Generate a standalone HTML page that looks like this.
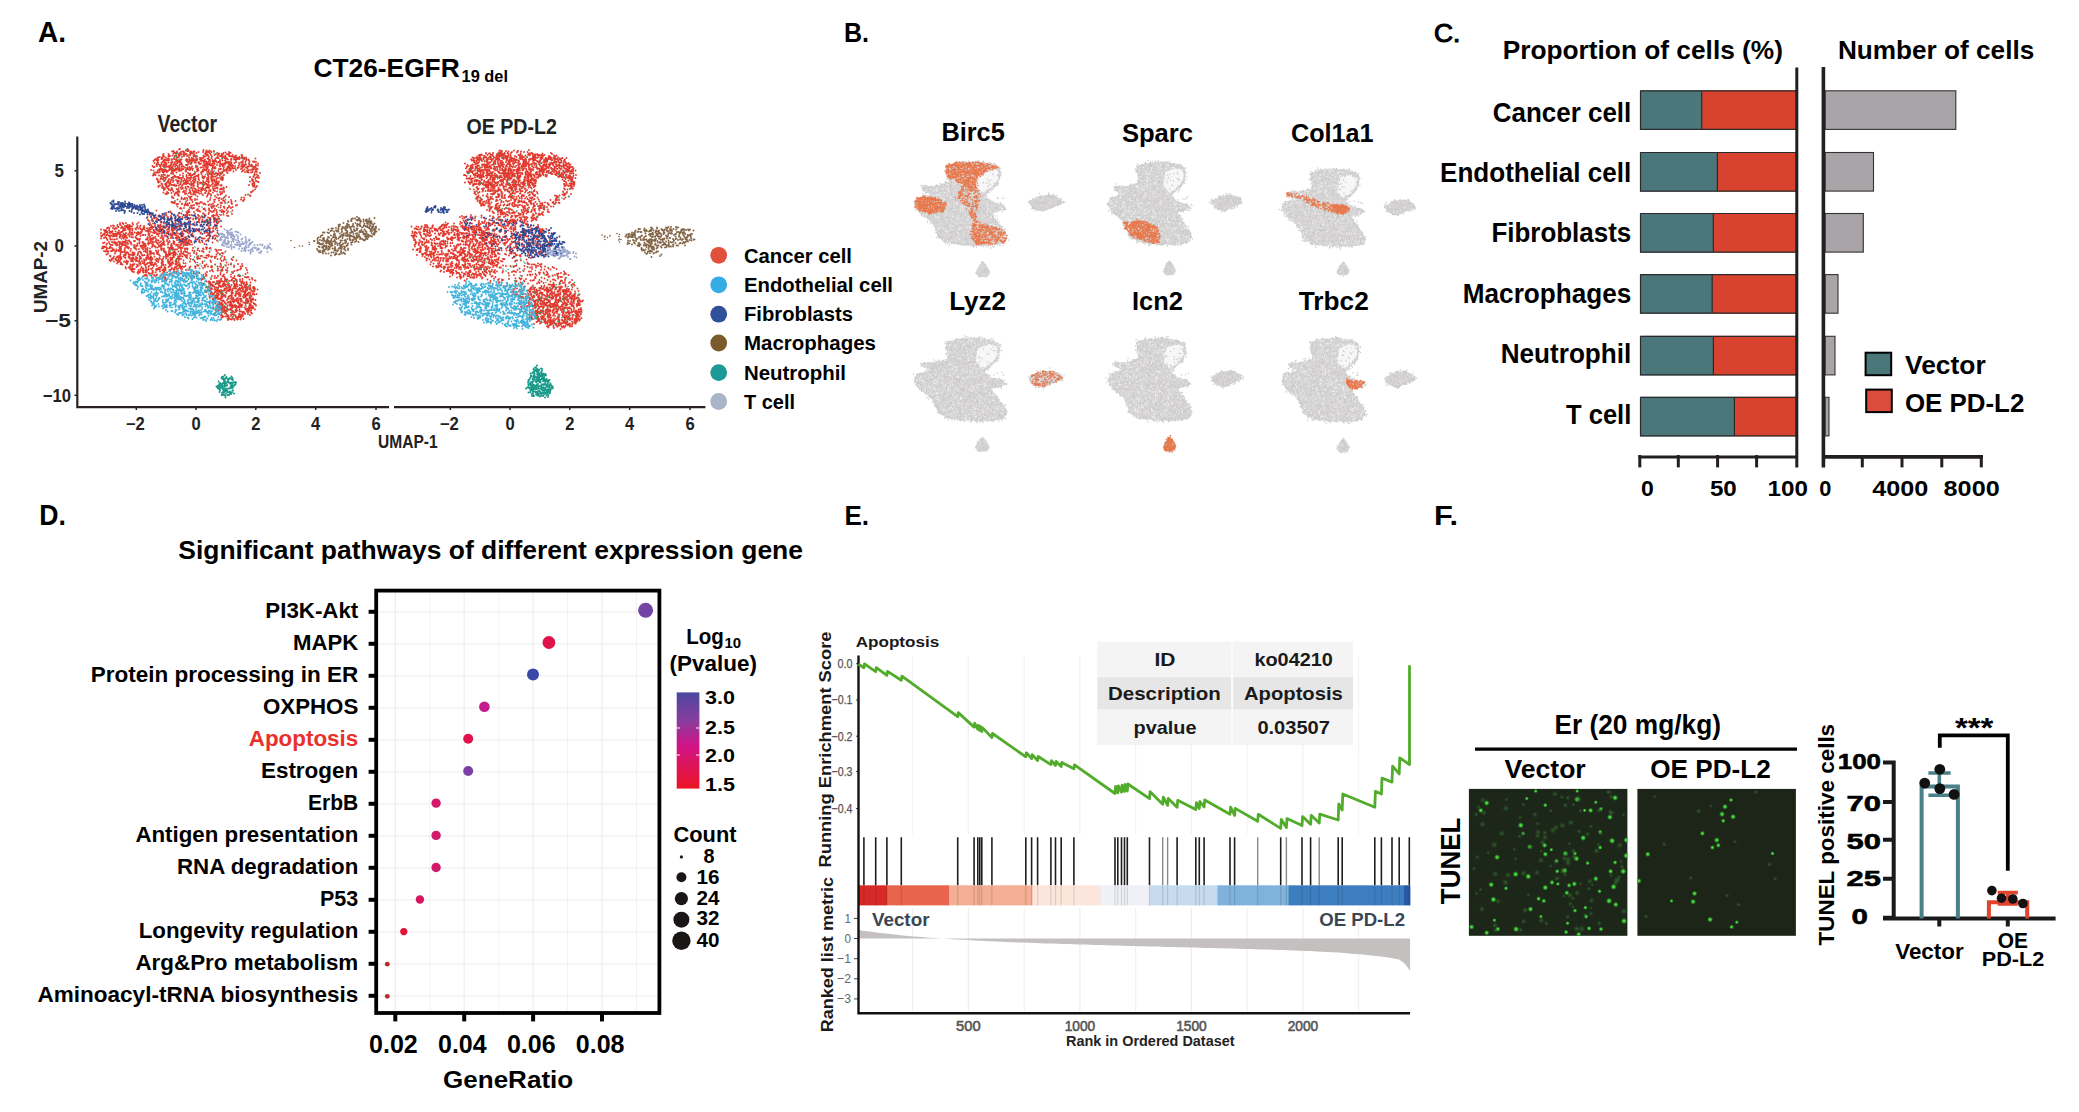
<!DOCTYPE html>
<html><head><meta charset="utf-8"><style>
html,body{margin:0;padding:0;background:#fff;}
svg{display:block;}
text{font-family:"Liberation Sans",sans-serif;}
</style></head><body>
<svg width="2079" height="1112" viewBox="0 0 2079 1112">
<rect width="2079" height="1112" fill="#fff"/>
<text x="38.0" y="42.2" font-size="30.23" font-weight="bold" fill="#000" textLength="28.0" lengthAdjust="spacingAndGlyphs">A.</text>
<text x="313.5" y="77.0" font-size="26.60" font-weight="bold" fill="#000" textLength="146.2" lengthAdjust="spacingAndGlyphs">CT26-EGFR</text>
<text x="461.6" y="81.7" font-size="16.72" font-weight="bold" fill="#000" textLength="46.4" lengthAdjust="spacingAndGlyphs">19 del</text>
<text x="157.5" y="132.3" font-size="23.26" font-weight="bold" fill="#222" textLength="59.5" lengthAdjust="spacingAndGlyphs">Vector</text>
<text x="466.4" y="133.7" font-size="21.80" font-weight="bold" fill="#222" textLength="90.4" lengthAdjust="spacingAndGlyphs">OE PD-L2</text>
<path d="M77.3 136.6V407.2H389M394 407.2H705.4" stroke="#2a2222" stroke-width="2.2" fill="none"/>
<line x1="74.5" y1="170.8" x2="77.3" y2="170.8" stroke="#2a2222" stroke-width="1.5"/>
<text x="54.6" y="177.0" font-size="18.02" font-weight="bold" fill="#222" textLength="9.4" lengthAdjust="spacingAndGlyphs">5</text>
<line x1="74.5" y1="246.0" x2="77.3" y2="246.0" stroke="#2a2222" stroke-width="1.5"/>
<text x="54.6" y="252.2" font-size="18.02" font-weight="bold" fill="#222" textLength="9.4" lengthAdjust="spacingAndGlyphs">0</text>
<line x1="74.5" y1="320.7" x2="77.3" y2="320.7" stroke="#2a2222" stroke-width="1.5"/>
<text x="45.0" y="326.9" font-size="18.02" font-weight="bold" fill="#222" textLength="26.0" lengthAdjust="spacingAndGlyphs">−5</text>
<line x1="74.5" y1="395.3" x2="77.3" y2="395.3" stroke="#2a2222" stroke-width="1.5"/>
<text x="42.7" y="401.5" font-size="18.02" font-weight="bold" fill="#222" textLength="28.3" lengthAdjust="spacingAndGlyphs">−10</text>
<line x1="136.3" y1="407.2" x2="136.3" y2="410.0" stroke="#2a2222" stroke-width="1.5"/>
<text x="125.8" y="430.0" font-size="17.44" font-weight="bold" fill="#222" textLength="19.0" lengthAdjust="spacingAndGlyphs">−2</text>
<line x1="196.0" y1="407.2" x2="196.0" y2="410.0" stroke="#2a2222" stroke-width="1.5"/>
<text x="191.4" y="430.0" font-size="17.44" font-weight="bold" fill="#222" textLength="9.2" lengthAdjust="spacingAndGlyphs">0</text>
<line x1="255.8" y1="407.2" x2="255.8" y2="410.0" stroke="#2a2222" stroke-width="1.5"/>
<text x="251.2" y="430.0" font-size="17.44" font-weight="bold" fill="#222" textLength="9.2" lengthAdjust="spacingAndGlyphs">2</text>
<line x1="315.7" y1="407.2" x2="315.7" y2="410.0" stroke="#2a2222" stroke-width="1.5"/>
<text x="311.1" y="430.0" font-size="17.44" font-weight="bold" fill="#222" textLength="9.2" lengthAdjust="spacingAndGlyphs">4</text>
<line x1="376.0" y1="407.2" x2="376.0" y2="410.0" stroke="#2a2222" stroke-width="1.5"/>
<text x="371.4" y="430.0" font-size="17.44" font-weight="bold" fill="#222" textLength="9.2" lengthAdjust="spacingAndGlyphs">6</text>
<line x1="450.3" y1="407.2" x2="450.3" y2="410.0" stroke="#2a2222" stroke-width="1.5"/>
<text x="439.8" y="430.0" font-size="17.44" font-weight="bold" fill="#222" textLength="19.0" lengthAdjust="spacingAndGlyphs">−2</text>
<line x1="510.0" y1="407.2" x2="510.0" y2="410.0" stroke="#2a2222" stroke-width="1.5"/>
<text x="505.4" y="430.0" font-size="17.44" font-weight="bold" fill="#222" textLength="9.2" lengthAdjust="spacingAndGlyphs">0</text>
<line x1="569.8" y1="407.2" x2="569.8" y2="410.0" stroke="#2a2222" stroke-width="1.5"/>
<text x="565.2" y="430.0" font-size="17.44" font-weight="bold" fill="#222" textLength="9.2" lengthAdjust="spacingAndGlyphs">2</text>
<line x1="629.7" y1="407.2" x2="629.7" y2="410.0" stroke="#2a2222" stroke-width="1.5"/>
<text x="625.1" y="430.0" font-size="17.44" font-weight="bold" fill="#222" textLength="9.2" lengthAdjust="spacingAndGlyphs">4</text>
<line x1="690.0" y1="407.2" x2="690.0" y2="410.0" stroke="#2a2222" stroke-width="1.5"/>
<text x="685.4" y="430.0" font-size="17.44" font-weight="bold" fill="#222" textLength="9.2" lengthAdjust="spacingAndGlyphs">6</text>
<text x="378.0" y="448.0" font-size="18.17" font-weight="bold" fill="#222" textLength="59.6" lengthAdjust="spacingAndGlyphs">UMAP-1</text>
<text transform="translate(46.5 313) rotate(-90)" font-size="17.5" font-weight="bold" fill="#222" textLength="72" lengthAdjust="spacingAndGlyphs">UMAP-2</text>
<path d="M172 151.5h0m1.5-0.5h0m0.5 1h0m1 1h0m1.5-0.5h0m0.5-1h0m2-2h0m1-0.5h0m0.5 3.5h0m0.5-0.5h0m1.5-0.5h0m1 0h0m0.5 0.5h0m0.5 0.5h0m0 0h0m1.5-2h0m1.5 0.5h0m0-2h0m1 1h0m0 1h0m2 0.5h0m1 0.5h0m2-0.5h0m0 1h0m1-1h0m4 0.5h0m4.5 0h0m0.5-2h0m0 0.5h0m2.5 1.5h0m0 0.5h0m0.5-2h0m0.5 2h0m1-1h0m1 1h0m0.5-2h0m1.5 1h0m0.5 0.5h0m2.5-0.5h0m0-0.5h0m11.5 1.5h0m3.5-0.5h0m0.5 1h0m0-0.5h0m-72 5h0m0 1h0m0.5 0h0m0-0.5h0m1.5-1h0m2 0.5h0m0 1.5h0m1-0.5h0m0.5-2h0m0-1.5h0m0.5-1h0m1 2.5h0m1.5 1.5h0m2 0.5h0m0.5-3h0m0-1.5h0m0 2.5h0m1-1h0m0.5 0.5h0m2.5-0.5h0m1-2h0m0.5 4.5h0m0.5-2h0m1.5-2.5h0m0 0.5h0m0 1.5h0m0.5 2.5h0m0 0h0m0 0h0m0-1.5h0m1-3.5h0m0.5 4.5h0m0.5-2.5h0m0 2h0m0.5-0.5h0m0.5-3h0m0.5 0h0m0 1.5h0m0.5-1h0m1 0.5h0m0.5 2.5h0m1.5-3.5h0m0 1.5h0m0.5 1h0m1-1.5h0m1-0.5h0m0.5 5h0m0-5h0m0.5 2h0m1-0.5h0m0 0h0m1 2h0m1-4.5h0m0 1.5h0m0 1h0m1-2h0m0.5 4.5h0m0.5-4.5h0m1 5h0m0-5h0m0.5 3h0m0-0.5h0m0.5 0.5h0m0.5-2h0m0.5 1h0m1 3.5h0m0-2h0m0.5-4h0m0.5 3.5h0m0.5 2.5h0m2.5-1h0m1 0.5h0m1-0.5h0m1 0h0m0.5-2.5h0m0 1.5h0m1.5-0.5h0m0-3h0m0.5 0.5h0m1 1.5h0m1-1h0m0 4h0m0.5-3h0m0.5 3.5h0m0.5-2h0m1-3.5h0m1 1.5h0m0.5 3h0m0.5-1.5h0m2.5-1.5h0m1 3.5h0m0.5-4.5h0m1 4h0m0 0h0m0.5-1.5h0m0.5-3h0m0 2h0m0-1h0m0 1h0m0.5 2.5h0m0.5-4.5h0m0 0.5h0m1 2h0m1 0h0m0.5-2h0m0.5 2.5h0m0 2h0m0-3.5h0m0.5 2.5h0m0.5-3.5h0m0.5 2.5h0m0-3.5h0m1 5h0m0.5-1.5h0m0.5-1h0m0 0.5h0m0 2h0m0 0.5h0m1-0.5h0m0.5-4h0m1 0.5h0m1 1.5h0m0-2h0m0 0.5h0m1 1.5h0m0.5-3h0m0.5 6h0m0.5-2.5h0m0 2.5h0m0.5-2.5h0m0.5-1.5h0m1 2h0m0.5 0.5h0m0.5-1h0m0 1.5h0m0 0.5h0m1-1h0m0.5 0.5h0m0-2.5h0m1 3h0m0 0.5h0m0-1.5h0m1 1.5h0m0.5-0.5h0m0-0.5h0m1 1h0m0-1.5h0m0-0.5h0m2 1h0m0-3h0m0.5 1.5h0m0 0h0m0-1.5h0m1 2.5h0m0 0.5h0m1 0h0m0.5 0h0m0 1h0m1.5-1.5h0m0 0h0m9.5 1h0m-102 2.5h0m1 2h0m0-3h0m1-1h0m1 1h0m0.5 3.5h0m0-3h0m0.5 1h0m0.5 2.5h0m0 0h0m0-1.5h0m0.5-2.5h0m0 0h0m1 5h0m2-2h0m0 1.5h0m1-2.5h0m1 2.5h0m0-4h0m0.5 0.5h0m0.5-1.5h0m0 2h0m0 0.5h0m0-2h0m0.5 3.5h0m1 1.5h0m0-2.5h0m0-2.5h0m0.5 4h0m0-4h0m1.5 0.5h0m0.5 2h0m0.5-2.5h0m1.5 5h0m0.5-2.5h0m0.5 2h0m0-1h0m0-4h0m0 0.5h0m0.5-0.5h0m0.5 0h0m0 2.5h0m1 2.5h0m1-2h0m0-3.5h0m0.5 5h0m1-4h0m0 1.5h0m0 3.5h0m1-4.5h0m0 3h0m0-3.5h0m0.5 1h0m0.5 1.5h0m0.5-0.5h0m0.5-1h0m0.5 0h0m0 4h0m0-3h0m0.5-1h0m0 3.5h0m0-2h0m0-3h0m0.5 1.5h0m0-0.5h0m1 3h0m0-0.5h0m0-3.5h0m0.5 5h0m4-4.5h0m0.5 1h0m0 0h0m0.5 4h0m0.5 0h0m0-5.5h0m0 1.5h0m0.5 1.5h0m0 2h0m0.5-2h0m1-1h0m0-0.5h0m0-1.5h0m0 1h0m1 3h0m0 0.5h0m0.5-4h0m0 4h0m0.5-1.5h0m0-1h0m0 2h0m0.5-2h0m0-1.5h0m1 0.5h0m1-1h0m0.5 1h0m0 2h0m1-2h0m0.5 2h0m1-2h0m0.5-1.5h0m1 4h0m0.5-1h0m0 0.5h0m0.5 1.5h0m0.5-4.5h0m0 4.5h0m0.5-4.5h0m0.5 1.5h0m0 2.5h0m0-3h0m0-1h0m1 1h0m0.5 0h0m0 0h0m1 1.5h0m0-0.5h0m0.5 1.5h0m0-2h0m0-0.5h0m0.5 4.5h0m0-0.5h0m0.5-5h0m0.5 2h0m0.5 2h0m0.5 0h0m0-2h0m1 2h0m0-0.5h0m0.5-0.5h0m1-1.5h0m0 3h0m0.5-4h0m0.5 3h0m0-3h0m0 1.5h0m2 2.5h0m0.5-3h0m0-1h0m0.5 3h0m0.5-0.5h0m0-1.5h0m1 1h0m0 2h0m0.5-4h0m1 1h0m1 4h0m0-2.5h0m1 0h0m0.5-0.5h0m1.5-1h0m0-1h0m0 3h0m0-1h0m1 2h0m1.5-3.5h0m0 4h0m0.5-1h0m0.5 0.5h0m1.5-3.5h0m0 4h0m0 0h0m0 0h0m0-1.5h0m1-1.5h0m0.5 1.5h0m0-1h0m0.5-3h0m1 3h0m0-2.5h0m0.5 4h0m0.5-1.5h0m0 2.5h0m0.5 0.5h0m0-2.5h0m0.5 2.5h0m0.5-2h0m0.5 2h0m0-5h0m0 2h0m0.5 1h0m2.5-3.5h0m0.5 3.5h0m1-3.5h0m0.5 2.5h0m0-1h0m3 2h0m0.5 1.5h0m1.5-2h0m0.5 0h0m0-0.5h0m0.5 2.5h0m1-2h0m0 2h0m0-4h0m2.5 1h0m0 0.5h0m0 2h0m0.5 0.5h0m0.5-4.5h0m0-1h0m2 0.5h0m0.5 3.5h0m0-2.5h0m0 3h0m0.5-2h0m2 3h0m1.5-3h0m1 0.5h0m0.5-0.5h0m1.5 0.5h0m0 2.5h0m0-2.5h0m2 1.5h0m-107 6.5h0m1.5-4h0m1 1h0m0 3.5h0m1-3.5h0m2-1.5h0m0-0.5h0m0.5 1h0m0.5 4.5h0m1.5-1h0m0.5 1h0m0.5-4.5h0m0 3h0m0.5-3.5h0m0 1.5h0m0.5 1.5h0m0 0.5h0m0.5 0.5h0m0.5 1h0m0-1.5h0m0.5 0.5h0m0.5 0h0m0-3.5h0m1-0.5h0m0 1.5h0m0-1h0m0 4h0m0-5h0m0.5 5h0m0 0.5h0m1-0.5h0m0-0.5h0m0 1h0m0-4.5h0m0.5 1h0m0 3.5h0m0.5 0h0m0 0h0m1-4h0m0.5 4.5h0m0 0h0m1-4h0m0 3h0m0-4h0m0.5 2h0m0 1.5h0m0.5-3h0m0.5 1.5h0m0 0.5h0m0.5 0.5h0m0.5 1.5h0m0-1.5h0m0.5 1h0m0-3h0m0.5 3.5h0m0.5-2h0m0 1.5h0m0-4h0m1.5 4h0m0.5-3.5h0m0.5 2h0m0.5 1.5h0m0 0h0m0.5-1h0m1-3h0m0 1h0m0 0.5h0m0.5 2h0m1-1.5h0m0 0h0m0.5-0.5h0m0-2h0m0 3.5h0m0.5 1.5h0m0-1.5h0m1.5 1.5h0m0-4h0m0.5 3h0m0-1h0m0 1h0m1-3h0m0.5 2.5h0m0-2.5h0m1.5 1h0m0.5 3.5h0m0.5-1.5h0m0-4.5h0m0.5 4.5h0m0.5-1.5h0m0.5-0.5h0m0.5 1.5h0m0.5 0.5h0m1-0.5h0m0-2h0m0.5 3h0m0.5-1h0m0.5-1h0m1-1.5h0m0.5 2.5h0m0 1h0m0.5-1.5h0m3-1.5h0m0 0.5h0m0-1h0m0-1h0m1 4h0m0.5-3h0m0.5 2h0m0 1.5h0m0.5 0.5h0m2-3h0m1.5 0h0m1-2h0m0 4.5h0m1-2h0m0-2h0m0.5 4h0m0.5-4.5h0m0 4.5h0m1-5h0m0 2h0m0 3h0m0.5-1h0m0 1h0m0-2h0m0 0.5h0m1-3h0m0 3h0m0-3.5h0m0.5 2h0m0.5 3.5h0m0.5-0.5h0m0.5-5h0m1 0h0m0 0.5h0m0.5-0.5h0m1 4h0m0.5 1.5h0m0-3.5h0m0-1h0m0.5 0h0m0.5-0.5h0m0 2.5h0m1.5 0.5h0m0-1.5h0m0.5 1h0m3.5 1h0m0.5-3.5h0m0.5-0.5h0m0 1.5h0m0.5 2.5h0m0.5 0h0m1-4h0m1 1.5h0m0-0.5h0m0.5 3h0m0-4h0m0.5 2h0m0 3h0m0.5 0.5h0m0.5 0h0m0.5-0.5h0m0.5 0.5h0m0.5-2h0m1-2h0m0 3h0m0 0h0m0.5-2h0m1-1.5h0m0 4.5h0m0.5-2h0m0-1.5h0m0.5 0.5h0m0 0h0m0.5 3h0m0.5-1.5h0m0.5-2.5h0m0.5-1.5h0m0.5 3h0m0.5 0.5h0m0-3h0m0 0.5h0m0.5 2.5h0m1.5-0.5h0m0-2h0m1 4h0m1.5-2h0m1-2h0m0 0h0m0 1.5h0m2.5 1.5h0m0-2.5h0m1 0.5h0m0 1.5h0m0.5-2.5h0m0.5-1h0m0 1.5h0m0 4h0m0.5-4h0m0 0.5h0m0.5-2h0m0.5 1h0m0 3.5h0m1.5-2h0m1 3h0m0.5-2h0m0-2h0m1.5 0h0m0 3.5h0m0-4h0m0.5-1h0m1.5 5h0m0-4h0m0.5 0.5h0m0 3h0m0.5-4h0m0.5 0.5h0m0.5 4h0m0-1h0m0-2.5h0m0.5 2.5h0m0-1h0m1-1h0m0.5 2h0m0.5-2.5h0m0 0.5h0m0.5 3.5h0m0-5h0m0.5 4h0m0.5-1h0m0.5 0.5h0m0.5-3.5h0m-105 10h0m0.5-1.5h0m0 1h0m0.5-1.5h0m1-1h0m0 2.5h0m0.5 0h0m0.5-2.5h0m1 0h0m1 0h0m0 0h0m1 3h0m0-3h0m1-1h0m1 5.5h0m0.5-1.5h0m0-0.5h0m1-3h0m0.5-1h0m0 5.5h0m0.5-4h0m0 2h0m0.5-2.5h0m1 3h0m1-3.5h0m1 0.5h0m0.5-0.5h0m0 4h0m0 1h0m1.5-1h0m2-2h0m1-1.5h0m0.5-0.5h0m0.5 2.5h0m0-1.5h0m0 4.5h0m0-3.5h0m1.5 3h0m0-1h0m0-4.5h0m0.5 5h0m0 0h0m1 1h0m0.5-4.5h0m2.5-1.5h0m1 4h0m3-1.5h0m0 2.5h0m3-4.5h0m0.5 3.5h0m0 1h0m0 0.5h0m1.5-3.5h0m1 2.5h0m0.5-1.5h0m1-0.5h0m0 1.5h0m0.5 1h0m1.5-1h0m0.5-0.5h0m1-0.5h0m0.5 3h0m0.5-4.5h0m0 4h0m0-2.5h0m1.5 2h0m0.5-4.5h0m0 4.5h0m1-0.5h0m0.5-1h0m0 1h0m2.5-3h0m0.5 0h0m0 1h0m0 0.5h0m0.5-2.5h0m0.5 4.5h0m1-4.5h0m0 5.5h0m1.5-0.5h0m2-4.5h0m0.5 2h0m0.5 1.5h0m0.5-4h0m0 5h0m0.5-2.5h0m0-1.5h0m1.5 1.5h0m0.5-2.5h0m0.5 4h0m0 1h0m0.5-1.5h0m0-1.5h0m0 1.5h0m1-1.5h0m0 3h0m0 0.5h0m0-5h0m1 4.5h0m0-3h0m0.5 0.5h0m1 2.5h0m0.5-3.5h0m1 0.5h0m0 2h0m1-1.5h0m0.5-0.5h0m0 0.5h0m0-3h0m1 4.5h0m0.5-2.5h0m1-0.5h0m0 2h0m1.5-1.5h0m0 0h0m0-1h0m1-1h0m0 4.5h0m0.5-0.5h0m3-3h0m0.5 1h0m6-1.5h0m8.5 0h0m3 0.5h0m2 0h0m0.5 0h0m0.5-0.5h0m0.5 1h0m0 0h0m1.5 4.5h0m1-4.5h0m1.5-0.5h0m1 4.5h0m1-2.5h0m0 1.5h0m0-1h0m0.5-2.5h0m1.5 2.5h0m0.5-2.5h0m1 3.5h0m2-2.5h0m0 0h0m-103 6.5h0m0-1h0m1 3.5h0m0-2h0m0.5 2.5h0m0-1h0m1.5 0h0m0.5-2.5h0m1-0.5h0m0 0h0m1.5 1h0m1-1.5h0m0 3h0m0.5 0h0m0.5-2.5h0m0.5-1h0m0 2h0m1-2h0m0.5 5h0m1-1.5h0m0.5 1h0m0 0.5h0m0-2.5h0m0.5-1h0m1.5 3h0m0-1h0m0.5-1h0m0.5-2h0m0.5 1.5h0m1 2.5h0m0.5-4h0m0 2.5h0m2.5-0.5h0m0 0h0m1 1h0m0.5-4h0m0.5 5h0m0-4h0m0 2.5h0m0.5-3.5h0m0.5 4h0m0-3h0m1 0h0m0 0.5h0m0.5 4.5h0m1-4h0m0 2.5h0m0-3.5h0m0 3.5h0m0-1h0m1.5-3h0m0.5 3.5h0m0.5 2h0m0.5-4h0m0 0h0m0 1h0m0.5 3h0m0.5-2h0m0.5 1h0m0.5-2h0m0.5-2h0m0.5 3.5h0m0-1h0m0.5 2.5h0m0-5h0m0.5 2.5h0m1-2.5h0m0 2.5h0m1-1h0m0-1h0m0.5 3.5h0m0.5-4.5h0m0 0h0m1.5 3h0m0 0.5h0m0.5-2h0m0-1.5h0m0 5.5h0m0 0h0m1-0.5h0m0-0.5h0m0.5-2h0m0.5-1.5h0m0 0.5h0m0 1.5h0m2 1.5h0m0.5 0h0m0.5-4.5h0m0 1.5h0m0.5 1h0m1 2.5h0m0.5 0h0m1.5 0.5h0m0.5-5.5h0m0.5 3.5h0m0.5 1.5h0m0-4h0m0.5-0.5h0m1 4.5h0m1.5-1.5h0m0.5-2h0m0-1h0m1 3.5h0m0.5-2.5h0m0 1h0m0-2h0m0 4.5h0m0.5-0.5h0m2-4h0m0-0.5h0m0.5 1h0m0 2h0m0-1h0m0.5 2h0m0-1h0m0.5 0.5h0m0-1h0m0.5 3h0m0.5-3h0m0-0.5h0m1 1.5h0m0-1.5h0m1 3h0m0.5-1h0m0.5-3h0m0 2h0m0.5 1.5h0m1-4h0m1 3.5h0m1.5-3h0m0-1h0m0.5 2h0m1-0.5h0m0-2h0m0.5 3h0m0.5-1h0m0-1h0m27 3.5h0m2-2.5h0m0 1.5h0m1-0.5h0m0 1h0m0.5 0.5h0m0-4.5h0m2 1h0m0 1h0m0.5 2h0m1-4h0m0.5 4.5h0m1 0.5h0m0-4h0m0.5-0.5h0m-100.5 8.5h0m0 1h0m1.5-1.5h0m1.5-2h0m0.5 1h0m0 3h0m0-3.5h0m0.5 2h0m0.5 0.5h0m0.5 2h0m0.5-0.5h0m1 1h0m0-5h0m0.5 1h0m0.5 2h0m0-3.5h0m0.5 0.5h0m0 1.5h0m1 2.5h0m0.5-1.5h0m1-0.5h0m0-0.5h0m0 3.5h0m0.5-4h0m0-1.5h0m1 0h0m1 1.5h0m0 3h0m0.5 0.5h0m1-3.5h0m1.5 0.5h0m0-1h0m1.5 1.5h0m0.5 3h0m0-3.5h0m1-2.5h0m0.5 0h0m0.5 6h0m0-3.5h0m1.5-1h0m0.5-0.5h0m0 3.5h0m1 1.5h0m0.5-3h0m0 2.5h0m0.5-3.5h0m0.5 3h0m0.5-4.5h0m1.5 0.5h0m0.5 4h0m0-1h0m0.5-3.5h0m0.5 0.5h0m0 5h0m1-2.5h0m0-3.5h0m1 4h0m1-3h0m1.5 1h0m0 2.5h0m0.5-4h0m0 4h0m0.5-2.5h0m0.5-0.5h0m0 4h0m1-5h0m0-0.5h0m0 3.5h0m0.5-1h0m0.5 3h0m1 0.5h0m2-5.5h0m0 2.5h0m0.5-1.5h0m0.5 3h0m0.5 0.5h0m1-4.5h0m1 4.5h0m1.5-4.5h0m0 0h0m0 4.5h0m0.5-1.5h0m0.5-1.5h0m0 4h0m1-4.5h0m1-1h0m0 5h0m0.5-1h0m0 0.5h0m0-0.5h0m0.5-3.5h0m0.5 1h0m0-0.5h0m0.5 1.5h0m0 1.5h0m0.5-1h0m0.5-2h0m0.5 4h0m0-1h0m1-2h0m0.5 0.5h0m1.5-1.5h0m1 2h0m0 2h0m1 0h0m0.5-4h0m0.5 1.5h0m0 2.5h0m1-3.5h0m0-2h0m0.5 4.5h0m0.5-2.5h0m0-1.5h0m0.5 4h0m0 1h0m1-4h0m0-1.5h0m2 2.5h0m0.5 3h0m0.5-3h0m0-0.5h0m1.5 4h0m0.5-1.5h0m0.5 1h0m2.5-1.5h0m22.5-2h0m3.5-1.5h0m0 1h0m0 1h0m1-2h0m0 3h0m1-1.5h0m0 1.5h0m0-3.5h0m0 3.5h0m1.5 1h0m1-1.5h0m-93.5 6.5h0m0.5-2.5h0m1.5 4h0m1 0h0m0.5-2h0m0 0.5h0m0.5 1h0m1-0.5h0m0-3h0m2 0.5h0m1-1h0m0 3.5h0m1-3h0m1 1.5h0m1 3.5h0m0.5-1.5h0m1-1h0m1 1h0m0.5-2h0m0 0.5h0m0.5-2.5h0m0 5.5h0m0-1.5h0m0 0.5h0m1-3h0m0.5 1h0m2-3h0m1.5 3h0m1-0.5h0m0-1h0m1 3.5h0m0-1h0m1-2h0m0.5 2.5h0m2.5-0.5h0m0.5-3.5h0m0.5 3h0m0-1.5h0m0.5 1.5h0m0.5 1.5h0m1.5-3.5h0m0.5 4h0m0.5-2.5h0m0 1.5h0m0-2h0m1 1h0m0 1h0m0-2h0m1-1h0m0.5-0.5h0m0 1.5h0m0.5 1h0m1.5 0h0m0-2.5h0m0 0.5h0m0.5 1h0m0.5-1h0m0.5 3h0m1.5-3.5h0m0 1.5h0m0.5-1.5h0m0-0.5h0m0 4h0m1-3.5h0m0 0h0m0.5 5h0m2-2h0m0-2.5h0m0.5 0h0m0 2.5h0m1-2h0m1.5 3h0m0.5-1h0m0.5-2h0m0.5 2.5h0m1-3.5h0m0 1h0m0.5 3.5h0m2-2h0m0.5-2.5h0m1.5 1h0m2 0.5h0m0.5 3h0m2.5-5h0m0 2.5h0m0.5 2.5h0m0-0.5h0m0.5 0h0m0-5h0m0.5 0h0m0.5 4.5h0m0-1.5h0m0.5-2.5h0m1.5 1.5h0m0 1h0m0-1h0m21.5 4h0m2.5-0.5h0m3-2.5h0m0 0.5h0m1.5-1h0m0.5-1h0m2-1h0m0 0h0m-83 8h0m0-1h0m1.5 1.5h0m4 1.5h0m1-4h0m0.5 0h0m2.5 3.5h0m0-1.5h0m2 1.5h0m1.5-1h0m0 1h0m2-1h0m0.5 2h0m1.5-3.5h0m1 1.5h0m0.5 0.5h0m0-1.5h0m0 2.5h0m1-3h0m0.5 3.5h0m3-1h0m0 1h0m0.5-5h0m1.5 4.5h0m0.5-3h0m9.5 0h0m0.5-1h0m2.5 4.5h0m0.5-2h0m0.5-2.5h0m3 4.5h0m1-4h0m0 3.5h0m1.5-2h0m1.5-2.5h0m0.5 3.5h0m0.5 2h0m0.5-2.5h0m2 1h0m1.5 1.5h0m0.5-2h0m1-1.5h0m1.5-1.5h0m3 1.5h0m2 3h0m4.5 1h0m5.5-1.5h0m0.5-2h0m1.5 3h0m0 0.5h0m0.5-0.5h0m0.5-3h0m0.5 2h0m5.5-4h0m0.5 0.5h0m-79 6h0m1 0.5h0m0.5-0.5h0m0 1h0m1.5 0h0m0.5-1h0m1.5 2h0m0 0.5h0m1 2h0m0.5-2.5h0m2-2.5h0m2 2.5h0m0-0.5h0m2.5 2h0m0.5-1h0m0.5-1h0m0.5-2h0m0.5 3.5h0m1-1.5h0m0 1h0m0.5 1h0m0-0.5h0m1.5-2h0m1.5 2.5h0m1.5 0h0m0-3.5h0m1.5 3h0m2-2h0m1 1.5h0m0-1.5h0m1 0.5h0m1 3h0m0.5-3h0m1-1.5h0m1.5 0.5h0m1.5 1.5h0m1-0.5h0m1 1h0m2.5-3h0m0.5 3.5h0m1-0.5h0m1.5 2h0m0.5-2h0m1.5 2.5h0m0-3.5h0m0 2.5h0m1 0h0m0-0.5h0m0 0.5h0m0.5-4h0m2 4h0m1.5-1.5h0m2.5-1.5h0m0.5 2.5h0m0-3h0m1 0.5h0m2 3.5h0m0.5-5.5h0m0.5 1h0m3.5 0h0m0.5 5h0m0-1h0m0.5 0.5h0m2-5h0m0 1.5h0m0-0.5h0m0.5 1.5h0m4 1.5h0m1-0.5h0m-80.5 5.5h0m9.5 2.5h0m4-1.5h0m1 1h0m0.5 0.5h0m8.5-4.5h0m0.5-0.5h0m1 0.5h0m2.5-0.5h0m2.5 4h0m1.5-1h0m0 1.5h0m0.5-2h0m0.5-1h0m0.5 2.5h0m0.5-4.5h0m1.5 0h0m1 1h0m1.5-0.5h0m0 4h0m2.5-2h0m1.5 1h0m0-2h0m1.5 2h0m0.5 0.5h0m3.5-2.5h0m1-0.5h0m0 0.5h0m1 1.5h0m3.5-0.5h0m0-1.5h0m0 0.5h0m0 3.5h0m1.5-1.5h0m1.5-3h0m0 4h0m0.5-0.5h0m1 0h0m0.5-1h0m0.5 0h0m0.5-2h0m1.5 1.5h0m0.5 2h0m3-1.5h0m0.5-3h0m1 4.5h0m0.5-2h0m0.5 1h0m0.5 0h0m0.5 0.5h0m0 1h0m0.5-5h0m0.5 0.5h0m0 3.5h0m2-1.5h0m1-2h0m0.5 3.5h0m3-3.5h0m1.5 2.5h0m0-3.5h0m-85 10h0m2-2.5h0m1.5 1.5h0m0.5-1.5h0m0.5 4h0m1-5h0m1 4.5h0m0.5-2h0m0.5 2h0m1-0.5h0m1.5 1h0m1-3h0m0 0.5h0m3 2h0m0 1h0m0.5-3h0m1 2h0m0.5-3.5h0m0.5 4.5h0m2-4.5h0m0.5 1h0m1 2h0m0.5-0.5h0m3 1h0m0-2h0m0.5 1h0m0 2h0m2.5-4.5h0m0 0.5h0m0 0.5h0m1.5 2h0m2-2h0m0.5-0.5h0m1 2h0m0.5-4h0m0.5 4h0m1.5-3.5h0m0 5.5h0m1-0.5h0m0-1.5h0m2.5-1.5h0m0.5-0.5h0m1 1.5h0m0.5 0.5h0m0-2h0m0-1.5h0m0.5 0.5h0m0 1h0m2 0h0m0.5 3.5h0m0.5-0.5h0m1-3h0m2 3.5h0m1.5-4.5h0m1 4.5h0m1-1h0m1-2.5h0m0.5 0.5h0m0 3h0m0.5-2.5h0m1.5 1.5h0m2-0.5h0m0.5-3.5h0m0.5 0h0m1 2.5h0m0-1.5h0m0.5 2h0m3 1h0m0.5-3.5h0m1 4h0m1 0h0m1.5-2h0m1-0.5h0m0.5-0.5h0m0 2h0m1 2h0m0.5-3.5h0m0 2.5h0m1.5-4.5h0m0 5.5h0m0.5-3.5h0m0-1h0m1.5 2h0m0 1.5h0m1 1h0m1.5-4h0m2.5-0.5h0m3.5 1h0m0-2.5h0m1.5 3h0m3.5-2h0m-112 9h0m0 1.5h0m2.5-1.5h0m1 1h0m2.5-1h0m1.5 2h0m2 0h0m3-2h0m0.5 1.5h0m4-0.5h0m1.5-1.5h0m9.5-2.5h0m1 1h0m1 2h0m1 2h0m0.5-4.5h0m1-0.5h0m0.5 3.5h0m2 0.5h0m1.5-4h0m4 4.5h0m0 0.5h0m0-3.5h0m1 1h0m2.5 1h0m0.5-4h0m1.5 5.5h0m0.5-0.5h0m1.5-4.5h0m0.5-0.5h0m0 4h0m3-2.5h0m0 4h0m1-2h0m1.5 1.5h0m0-0.5h0m1-3.5h0m0.5 0h0m0 2h0m3-3.5h0m0.5 3.5h0m1-2.5h0m0.5 3.5h0m1-4h0m1.5 4.5h0m2-0.5h0m0.5-0.5h0m0.5-3.5h0m1 4.5h0m2-3h0m0.5 3h0m1.5 0.5h0m2-5h0m1.5 3h0m3.5-0.5h0m1-1.5h0m0-0.5h0m0.5-0.5h0m0 3h0m1 2.5h0m1.5-4h0m0.5-1.5h0m0 2h0m1 0.5h0m1-1h0m1.5 0h0m0.5-1.5h0m0 5.5h0m1-2h0m0 1h0m0-0.5h0m0-3.5h0m0.5 1.5h0m1 2h0m0.5 0h0m0.5-2h0m0 1.5h0m0.5-3.5h0m0 0.5h0m0-0.5h0m0 3h0m3.5-1h0m0 0.5h0m0.5-2h0m0.5 4.5h0m0-3.5h0m0-0.5h0m1-0.5h0m1 3h0m0-3h0m0 5h0m0.5-5.5h0m0 1h0m0.5 2.5h0m1-1.5h0m-118 8h0m3 0.5h0m0.5 0.5h0m0.5 0.5h0m1-1h0m1-2h0m0.5 0h0m0.5-0.5h0m1 2.5h0m0.5-2h0m0 0h0m1.5-2h0m2 2h0m0-2.5h0m1 0.5h0m0.5 3h0m1-1h0m1 0.5h0m1-3.5h0m0 1.5h0m1 0.5h0m0.5 3.5h0m1.5-5.5h0m0.5 3h0m1-1.5h0m1 2h0m0 2h0m0-3h0m1 3h0m0.5-2h0m0 0.5h0m0 0.5h0m0.5-3.5h0m0.5 4h0m0-2.5h0m0.5-0.5h0m0.5-1h0m0.5 1.5h0m0.5 0h0m0.5-2h0m0 3.5h0m0.5-2.5h0m0.5 1.5h0m0 1.5h0m0.5-2h0m0.5 3h0m0-2.5h0m0 1.5h0m0.5-3h0m0-0.5h0m1.5 3h0m0-2.5h0m0 0h0m0.5 4h0m0-1.5h0m3-0.5h0m0.5 1h0m1-2h0m0.5-1.5h0m1 2.5h0m1.5-1.5h0m0.5-1.5h0m0 3.5h0m1.5 2h0m0-0.5h0m0-1h0m0.5 0h0m0.5-0.5h0m0.5-1.5h0m0.5-1.5h0m0 1.5h0m0.5 0h0m0 2h0m2.5-1h0m0.5 0h0m1 1.5h0m1-2h0m0-3h0m0 5.5h0m1-1h0m0.5-2.5h0m0.5 0h0m0-0.5h0m0 0.5h0m0.5 1.5h0m0.5-1h0m0-1h0m1 0.5h0m0 0h0m0 3h0m0.5 0.5h0m0.5 0h0m0.5-5h0m1 2h0m0 1.5h0m0.5-0.5h0m0 1h0m0-1.5h0m0.5 2.5h0m0.5 0h0m0.5-5.5h0m0.5 0.5h0m0.5 1.5h0m0 2.5h0m0.5 0.5h0m0-3.5h0m0.5-0.5h0m0 1.5h0m0 1h0m1 2.5h0m0-4.5h0m0 3h0m1-3h0m0.5 3h0m0-0.5h0m0-2.5h0m0.5 3h0m0 0.5h0m0.5 1h0m0-4.5h0m0 3.5h0m1.5-2.5h0m0.5 0.5h0m0.5-1h0m0.5-1.5h0m0.5 4.5h0m0-3.5h0m1 2.5h0m1-2.5h0m0 2h0m0 1h0m2.5-2h0m0 2.5h0m0-3h0m0.5 2h0m0 0h0m0 1h0m0-1.5h0m0.5-0.5h0m0-1h0m1 1h0m0 2h0m1.5-0.5h0m0-1.5h0m1-0.5h0m1 1h0m0.5-2h0m1 0h0m1 3h0m0.5 0h0m0-4h0m1 0.5h0m2.5 3.5h0m0 0.5h0m0.5 0.5h0m1.5-4h0m0.5 1h0m0 0h0m0.5 2.5h0m1.5 0h0m0 0.5h0m1-1.5h0m1-2h0m4.5 3h0m0.5-4.5h0m0.5 4h0m1-0.5h0m1.5 1h0m0.5-0.5h0m4-3h0m0.5-0.5h0m3 4.5h0m0.5 0h0m0.5-5h0m0.5 4h0m1-1h0m0.5-1h0m0-1.5h0m0.5 2.5h0m1 0h0m2.5 0h0m0 2.5h0m0.5 0h0m0 0h0m0-4h0m2-0.5h0m0 2.5h0m0.5-3h0m1 2h0m4-1.5h0m-120 9h0m0-2.5h0m0.5 3.5h0m0.5-0.5h0m1-1.5h0m0.5 0h0m1-1h0m0 1.5h0m0-1.5h0m0.5-2h0m0.5 0h0m0.5 1h0m0.5 2.5h0m0.5-3.5h0m0.5 3h0m0-2h0m1 3h0m0 0h0m1-3.5h0m0 0h0m0 4h0m0.5-4h0m0 1.5h0m0-2h0m0.5 4.5h0m1-0.5h0m0-3.5h0m1-1h0m0 2.5h0m0.5 0h0m0 3h0m0.5-1.5h0m0.5-1h0m0 0.5h0m0-0.5h0m0.5 2h0m0.5-0.5h0m0-1.5h0m0.5 0h0m0-2.5h0m0.5 4h0m0.5-1.5h0m0 2.5h0m0.5-2h0m0 1h0m0.5-3h0m0.5 0.5h0m0.5-0.5h0m0 0.5h0m0.5 1h0m0.5-1.5h0m0.5 2.5h0m0.5 1.5h0m0-4h0m0 3h0m0.5-1h0m0.5-2.5h0m1-0.5h0m0 5h0m0.5-1h0m0.5-1.5h0m0-0.5h0m1 2h0m0.5-1h0m0 2.5h0m0-2.5h0m1 1h0m0-2.5h0m0.5 4h0m0 0h0m1.5-2.5h0m1-0.5h0m0.5 2h0m0 0.5h0m0-4.5h0m1 0.5h0m0.5 2h0m1-1.5h0m0-0.5h0m0 2h0m0.5-0.5h0m0.5 0.5h0m1.5-2h0m1 4.5h0m1-4h0m0 2.5h0m0-2.5h0m1 1.5h0m0.5-2.5h0m0 1h0m1 1h0m0-1h0m1 0.5h0m0.5-1.5h0m0 4h0m0-2.5h0m1-1h0m1 2.5h0m1 0h0m2 0h0m0.5-4h0m1.5 0h0m1 2.5h0m0-1h0m0 2.5h0m0.5 0h0m0-3.5h0m0 2.5h0m0.5 0h0m0.5 2.5h0m0 0h0m1-4.5h0m1 3.5h0m1-3h0m1-0.5h0m0.5 1h0m0-0.5h0m0.5 0h0m0-1h0m0.5 5.5h0m1-4h0m0.5 1.5h0m1-0.5h0m0.5 2h0m0-4.5h0m1 2h0m2-2.5h0m0 5h0m0-3h0m0.5 2.5h0m0-2h0m1-1h0m0.5 0h0m0.5 0h0m0.5 3h0m0-3.5h0m1.5 3.5h0m0 0.5h0m0.5-2.5h0m0.5-1h0m0 0h0m0.5-0.5h0m0 1h0m1-1h0m0 1.5h0m0.5-2h0m1.5 4h0m0.5-2h0m0 1h0m0.5 0.5h0m0.5 1.5h0m0.5-5h0m0 4.5h0m0-1h0m0.5-1.5h0m0-0.5h0m0.5-0.5h0m0 1h0m0.5 0h0m0.5-0.5h0m0 1.5h0m0.5 0h0m0.5-0.5h0m0.5 0.5h0m0-0.5h0m0 1.5h0m0.5-3.5h0m0.5 5h0m1-3.5h0m0 2.5h0m0 0.5h0m2.5-2h0m1 2h0m0.5-5h0m0 2h0m0 1.5h0m0.5 1h0m0-4h0m0 0h0m0.5 4h0m0.5-2h0m2.5 3h0m0-5.5h0m1.5 0.5h0m1 4h0m0-2.5h0m1 3.5h0m0.5-4.5h0m2 3.5h0m0-1h0m0 1h0m0.5-2.5h0m1 2.5h0m2.5-5h0m3 0.5h0m1.5 2h0m0.5-1h0m3.5-1h0m0 1.5h0m2 3h0m0-3.5h0m0.5 0h0m1 2.5h0m0-2h0m1.5 3h0m0-1.5h0m0.5-3h0m1.5 1h0m1-1h0m0.5 5h0m1.5-1h0m1.5 0h0m1.5-3h0m0 4h0m0-3.5h0m0.5 3h0m-117 2.5h0m3-0.5h0m0.5 4.5h0m1-5.5h0m0.5 0.5h0m0.5 1h0m1 1.5h0m0-0.5h0m1.5 2.5h0m1-4h0m0.5 1.5h0m1.5 2.5h0m0-2.5h0m1.5 3h0m0.5-3h0m1 2.5h0m0-2.5h0m1.5 3.5h0m0.5-4h0m0 4h0m1.5-1.5h0m0.5 0.5h0m0.5-5h0m0 0.5h0m0.5 4.5h0m0.5 0.5h0m1-4h0m0 0h0m1 3h0m1-3h0m0 3.5h0m0-4.5h0m1 4.5h0m0.5-4.5h0m0.5 3.5h0m0-1h0m0.5 0.5h0m0 2.5h0m1-0.5h0m0-4.5h0m1 2.5h0m1 0h0m0.5 1h0m1 1h0m0.5 0h0m0.5-5.5h0m1.5 0.5h0m1 3.5h0m1 0h0m1-3h0m1 1h0m0-0.5h0m0.5 1h0m0.5 0h0m1-0.5h0m0.5 2h0m0 1.5h0m0.5-3.5h0m2.5 3.5h0m0-0.5h0m1 0.5h0m2.5-3h0m1-0.5h0m0.5-1.5h0m0 1.5h0m0.5 1h0m0-2.5h0m0.5 4.5h0m1.5-4h0m0 2h0m1 0h0m0-1.5h0m0 3h0m1-2h0m0.5 2.5h0m0.5-2.5h0m0-1.5h0m1-0.5h0m0 4.5h0m1-4h0m1 2h0m0 1.5h0m0-1h0m0.5-1h0m0 3h0m0.5 0.5h0m0.5 0h0m0.5-2.5h0m0.5 0h0m1 2h0m1-4.5h0m0 0h0m0.5 3.5h0m1.5-2h0m0-2h0m0.5 1h0m0 4h0m0.5-2.5h0m0-2.5h0m0.5 4h0m3-1.5h0m0 1h0m0.5-3.5h0m0.5 5.5h0m0.5-0.5h0m0-4h0m1 2.5h0m0 1h0m1.5-4h0m2.5 3h0m0.5 2h0m0.5-1h0m1-4h0m1.5 0.5h0m0 1.5h0m0-2h0m0.5-0.5h0m1.5 0.5h0m0 4.5h0m0.5-5h0m0.5 2h0m0 1.5h0m0.5 1.5h0m0.5-3h0m0.5 0h0m0.5 0h0m0.5 3.5h0m0-2.5h0m0.5 1.5h0m0-1h0m0-2.5h0m0.5 4h0m0-3.5h0m0.5 2h0m1 1h0m0-4.5h0m0 2.5h0m0.5 1h0m0-1h0m0 0.5h0m0-0.5h0m1 0h0m0.5 2h0m0.5-3.5h0m0.5 4h0m0.5-1.5h0m0.5-1h0m0 3h0m1-2.5h0m1 0.5h0m0 1h0m0.5 0h0m4-4.5h0m0 1.5h0m0.5 0.5h0m3 2h0m0.5-1.5h0m0.5 2.5h0m1.5-4.5h0m1 4h0m0.5-3.5h0m1.5 0h0m1.5 2.5h0m1.5-1h0m0.5-0.5h0m1-1h0m0.5-0.5h0m3 0.5h0m0 4h0m2.5-3.5h0m0.5-1h0m1.5 2.5h0m-115 8h0m0.5-1.5h0m0.5-4h0m0.5 5h0m0-1.5h0m0 0.5h0m1 0h0m0.5-0.5h0m1 0.5h0m0.5-2.5h0m0.5 4h0m0-5h0m0 4.5h0m0 0h0m2 0.5h0m0.5-5h0m0.5 3.5h0m0 0.5h0m0 0.5h0m0.5-1h0m0-2h0m1.5 3h0m0-3h0m0.5 4h0m0-4h0m2.5-1.5h0m1 1h0m0.5 1h0m1-0.5h0m2 2h0m0-2h0m0 4h0m0 0h0m0-1.5h0m0-3.5h0m0.5-0.5h0m0.5 4h0m0.5 1h0m0.5-4.5h0m0 2.5h0m0 0h0m0.5-2h0m0-1h0m0.5 1.5h0m0.5-0.5h0m0.5-0.5h0m1 1h0m0-0.5h0m0.5 3.5h0m0-2.5h0m1-0.5h0m0.5 1.5h0m0.5 1h0m0.5-1h0m0.5-3h0m0 0.5h0m0.5 4.5h0m0.5-1h0m2 1.5h0m0-5.5h0m0.5 1h0m2.5 3h0m0-1.5h0m0.5-1h0m0.5 3.5h0m0.5 0h0m0.5-2h0m0.5-1h0m1 0h0m0-2h0m1.5 5.5h0m0.5-5.5h0m1 2.5h0m0 0.5h0m1-1h0m0.5 2.5h0m0-1.5h0m1 1.5h0m0-2.5h0m0 2h0m0.5-4h0m0 1h0m0.5-1h0m0 1.5h0m0.5 1h0m0.5 2h0m0-2.5h0m0 1.5h0m0.5-3h0m0.5 2h0m1 2.5h0m0.5-0.5h0m0.5-4.5h0m0.5 1h0m0-1h0m1-0.5h0m0.5 0h0m0 5.5h0m2-5h0m0 3.5h0m0.5-1.5h0m0-1h0m1 0h0m0.5 1.5h0m1.5 0.5h0m0 1h0m2 0h0m0.5-3.5h0m1 1.5h0m0 1h0m0.5-0.5h0m0.5-0.5h0m0.5-0.5h0m0 1h0m0.5 2h0m0-2h0m0.5-2h0m0 2h0m0.5 2.5h0m0 0h0m0 0h0m0.5-5h0m0.5 1h0m1-1h0m0 5h0m0-5h0m0.5 1.5h0m3.5-0.5h0m0 3h0m1.5 0.5h0m1.5 1h0m0-2.5h0m0 1h0m0-2.5h0m0 4h0m0-0.5h0m0.5-4.5h0m0.5 2h0m0 1.5h0m1 0.5h0m0.5-5h0m0 0.5h0m1 0.5h0m1.5 1.5h0m1-1h0m1 2h0m0-1.5h0m0.5 3h0m1.5-3h0m0 2h0m0.5 1h0m0 0.5h0m0.5-3.5h0m0 2.5h0m1-4h0m0.5 4.5h0m0.5-4.5h0m0.5 2.5h0m1-1.5h0m0.5 4h0m0-4.5h0m0.5-0.5h0m0.5 1.5h0m0.5 3.5h0m0.5-3.5h0m0.5 3.5h0m0 0h0m1-4h0m0-0.5h0m1.5 0.5h0m2 0h0m1 3.5h0m5 0.5h0m5 0h0m1.5-4.5h0m1.5 3.5h0m1 0h0m2.5 1h0m1-0.5h0m-106.5 3h0m1.5 0.5h0m0.5 0h0m0.5 3h0m0-5h0m0.5 1.5h0m1 2.5h0m0-2h0m0.5 0h0m2.5-0.5h0m1 0h0m0.5-0.5h0m1.5-1h0m0 1h0m1 3h0m0.5-2h0m0.5 0h0m0.5-1h0m0-1h0m2 1.5h0m0-0.5h0m0 0.5h0m1.5 0h0m0.5 2h0m0 1.5h0m0.5-2.5h0m0-2.5h0m0 0.5h0m0 0.5h0m1.5 1.5h0m0 0h0m1.5 3h0m0-3h0m0.5-2.5h0m0 2.5h0m0.5-1.5h0m0.5 3.5h0m0.5-1h0m0 1h0m0 0h0m1-2h0m0 0.5h0m1.5 0.5h0m0 1h0m2-3h0m0.5 3.5h0m1.5-2h0m0.5 1h0m0-1h0m0 0.5h0m1.5 1.5h0m0-1.5h0m2-3.5h0m1 5.5h0m0.5-1h0m0-0.5h0m0.5-1.5h0m1.5-0.5h0m1 2h0m0-1h0m1 2.5h0m1-5.5h0m1 2h0m0.5 3.5h0m1-4.5h0m0-1h0m0.5 2.5h0m1 0h0m0.5 1.5h0m0-3.5h0m0 0.5h0m2 1.5h0m0.5-1h0m0 2h0m0 1.5h0m0-3.5h0m1 0.5h0m0 2h0m0.5-0.5h0m0.5 0.5h0m1.5-0.5h0m0.5 1h0m2-3.5h0m0.5 1.5h0m0.5 1.5h0m0.5 0.5h0m0.5-2h0m0.5-1.5h0m0 4h0m0.5 0h0m2-5.5h0m0.5 1h0m2 0h0m0.5 1.5h0m0-1.5h0m0-0.5h0m1 3h0m0.5-1h0m0.5 2.5h0m0-1.5h0m2.5 1.5h0m0 0.5h0m0.5-2h0m0-1h0m0-1h0m0.5 2.5h0m0 2h0m0-6h0m0.5 4h0m0.5 1.5h0m0.5-1h0m1.5-4h0m0 3.5h0m0 0h0m1-1h0m0.5 2.5h0m0-5h0m0 4.5h0m0.5-2.5h0m0 2h0m0.5-1.5h0m0.5 2h0m0-4.5h0m0.5 4h0m1-4h0m1.5 2h0m1.5 2.5h0m1-4h0m0 1.5h0m0 2h0m1 0h0m1.5 0.5h0m0-2h0m1.5-1h0m0-1.5h0m0-0.5h0m1 3h0m1-3h0m0 3h0m0 3h0m0.5-2.5h0m0-3h0m1.5 4h0m1 0h0m2.5-3h0m1.5 2.5h0m0.5-2h0m2 3.5h0m0-1.5h0m1-3h0m2 1h0m2.5 0h0m1.5 1h0m0-2.5h0m3-0.5h0m2.5 6h0m0.5-3h0m6-2.5h0m1 2h0m0-1.5h0m0 4.5h0m0.5-3.5h0m1 2h0m1-3h0m1 4h0m1-4h0m1 3h0m1 0.5h0m2.5-2h0m-116 8.5h0m0.5-4h0m0.5 0h0m0 0.5h0m0 4.5h0m1-2h0m0.5 1h0m1-2h0m0.5 0.5h0m0.5-2h0m1.5 2.5h0m0.5 1h0m0.5-2.5h0m0 2.5h0m1-3.5h0m0.5 0.5h0m0.5 1.5h0m0 1.5h0m0.5-4h0m1 4.5h0m0-2.5h0m0-2h0m1 1h0m0 2h0m0 0h0m0.5-0.5h0m2-2h0m1.5 1h0m0.5-2h0m0 2.5h0m1 2.5h0m0 0h0m2-3.5h0m0.5-1h0m0.5 1h0m0 1.5h0m0-3.5h0m1.5 5.5h0m0-2h0m0 2.5h0m0.5 0h0m0.5 0h0m0-6h0m0.5 4.5h0m0-2h0m0.5 1h0m0.5-3h0m0 2.5h0m1 1.5h0m1.5 0.5h0m0-2.5h0m0-0.5h0m0 1h0m1 0.5h0m0.5-0.5h0m0 3h0m2-1h0m0-4h0m0 3.5h0m0 1h0m0.5-2.5h0m0.5-1h0m0 0h0m1 1.5h0m0.5 2.5h0m1-5.5h0m1 4h0m0.5 1h0m0-5.5h0m1.5 5h0m0-2h0m1 0.5h0m0-2.5h0m0 1.5h0m0.5-2.5h0m0.5 1.5h0m0 0h0m0-1.5h0m0 3.5h0m0-3.5h0m0 3h0m1 0h0m0.5 1.5h0m0.5-2h0m0 2h0m0.5-1h0m0.5-2h0m0.5 3.5h0m0.5-2h0m0.5 1h0m2-2.5h0m1 3h0m1.5-1h0m1 1h0m0.5 1h0m1-2.5h0m0.5-2h0m0 3h0m2 0.5h0m0 1h0m1-1.5h0m0.5-2h0m2-0.5h0m0.5-1h0m0 1.5h0m0-2h0m0 3.5h0m0.5-1.5h0m0.5-2h0m1 1.5h0m0 3h0m0 1h0m0 0h0m2.5-2h0m0 2h0m0-3h0m1 2h0m0.5-1h0m0-0.5h0m0.5 1h0m0.5-3.5h0m0 0h0m0.5 1.5h0m0.5-2h0m0 2h0m1.5-2h0m1 4h0m0 0.5h0m0 0.5h0m0.5-1h0m1-1.5h0m0-1h0m0.5 2.5h0m0.5 1h0m0-2h0m0 1h0m0.5-3h0m0.5 2.5h0m1-2.5h0m0 3h0m1.5-2.5h0m1 4h0m1-5.5h0m0.5 0.5h0m1 1.5h0m0 0h0m0.5 0h0m0-1.5h0m0.5 0.5h0m0 2h0m3.5 1h0m0-3h0m3 3.5h0m3.5-2h0m0.5 1.5h0m0-2.5h0m0.5 1h0m0.5 1h0m1.5 0h0m0.5-2.5h0m1.5 0h0m3 1.5h0m1.5-2h0m0 2.5h0m1.5-3h0m0.5 1.5h0m2 4h0m0.5-4h0m0.5 0.5h0m0 0h0m0.5-0.5h0m2.5 0.5h0m0.5 1h0m1-1.5h0m1.5 2.5h0m3 0h0m1.5-3h0m1.5 4.5h0m1-1.5h0m0-2h0m7 2h0m1 1h0m1-3h0m3 3.5h0m-122.5 1h0m3 2h0m0.5-2h0m0.5 0.5h0m0.5 0h0m1-0.5h0m1 2.5h0m0.5-1.5h0m0 0.5h0m1 1.5h0m0.5 0h0m1.5-3h0m0.5 0h0m1.5 1h0m0.5-0.5h0m0.5 2h0m0.5-1h0m0.5-1.5h0m2 5h0m0.5-2h0m0 0.5h0m1.5 1.5h0m0.5-2h0m0.5-3h0m0 4h0m0.5-1h0m1-0.5h0m1.5-3h0m1 3.5h0m0.5 1.5h0m1-0.5h0m0.5-3.5h0m0.5 1.5h0m0.5-1h0m0 0.5h0m0.5 1.5h0m0-0.5h0m1 3h0m1-4h0m1.5 0.5h0m0-2h0m0.5 3h0m0-2h0m1 3.5h0m0-1.5h0m1.5-0.5h0m0.5-1h0m1 3.5h0m0.5-0.5h0m0-3h0m0.5-0.5h0m1 2h0m0.5-1h0m0-2h0m0.5 3.5h0m1-0.5h0m0-2h0m0 2h0m1 1h0m0 0.5h0m1-1.5h0m0.5-1.5h0m1 1h0m0.5-3h0m0.5 5h0m1-4h0m3.5 4h0m0-3h0m0.5 1.5h0m0-2.5h0m0.5 0.5h0m0.5-1h0m0 2.5h0m0.5 1h0m2 0h0m2.5-3h0m0.5 1.5h0m0 3.5h0m0.5-0.5h0m0.5-4.5h0m0.5 4h0m0-3h0m0 1.5h0m1 1h0m0.5-0.5h0m0-1.5h0m1-1h0m0-1h0m0.5 1.5h0m0 0.5h0m2 3.5h0m0.5-2.5h0m0-1h0m0-2.5h0m0.5 3h0m0.5-1h0m0-1.5h0m0 1h0m0 1.5h0m0.5-0.5h0m0 2.5h0m1.5-4h0m0 3h0m0.5 0.5h0m0.5-2h0m0.5 1.5h0m0.5 1.5h0m1 0.5h0m1-0.5h0m1-3.5h0m0.5 4h0m1.5-3.5h0m0 2.5h0m4.5-4.5h0m0.5 5h0m4-5.5h0m0.5 5.5h0m0.5-4h0m0 4h0m2-1h0m1 0h0m4-4h0m0 1.5h0m2 2.5h0m0.5 0h0m1.5-1h0m1.5 2h0m3 0.5h0m0-5h0m0.5 4h0m0.5 0.5h0m0 0.5h0m3-2.5h0m2.5 2h0m2.5 0h0m0.5-3h0m0.5 3.5h0m0-2.5h0m0.5-3.5h0m2 6h0m2.5-1.5h0m0.5-3h0m2 2h0m2.5 0h0m0-1h0m3 2h0m4-1.5h0m2.5 2.5h0m0.5 0.5h0m1-3h0m0.5 2h0m-117 1h0m0.5 1.5h0m2.5-1h0m1.5 1h0m0-0.5h0m0.5 1.5h0m1 0h0m0.5-1.5h0m0 3h0m0-2.5h0m0.5 3h0m0-1.5h0m1-1h0m0.5 3h0m0.5-3h0m2-2h0m1 5.5h0m1-2.5h0m0 2.5h0m0-2.5h0m0 1.5h0m1.5 0.5h0m0.5-3h0m0 1.5h0m2 0h0m0-2h0m0.5 3.5h0m0.5-3.5h0m0 4h0m0-2h0m2-0.5h0m0 2h0m0-1.5h0m0.5-3h0m0 1.5h0m0.5 3h0m0.5-1h0m0.5-0.5h0m1-2h0m0 1h0m2.5-0.5h0m1.5 3h0m0 0.5h0m0-2h0m0-2.5h0m0.5 4h0m0-0.5h0m2.5 1h0m0.5-3h0m0.5-0.5h0m0 1.5h0m1-1.5h0m0.5 0h0m0.5-1h0m0.5 1.5h0m1 0h0m0 2h0m0-4h0m1.5 0h0m1 2.5h0m1 1.5h0m0.5 0.5h0m0-3h0m0.5 3h0m0-1.5h0m0-3.5h0m0 5h0m0 0h0m0.5-4.5h0m0.5 1.5h0m0-1h0m0 2h0m1.5 2.5h0m2.5-2.5h0m1 0h0m1-1.5h0m0 0.5h0m0.5-1h0m1.5 1.5h0m0 3h0m0-0.5h0m1-2.5h0m0 2h0m0-3h0m0.5 4h0m0-5h0m1 0h0m0.5 4.5h0m0.5-0.5h0m0-2.5h0m0 0h0m1-0.5h0m1.5-1.5h0m1 1.5h0m1 2.5h0m0-3.5h0m0.5 1.5h0m4 1h0m3 0h0m0.5-2.5h0m0 0.5h0m4 3.5h0m2-3.5h0m1 4.5h0m3 0.5h0m3.5-5h0m2-1h0m2 5h0m3-1h0m2-1h0m0-0.5h0m1 2h0m4.5-1h0m0.5-2h0m0 2h0m2.5 2.5h0m0.5-2h0m0.5-1h0m0.5 0.5h0m0 0h0m0.5 0h0m0-2h0m3.5 1.5h0m1 2.5h0m0.5-2h0m0-2.5h0m4.5 4h0m2-5h0m0.5 4h0m2.5-0.5h0m1-0.5h0m2-0.5h0m1-1h0m5-0.5h0m1 2h0m0.5 2.5h0m-109 1h0m5 2.5h0m1.5-0.5h0m0-0.5h0m0.5-0.5h0m0.5 0h0m1 1.5h0m1.5-3h0m0 0.5h0m1.5 0h0m1.5 2h0m0.5-2h0m0 4h0m0.5-4h0m0.5 4h0m1-2.5h0m1 1h0m1.5-1h0m0 0h0m0.5 2.5h0m0-3h0m2.5 3h0m0 0h0m1-1.5h0m1-1.5h0m0.5 4h0m1-5.5h0m0.5 1.5h0m0 2h0m0.5 1h0m1-2.5h0m0.5 2.5h0m0 1h0m1.5-3.5h0m0 0h0m2.5-1h0m1-0.5h0m2 1.5h0m7-1.5h0m1.5 0h0m2.5 2.5h0m4-2h0m3.5 3.5h0m1 1h0m1.5-1.5h0m0-3.5h0m0.5 4h0m2-3h0m1 1.5h0m0.5-3h0m2 6h0m2-0.5h0m1.5 0.5h0m0.5-1h0m0-3h0m0.5 2h0m1.5-3.5h0m0.5 2.5h0m0.5-1h0m0 0.5h0m4.5 3.5h0m1-3h0m2.5 2h0m0 0h0m0.5-2h0m1.5 2h0m1.5-1.5h0m0-0.5h0m2.5-1.5h0m1 4h0m1-2.5h0m0.5 0h0m1-1.5h0m0.5 2.5h0m0.5 1h0m0 0h0m0 1h0m6-4.5h0m0 2.5h0m2-4h0m0 5h0m1 0h0m0.5-2h0m1 3h0m2.5-3.5h0m1 0h0m0 0.5h0m1 0.5h0m0 0h0m5 0.5h0m0.5-3h0m1 3.5h0m1-0.5h0m1 0h0m3.5 1h0m-87.5 2h0m2 0h0m18-0.5h0m17 0.5h0m0.5 3.5h0m0 0.5h0m0.5 0.5h0m4-3h0m2 0h0m0.5 1.5h0m0.5 0.5h0m0-2h0m1 1h0m0 1h0m0.5 1.5h0m0-1h0m1.5 0.5h0m0.5-2.5h0m0.5 0h0m0.5 0h0m1.5 2h0m1-1h0m0.5 0.5h0m0-2.5h0m0 0.5h0m1.5 0h0m0 3h0m0-1.5h0m0.5 0.5h0m0-2.5h0m0-0.5h0m0.5 1h0m0.5 1.5h0m0-1h0m1-1h0m0-2h0m0 0.5h0m0 1h0m1.5 1h0m0.5 2.5h0m1-2.5h0m0 1.5h0m0.5 0.5h0m0 1h0m0.5-3.5h0m0-1.5h0m0.5 5.5h0m0-4h0m0.5 3.5h0m0-3.5h0m0.5-1h0m0-0.5h0m0.5 2.5h0m0.5-2.5h0m0.5 4.5h0m1 0h0m0-3h0m2-0.5h0m1 0h0m0-1h0m1.5 2.5h0m0.5 1.5h0m0-2.5h0m0.5 3.5h0m0-3.5h0m0.5 3.5h0m1 0h0m0.5-1.5h0m0 2h0m0-5h0m0 0.5h0m0.5 4h0m0-3h0m0 3h0m2.5 0.5h0m0.5-4h0m0-1.5h0m1 2.5h0m0.5 1.5h0m1-2.5h0m0-2h0m0.5 3.5h0m0 0.5h0m1 1h0m0-1.5h0m2 2h0m0.5-2h0m0-0.5h0m0.5 2h0m0 0.5h0m2.5-5h0m0.5 5.5h0m0.5-2.5h0m2-3h0m2.5 1h0m0.5 0h0m-53 5h0m0-0.5h0m2 0h0m1.5 2.5h0m2 1.5h0m0.5-2h0m1-1.5h0m1 2h0m0 0.5h0m0-2.5h0m0 5.5h0m0-1.5h0m0.5-1.5h0m1 1h0m0.5-3h0m0.5-1h0m0 1.5h0m0-0.5h0m1.5 0.5h0m0 3h0m0.5-1.5h0m1 3h0m0-1h0m0.5-2.5h0m0.5 3h0m0.5-2h0m0.5-1h0m0 0.5h0m0 2.5h0m0.5-0.5h0m0.5-3.5h0m0.5-1h0m1 0.5h0m0.5 4h0m0-3.5h0m0 0.5h0m1.5-1.5h0m0 0.5h0m0.5 0.5h0m0.5-1h0m0 5h0m0.5 0h0m0.5-2h0m0 2h0m0.5-5h0m0.5 4h0m0-3.5h0m0 2.5h0m0.5 0h0m0.5 0h0m0.5-0.5h0m0-0.5h0m1-2h0m0 4.5h0m1-1h0m0-1.5h0m0.5-1.5h0m0.5 4.5h0m0-1h0m0.5-2.5h0m0 2h0m1-4h0m0.5 5h0m0.5 0.5h0m0-0.5h0m0.5-1.5h0m1-2h0m0.5 1.5h0m0-2.5h0m0.5 3h0m0.5-1h0m0.5 1h0m0-2.5h0m1.5 5h0m0-4.5h0m0 0h0m0.5 3h0m0 1h0m1-0.5h0m0-0.5h0m0-0.5h0m0.5-4h0m0 3h0m1 1h0m0.5 2h0m0-5.5h0m0.5 2.5h0m0-2h0m0-0.5h0m0 0.5h0m0.5 0.5h0m0 1.5h0m1 1.5h0m0-1.5h0m0 1.5h0m1.5-4h0m0 1.5h0m0.5 0.5h0m0 3.5h0m0.5-3.5h0m0 2h0m0.5-3.5h0m0-0.5h0m0 2h0m1 2h0m0 0.5h0m0 0.5h0m0-2.5h0m0.5 1h0m0.5-2h0m1.5 2h0m0-0.5h0m0.5 1h0m0-3h0m0-1h0m0 4h0m0-1.5h0m0-1h0m0.5 2h0m1 1.5h0m1.5-2.5h0m0-0.5h0m0.5-0.5h0m0.5 0h0m0 2h0m0.5 2h0m0.5-2h0m0-0.5h0m2.5 1h0m-52 2.5h0m1 0h0m3 4h0m0 0.5h0m1-4.5h0m0 2h0m1-2h0m0.5 4.5h0m0-2.5h0m0.5-0.5h0m1 1.5h0m0.5-1.5h0m1 2h0m0-3.5h0m0.5 4h0m0-4h0m0.5-0.5h0m0.5 3.5h0m0.5-1.5h0m0 0.5h0m0.5 2.5h0m0-5h0m0.5 4.5h0m0-2.5h0m1-2h0m0 3h0m0-3.5h0m0.5 0h0m0 0.5h0m0 0.5h0m1 0h0m0.5 1.5h0m0-0.5h0m0 4h0m0.5-2h0m0-3h0m0.5 2.5h0m0 1h0m0-4.5h0m0.5 2h0m0 2h0m0 2h0m0.5-3h0m0 2h0m0.5-0.5h0m1.5 0.5h0m0-1h0m0.5 2h0m0-1.5h0m0.5-3h0m0.5 0.5h0m0.5-2h0m2 0h0m0.5 5h0m1.5-0.5h0m0.5-1.5h0m0 2.5h0m0-4h0m0.5-1h0m0 4.5h0m0.5-2.5h0m0.5-0.5h0m2 2.5h0m0.5 0.5h0m0.5-2.5h0m0 1h0m0-3h0m0 1.5h0m0 0.5h0m1.5 0h0m1-0.5h0m0.5 3h0m0-1.5h0m0.5 1h0m0-3h0m1 1.5h0m0 2h0m1-5h0m0 0.5h0m1.5 0h0m0 5h0m0.5-5h0m0.5 3.5h0m0.5-1.5h0m0-2h0m0.5 3.5h0m0-1.5h0m0 3h0m0.5-4h0m0 4h0m0.5-5.5h0m0.5 4h0m0-0.5h0m0.5 0h0m0 0.5h0m0 0.5h0m0.5-0.5h0m0.5 0h0m0-1.5h0m1-0.5h0m0-0.5h0m0.5 4.5h0m0.5-1.5h0m0.5-3h0m0 2h0m0.5 1h0m0.5 1h0m1-5h0m0.5 2h0m0 1h0m0.5-0.5h0m0.5 0h0m0-2.5h0m0-0.5h0m0.5 3.5h0m2-0.5h0m-46.5 3.5h0m2.5 1.5h0m0 0.5h0m1.5-0.5h0m0-1h0m0 4.5h0m1-5h0m0 0h0m0 2h0m0 1.5h0m1 0.5h0m0-3h0m0 0h0m0-1h0m0.5 0h0m1.5 0.5h0m0 1h0m0.5 3h0m0.5-3.5h0m0 3.5h0m0 0.5h0m0.5-3.5h0m1 4h0m0-4h0m0.5 1h0m0 2.5h0m0-2.5h0m0.5-2h0m0.5 0h0m0.5 3h0m0.5-0.5h0m0.5 0.5h0m0-0.5h0m1 1.5h0m0.5 1h0m2-3h0m0.5 2.5h0m0.5-4h0m0.5 3.5h0m0-5h0m0.5 1.5h0m0 4h0m0-4h0m0.5 4h0m0 0h0m1-1.5h0m0 1h0m0.5-3.5h0m0 4h0m0-0.5h0m0 0h0m0.5-3h0m0.5-1h0m0.5 3h0m0.5-1.5h0m0.5 3h0m0-2.5h0m0-2h0m0.5 3h0m0-0.5h0m0.5 1h0m0-0.5h0m0.5-0.5h0m0.5-1h0m1 1h0m0 0h0m0.5 0.5h0m0-2.5h0m0.5 3.5h0m0 0.5h0m0-4.5h0m0.5 0.5h0m0.5 4h0m0-2.5h0m0 2h0m0-2h0m1.5-1.5h0m0.5 1.5h0m0.5 1.5h0m0-2.5h0m0.5 0h0m0.5 2h0m1.5-3.5h0m0 5h0m0.5 0h0m1-5h0m0 5.5h0m1 0h0m0-2.5h0m0 1.5h0m0-0.5h0m0-1.5h0m0.5-1.5h0m0.5 3h0m0-2.5h0m0.5 2.5h0m0-2.5h0m0 4h0m0.5-2.5h0m0.5 0h0m0 1.5h0m1-4h0m0.5-0.5h0m0.5 4h0m0-2h0m0.5-0.5h0m0.5 3h0m0-1h0m0.5-1h0m1-1.5h0m0.5 1h0m2 0.5h0m-46 3h0m3.5 5h0m0.5-0.5h0m2-4h0m0.5 5h0m1-3.5h0m0.5-0.5h0m0 3h0m0-1.5h0m0.5 2.5h0m0-2h0m0.5-2h0m0.5 0h0m0.5 3.5h0m0-3.5h0m0.5 2h0m0.5-3h0m0 5.5h0m0.5-1.5h0m0-3.5h0m0.5 2h0m0 2h0m0.5-4h0m0 0.5h0m0 1h0m0 1h0m0-1h0m0.5 3h0m0-5h0m0 4.5h0m0-4h0m0.5 1h0m0.5 2h0m1 0h0m0 1.5h0m0.5-1h0m0.5-0.5h0m0.5-3h0m1 3.5h0m0.5-2h0m0 3.5h0m2-4h0m1-1h0m0-0.5h0m0 2.5h0m0 0.5h0m1 2h0m0-2.5h0m0-2h0m0 4.5h0m0.5-4h0m0 0h0m0 2h0m0 2h0m0.5-1.5h0m0.5 0h0m0-1h0m1-0.5h0m0.5 1h0m0.5-1.5h0m0 1h0m0.5 1h0m1 1.5h0m0-2.5h0m1 1h0m0.5 0h0m0 0h0m0-0.5h0m0.5-3h0m1 2h0m0 2h0m0-3h0m0 0.5h0m0.5 1h0m0-2.5h0m0.5 1h0m0.5 1.5h0m0.5 1h0m0.5-2.5h0m0 1.5h0m2.5 1.5h0m1-2.5h0m0.5 3.5h0m1.5 0.5h0m0.5-0.5h0m1-1.5h0m0 0.5h0m0 0.5h0m0 0h0m0-1h0m0.5 1.5h0m0-4.5h0m0 1.5h0m0.5 2h0m0.5-2.5h0m0 3h0m0-4h0m0.5 2.5h0m0-1.5h0m0 3h0m0.5 0.5h0m1-1h0m0.5 1h0m0-2.5h0m0.5-3h0m0 5h0m1-4h0m0.5 0h0m0.5 0.5h0m0.5 1h0m-40.5 5h0m0.5-0.5h0m2 1h0m0.5-1.5h0m0 4.5h0m0.5-3.5h0m1-1h0m1.5 2.5h0m0 2h0m0.5-4.5h0m0 0.5h0m0 0.5h0m0.5 1.5h0m0.5-2.5h0m0 2.5h0m1-0.5h0m0.5-1h0m0 1h0m0-1.5h0m0.5 3.5h0m0 0h0m0.5-1h0m0-0.5h0m0-1.5h0m0.5 2.5h0m0.5-2.5h0m0 0.5h0m0.5 0h0m0-1.5h0m0 5h0m1-5h0m1 0h0m1 0h0m0.5-0.5h0m0.5 1h0m0 4.5h0m0.5-4h0m0.5 2h0m0 1.5h0m1-3h0m0.5 3.5h0m0.5-2h0m1.5-0.5h0m0-2h0m1-0.5h0m0 2h0m0.5-1h0m2 3.5h0m0.5-2.5h0m0-2h0m0 1h0m0.5 4h0m0-3h0m1 3.5h0m0.5-3.5h0m1 2h0m0-0.5h0m0.5-1h0m0 0h0m0.5 0.5h0m0.5-0.5h0m1 2h0m0-0.5h0m0.5-4h0m1.5 2h0m0-1.5h0m0.5 0h0m0-0.5h0m0 2.5h0m0.5 2h0m0-3.5h0m0 0h0m0.5 1.5h0m0-0.5h0m1-1h0m0-1h0m0.5 5.5h0m1-4.5h0m0 2h0m1 1h0m3-4h0m-34 6h0m0.5 2.5h0m0-2.5h0m1 1.5h0m0-1h0m1 0.5h0m2 0h0m1.5-0.5h0m0.5 2.5h0m0.5 1.5h0m0.5-4.5h0m0 1h0m0 0.5h0m0.5 1.5h0m0.5 0h0m0.5 0.5h0m1-3h0m0.5 3.5h0m0.5-0.5h0m1-0.5h0m0-2h0m1.5 2.5h0m0 1h0m0.5-5h0m0.5 1h0m0.5 1.5h0m0-1h0m1 2.5h0m0-1h0m0.5 1.5h0m0-2h0m0.5 1.5h0m0-2h0m0.5 0.5h0m0.5-2h0m0.5 1.5h0m1-0.5h0m0 3h0m0.5-2h0m0 0.5h0m0.5-2.5h0m1 1h0m0.5-1.5h0m0.5 4h0" stroke="#e23a2e" stroke-width="1.9" stroke-linecap="round" fill="none"/>
<path d="M166 273h0m3-2h0m1 0.5h0m4.5 0.5h0m3.5 0h0m0 0.5h0m0 0h0m0-2h0m4 2h0m1-0.5h0m1.5 1h0m2.5-0.5h0m0.5-3h0m1 3.5h0m2-3.5h0m0 3.5h0m0.5-2h0m0 1h0m0.5 0h0m0.5-2h0m0 0.5h0m2.5 2.5h0m1.5-2h0m1 1.5h0m0.5 0h0m0.5 0.5h0m0.5-1.5h0m1-3h0m-61 9.5h0m1 0h0m2.5 0h0m0.5-1h0m2.5 1.5h0m1 0h0m1.5-0.5h0m0 0h0m2-3h0m1 0.5h0m1.5 2.5h0m1 0h0m2.5-1.5h0m1 1.5h0m0.5 0h0m1.5 0h0m1 0h0m0.5 1h0m0.5-3.5h0m1-1h0m0 1h0m0-0.5h0m0 3.5h0m1-1.5h0m0 1.5h0m0-1h0m0.5-0.5h0m0.5-2h0m0.5 0.5h0m0 0.5h0m0-3h0m0.5 2h0m2.5 4h0m0-4h0m1 3.5h0m0.5-2h0m0 0h0m0.5-2h0m1 1h0m0.5-1h0m0.5-0.5h0m1 4.5h0m0 0h0m0-5.5h0m0 3h0m0.5 1.5h0m0.5-1h0m1-1h0m0.5 1h0m0.5-3h0m0 3.5h0m0.5 0h0m0.5-4h0m0 5h0m1-4h0m0 2.5h0m1-1h0m0 2h0m1 1h0m0-3.5h0m0 4h0m0-5h0m0 0h0m0.5-0.5h0m1 5.5h0m0-1.5h0m1.5 0.5h0m0.5 0.5h0m0-3h0m0-1.5h0m1.5-0.5h0m1 1h0m0 1h0m0.5 0.5h0m0 1h0m0-3.5h0m0.5 2.5h0m0.5-2.5h0m0 4.5h0m0.5-1.5h0m0-1h0m0.5-1.5h0m1 4.5h0m0.5-3h0m0-0.5h0m0.5 1.5h0m0-0.5h0m0.5-2.5h0m0 3h0m1 2h0m0-2.5h0m0.5-2h0m0 0.5h0m0.5 2.5h0m0-1h0m0-0.5h0m0.5 3h0m0.5-2h0m0-1h0m1 2h0m0-1h0m0.5 0h0m0.5-2.5h0m1.5 4h0m0.5-3h0m0 1.5h0m1-1h0m0.5 2.5h0m0 0.5h0m1.5 0.5h0m1.5-1h0m0-3h0m0.5 0.5h0m0.5 1h0m0 0h0m1 0h0m-73 4h0m3 3h0m0-1h0m0.5-0.5h0m1 2.5h0m0.5-0.5h0m0-1h0m0.5 1.5h0m0-3h0m0.5 0.5h0m1 0h0m0-2.5h0m0 3h0m1-1.5h0m0-0.5h0m0.5-0.5h0m0.5 0h0m1 4h0m0-4.5h0m0.5 4h0m2-3.5h0m2 2.5h0m0-1h0m1 2.5h0m0.5 0h0m0.5 0.5h0m0-5.5h0m0 5.5h0m0-2h0m0.5 1h0m0.5 1.5h0m0.5-4h0m0.5-1h0m1.5 4.5h0m1-2.5h0m0-1.5h0m0 0h0m0.5 1.5h0m0-1.5h0m1 0h0m0-0.5h0m1.5 2h0m0.5-0.5h0m0-1.5h0m0 2.5h0m1-1h0m0.5-2.5h0m0 1.5h0m2-0.5h0m0 2.5h0m3.5-1h0m0-2h0m0.5 1h0m0.5 0.5h0m1 0.5h0m1-1h0m0 3h0m0.5 0h0m0.5-2h0m0 0.5h0m1 2h0m0-4.5h0m0.5 5h0m1.5 0h0m0.5-2.5h0m0.5-2.5h0m1 2h0m0.5-1h0m0-0.5h0m0 2h0m0.5-1.5h0m0 4h0m2.5-1.5h0m0.5-1h0m0.5 3h0m0.5-4.5h0m0 3.5h0m0.5-3h0m1 1h0m0.5 2h0m0.5-3.5h0m0.5 1.5h0m0 0h0m0.5 0h0m0.5 3h0m0.5-1.5h0m0.5-3.5h0m0 0.5h0m1.5 0h0m0.5 0h0m1 1.5h0m0-2h0m0 4.5h0m1-4h0m1 1h0m0 0.5h0m1.5-1h0m0.5 3h0m1 0h0m0 1h0m0-0.5h0m1-2h0m1 0h0m0.5-2.5h0m0.5 0h0m0 2h0m0.5 0.5h0m0 1.5h0m1.5-2h0m0 0h0m1 1.5h0m1 1h0m0.5-3h0m1 3.5h0m0-6h0m1 0.5h0m0 0.5h0m0 2.5h0m1 1h0m0.5 1.5h0m0-6h0m0.5 3.5h0m0.5 0h0m0.5 1h0m1.5 1.5h0m0.5-1.5h0m0 1.5h0m0.5-6h0m0.5 5h0m0.5-2.5h0m0 3h0m1-4h0m-70 5h0m1 0h0m0.5 3.5h0m0.5-2h0m2.5-1.5h0m1 0.5h0m0.5 3.5h0m0 1.5h0m0.5-5h0m0.5 2.5h0m0.5 1h0m1.5 1h0m0.5-4.5h0m0.5 1.5h0m0-2h0m0.5 5h0m0-2h0m1.5-2.5h0m0.5 3.5h0m1.5-0.5h0m0-3h0m0.5 1h0m0.5 2h0m0.5-1.5h0m0.5-2h0m0 1h0m0.5 2.5h0m0 0h0m0.5-0.5h0m0.5 0.5h0m0 1h0m0-0.5h0m1 0h0m1-2h0m0 0h0m0 1.5h0m1 2h0m0.5-2h0m0-1h0m0.5 0.5h0m0.5 0.5h0m0.5-1.5h0m1 2.5h0m0.5-2h0m1 1h0m0.5-2.5h0m1-1.5h0m0.5 1.5h0m0.5 1.5h0m0-2h0m0.5 1h0m0-1.5h0m0 0.5h0m0.5 3.5h0m1 1.5h0m0-1.5h0m2 0h0m1-1h0m0-3h0m0 3.5h0m1.5 1.5h0m0.5-2h0m1.5 0.5h0m0.5-2h0m0.5-1h0m0 4h0m0.5 0h0m1-3.5h0m0-1h0m1 1.5h0m0.5 3.5h0m0.5-3.5h0m0 3.5h0m0-4.5h0m0.5 2.5h0m0 1.5h0m0-4.5h0m0 5.5h0m0.5-6h0m0 4.5h0m1 0.5h0m0.5-4.5h0m0 4.5h0m0.5-2h0m0-2h0m0.5-0.5h0m0 3.5h0m0 2h0m1-1h0m0.5-4h0m0.5 1.5h0m0-1.5h0m0-1h0m0.5 5.5h0m0-1.5h0m0 1.5h0m0-2h0m0-0.5h0m0 2.5h0m0.5-2.5h0m0.5 1.5h0m0 0.5h0m0.5-1h0m0.5-4h0m1.5 1h0m0-0.5h0m1 0.5h0m1 2.5h0m1.5-1.5h0m3-1h0m0 0h0m0.5 1h0m0.5 1h0m0.5 1h0m0 0.5h0m1 1h0m0-3h0m0 1h0m0 0h0m0.5-2h0m0 4h0m0.5 0h0m0.5-2.5h0m0.5 3h0m0-4h0m0.5 0.5h0m0 3.5h0m0.5-5.5h0m0 4.5h0m2.5-0.5h0m0-2h0m0.5 0.5h0m0 1h0m0.5-2.5h0m0 4h0m0-2.5h0m0 2.5h0m0.5-5h0m0.5 2.5h0m0 0.5h0m2 2.5h0m0-6h0m0.5 5h0m1.5-3.5h0m0 0h0m0.5 4h0m1.5 0.5h0m0.5-1h0m0-1.5h0m0 1.5h0m0.5-4h0m0.5 1.5h0m0 0h0m-68.5 4.5h0m0.5 1h0m0-1h0m0.5 1h0m0.5-0.5h0m1.5-0.5h0m2 4h0m1.5-4.5h0m0 4h0m0.5-1h0m0 2.5h0m1.5-2h0m0.5-1h0m0 1h0m0.5 1h0m0.5-4h0m1 5h0m1-1h0m0-2h0m0 1.5h0m1.5-2.5h0m0.5 2h0m0.5-2h0m0.5 3.5h0m0.5-1.5h0m0.5-2h0m0.5 0.5h0m2.5-1.5h0m0.5-0.5h0m0.5 0h0m0.5 5h0m0.5-4h0m1 4h0m1-4h0m0 4h0m0-1.5h0m0.5 0.5h0m0-1h0m0.5 1h0m0.5-2h0m0.5 3h0m0.5-1.5h0m0 1.5h0m0.5-0.5h0m0.5-4.5h0m0.5 3h0m0 0.5h0m0.5 0.5h0m0-1.5h0m1 2.5h0m1-4h0m1 0h0m0 4h0m0.5-1.5h0m1-4h0m0.5 1.5h0m0.5 2h0m0.5 1.5h0m0-2.5h0m1 1.5h0m0-0.5h0m0 0h0m0 0.5h0m0-2.5h0m0.5 1.5h0m0 2h0m0.5-2.5h0m0.5 2h0m0.5 0h0m0 0.5h0m0 0h0m0-2.5h0m0.5-1h0m0 1h0m0 1.5h0m0-0.5h0m0 0.5h0m0.5 0.5h0m1.5 1.5h0m0.5-3.5h0m0 0h0m0.5-1.5h0m0 2h0m0.5-0.5h0m1.5-0.5h0m0.5 2.5h0m0-2.5h0m0.5 1h0m0-2.5h0m0.5 2h0m0 0h0m0.5 2.5h0m0.5 0h0m0.5 0h0m1.5-0.5h0m1-0.5h0m0 1h0m0-3.5h0m0.5 1h0m1-1h0m0 0.5h0m0 2.5h0m0.5-0.5h0m0 2h0m2-4h0m1-1h0m1-1h0m0.5 1.5h0m0.5 3h0m0.5 1.5h0m0-3.5h0m0.5 2.5h0m0-4h0m0.5 1h0m0-2h0m0.5 1h0m0 4h0m0-2.5h0m0.5-2h0m0 3h0m0.5-1h0m0.5 1.5h0m0.5-3.5h0m0 3h0m0.5-2h0m0.5 3h0m1.5-1.5h0m0-1h0m0-0.5h0m0.5 1.5h0m1 1.5h0m0.5 1.5h0m0.5-4.5h0m0-1.5h0m0.5 6h0m0.5-1h0m0-5h0m2.5 3h0m0-2.5h0m2 4.5h0m0-4.5h0m0.5 5h0m1 0h0m1-0.5h0m1-0.5h0m0 0h0m-65 4h0m1-2h0m0.5 0.5h0m0 2.5h0m0.5 1h0m0.5 1h0m0-4.5h0m0.5 4.5h0m1 0.5h0m0.5-5h0m0.5 2h0m0 1.5h0m1-1h0m0.5-1.5h0m0 0h0m0.5-0.5h0m0.5 3h0m1-0.5h0m1-1.5h0m0-1h0m1 0h0m0-0.5h0m3 3.5h0m0.5-1.5h0m0 2.5h0m2.5 0h0m0 0h0m0.5-3h0m0 1.5h0m0.5-1h0m0 1.5h0m1 0h0m0-1.5h0m1 0h0m0-1.5h0m1 4h0m1-4.5h0m0.5 4.5h0m0.5-4h0m0.5 0h0m2-1h0m0.5 3.5h0m0 1.5h0m0.5-4h0m0.5 1.5h0m0.5-1h0m0.5-2h0m0 4.5h0m0.5-3.5h0m0-1h0m0.5 1.5h0m0.5 0.5h0m1-1.5h0m0.5 2h0m0.5 0h0m0.5-1h0m0 1h0m0.5-2.5h0m0 2.5h0m1 1.5h0m0 0h0m0 0h0m0.5-3h0m1 1h0m0 3.5h0m0-5h0m1 2.5h0m0 1.5h0m3-1h0m0.5 1h0m0 1.5h0m1-3.5h0m0-2h0m0 5.5h0m1.5-3.5h0m0-2h0m0 5h0m0.5-3.5h0m0.5 3h0m0.5 1h0m0-2h0m0.5-0.5h0m0.5 1.5h0m0-3.5h0m0.5 2h0m0.5-0.5h0m0-1.5h0m1 3.5h0m0.5-4h0m1-0.5h0m0.5 4.5h0m0.5-3.5h0m0 2.5h0m0 0h0m0.5-1.5h0m0.5 3h0m0-4h0m0.5 2.5h0m0-0.5h0m0.5-2.5h0m2.5 2.5h0m0.5-1h0m0-1.5h0m1 0h0m0.5 2.5h0m0.5 0h0m0.5 0.5h0m0.5 0h0m1.5 1h0m0-3h0m1.5 3h0m1.5 0h0m0-1.5h0m1 2h0m1.5-0.5h0m0 0.5h0m0.5-2h0m0 2h0m1-1.5h0m0 0h0m0.5-2.5h0m0 4h0m0.5-2.5h0m0.5 1h0m1.5 0.5h0m1.5 1h0m-66.5 3h0m1-1.5h0m1 4.5h0m0-5h0m0 1h0m0.5 1.5h0m0 1.5h0m1-0.5h0m0.5-1h0m0.5-0.5h0m2-1.5h0m0.5 2.5h0m3-0.5h0m0.5 0h0m0 0h0m0.5 2.5h0m0.5-4h0m0.5-1.5h0m0 4.5h0m0.5-2.5h0m0.5 1h0m0.5 1h0m0.5 0.5h0m0.5-1.5h0m0 1h0m0-2.5h0m0 2h0m0.5-0.5h0m0 1h0m2.5-1.5h0m0.5 1.5h0m0-3.5h0m0 2.5h0m1-1h0m1 2.5h0m1-3h0m0.5 0h0m1-1h0m0 0h0m1 0h0m0 1.5h0m0 2h0m0-3h0m0.5 1.5h0m2 1h0m1-0.5h0m0 1.5h0m1-0.5h0m0.5-2h0m1.5 2h0m0-1h0m0.5 2h0m0-4h0m0.5 1.5h0m1 2h0m0.5-4h0m0-0.5h0m0.5 0.5h0m0-0.5h0m0 3.5h0m1-2h0m0.5 2h0m1-3h0m1.5 0.5h0m0 4.5h0m0.5-3h0m0-2h0m0.5 2.5h0m0 0h0m0.5 2.5h0m0.5-2.5h0m0.5-2h0m0.5-0.5h0m0 5h0m0.5 0.5h0m1-2.5h0m0.5 0h0m0.5-2.5h0m0 0.5h0m0 0.5h0m0.5-0.5h0m0 0h0m0 1.5h0m0.5 0.5h0m0-0.5h0m0.5 0h0m0 3h0m1-2h0m0-2.5h0m1.5 1h0m0.5 1h0m1-1h0m0-1.5h0m0 2.5h0m1.5-2h0m0.5 4.5h0m0-2h0m0-4h0m0.5 1.5h0m2-0.5h0m1 2.5h0m0.5-2h0m0.5 0.5h0m0-2h0m1 3h0m0-1h0m0 1h0m0.5 2h0m0-1h0m0.5-0.5h0m0 0.5h0m1.5-2h0m0 1.5h0m0.5 1.5h0m0.5 0.5h0m0.5-0.5h0m1-4.5h0m0.5 3h0m0-2h0m0 2h0m0 2.5h0m0.5-4.5h0m2 4h0m0.5-1.5h0m0.5-1.5h0m0 0.5h0m0 2h0m0-2.5h0m1 2.5h0m0.5-4h0m0.5-1h0m0.5 3h0m1.5 0.5h0m0 1h0m-54.5 2.5h0m1.5 1.5h0m4-0.5h0m1 0h0m2.5 1.5h0m0.5-1h0m0-1.5h0m1 0h0m0.5 4h0m1 1h0m1-1.5h0m0-4h0m0 3.5h0m0.5-4h0m0.5 4h0m0.5 0h0m1.5 0h0m0.5 2h0m0.5-5.5h0m0 2.5h0m0.5-3h0m0.5 5h0m0 0.5h0m0-4h0m0 0.5h0m1-1.5h0m0.5 2h0m0 1h0m0.5-2.5h0m0.5 5h0m0 0h0m0-1h0m0.5-3.5h0m0.5 0.5h0m1 0.5h0m0 3.5h0m2-3h0m0 1.5h0m0.5-4h0m0 2h0m1.5 0h0m0 1.5h0m0.5 1.5h0m0.5-0.5h0m0-4h0m0.5 2.5h0m0.5-1h0m0.5 2h0m0 1h0m0.5-3h0m1 1.5h0m0.5-2h0m0.5 2h0m1-2.5h0m0.5 1.5h0m0.5 2h0m0.5-3.5h0m0.5 2.5h0m0-2.5h0m1 4h0m0.5-2.5h0m2-0.5h0m1-1.5h0m0 1h0m1-1h0m0.5 1.5h0m0.5 1h0m0.5 0h0m0.5 1h0m0 0h0m0.5 0h0m0-2h0m0.5-1h0m1 1h0m0.5 1.5h0m0 1.5h0m0.5-3h0m0.5 2h0m0.5-2.5h0m1 3.5h0m1-5.5h0m0 4.5h0m0.5 0h0m0.5 0.5h0m1-1.5h0m0.5-1.5h0m0 4h0m1-6h0m0.5 3h0m0 2h0m0.5-5h0m0 4.5h0m1 1h0m0.5-1.5h0m0-3.5h0m1 3h0m0.5-1h0m-39 4h0m2.5 1.5h0m2.5 0.5h0m0.5 0h0m0.5 1h0m1-3.5h0m2 0.5h0m1 3.5h0m1.5-4h0m0 2.5h0m1-0.5h0m0.5-2h0m1 2.5h0m2.5-2h0m0.5-0.5h0m1 3h0m1 0h0m1.5 2h0m0-2.5h0m0.5 2h0m0-1h0m0.5-1.5h0m0.5-0.5h0m0.5 0.5h0m0.5-0.5h0m0 3.5h0m0-3.5h0m1.5 2h0m0.5 0h0m1-2.5h0m2 4h0m1-1.5h0m0-0.5h0m1 2h0m1-2h0m0.5-3h0m0.5 5.5h0m0-0.5h0m0.5-4.5h0m0 5h0m2.5-1h0m1-2.5h0m1 2.5h0m0.5 0.5h0m1-0.5h0m-15 1.5h0m11 0h0" stroke="#44b4dc" stroke-width="1.9" stroke-linecap="round" fill="none"/>
<path d="M113.5 200.5h0m-3 3h0m0-0.5h0m0.5 0.5h0m0.5 0.5h0m0.5-2.5h0m0 5h0m0-2h0m0.5 0h0m0.5 2.5h0m0-0.5h0m0.5-0.5h0m0-4h0m1 2.5h0m0-0.5h0m1 0.5h0m0.5-0.5h0m1.5 0h0m0.5-2h0m0 2.5h0m0.5-1h0m0.5-1.5h0m0.5 4.5h0m0-1h0m0 0.5h0m1 0h0m0-2.5h0m0 0.5h0m0 2h0m0.5-3h0m0 3h0m0 0h0m0-2h0m0.5 2.5h0m0-2.5h0m0.5 2h0m0 0.5h0m0 0h0m0 0h0m0.5-3.5h0m0 1.5h0m0.5 2.5h0m0-0.5h0m0.5-3h0m0.5 2h0m0.5-0.5h0m0 1.5h0m0.5-2.5h0m0-2.5h0m0.5 2h0m0 2.5h0m0-2.5h0m2 0.5h0m0.5 1h0m0-1h0m0 1.5h0m0-0.5h0m1-0.5h0m0-2h0m0.5 3.5h0m0-1h0m0 0h0m0 2h0m0.5-2.5h0m0-1h0m0.5 3h0m0-1.5h0m0.5-1h0m0 2h0m0 0h0m0-1h0m1.5 1h0m0-2h0m0 1.5h0m1 1.5h0m1-2h0m0.5 1h0m0 0h0m1.5 0.5h0m0.5-1h0m2 1h0m0.5 0h0m0.5-1.5h0m0 1.5h0m0-1.5h0m2 0h0m1 2h0m1-2.5h0m0.5 1h0m-33.5 3h0m1-1.5h0m0.5 2h0m0-1.5h0m0 0h0m0.5-0.5h0m0 0.5h0m0 0h0m1-0.5h0m0.5 1.5h0m1.5 2.5h0m0-2.5h0m0.5 0h0m0.5 0h0m0.5 1h0m0-2h0m0.5 0.5h0m0.5 0.5h0m0 0h0m0.5 2.5h0m0.5-2.5h0m1.5 2h0m0 0h0m0-3.5h0m0.5 1.5h0m1 1.5h0m1-2.5h0m0.5 3h0m0.5 2h0m0.5-1.5h0m2-4h0m0 1h0m1-0.5h0m1 0.5h0m0.5 3h0m2 0h0m0 1h0m0.5-4h0m0 1.5h0m1-1h0m2-0.5h0m0.5-1h0m0.5 0h0m0 2h0m0-1h0m0-0.5h0m1 1h0m0-1h0m0.5-0.5h0m0 6h0m0.5-4h0m0.5 1.5h0m0.5-3.5h0m0.5 2.5h0m1 0h0m0-1.5h0m0 0.5h0m0.5 1h0m0-2h0m0 1h0m0.5 0.5h0m0 2h0m0 1.5h0m0 0h0m0-3h0m0.5 1h0m0-3h0m0 4h0m0.5-2.5h0m0-0.5h0m0 2.5h0m0-1.5h0m0-2h0m1.5 3.5h0m0-0.5h0m0.5 2h0m0.5-5.5h0m0 1h0m0.5 4h0m0-2.5h0m0 2.5h0m0.5-1.5h0m0.5 0h0m0.5 0.5h0m0 1.5h0m0.5 0h0m0.5-3h0m0 2h0m0.5 0.5h0m0-0.5h0m0.5 0.5h0m1 1h0m18.5-1h0m-44 1h0m9.5 0h0m6 1.5h0m2.5-0.5h0m1.5 0h0m3 4h0m0.5-3.5h0m2-0.5h0m1.5-1h0m0 4h0m1.5-3.5h0m0.5 1.5h0m1 1h0m0.5 1h0m1-2h0m3.5 1.5h0m0.5-1h0m0 1h0m1.5 0h0m0 2h0m1.5-4.5h0m0.5 4h0m1-1h0m0.5 1h0m0-2h0m0-2.5h0m3 5.5h0m1.5 0h0m2-1h0m1-4h0m0 4.5h0m2.5-3.5h0m0.5 3h0m0.5-1.5h0m0 1.5h0m0 0h0m3.5-0.5h0m0-4.5h0m1.5 6h0m3-4h0m1.5 2.5h0m2-0.5h0m0.5 2h0m1-1h0m0.5 0.5h0m4-3h0m1.5 0h0m1 1h0m0.5 2h0m6-2h0m2 1h0m1.5-2h0m-57 8.5h0m4.5-3h0m1.5 2h0m1.5-1.5h0m1 0.5h0m1-2h0m0.5 0h0m1.5 0h0m0.5-0.5h0m1 2.5h0m2.5 0h0m0.5-2.5h0m1.5 3h0m0 0.5h0m1-1.5h0m0 3.5h0m0-3.5h0m0.5-1h0m0.5-1.5h0m0 4h0m0.5 1h0m0.5 0h0m0-1.5h0m0.5-2.5h0m0.5 5h0m0.5-5.5h0m1.5 5.5h0m0-3.5h0m0.5 1.5h0m0 2h0m0-2.5h0m3-2.5h0m0 0.5h0m0.5 3.5h0m1-4h0m0.5-0.5h0m0 0.5h0m0 1h0m0.5-2h0m0 5h0m0.5-3.5h0m0-1h0m0 1.5h0m1.5-0.5h0m0.5 1.5h0m0.5 0.5h0m0 1h0m0-1.5h0m0.5 3h0m0.5-6h0m2 5h0m0.5 0.5h0m0-2h0m1.5 1h0m1.5 0h0m0.5 0.5h0m0.5-2h0m1.5 1h0m0.5-1.5h0m2.5 2.5h0m0 0.5h0m0.5 0h0m0.5 0h0m2.5-0.5h0m0.5 0.5h0m0-2.5h0m4.5 2.5h0m0.5-2.5h0m2 2.5h0m1-2h0m1.5-2h0m0 0.5h0m0.5 4h0m0.5-3h0m0.5 1h0m2-3.5h0m0.5 3h0m3.5-3.5h0m2.5 3h0m4.5-1h0m-65.5 6.5h0m1.5 1.5h0m0 0h0m1-2.5h0m3.5 3h0m2-2.5h0m0.5-0.5h0m0 1h0m5 0h0m3-1.5h0m0.5 0h0m1-0.5h0m0-0.5h0m0.5 1h0m0.5 2h0m1-2h0m1 0.5h0m0.5 4h0m1.5-1h0m0 0h0m1-4h0m0.5 2.5h0m1 1h0m0.5-4h0m0 0.5h0m0.5 0.5h0m2 2.5h0m1-2.5h0m1-0.5h0m0 2h0m2.5 2h0m0.5 0h0m0-3h0m0 0h0m0.5-1h0m0 2h0m0.5 1h0m1 2h0m1.5-2h0m1 1.5h0m0.5-1h0m1 2h0m2-6h0m0.5 5h0m1.5-1h0m0.5 1.5h0m1-4.5h0m1 3.5h0m1-3h0m0.5 3h0m1.5-1.5h0m1.5 2.5h0m1 0.5h0m2-0.5h0m0.5-0.5h0m1-5h0m4.5 0.5h0m1.5 0.5h0m1 4.5h0m-57.5 1h0m4 0.5h0m0 0h0m0.5 0h0m0-1h0m0 2h0m3 3.5h0m1-2.5h0m0.5 0.5h0m5.5-1.5h0m5.5 1h0m1-1h0m0.5 3h0m0-2.5h0m3.5-2.5h0m3.5 5.5h0m1-5h0m1-0.5h0m0.5 3.5h0m0.5 1h0m1.5-4h0m0 5h0m1.5-5h0m8 2.5h0m2-2.5h0m2.5-0.5h0m2.5 2.5h0m0.5-1.5h0m0.5 4h0m8.5-1.5h0m-46 3.5h0m6 2h0m2 1h0m1 0.5h0m1.5-2.5h0m2.5 0h0m8.5 3.5h0m0.5-1.5h0m1 0.5h0m1.5-2h0m1-1.5h0m1.5-1h0m2 3.5h0m6.5 0.5h0m4.5-3h0m-26 5h0m19.5 1.5h0" stroke="#2d4a96" stroke-width="1.9" stroke-linecap="round" fill="none"/>
<path d="M224.5 229.5h0m2.5 1h0m3-0.5h0m1.5-1h0m-13 7h0m1.5-2h0m1.5 0h0m0 2.5h0m1 0.5h0m0-3.5h0m1 2h0m0-0.5h0m0.5 0.5h0m0.5 1.5h0m0-2h0m2.5-2.5h0m0.5 3.5h0m0.5-4.5h0m0 0.5h0m0 2h0m0.5-1h0m0.5-0.5h0m0 2h0m0-0.5h0m1.5 0.5h0m0.5 1.5h0m0-3.5h0m0.5 2.5h0m0-1h0m0.5-1.5h0m0.5 3h0m0.5 0.5h0m0-1.5h0m1.5 2h0m1-5h0m1 3.5h0m0.5-3h0m1 4.5h0m0.5-4h0m2 2h0m-22.5 7h0m1.5-1.5h0m1-1h0m0-0.5h0m0-0.5h0m0.5 2h0m0.5-0.5h0m2 2h0m0.5 1h0m0.5-2.5h0m0.5 0h0m0 3h0m0-2h0m0.5-3h0m1-0.5h0m1.5 0.5h0m0 0.5h0m0 2.5h0m0.5 1.5h0m0 0h0m0.5-1h0m0 0.5h0m2-4.5h0m0.5 4.5h0m0-4.5h0m1 2.5h0m0-1h0m0.5 1h0m0.5 1.5h0m0.5-3.5h0m0 1.5h0m2 0.5h0m1 2.5h0m1-2h0m0-2h0m1 3h0m0.5 1h0m2-3h0m1 2.5h0m0-3.5h0m3 3h0m0-4.5h0m0.5 4h0m0-2h0m0 3.5h0m0-0.5h0m1 0.5h0m0 0h0m1.5-2h0m1 0h0m0-1h0m0.5 3.5h0m1 0h0m1.5-1h0m-30.5 3h0m0.5-1.5h0m0 0.5h0m0 1h0m1.5 1h0m0-0.5h0m2-1h0m1-1h0m0 3.5h0m0.5-2.5h0m0.5-1.5h0m0.5 0.5h0m0.5 3.5h0m1.5-1.5h0m1 3.5h0m0-2h0m0-2.5h0m2 2.5h0m1 0.5h0m0.5-3h0m1.5 0.5h0m0.5 0h0m0.5-1.5h0m1.5 1.5h0m0.5 1.5h0m0 0h0m0.5-2h0m0.5 1.5h0m0 0h0m1-2h0m0.5 4.5h0m0.5 0h0m0.5-4.5h0m0.5 0h0m1-0.5h0m0 4.5h0m1 0h0m0-1h0m0.5-0.5h0m0.5-1.5h0m0 2.5h0m2-0.5h0m0.5-2h0m0.5 0h0m0-1h0m0.5-1h0m0.5 1h0m1.5 5h0m1-1.5h0m1.5-2.5h0m0.5 3h0m0-0.5h0m1 0.5h0m1.5-3h0m0.5 3.5h0m1 0.5h0m1-4.5h0m2 1h0m0.5-0.5h0m0-0.5h0m1.5 3.5h0m1-1.5h0m1.5 2h0m1 0h0m0-1h0m0 1h0m0.5-3h0m1 1.5h0m1 1h0m0-4h0m-31 5h0m2.5 2h0m2.5-0.5h0m0.5-0.5h0m1-0.5h0m0 1.5h0m3-0.5h0m2 0.5h0m0 2.5h0m0-3.5h0m0.5 2h0m1.5-2.5h0m0.5 1.5h0m4-1h0m1.5-0.5h0m0.5 3h0m1.5 0.5h0m0.5-2h0m0.5 0.5h0m6 0.5h0m4-2.5h0" stroke="#9aa6cc" stroke-width="1.9" stroke-linecap="round" fill="none"/>
<path d="M353 218.5h0m2 0h0m2-1.5h0m2 1h0m0 1h0m10.5-0.5h0m5-0.5h0m-34.5 6.5h0m3.5-1.5h0m3.5 1h0m0.5 0h0m0.5-2.5h0m0-0.5h0m0.5 0.5h0m2.5-1h0m0.5 0.5h0m0-2h0m1.5 5h0m2.5-1h0m1-3h0m1 4h0m0-3.5h0m0.5-1h0m1 5h0m0.5-4h0m0.5 3.5h0m0-4.5h0m0.5 2.5h0m0.5-1h0m2.5-1.5h0m0 2h0m0.5 3.5h0m0.5-1.5h0m1-3h0m0.5 0.5h0m0.5-1.5h0m0.5 4h0m0-0.5h0m0-3h0m0 1.5h0m0.5 0h0m0.5 2.5h0m0.5-2h0m0.5-0.5h0m0-1.5h0m0 1.5h0m0.5 0.5h0m0.5 1h0m1-2h0m0.5 1h0m0 1.5h0m1.5 1h0m1.5-1h0m-46 6h0m2 1.5h0m1-2.5h0m0.5 2h0m1-2h0m3-0.5h0m0 2.5h0m2-1h0m0 0h0m0.5-0.5h0m0-2h0m0-2h0m1 1h0m2 3h0m1-2h0m0 1.5h0m1-1h0m0 0h0m1.5 1h0m0.5 1h0m0 0.5h0m0-3.5h0m0.5 3.5h0m0.5-2.5h0m0.5 0.5h0m0 3h0m0-6h0m0 2.5h0m0.5-1h0m0 1h0m0.5-2.5h0m1 0h0m0.5 2h0m1 1.5h0m0-1.5h0m0.5 2.5h0m0.5 1h0m0.5-4h0m1-1h0m1 1.5h0m0 2.5h0m0.5 1h0m0.5 0.5h0m0-0.5h0m1.5-2h0m0.5 1.5h0m0-5h0m0.5 3.5h0m0-2.5h0m2.5 5h0m0-5h0m0.5 0h0m1 4h0m0.5-2.5h0m1.5-1h0m1 3h0m1-3.5h0m0.5 0.5h0m1 0.5h0m0.5 0h0m0-1h0m1.5 1.5h0m0 0.5h0m1-3h0m0 1h0m0 2.5h0m0.5 2.5h0m0-1.5h0m0.5 0h0m0.5-0.5h0m0.5-1h0m0-1.5h0m0.5 1.5h0m0.5-2h0m0.5 0.5h0m0 3h0m1 1h0m0.5-2h0m0 2h0m0-1.5h0m0.5-1.5h0m0.5 0h0m0 1h0m0-2h0m3 3h0m-58 6.5h0m1.5-1h0m0.5-2.5h0m1.5 0h0m3 0h0m0.5 4.5h0m1-4h0m2 2.5h0m2.5 0.5h0m0 0.5h0m0.5-2h0m0-3h0m0.5 2h0m0.5 1h0m0.5 2h0m1.5-5h0m1-0.5h0m0.5 0.5h0m1.5 2h0m0.5 2.5h0m1.5-4h0m0-1h0m0 4h0m0-0.5h0m0.5 2h0m1-1h0m0-1h0m0.5-1h0m1.5 2h0m0.5-2.5h0m0 2.5h0m1 0.5h0m0-4.5h0m0 1h0m0.5-0.5h0m0 2h0m0.5 1.5h0m1.5-0.5h0m0 1h0m0.5-1h0m0-2h0m0.5 3.5h0m0.5-4h0m0.5 3.5h0m0-4.5h0m0-0.5h0m0 1.5h0m1.5 4h0m0-4.5h0m0.5 2h0m0.5 2.5h0m2-3h0m0.5 2.5h0m0 0.5h0m0.5-3h0m0 2h0m0.5 1h0m0-3h0m1.5 1.5h0m0 1h0m0-1h0m0.5-2.5h0m0-1h0m1 0.5h0m1.5 0h0m1-0.5h0m0 1h0m0.5 2h0m0.5-0.5h0m0.5-0.5h0m0.5 3h0m0.5-1.5h0m0-4h0m0 4.5h0m0-1h0m1-2.5h0m0 1.5h0m0.5 2.5h0m1-1.5h0m1 1h0m0.5 0h0m1.5 0.5h0m0.5-3h0m0.5 3.5h0m0-5.5h0m1 3.5h0m1-0.5h0m0-1h0m0 0.5h0m0.5 1h0m0-2.5h0m0.5 0.5h0m0.5-1h0m1 0h0m-62.5 9.5h0m0.5 0h0m3-2.5h0m0 1.5h0m0 3h0m0.5-1.5h0m0.5 1.5h0m0-5.5h0m1.5 2.5h0m0.5-3h0m1.5 3.5h0m1-2h0m0.5 1h0m0.5 2h0m0-3h0m0-0.5h0m0.5 2.5h0m1.5 2.5h0m0-1h0m0.5-1.5h0m1 1.5h0m0-2h0m0-1h0m1 2h0m0.5-3.5h0m0.5 5h0m0-1h0m1.5-1h0m0 1.5h0m0.5-3h0m1.5-1.5h0m0 4h0m1.5 0h0m0-0.5h0m0-1h0m0.5-2.5h0m0 3.5h0m0.5-3h0m0.5 4.5h0m0-5h0m0.5 1.5h0m2-0.5h0m1-1.5h0m0.5 0h0m0.5 3.5h0m0 2h0m1.5-2h0m0.5-2.5h0m2 2.5h0m0.5 2.5h0m0.5-2.5h0m0-0.5h0m0.5 1h0m0 1h0m0 0.5h0m1.5-3.5h0m2-1.5h0m0.5 1.5h0m0 1h0m0.5 0h0m0.5 2.5h0m0 0h0m1.5-2.5h0m0 2h0m1-2h0m0-2.5h0m1 1h0m0.5-0.5h0m0 4h0m1-2.5h0m0.5 1.5h0m0-3h0m1.5-0.5h0m0.5 4.5h0m1.5-3h0m0-2h0m1 1.5h0m1.5 0.5h0m1 1h0m1 0.5h0m1-1h0m0.5-1.5h0m0.5-0.5h0m1 1.5h0m1-2h0m-51.5 12h0m1.5-2.5h0m1-3.5h0m0 4h0m0-3h0m1.5 0.5h0m0.5-0.5h0m0.5 3.5h0m0 0h0m0.5-3.5h0m0.5-0.5h0m0 3h0m0.5-0.5h0m0 1h0m0-0.5h0m0 0h0m1-1h0m0.5 0.5h0m1-3h0m0 6h0m0-1.5h0m0 0.5h0m0.5-2h0m0-2.5h0m0.5 4.5h0m1.5-1.5h0m0-3.5h0m0.5 5.5h0m0.5-4h0m0 3h0m1-1h0m0.5-2.5h0m0.5 1h0m0.5 0.5h0m0-2h0m0 2h0m0.5 0h0m0 3h0m2 0h0m0.5-4.5h0m0 4.5h0m0-1.5h0m2.5-2.5h0m0 0.5h0m0-1.5h0m1 5h0m1-5h0m0.5 1.5h0m0 0.5h0m0 3h0m0-1h0m1-2h0m0 1h0m0.5-1.5h0m0.5 1.5h0m0 1h0m1-4h0m0 0.5h0m1 2.5h0m0.5 2.5h0m0.5-1.5h0m1.5-1.5h0m0-0.5h0m1-0.5h0m0.5 3.5h0m0-5h0m3.5 1h0m-33.5 6h0m1 1.5h0m1-1.5h0m0.5 1.5h0m2 0.5h0m0-1.5h0m0.5 2.5h0m0-2.5h0m0.5-2h0m1 1h0m0 0.5h0m0 1h0m1.5 2h0m2-3.5h0m0.5 3.5h0m1-4.5h0m2 3.5h0m2 0h0m1-2h0m0.5 4h0m0 0.5h0m0.5-5.5h0m0.5 1h0m0 2.5h0m0.5 0.5h0m0 0.5h0m1-3h0m0.5-0.5h0m1 4h0m1-0.5h0m1-3h0m0 1h0m0.5-3h0m0.5 4.5h0m1.5-1h0m0.5-3.5h0m0.5 4.5h0m0.5 0.5h0m0.5-3.5h0m2.5-0.5h0m-17 5.5h0" stroke="#846446" stroke-width="1.9" stroke-linecap="round" fill="none"/>
<path d="M225 375h0m-3.5 3h0m0 0h0m0.5-0.5h0m0-0.5h0m0.5 0.5h0m0 1.5h0m0.5-0.5h0m0.5-2h0m0 2.5h0m0.5 2h0m0-0.5h0m0.5-1h0m0 1h0m0-0.5h0m0-0.5h0m1-1.5h0m0.5 0h0m0.5 0.5h0m0-1.5h0m1.5 3.5h0m0-1.5h0m1 0h0m1-0.5h0m0-0.5h0m0.5 0.5h0m1-2h0m0.5 3h0m0.5-1.5h0m0.5 2h0m-16.5 6.5h0m1 0h0m0.5-1h0m0 0.5h0m0.5-4.5h0m0 5h0m1-1.5h0m0 1.5h0m0-2.5h0m0.5 1.5h0m0-2.5h0m0 0.5h0m1 0.5h0m0.5 1.5h0m0.5 1h0m0.5-3h0m0 2h0m0.5-2.5h0m1-0.5h0m0 3.5h0m0-3h0m0-0.5h0m0.5 2.5h0m0 1h0m0.5-2h0m0-1h0m0 2.5h0m0-3.5h0m0-1h0m0.5 2.5h0m0-0.5h0m0 0h0m0 3h0m1-3h0m0.5 2.5h0m0-0.5h0m0-2.5h0m0.5-1h0m0 0h0m0 0.5h0m0.5 0h0m0.5-0.5h0m1 2h0m0-0.5h0m0 0h0m1 0h0m0.5 2.5h0m0 0h0m0.5-3h0m0 1.5h0m0.5 2.5h0m0-1.5h0m0.5-1.5h0m0-1h0m0 3.5h0m1 0.5h0m0-4h0m0.5 3h0m0 0h0m0.5-0.5h0m0.5-3h0m0 2.5h0m0.5-1.5h0m0 1.5h0m0.5-2h0m-19 4.5h0m1 1.5h0m1 0.5h0m0 0h0m0.5-2h0m0 1h0m0 4h0m0-3.5h0m0.5 0h0m0 2h0m0-3h0m1 0h0m1 5.5h0m0-5.5h0m0.5 1.5h0m0 0h0m0.5 3h0m0.5-1h0m0 2h0m0.5-3.5h0m0 0.5h0m0-2.5h0m0.5 4.5h0m0.5-2.5h0m0.5 1h0m0 0h0m0 0h0m0-1.5h0m0.5 1.5h0m0 0.5h0m0-2.5h0m0.5 1h0m0 0h0m1 2.5h0m0-1h0m0.5-2.5h0m0 4h0m1.5-4h0m0 3.5h0m0.5-0.5h0m0.5-4.5h0m0.5 1h0m0.5 4.5h0m0.5 0h0m0.5-4.5h0m0 2.5h0m0.5 0h0m-11.5 4.5h0m1.5 0h0m1-0.5h0m0.5 0.5h0m1 2.5h0m0-1.5h0m0.5-2.5h0m1.5 1.5h0m1.5 0h0m1-1.5h0m0.5-0.5h0m0.5 1h0m3-0.5h0" stroke="#1a9a8a" stroke-width="2.0" stroke-linecap="round" fill="none"/>
<path d="M186.5 149.5h0m30.5 3h0m-47.5 6h0m5-1h0m2-1h0m0-3h0m20 2h0m17.5-2.5h0m8.5 5.5h0m-43.5 1h0m11 3.5h0m53-4h0m6.5 5.5h0m-85 3.5h0m7.5 1h0m25-2.5h0m38.5 2h0m-42 5.5h0m1-2.5h0m11 3h0m5.5-2h0m3.5-1.5h0m1 3h0m5.5-1h0m-58 5.5h0m1.5 3h0m16.5 0h0m39-3.5h0m-41 9.5h0m12 1h0m11-5h0m0.5 1h0m11 2h0m-45.5 6.5h0m19.5 2h0m61.5-0.5h0m-74 6h0m8.5-1h0m6-2.5h0m21.5-1.5h0m12.5 2.5h0m1.5-1.5h0m0.5 3h0m-38 5.5h0m26 1h0m11.5-2.5h0m2-0.5h0m-44.5 8h0m8.5-2.5h0m11-1.5h0m16.5 0.5h0m12.5 4.5h0m-29 4h0m16.5 2h0m1-3.5h0m-24 5h0m10.5 1.5h0m3-0.5h0m-14 26.5h0m-24.5 4h0m2-1h0m5 4.5h0m16.5-2.5h0m17-2h0m9 4.5h0m4-1.5h0m-47.5 6.5h0m13-1.5h0m3 1.5h0m2-2.5h0m4-1h0m5 1.5h0m1 3.5h0m15.5-6h0m1 2.5h0m4.5 2h0m0.5 0.5h0m7-2.5h0m-53.5 6h0m17.5 1h0m0.5-2h0m2.5 1.5h0m1.5 2h0m13.5-1.5h0m6 0.5h0m4 0h0m6-0.5h0m-37 7.5h0m26-2h0m7.5-2h0m0 3h0m6 0.5h0m-39 5h0m10 1.5h0m0.5 0.5h0m6-1h0m22-4.5h0m6 1.5h0m1.5 1h0m2.5 0h0m-54.5 4h0m15 4h0m5.5 0.5h0m7.5-1.5h0m10-2h0m2 2.5h0m6.5-2.5h0m2 0.5h0m-30.5 5.5h0m0.5 1h0m0 3.5h0m1-4h0m1.5 3.5h0m8.5-2h0m8-2h0m22.5-0.5h0m5 4h0m-32.5 2.5h0m1 2.5h0m0.5-3h0m3 0.5h0m24.5 3.5h0m-40.5 2h0m22 1h0m10 1.5h0m4.5 2h0m-27 4h0m5.5-1h0m21.5 1h0m-31 6.5h0m8-1h0m2.5 1h0m1-4h0m3 0.5h0m1 3h0m1.5 5.5h0m1-1.5h0" stroke="#3aa070" stroke-width="1.6" stroke-linecap="round" fill="none"/>
<path d="M493 153h0m5.5-0.5h0m1-2h0m1 2h0m0.5-1.5h0m0.5 1.5h0m0.5-1.5h0m4 0h0m2.5 0.5h0m2.5 1.5h0m1-1h0m2-1.5h0m3 2h0m0.5-0.5h0m0-1h0m0.5 0h0m3 0.5h0m3 0.5h0m3.5 0h0m1.5-2h0m2.5 3h0m19.5 0h0m-78.5 4.5h0m1.5 0.5h0m2 0h0m1-1h0m0.5 1h0m0.5 1h0m0.5-3.5h0m0 2.5h0m1-3h0m0 4h0m0-0.5h0m0.5-2.5h0m0 1h0m0 0h0m1-2.5h0m0 4h0m1-3.5h0m1.5 3h0m0.5-2h0m0.5 0h0m0 1.5h0m0.5-1h0m0.5 0.5h0m0.5-3.5h0m0-0.5h0m0 4h0m1.5-2h0m0.5 3h0m1-4.5h0m0.5 3.5h0m0.5-3.5h0m0.5 3h0m0-0.5h0m0 1.5h0m0.5-2.5h0m0 2.5h0m0 1.5h0m1.5-4.5h0m0.5 4.5h0m0-3h0m1 1.5h0m0.5 0h0m1.5 1.5h0m0-1.5h0m0.5-2h0m0 2.5h0m0.5-4h0m0.5 2.5h0m0.5 2h0m0-3.5h0m0 3.5h0m0.5-4h0m0.5 2h0m0 2h0m0.5-3.5h0m0-1.5h0m0 0h0m0.5 3h0m0-3h0m0.5 0.5h0m0.5 1.5h0m0.5-0.5h0m0.5 0h0m0 3h0m0-2h0m0.5 1h0m0-3h0m0.5 2h0m0 1h0m0.5 2h0m0-4.5h0m0.5 4h0m0-3.5h0m0-0.5h0m0.5-1.5h0m0.5 4h0m0-3.5h0m0.5 2.5h0m0 0h0m0.5 2.5h0m0-2h0m0 0.5h0m0.5 1.5h0m0.5-2.5h0m0 0.5h0m0.5-3.5h0m0 5h0m0.5-1h0m0.5-3h0m0 2h0m1.5 2h0m0.5-2.5h0m0 1.5h0m0 2h0m0-4h0m0.5 2h0m1 1h0m0.5 0.5h0m1 0h0m1 0h0m0.5-2.5h0m1.5 1h0m2-2h0m1 3.5h0m0-3h0m0.5 2h0m0-2h0m0.5-0.5h0m0-1.5h0m0 5.5h0m0.5-1h0m0 0h0m0.5-2h0m0.5-0.5h0m0 1.5h0m0 1.5h0m0-1.5h0m0.5 0h0m1.5 0h0m1.5 1.5h0m0-3h0m1.5 1.5h0m1-2.5h0m1-1h0m0.5 2h0m0.5-2h0m0 1.5h0m2 3.5h0m0.5-5h0m0 1h0m0.5 2.5h0m0-3h0m0 2.5h0m0.5-1h0m0 2h0m0 0h0m0 1h0m1-3h0m0 1.5h0m0.5 0h0m0 2h0m0-0.5h0m0-4h0m0 1.5h0m0-0.5h0m0 0h0m0.5 1.5h0m0-2.5h0m1 0h0m0.5 3.5h0m0-3.5h0m0.5 0h0m0.5 0.5h0m0 0.5h0m0.5 1.5h0m0-2h0m0.5 0h0m1 0.5h0m0.5 3h0m0-0.5h0m0.5-0.5h0m0.5-2.5h0m0 0h0m0.5 1h0m0 2.5h0m0-1h0m0.5 0.5h0m0-0.5h0m0-1h0m0-0.5h0m0-2.5h0m0.5 2.5h0m0-0.5h0m1.5-0.5h0m1 3h0m0.5 0h0m2.5 1h0m0-2h0m0.5-1h0m0.5 2h0m0.5-1.5h0m0.5 1h0m0.5 0.5h0m0.5 0h0m0.5-4h0m1.5 4h0m0.5-0.5h0m0-2h0m0.5 2.5h0m0.5 0.5h0m0.5-2h0m1-1h0m0.5 3.5h0m1-1.5h0m1.5 1h0m2 0h0m1-0.5h0m4 0h0m-101.5 5.5h0m6-4h0m1 1h0m0.5 4h0m0.5 0.5h0m0.5-5h0m0-0.5h0m0.5 2.5h0m0-0.5h0m0.5-1h0m0.5 3.5h0m0-1.5h0m0.5 1.5h0m1-3h0m0.5 2.5h0m0-1h0m0-2.5h0m0 3.5h0m1-4h0m0 3.5h0m1-1h0m0-1.5h0m0-0.5h0m0 0h0m0 2h0m2-2h0m0.5-1h0m0.5 2h0m0 3.5h0m1.5-5h0m0 5h0m0.5 0h0m0.5-3h0m0.5 3h0m1.5-5.5h0m0 6h0m0-4h0m0.5 1.5h0m0 2h0m0-2h0m0.5-2.5h0m0 3.5h0m0-2.5h0m0 4h0m0.5-5.5h0m0.5 4.5h0m0.5-1.5h0m0.5 0h0m0.5-3.5h0m0.5 3.5h0m1-1.5h0m0.5-1h0m0 5h0m1.5-2h0m0 1h0m0.5-2.5h0m1-1h0m0 1h0m0 2h0m0.5-1.5h0m0 2h0m1-4.5h0m1.5 0.5h0m0 3h0m0-3h0m0 3.5h0m0-2h0m0.5 3h0m1-5h0m0.5 3.5h0m0.5-2h0m0.5 2h0m0.5 1h0m0-1h0m0 1.5h0m0.5-3.5h0m0 3h0m0 0.5h0m0-0.5h0m1 0.5h0m0-2h0m1 2h0m2-2.5h0m0.5-2h0m0 1.5h0m0.5-2h0m0 5h0m1-1h0m0.5-3h0m0 0h0m0 3h0m0.5 0.5h0m0-2.5h0m0 3h0m0-2.5h0m0.5 0.5h0m0.5-3h0m0 3h0m0-2h0m0 4.5h0m0.5-0.5h0m1-5h0m0 1.5h0m0.5 0h0m0 0h0m0.5 0.5h0m0.5-0.5h0m0 2.5h0m0.5 1h0m0.5-1h0m0-3.5h0m0 3h0m1-1h0m0-2h0m0.5 1h0m0.5-1.5h0m0 3h0m1.5-2.5h0m0.5 2.5h0m0 2.5h0m0.5-1h0m0.5-2.5h0m0-0.5h0m1 2.5h0m0 1h0m0.5-5.5h0m2 0.5h0m0.5 4h0m0.5-4h0m0 2h0m0 1h0m0.5 1.5h0m0 0h0m0-0.5h0m0.5-3.5h0m0.5 1.5h0m0 1.5h0m0.5 1.5h0m0-1h0m0-1h0m0 2h0m0.5-1h0m0-4h0m0 1h0m0.5 4h0m0-2.5h0m0.5 1.5h0m1.5 1h0m0-2h0m0.5-3h0m0 1.5h0m1-2h0m0 5.5h0m0.5-5h0m0.5-0.5h0m0 0h0m0.5 5h0m1.5-0.5h0m0-2.5h0m0-1.5h0m0 2h0m0.5-1h0m0-1.5h0m0.5 1.5h0m0.5 2.5h0m1-3h0m0.5 3.5h0m0.5 1.5h0m0.5-4h0m1 1h0m1 0h0m0 2h0m0.5-0.5h0m0-3h0m0 0.5h0m0.5 0h0m0 0.5h0m1-2h0m0.5 3.5h0m2 1.5h0m0-2.5h0m0.5-2h0m0.5 4.5h0m0-2h0m0.5-1.5h0m0-1h0m0.5 0.5h0m0-1.5h0m0.5 0.5h0m0 5h0m0-3h0m0.5 2.5h0m0-3.5h0m0.5 1.5h0m0.5-3h0m0 2h0m1 3.5h0m0 0h0m1 0h0m0.5 0h0m0-1.5h0m0-4h0m0.5 5h0m1-4h0m0 3h0m0-2.5h0m0.5 2.5h0m0 0.5h0m0.5-3.5h0m0.5 3.5h0m0-0.5h0m0.5 0.5h0m0.5-1h0m0.5-2.5h0m0 1.5h0m1 0.5h0m0.5 2h0m0-4.5h0m0.5 5h0m0-2.5h0m1.5-1.5h0m0.5 1.5h0m0 3h0m0.5-2.5h0m0.5 2h0m0-5h0m0.5 3h0m0.5-3h0m0.5 3h0m0.5 0h0m0-1.5h0m0 0h0m2 2.5h0m0.5-3h0m0 1.5h0m1-2.5h0m0 2h0m1 1.5h0m0.5 2h0m0.5-1h0m1.5-0.5h0m0-0.5h0m1 1.5h0m0 0h0m1 0h0m-104.5 4h0m0.5-1.5h0m1-0.5h0m0-1.5h0m0 0h0m0.5 1h0m1 3.5h0m0 0h0m0.5 1.5h0m0.5 0h0m0-2.5h0m0.5-1.5h0m0-1h0m0 2h0m0.5 2.5h0m0-1h0m0 1h0m0.5-5h0m0 3.5h0m0.5-1.5h0m0.5-1.5h0m0.5 2h0m0 3h0m2-0.5h0m0-0.5h0m0.5-2h0m0-1.5h0m0 2h0m0.5-1h0m1-1.5h0m0 1.5h0m0.5 3h0m0-1.5h0m0-3.5h0m0 2.5h0m1-2.5h0m0.5 0.5h0m0 3h0m1 1.5h0m0-2.5h0m1 2h0m1 0.5h0m0-3h0m0.5-2h0m0 5h0m0.5-0.5h0m1.5-3.5h0m0 3.5h0m0.5-2.5h0m0 0.5h0m0 1.5h0m0-2h0m0.5-2h0m0 4h0m0.5 0.5h0m0-4h0m0.5 5h0m0-3.5h0m0-1h0m0.5 3.5h0m0-4h0m0.5 4.5h0m0 0h0m0.5-4h0m0 1h0m0 2h0m0-3h0m0 1h0m0.5 3h0m0.5-0.5h0m0.5-3.5h0m0.5-1h0m0 2.5h0m0-1.5h0m0-1h0m0.5 3h0m0.5-1h0m0.5 0.5h0m2 1h0m0.5-2.5h0m0.5 1.5h0m0 0h0m0.5-1h0m0 3.5h0m0-1.5h0m0.5 0h0m0 0h0m1-2h0m0.5 0h0m0 3.5h0m0.5-1.5h0m1-2.5h0m0.5-1h0m0.5 0h0m0.5 4.5h0m0-2h0m0-1h0m0.5-1h0m0-0.5h0m0 1h0m0 0h0m0.5-1.5h0m1 3.5h0m0 1.5h0m0.5-4h0m0.5 4h0m0.5-3h0m0.5 3h0m0.5-0.5h0m1-1.5h0m0.5 2.5h0m0-4.5h0m0 4.5h0m0-0.5h0m0-1.5h0m1-2h0m1 4h0m0.5-2h0m0.5 1.5h0m0.5-3h0m0 0.5h0m0.5 1h0m0 2h0m0-0.5h0m1-0.5h0m0-3.5h0m0.5 4h0m0 0.5h0m1-3h0m0-0.5h0m0.5-0.5h0m0.5 3.5h0m1 0h0m0 0.5h0m0.5-3.5h0m1-1h0m0.5 3.5h0m1 0h0m0 0h0m0 1h0m0.5-2.5h0m0 0h0m0.5 1h0m0-0.5h0m0 2h0m0.5-4h0m0.5 2.5h0m0.5 1.5h0m0-2.5h0m1.5-1.5h0m0.5-1h0m0 3.5h0m0-2.5h0m0 1h0m0.5 3h0m0-4h0m0-1.5h0m0.5 1.5h0m0 3.5h0m0.5-4h0m0 3.5h0m0.5-1h0m0 0h0m0.5-2h0m0-1h0m0.5 1h0m0.5-0.5h0m0 0h0m0.5 2.5h0m0-2.5h0m0.5 4h0m2-3.5h0m0.5 1.5h0m0-2h0m0 3.5h0m0.5-1h0m0.5 0.5h0m0-1h0m0.5 2h0m0.5 0h0m1-4h0m0 3h0m0.5-2.5h0m0.5 4h0m0-1h0m1-2h0m0.5-2.5h0m1.5 2h0m0.5 0h0m0.5 1h0m0 0.5h0m0-0.5h0m0.5 1h0m0.5-0.5h0m1 0h0m0.5 2h0m0 0h0m0-1.5h0m0.5-3.5h0m0.5 4h0m0.5 0h0m0-3h0m0.5 1.5h0m0.5 2h0m0.5-3h0m0 2h0m0-1.5h0m0 2h0m0.5-1h0m0-3h0m0 0.5h0m0 1.5h0m0-1h0m0.5 4.5h0m0-5.5h0m0.5 4.5h0m0-4.5h0m0.5-0.5h0m0 5h0m0 0h0m0.5-1.5h0m0.5-2h0m0 2.5h0m0-2.5h0m0-1.5h0m0 4h0m0.5-4h0m0 4h0m1-2.5h0m0 1h0m0.5 0h0m1 0.5h0m0.5-1.5h0m0 4h0m0.5-4h0m0.5-1.5h0m1 3h0m0.5 0h0m0 1h0m1.5 0h0m0 2h0m0-6h0m0.5 0.5h0m0.5 5h0m0 0h0m0.5-3.5h0m0 0.5h0m0 1.5h0m0.5 1.5h0m0.5-3.5h0m0-0.5h0m0.5 4.5h0m0.5-2.5h0m0.5-2.5h0m0.5 3h0m0-3h0m1.5 1.5h0m0 3.5h0m0.5-3h0m0.5-2h0m0.5 3.5h0m0.5-0.5h0m0.5-0.5h0m0-2.5h0m1.5 0.5h0m0 4h0m0.5-5h0m0-0.5h0m0.5 0.5h0m0 2h0m0.5 1h0m0-3h0m0.5-0.5h0m0.5 0.5h0m0.5 4.5h0m0-1.5h0m0.5 1h0m0.5 1h0m0-4h0m0 4h0m0.5-0.5h0m0.5-2h0m0.5 3h0m0-4.5h0m0.5 2h0m0 2h0m0-1h0m0.5-3h0m1 1h0m0-0.5h0m0.5 0h0m0 4h0m0-4h0m0.5 3.5h0m0.5 0h0m0.5-3.5h0m0 2.5h0m0.5 0h0m0 0.5h0m0.5-1.5h0m2 2h0m-111.5 4.5h0m1 0h0m1.5 1h0m0.5-4.5h0m0 0.5h0m0 0h0m0.5 0h0m0 0.5h0m0.5 1h0m0-0.5h0m1-1.5h0m0 1.5h0m1.5 3h0m0.5-4h0m0.5-0.5h0m1 0.5h0m0.5 1.5h0m1 1.5h0m0.5 0.5h0m0.5-1h0m0-0.5h0m0.5-0.5h0m0.5 2h0m1 0.5h0m0-3h0m0.5-1h0m0 1.5h0m0.5 2h0m0.5-4.5h0m0 4h0m0 1h0m1-1h0m0.5-3.5h0m0 3.5h0m0 2h0m0.5-3h0m0 2h0m0-1.5h0m0-1.5h0m0.5-1.5h0m1 3.5h0m0 1.5h0m0.5-1h0m0 1h0m0.5-4h0m0 2.5h0m0-1.5h0m0 3.5h0m0-3h0m0.5-2h0m0.5 1h0m0 0h0m0 3.5h0m2-1h0m0.5-3h0m0.5 2h0m0 0h0m0-3h0m0 4h0m0.5-3.5h0m0.5 2.5h0m0 1h0m0-2h0m0 1.5h0m1-1.5h0m0 1h0m0.5 0.5h0m0.5-3.5h0m0 4h0m0.5-2.5h0m0.5 3.5h0m0-0.5h0m0.5-2.5h0m0 0.5h0m0 3h0m0.5-1.5h0m0-1.5h0m0-0.5h0m0-1h0m1-0.5h0m1 3.5h0m0.5-1.5h0m0.5-0.5h0m0.5 2.5h0m0 1h0m0.5-0.5h0m0.5-1.5h0m0 1h0m0.5 1h0m0-1.5h0m0.5 0.5h0m0 0h0m1-3.5h0m0-1h0m1 1.5h0m0 3.5h0m0-4h0m0.5 3.5h0m1 0h0m0 1h0m0-3.5h0m1 0h0m0.5-0.5h0m0.5-1h0m0.5 0h0m0 3.5h0m0-2h0m0.5 0.5h0m0 0h0m0 0h0m0-2h0m0.5 4.5h0m0-0.5h0m0 1h0m0.5-6h0m0 1h0m0 4.5h0m0.5-2h0m0-1.5h0m0.5 1.5h0m0.5 2h0m0.5-3.5h0m0.5 1.5h0m0 1h0m0.5-2.5h0m0 2.5h0m0.5 1h0m0-0.5h0m0-1h0m0-1.5h0m0-2h0m0.5 5h0m0-3h0m0.5 0h0m0 1.5h0m1-2h0m0 0.5h0m0.5-2h0m0.5 4h0m0-2.5h0m0.5 3h0m0.5-2h0m0.5 0h0m0 2h0m0-0.5h0m0-3.5h0m0 2h0m0 1.5h0m0 1h0m0 0h0m1-2h0m0 0.5h0m1-1.5h0m0 3h0m0-0.5h0m0 0h0m1.5-4.5h0m0.5 1h0m0 4.5h0m0-3.5h0m0.5 1.5h0m0 0h0m0-2h0m0.5 0.5h0m0-2h0m0 0.5h0m0.5 4h0m1 0h0m0-3h0m1 2h0m0 1.5h0m0.5-3.5h0m1 0h0m0 0.5h0m0.5 0.5h0m3 2.5h0m0-4h0m0 2h0m0-2.5h0m0.5 1h0m0 1.5h0m0 0h0m1-2.5h0m0 2.5h0m0.5-3h0m0 5h0m0.5-4h0m0-0.5h0m0.5 1.5h0m0 2h0m0-0.5h0m0-0.5h0m0 0.5h0m0.5-1h0m0.5 1.5h0m0-1.5h0m0.5-1h0m0 0h0m0 1.5h0m0.5 2h0m0-4.5h0m0 1h0m0-1h0m0.5-0.5h0m0 2.5h0m0 1h0m0.5 2h0m0-1h0m1.5-1.5h0m1 1h0m0.5 1.5h0m0-1h0m0-0.5h0m0 1h0m0 0h0m1-3h0m0.5-1h0m0.5 2h0m0.5-1.5h0m0 1h0m0-2h0m1.5 3h0m0 0.5h0m0.5-3.5h0m0.5 4h0m0-0.5h0m0-2h0m0.5 0.5h0m0.5 2h0m0-5h0m0.5 0.5h0m0 4h0m1-4h0m0.5 2h0m0 0.5h0m0-1.5h0m0.5 1h0m0-1h0m0.5 2.5h0m0.5-3h0m1.5 4h0m1-3.5h0m0-1h0m0 5h0m0.5-5.5h0m0 4h0m1-3.5h0m0.5 0.5h0m0 1h0m0-2h0m1.5 2h0m0.5-0.5h0m0.5 0.5h0m0.5 1h0m0.5-2.5h0m0.5 2.5h0m1-2.5h0m0.5 0.5h0m1 2h0m0.5 0.5h0m0.5-0.5h0m0 1h0m0.5-2h0m0 2h0m0.5-3h0m0 0h0m1 4.5h0m0-3h0m1-1.5h0m0 1.5h0m0-1h0m0.5 1.5h0m0 1.5h0m0-3.5h0m0 0.5h0m1 3.5h0m0.5-1.5h0m0 1.5h0m1-2h0m0 0.5h0m0-1.5h0m1 2.5h0m0-0.5h0m0.5-3.5h0m0 0h0m0.5 0h0m0 2h0m0-0.5h0m1-0.5h0m1 3h0m0-0.5h0m0.5 1.5h0m0-5h0m0 5h0m0-2h0m1-2.5h0m1 4h0m0-4.5h0m0.5 4h0m0-4.5h0m0.5 0h0m0 6h0m0.5-3.5h0m0 3.5h0m0-5.5h0m0 4h0m0.5 1h0m1-5h0m0 1.5h0m0 0.5h0m1.5-2h0m0 5.5h0m0.5-3.5h0m0 2h0m2.5-0.5h0m-111 7.5h0m1.5-4h0m1 0h0m1 3h0m0.5 1h0m0-4h0m1 0h0m0-0.5h0m0.5 1h0m0.5 3.5h0m0-3h0m0 2.5h0m1 0.5h0m0-4h0m0 2.5h0m1-2.5h0m1.5 2h0m0 1h0m0.5-4h0m0.5 2.5h0m0 0h0m1 1.5h0m0.5-0.5h0m0-1h0m0.5-3h0m0.5 3.5h0m1.5 2h0m0-0.5h0m0-0.5h0m0-0.5h0m0-3h0m0 0h0m0 3h0m0.5 0.5h0m1-3.5h0m0.5 2h0m0-0.5h0m0.5 0h0m2 2.5h0m0-0.5h0m0.5-1h0m1.5 2h0m0-0.5h0m0.5-4h0m0.5-0.5h0m0.5 4.5h0m0.5-1h0m0.5-1h0m0 3h0m0 0h0m0-2h0m1 1.5h0m0.5-4h0m0.5 1h0m0 3h0m0-5h0m2 4h0m0-4h0m0 4.5h0m0-2.5h0m0.5-0.5h0m0-0.5h0m0.5 2h0m0.5-3h0m0 2.5h0m0.5-0.5h0m0 2.5h0m0.5-3h0m0.5 3.5h0m0.5 0.5h0m1-0.5h0m0.5 0h0m0.5-5h0m0.5 4.5h0m1-4h0m0.5 2.5h0m1-0.5h0m0 1.5h0m0-1.5h0m0.5 1h0m0.5-3.5h0m0 2.5h0m0.5 0h0m0 0.5h0m0.5 1h0m0-1h0m0.5-1h0m0.5-1h0m0.5-0.5h0m0.5 1h0m1-2h0m0.5 4h0m0.5-1h0m0 0.5h0m0 0h0m0.5 2h0m0 0h0m0-2h0m0-1.5h0m0 3.5h0m0.5-5h0m0 0.5h0m0.5 0h0m1 1.5h0m0.5-2h0m0 2h0m1-2h0m0.5 1h0m0-0.5h0m0.5 4.5h0m0.5-1h0m0.5 0.5h0m0.5 0.5h0m0-2h0m0 2.5h0m0-3h0m0.5-0.5h0m0.5 0.5h0m0 2.5h0m0.5-0.5h0m0 0h0m0 0.5h0m0.5 0.5h0m0-2h0m1 1h0m0-0.5h0m1-2.5h0m0-1.5h0m1 2h0m0-1.5h0m0 2h0m0 2.5h0m0-2h0m1 0.5h0m0-3h0m0.5 2.5h0m2 2h0m1 0h0m0.5 0h0m0.5-2.5h0m0 2.5h0m0-1h0m0.5 0.5h0m0 0h0m0-4.5h0m0 2.5h0m0.5-1h0m0 1.5h0m0.5-3.5h0m1.5 4h0m0-2.5h0m0 2h0m0.5 0.5h0m0.5 1.5h0m0.5-5h0m0 1.5h0m0.5 1.5h0m0 1h0m0 0.5h0m0.5 1h0m0.5-1h0m0.5-2h0m0.5 2.5h0m0-1.5h0m0.5-2h0m0 3.5h0m0-4h0m0.5 1h0m0-0.5h0m0 4h0m0-5h0m1 2h0m0.5-1h0m0 1.5h0m1 1h0m0-1h0m1-1h0m0 3h0m0-3h0m0.5 2h0m0-1h0m0.5-3h0m1 0h0m0.5 0h0m0.5 0h0m20.5-0.5h0m2.5 0h0m0.5 0h0m0.5 2.5h0m0 0h0m0.5-2.5h0m1 4h0m0-3.5h0m0.5 3.5h0m0.5-3h0m0.5 1h0m0.5 3h0m1-4.5h0m1 0.5h0m0.5-0.5h0m0 3h0m1-2.5h0m0.5 1h0m0-1.5h0m0 1h0m0 0h0m0.5 1h0m0.5-2.5h0m0.5 3.5h0m0 1.5h0m0-4.5h0m0.5 0.5h0m0.5 3h0m0 0h0m0-3.5h0m0 1.5h0m1 3h0m1 0h0m1-4h0m-105.5 11h0m0-5.5h0m0 0.5h0m3 1.5h0m0-0.5h0m0.5 0.5h0m0-1.5h0m0.5 0.5h0m0.5-0.5h0m1 0h0m1 3.5h0m0-3.5h0m0.5 3h0m1.5-2.5h0m0 4.5h0m0-0.5h0m0-5h0m0 5h0m1-4h0m0.5 0h0m0 0h0m0.5-1.5h0m1 0h0m0.5 6h0m0.5-5h0m1 4.5h0m0 0h0m0-5h0m0.5 1.5h0m0 3.5h0m1.5-4h0m0 2h0m0.5-2.5h0m0.5 3.5h0m0-2h0m0.5 2h0m0-0.5h0m0-2h0m0.5 1.5h0m0.5-1.5h0m0-0.5h0m0-1.5h0m0.5 2.5h0m0 2h0m0 1.5h0m0-5h0m1 0.5h0m1-1h0m0 1h0m0 0.5h0m0.5 3h0m0.5-1.5h0m0-3.5h0m0 0.5h0m0.5 0.5h0m0.5 3h0m0-2h0m0.5 1.5h0m0-1.5h0m0.5 1h0m0.5-1.5h0m0 2.5h0m0.5-1h0m0 0h0m0 2.5h0m0.5-2h0m0.5-3h0m1 2h0m1-0.5h0m0-2h0m0.5 0h0m0.5 5.5h0m0-1h0m1.5-2.5h0m0 0.5h0m1-0.5h0m0.5-1.5h0m0.5 1h0m1 1h0m0.5 2h0m0-4.5h0m0.5 6h0m0.5-2.5h0m1.5 0h0m0-2h0m0.5-1h0m1 1h0m0.5-0.5h0m1 4h0m0-3h0m0-1.5h0m0.5 0h0m0 4.5h0m0.5-2.5h0m0.5 1h0m0-1.5h0m0 3.5h0m0.5-1h0m0.5 1.5h0m0-2h0m1 1h0m0 1h0m0-4h0m1-0.5h0m0 2h0m0.5-1h0m0.5 0.5h0m0 0.5h0m0-1.5h0m0.5 1.5h0m0.5 1.5h0m0.5-3.5h0m0.5 2h0m0 2.5h0m0-4.5h0m0.5 0.5h0m1.5-0.5h0m0-0.5h0m1 2h0m0 3h0m0.5-4h0m0 1.5h0m1-3.5h0m0.5 4h0m0.5 1h0m0.5-4h0m0 3.5h0m0.5-3h0m0.5-1h0m0 3h0m0.5-3.5h0m0.5 1.5h0m0 4h0m0-3.5h0m0.5-1.5h0m0.5 5h0m2-5h0m0.5 1.5h0m0.5 2.5h0m0.5-3h0m0.5 1.5h0m0 0.5h0m0.5-1h0m1 2h0m0.5 1h0m0.5-4.5h0m0 0h0m0.5-1h0m0.5 2.5h0m0.5 0h0m0.5-1.5h0m0 3h0m1-1h0m0.5 0h0m0-2.5h0m28.5 5h0m0-4.5h0m0.5 0h0m0 1h0m0 1h0m1.5-0.5h0m0.5-2h0m0 0.5h0m1.5 1.5h0m1 0.5h0m0.5-2.5h0m1 0.5h0m0 1.5h0m0.5-2h0m0 4h0m0-3.5h0m0.5 1.5h0m0-2h0m0 0.5h0m0.5 4.5h0m0-2h0m0.5-2.5h0m0.5 4.5h0m0.5-4.5h0m0.5 0h0m0 2h0m0.5-2h0m-100.5 5.5h0m0.5 2.5h0m0 1.5h0m0.5-1h0m1 2h0m1-3.5h0m0.5-2h0m0.5 4h0m1.5-1h0m3-0.5h0m0.5-1h0m0 0h0m2.5 0.5h0m2 3h0m0.5-3h0m0-1h0m1.5 0.5h0m0.5 0.5h0m1 0h0m0 3h0m0-4h0m1.5 0.5h0m0 3.5h0m0.5 0.5h0m0-5.5h0m0.5 4h0m0.5-2h0m0 3h0m1-1h0m0.5-2.5h0m0.5 1h0m1.5-1h0m0 1h0m0.5-1.5h0m0 1h0m0 3h0m0 0.5h0m1.5 0h0m0-4.5h0m1-0.5h0m0.5 2h0m0.5 1.5h0m0-1.5h0m1 2h0m2.5-3h0m1-1h0m1.5 0h0m0 1.5h0m1 0.5h0m1 0h0m0 1h0m1 1.5h0m0.5 0h0m0.5-3.5h0m0-0.5h0m0 0h0m1 3.5h0m0-1h0m0.5 0h0m0.5-1.5h0m1 2.5h0m0.5 0h0m0-4.5h0m0.5 1.5h0m1 1.5h0m1.5-0.5h0m2 2h0m0-3h0m0.5 3h0m0-4h0m0.5 2h0m1.5 3.5h0m0-4h0m2.5 1.5h0m0-3.5h0m1 2h0m1-1h0m1 3h0m1.5-1h0m0.5 2.5h0m1.5-2h0m0.5 0.5h0m1 1h0m0 0.5h0m0.5-3h0m0.5-0.5h0m0.5 0h0m0-1h0m2.5 2h0m0.5 1.5h0m25 1h0m0.5-3h0m0.5 3h0m1-0.5h0m0.5-4.5h0m0.5 4h0m0 1h0m1.5-2.5h0m0 0.5h0m0.5-3h0m2.5-0.5h0m1 5h0m-95 4.5h0m1-1.5h0m0.5 4h0m0-2h0m0.5-1.5h0m0-1h0m0 1h0m0.5-2h0m1 5h0m0.5-3h0m0 0h0m1 1.5h0m0 1.5h0m1-1h0m1-4h0m0 0h0m3.5 0.5h0m1 0.5h0m0 0.5h0m0.5 2.5h0m0-2h0m1 2h0m1 0h0m0.5-2.5h0m0 0.5h0m1 1h0m0-0.5h0m1.5 1h0m3-2h0m0.5 2.5h0m0.5-2.5h0m0.5 3.5h0m1-4.5h0m0 1h0m0.5-1h0m0 0.5h0m1 3h0m1.5 1.5h0m0-5h0m0.5-1h0m0 1h0m0 2h0m0-1h0m2 1h0m0.5-2h0m0.5-1h0m0 3h0m1 2.5h0m2.5-3.5h0m0.5 4h0m0.5-5h0m1 0h0m0 1.5h0m0.5 2.5h0m1-4h0m0 0.5h0m0 1.5h0m1.5 0.5h0m0.5-2h0m0.5 4h0m0.5-1h0m0.5 1.5h0m1-2h0m0-2h0m2-1h0m0 4.5h0m0.5 0h0m0.5-2.5h0m2 0.5h0m0-2h0m0.5-1h0m0 3h0m1.5-2.5h0m0.5-0.5h0m1 3h0m1.5-1.5h0m1 2h0m1.5-3.5h0m0 4.5h0m1-2h0m0.5 3h0m1-3.5h0m0 1h0m0 2h0m1-3h0m1 2h0m0.5-4h0m0 0h0m0.5 3.5h0m0.5-4h0m0 1h0m2.5 1.5h0m1 2h0m12 0.5h0m4.5-4.5h0m0.5 4.5h0m0 0.5h0m0.5-2h0m0.5-2.5h0m0.5 3.5h0m0 0.5h0m0-2.5h0m0.5-1h0m0.5 0.5h0m1 3h0m0.5-4.5h0m4.5 0h0m0 3.5h0m1.5-1.5h0m3.5-1h0m-89.5 6h0m0.5 0.5h0m0.5-1h0m0.5 3h0m0 0.5h0m0.5-1.5h0m0.5 1.5h0m1-3.5h0m0 2h0m1 1.5h0m0.5-4h0m0 3h0m0 0.5h0m1.5-2h0m0.5-2h0m1.5 2h0m0.5 3.5h0m0-5h0m0 4h0m0.5-4h0m0.5 2h0m0.5 1h0m0 2.5h0m1.5-4.5h0m0.5 4.5h0m3.5-1.5h0m0.5-4.5h0m0.5 4.5h0m0-1.5h0m1.5-0.5h0m1 2.5h0m1.5-1h0m0.5-2.5h0m2.5 3h0m0-3.5h0m1 2.5h0m2.5 1h0m0.5-4h0m0.5 3h0m1 0.5h0m1-1.5h0m2 1h0m0.5 1h0m0-2.5h0m1 3.5h0m0.5-3.5h0m0.5 1h0m0-2.5h0m0.5 4h0m0 0.5h0m1.5-1h0m0.5 0.5h0m0.5 1h0m0.5-4h0m1 2.5h0m0-3h0m1-0.5h0m0 3.5h0m0-3.5h0m1.5-0.5h0m0 0.5h0m0.5 4h0m1 1.5h0m0-4.5h0m0.5-1h0m1 0h0m0 4.5h0m0-4.5h0m0.5 4.5h0m0-3.5h0m1.5 0.5h0m0.5 1.5h0m0.5 0.5h0m0 0h0m0.5 0h0m1-3.5h0m1.5 1h0m0.5 0h0m0 0h0m0 1.5h0m0-1.5h0m0.5 1h0m2 0h0m0 1.5h0m0.5-1h0m1 2h0m0.5-4h0m1.5 2h0m1 2h0m1.5-4.5h0m0.5 4h0m0.5-2h0m0 3h0m1-1h0m0.5-2h0m0.5 1.5h0m0 0.5h0m0-0.5h0m0-2h0m1.5 3.5h0m0.5-0.5h0m0.5-3.5h0m2 4.5h0m0.5-4h0m0.5 1h0m1 1h0m2 1.5h0m1.5-4h0m1-0.5h0m0 1.5h0m0 3h0m1.5-2.5h0m1-1.5h0m2.5 0h0m1 0.5h0m-72.5 7h0m2.5-1h0m0 0h0m0 2h0m0.5-1.5h0m1-2h0m0 1h0m1.5 3h0m0.5 1h0m2-4h0m0.5-1h0m0.5 1.5h0m0-2h0m0.5 0h0m0 0h0m0.5 2.5h0m0.5-1.5h0m0.5 3h0m0 1h0m0.5-1h0m0-2h0m0-0.5h0m1-1h0m0 3h0m1-0.5h0m0 1.5h0m0 1.5h0m0.5-3h0m0-0.5h0m1 2.5h0m0-1.5h0m0 2h0m1 0.5h0m1-0.5h0m0.5-3.5h0m0 0h0m1.5-1h0m1 4h0m1-3.5h0m1 1h0m0 0h0m0 3h0m0-1h0m0.5-3h0m1.5 1h0m1 3.5h0m0-3h0m1.5 1.5h0m1.5 1h0m3-5.5h0m3.5 3h0m0.5 2h0m1.5-4h0m0 2h0m0 2.5h0m1-4.5h0m0 3.5h0m0.5-3.5h0m0.5 1.5h0m0.5 1h0m1 0.5h0m0.5-0.5h0m0-2h0m0 3.5h0m0 0h0m1 0h0m0.5-4.5h0m2 4.5h0m0.5-0.5h0m0.5-1.5h0m1-2h0m0.5-1h0m0.5 3h0m1-1h0m0 2h0m4-2.5h0m0 0.5h0m0.5 1.5h0m0-3.5h0m0.5 1h0m1 0h0m0.5 0h0m0.5 5h0m1-1h0m0.5-4h0m0 1h0m0.5-1h0m0-0.5h0m0.5 2h0m3 2h0m0.5-2h0m1 2.5h0m-89 5h0m2-1h0m0.5 2.5h0m1.5-1.5h0m0.5 1h0m2-1.5h0m4 0.5h0m0.5-2h0m0.5 2.5h0m3.5 0.5h0m0.5-1.5h0m6 1h0m0-2h0m3 3h0m5.5-2.5h0m3 0.5h0m1 1.5h0m0-5h0m4 5h0m0-3.5h0m0.5 2.5h0m1.5-0.5h0m1-2h0m1.5-0.5h0m0.5-0.5h0m0 1h0m1 2.5h0m1-3h0m0.5 2h0m0-2.5h0m1.5 1h0m1 1h0m2-2h0m1 4h0m0.5-1.5h0m0 1h0m1-1h0m0.5-3h0m1.5 0h0m0.5 2.5h0m0.5 2h0m1-1.5h0m0.5 0h0m1-0.5h0m0.5-2.5h0m1 4.5h0m0-3.5h0m0.5 1h0m1 4h0m0-1.5h0m0-3.5h0m2 2.5h0m0-2h0m0.5 2h0m0-3h0m0.5 3h0m0.5 1h0m1.5-0.5h0m0.5-3.5h0m0 0h0m0.5 4.5h0m0.5-0.5h0m4 0h0m0 1h0m0 0h0m0.5-0.5h0m0.5-2h0m0.5-2h0m0.5 4.5h0m0.5 0h0m0-3.5h0m0 2.5h0m1.5 1h0m0.5-5h0m1 4h0m0.5-1h0m1-2h0m0.5 0h0m0 0.5h0m0-1.5h0m0.5 1h0m0.5 0h0m0.5 0h0m1.5-0.5h0m1 1h0m-116 10h0m16.5-0.5h0m1.5 0.5h0m0.5-2.5h0m1.5 2h0m1-1h0m6 0h0m6 0.5h0m0.5-2h0m1.5 1h0m1.5-2.5h0m1 1.5h0m1.5 2.5h0m0 0h0m0.5-3h0m0 2.5h0m1-4h0m0.5-0.5h0m2 3.5h0m0.5 0h0m1.5 0.5h0m1-4.5h0m2 1.5h0m0 0h0m3.5 2.5h0m0 0h0m0 1.5h0m0.5-3.5h0m0 1h0m0.5 2.5h0m1-0.5h0m1.5-2h0m0.5 1h0m1.5 0h0m0-0.5h0m1-1.5h0m1 3.5h0m0 0h0m0.5-1.5h0m2-0.5h0m0 2.5h0m1-5.5h0m0 0.5h0m0.5 3.5h0m0-3.5h0m1.5 4.5h0m0.5 0h0m0.5-0.5h0m0.5-1.5h0m0 0h0m0.5 0h0m1 0h0m1.5 0.5h0m0.5-3.5h0m2 3.5h0m0 2h0m0-5h0m2-0.5h0m0.5 3.5h0m0.5-1h0m0.5-2h0m2.5 1.5h0m1.5-0.5h0m0.5 0h0m0 0.5h0m0.5 1h0m0.5-0.5h0m0.5 1h0m0 1h0m0-0.5h0m0.5-1.5h0m0 3h0m1-4h0m0.5 1h0m0-1.5h0m0.5 0.5h0m0 0.5h0m0.5-1.5h0m0.5 3.5h0m0.5-3.5h0m0.5 1.5h0m0.5-2h0m0 1.5h0m0-1h0m0.5 2.5h0m0-1.5h0m1-0.5h0m0 2h0m0-2.5h0m0 2h0m0.5 2h0m0.5-3h0m0.5 1.5h0m0.5-0.5h0m1-2.5h0m0 0.5h0m2.5 1h0m0.5-1h0m1-1h0m0 5.5h0m0.5-2.5h0m0.5-1h0m1 2h0m0.5 0h0m0.5-1.5h0m0-2h0m0.5 1h0m1-1h0m0 5h0m0-1h0m0.5 0h0m0.5 1h0m0.5-3h0m4-0.5h0m1.5-1h0m2.5-0.5h0m1 0.5h0m1.5 5h0m-126.5 1.5h0m3 2h0m1 0h0m1-2h0m0 2.5h0m0.5 0h0m1 0.5h0m0.5-2.5h0m1.5 2.5h0m1-1h0m0.5-2h0m0.5 0h0m2 2h0m0 1h0m0.5-2h0m0.5 3h0m0-0.5h0m0-5h0m0 2.5h0m0.5 2.5h0m0-4h0m0 0h0m1 5h0m0.5-3.5h0m0 3.5h0m0.5-1h0m0-3.5h0m0.5 1h0m1.5 3h0m0.5-2h0m1 0h0m1-0.5h0m0.5-1h0m0-1.5h0m0.5 0h0m1.5 3h0m0 1.5h0m1.5-1h0m0 1.5h0m0-1.5h0m1 1.5h0m0.5-1h0m1.5-1h0m0.5-1h0m0.5 0.5h0m0.5 2h0m0-3h0m0.5 3h0m0.5-4h0m0.5-1h0m0.5 3.5h0m0-3h0m0 5.5h0m0.5-2h0m1-1h0m0.5-0.5h0m0-1h0m1.5-1h0m0.5 0h0m0 2h0m1.5 3.5h0m0.5-1h0m0.5-3h0m2.5 3h0m0-3.5h0m0 2h0m1.5 2.5h0m0.5-5h0m0 3h0m0 1h0m0.5-3h0m1 2.5h0m0.5-3h0m0.5 4h0m0-1h0m1-2.5h0m0.5 0.5h0m0.5 2h0m0.5 1.5h0m2.5-4.5h0m0.5 0h0m1-1h0m0 1.5h0m0.5-0.5h0m0 2h0m1-0.5h0m0 0h0m0.5-0.5h0m0 0h0m0-0.5h0m0 0.5h0m0 2.5h0m0.5-1.5h0m0 1.5h0m0.5-3.5h0m0-1.5h0m0.5 4.5h0m0-1.5h0m0 1.5h0m1-2h0m0.5 2.5h0m0.5-2.5h0m0.5 3.5h0m0-2h0m0.5-0.5h0m0-1h0m2-1h0m0 2h0m0 0h0m0.5 1h0m0.5-2h0m0 2h0m0.5 0h0m0.5-3.5h0m0.5 4h0m0-2.5h0m0.5 3h0m0.5-4h0m0 2.5h0m1 2h0m0.5-4h0m0.5 2h0m0 0h0m0-2.5h0m1 3h0m0-3h0m1 0.5h0m0.5 2h0m0-3.5h0m0 5h0m0.5-0.5h0m0-2.5h0m0.5 2h0m0.5-1.5h0m0 2h0m0-2.5h0m1 3h0m0-1h0m0 1h0m2.5 0.5h0m1-3h0m1 2h0m1-2.5h0m0 2h0m0-1.5h0m1.5 0.5h0m0-2h0m0.5 3h0m4.5 0h0m1 0.5h0m0.5-4.5h0m0 0h0m0 4h0m0 0.5h0m4.5-5h0m1 0.5h0m0.5 4h0m0.5 0h0m0.5-3h0m1.5 0.5h0m1 1.5h0m1-2h0m0.5-1h0m0 3h0m0-3h0m2 0.5h0m0-1h0m0 5.5h0m2-2h0m1-1h0m0.5 1.5h0m0-2.5h0m2 1.5h0m0 1.5h0m0 1.5h0m0.5-1h0m1-4h0m0 2.5h0m0.5 1h0m0-2h0m5-1.5h0m2 4h0m0.5 0h0m1-0.5h0m0 1h0m2 0h0m1.5-3.5h0m0 0h0m0.5-1.5h0m0.5 4.5h0m1 0.5h0m1-4h0m0 3h0m1.5 0h0m0 1h0m2.5-1.5h0m1-1h0m0 3h0m0.5-2h0m0.5-2h0m0.5 3h0m0.5-2h0m0.5-1.5h0m0 0h0m0.5 1h0m1 2.5h0m0.5-1h0m0.5 1.5h0m1 0.5h0m0.5-1.5h0m0.5-0.5h0m0 0h0m0 1h0m4-1h0m-135 6.5h0m1-2.5h0m0-1.5h0m0 4.5h0m0.5 1h0m0.5-0.5h0m0.5-1.5h0m0.5-2h0m0.5 2.5h0m0-0.5h0m0-3h0m1 0.5h0m0.5 4h0m0.5-3h0m2-1.5h0m1 2h0m0.5-1.5h0m0.5 3h0m2.5-4.5h0m0.5 2.5h0m0 0.5h0m0.5-3h0m0.5 3.5h0m1 2h0m0-0.5h0m1-2h0m0 0h0m0.5-2h0m0.5 3.5h0m0.5 0h0m0.5 0h0m0-2.5h0m0.5 3h0m0.5-3h0m0-1h0m0 4h0m1-1h0m1-4h0m0.5 0.5h0m2.5 2h0m1 3h0m1.5-5.5h0m1 2.5h0m0.5 1.5h0m0.5 0h0m1-1.5h0m0.5-0.5h0m1.5 3h0m0-5h0m0 0.5h0m0.5 2.5h0m0-2.5h0m0.5 4.5h0m0.5-4.5h0m0 2h0m0-1h0m0.5 1h0m0 1.5h0m1.5-1h0m0.5-2.5h0m0.5 0.5h0m1 1h0m1 1.5h0m0.5-1.5h0m2-0.5h0m2.5 2.5h0m0.5-2h0m0.5 2h0m2-0.5h0m0-0.5h0m0.5-0.5h0m0 2.5h0m0-4.5h0m0-0.5h0m0.5 2.5h0m0.5 2h0m1-1h0m0.5-2h0m1.5 0.5h0m0.5 1h0m1-1h0m0.5 2.5h0m0.5 0.5h0m0.5-2.5h0m0.5 3.5h0m1-3.5h0m0.5 3h0m0.5-3.5h0m0 3.5h0m1-0.5h0m0.5-0.5h0m0 1h0m0-2h0m0.5-3h0m0 3.5h0m0.5-1.5h0m0 0h0m0.5 1.5h0m2-0.5h0m0.5 1.5h0m0-0.5h0m0 0.5h0m0-4h0m1 5h0m0.5-2.5h0m0-2h0m0.5-1h0m0.5 1.5h0m1-2h0m0.5 1.5h0m1 2h0m1 0.5h0m1-2.5h0m0.5 2.5h0m0.5 0h0m1 1.5h0m0-3.5h0m0-2h0m0.5 4h0m0.5-3.5h0m0.5 3.5h0m0-1.5h0m0 0h0m0-1h0m1 0h0m0 2h0m0.5-1.5h0m0 3h0m0.5-1h0m0-2h0m0.5-0.5h0m1 0.5h0m0.5 3h0m0.5 1h0m0-2h0m0.5-0.5h0m0 0h0m0-0.5h0m0-1.5h0m0.5 4h0m0-3h0m0.5-1h0m0 1.5h0m0.5-0.5h0m1 1.5h0m1 0h0m0.5-1.5h0m1.5 3h0m0.5 0h0m0-5.5h0m0.5 2.5h0m0.5 2h0m1 1.5h0m0.5 0h0m0-2.5h0m1.5 1.5h0m1.5-4.5h0m0.5 0.5h0m4.5 4.5h0m0.5-3h0m0.5-1h0m0.5-0.5h0m0.5 4.5h0m4.5-5h0m1 2h0m0 2h0m0.5-0.5h0m3.5-3h0m1 2.5h0m1-1.5h0m1.5 2.5h0m0.5-1h0m0.5 1h0m4-4h0m0 1h0m0 3.5h0m1-4.5h0m0.5 3.5h0m0 1h0m1.5 0.5h0m4.5-2h0m0.5-0.5h0m0.5 0.5h0m4 1h0m0.5 0h0m1 0.5h0m0.5-5h0m1 5h0m0-3h0m0.5-1.5h0m0.5 1.5h0m1 2.5h0m0-3.5h0m1 3.5h0m0-1.5h0m6-1h0m3 0.5h0m-138.5 4.5h0m0.5-1h0m0 3h0m0.5 0h0m0.5 0h0m0-0.5h0m0.5 3h0m0-1h0m1 1h0m2.5 0h0m0.5-2.5h0m0 2.5h0m1.5-1h0m0.5-4h0m0.5 4.5h0m0.5 0h0m0.5-3.5h0m1 1h0m0.5-1h0m0.5 4h0m1.5-1h0m0-1.5h0m0.5 2.5h0m1.5-1.5h0m0 0h0m0.5 1.5h0m1.5-3.5h0m1 3.5h0m0.5-2.5h0m2-1.5h0m0.5 2h0m1.5-3h0m0.5 1.5h0m0.5-0.5h0m0 0.5h0m0.5 0h0m1.5 0.5h0m0-1h0m1 4h0m0.5 0h0m1-1.5h0m1.5 0.5h0m0.5-1h0m0.5 2h0m0.5 0h0m1-1.5h0m1.5-3.5h0m0.5 4h0m0-2.5h0m1-0.5h0m0 0.5h0m2-0.5h0m0 1h0m0 3.5h0m1-5.5h0m0.5 3h0m0-3.5h0m0 2h0m0.5 4h0m0.5-4.5h0m1-0.5h0m1.5-0.5h0m2 2h0m0.5-2h0m1 3h0m0-1.5h0m0.5-1.5h0m0.5 0.5h0m1.5 3h0m0.5 0h0m0-0.5h0m0.5-3h0m0 4h0m1-4.5h0m0 4.5h0m0.5-3h0m2 3h0m0.5-3.5h0m0 1.5h0m0 1h0m1 1h0m1-4h0m0.5 3h0m1 2.5h0m0.5-0.5h0m0-1h0m0-2.5h0m1.5 1h0m0.5-1h0m0 2.5h0m0.5-2.5h0m0.5-1.5h0m1 0h0m0 0h0m0.5 2h0m0-2.5h0m0.5 3.5h0m0.5 0.5h0m0.5-1.5h0m1 2.5h0m0-1h0m2-3h0m0.5-0.5h0m0 4.5h0m0.5 0.5h0m0.5-4h0m0.5-1h0m0.5 2h0m0.5 2h0m0-1.5h0m0-2.5h0m0 0h0m1.5 3.5h0m0-2.5h0m0 1h0m0.5 0.5h0m0.5 0h0m0-1.5h0m0 4.5h0m0-0.5h0m1-5.5h0m0 3h0m0.5-0.5h0m0.5 0.5h0m0-1h0m0-1.5h0m2 4.5h0m1 0h0m0.5 0h0m0-0.5h0m0 1h0m0.5-1.5h0m0-3.5h0m0 1h0m0-1h0m0.5 2h0m1 1.5h0m0.5-3.5h0m0.5 3.5h0m0 0.5h0m0.5 0.5h0m0-2h0m0-1h0m1 2.5h0m0-2h0m0.5 2.5h0m0.5 0h0m1.5-2.5h0m0.5 0h0m0.5 1.5h0m1.5 1.5h0m0-4.5h0m1.5 2.5h0m1.5-3.5h0m1 3h0m1 2.5h0m0.5-2.5h0m0-3h0m1.5 5h0m0-3.5h0m1 2h0m0-0.5h0m1.5-1h0m0.5 0h0m1.5 2.5h0m0.5 0.5h0m0-4.5h0m0.5 5h0m0-4h0m0 0h0m2-0.5h0m0.5 3.5h0m0-4h0m2.5 4.5h0m1.5-2.5h0m0 2.5h0m0-3h0m0.5-1h0m0 1h0m1-2h0m1.5 3h0m0 0h0m0.5-1.5h0m0.5-0.5h0m1-0.5h0m4.5 1h0m0 1.5h0m0.5 0.5h0m1 2h0m2.5-4h0m0 3.5h0m2-3.5h0m0 0h0m0-0.5h0m1 3h0m1-2h0m1 0h0m0-1h0m0 1.5h0m1.5 0.5h0m4-2h0m1-1h0m0.5 3h0m0-2.5h0m1 2h0m0-0.5h0m0.5 1h0m0 0h0m1.5 2h0m1.5 1h0m1-1h0m0-3h0m0.5-1h0m1 3h0m4.5-2.5h0m-141.5 6.5h0m0.5 1.5h0m0.5-2.5h0m3 0h0m0.5 1h0m1 3.5h0m0.5-2h0m0 0.5h0m0.5 1.5h0m0-0.5h0m1-4h0m0.5 1h0m1.5-0.5h0m1 2h0m0-3.5h0m1 5h0m0.5-1.5h0m0-0.5h0m1.5 2h0m0.5-0.5h0m3-2.5h0m0.5-1.5h0m0.5 2.5h0m0 2h0m0.5-0.5h0m0.5 1h0m1-5.5h0m0 4.5h0m0.5-4h0m0 3h0m0-0.5h0m0 1h0m1 1.5h0m0-4.5h0m1.5-0.5h0m0.5 2.5h0m1.5-2h0m0.5 2h0m0.5 2h0m0-3h0m0.5 2h0m0 1h0m0.5-4h0m0 0h0m0 4.5h0m0.5 0h0m0.5-0.5h0m0-3.5h0m1 0h0m1.5-1.5h0m0 0.5h0m0.5 4h0m0-2.5h0m0.5 1h0m1 0h0m0.5-2.5h0m3 2.5h0m0-2.5h0m3.5 2.5h0m0.5 2.5h0m0.5-0.5h0m0 0.5h0m0.5-1h0m0.5 0.5h0m0.5-0.5h0m0-1.5h0m1-1.5h0m0.5 0h0m0.5 1h0m0.5-1h0m1.5-0.5h0m0 0.5h0m0.5 3h0m0.5 1h0m2-4h0m0.5 3.5h0m1.5-3h0m0-2h0m0 2h0m0 3h0m0.5-4.5h0m1 1h0m1.5 1h0m0.5 0h0m0 1.5h0m0.5-2.5h0m0 1.5h0m1-2.5h0m1 5h0m0 0h0m0.5-1h0m0-0.5h0m1-1.5h0m0.5-2h0m0 1.5h0m1 1.5h0m1 2.5h0m0-4h0m1-1.5h0m1 4h0m0.5 0h0m0.5-2h0m0.5 0h0m0-2h0m1-0.5h0m0 4.5h0m0-2.5h0m2 2h0m0-3h0m0 0.5h0m0.5 2.5h0m0-2h0m0.5 0h0m1.5-1h0m0.5 4h0m0.5-3.5h0m1-1.5h0m0.5 3.5h0m0-1h0m0.5 3.5h0m0.5-2.5h0m0.5 1.5h0m1-4.5h0m0.5 4.5h0m0-5h0m1.5 0.5h0m0 3h0m0.5-0.5h0m0 3h0m0.5-4.5h0m0-1h0m0 2.5h0m0.5-2.5h0m0.5 5h0m0.5-4h0m1.5-1.5h0m1 1h0m1 2h0m0-0.5h0m1-1.5h0m0.5 4h0m2.5 0.5h0m2-5h0m1 0h0m0.5 1.5h0m1 3.5h0m0-5.5h0m2 3.5h0m1.5-1h0m0.5 3.5h0m0-1h0m0-2.5h0m0.5-1.5h0m0.5 0h0m0.5 5h0m0.5-0.5h0m2-1h0m1 0h0m1-2.5h0m0 1h0m1-2h0m0 3.5h0m1.5 1h0m3.5-2.5h0m0 0h0m0-2.5h0m0.5 0h0m2 3.5h0m0.5 0.5h0m2-1.5h0m0 1.5h0m0.5-3.5h0m0.5-0.5h0m0.5 1.5h0m0-0.5h0m0.5-1h0m0-0.5h0m1 1.5h0m3.5 0.5h0m0 0h0m2 0.5h0m0 0h0m0.5-2.5h0m2 0h0m0 3h0m0-0.5h0m2.5-0.5h0m2 1h0m2 2.5h0m0.5-5h0m1.5 1.5h0m2 0.5h0m1 0.5h0m2-0.5h0m-138.5 4h0m3.5 0.5h0m0.5 5h0m0-5.5h0m0.5 0.5h0m0.5-1h0m1.5 3h0m0.5-2h0m0.5 0.5h0m0 1.5h0m1.5 2h0m1 0.5h0m0-0.5h0m0.5 0h0m1.5-1h0m0.5-3h0m0.5 4h0m0 0.5h0m0.5-2.5h0m0-0.5h0m0.5-0.5h0m0-1.5h0m0.5 0h0m0 5h0m2-3h0m0 3h0m1-1.5h0m0 2h0m0.5-2h0m0.5-1.5h0m0 3h0m1-5.5h0m0 0h0m0.5 0.5h0m0 3.5h0m0 1h0m0.5 0h0m0.5-1h0m0.5-0.5h0m0-3h0m0.5 3h0m0-2h0m0 2h0m0.5-1.5h0m1-2h0m0.5 5.5h0m1-2.5h0m1 2.5h0m0.5 0h0m1.5-0.5h0m0.5-3h0m0.5 1h0m0 2.5h0m1.5-1h0m1.5 1.5h0m1-1h0m1 0h0m1 0h0m0.5-3h0m0 0.5h0m0-1.5h0m1 1h0m1 2h0m1.5-3.5h0m0 3.5h0m1 1h0m0.5-3h0m0 2.5h0m0.5 1h0m1 0.5h0m0-5h0m1 0.5h0m1.5 1.5h0m0 0.5h0m1-0.5h0m0 0h0m0.5-0.5h0m0.5 2.5h0m0.5-2.5h0m0.5 2.5h0m0-4.5h0m0 2.5h0m0.5 2.5h0m0.5 0.5h0m0.5-2h0m0.5-0.5h0m0-1.5h0m0-1h0m1 3h0m0-0.5h0m0-3.5h0m0.5 4h0m0-2h0m0.5 3h0m0.5-3h0m0.5 3.5h0m2 0.5h0m0.5-1h0m0-2h0m1-3h0m0 3.5h0m0.5-2h0m0.5 3h0m0 1h0m1.5 0h0m0.5 0h0m1-5h0m0.5 2h0m1-2.5h0m0.5 1.5h0m0 1.5h0m0-1.5h0m0.5 4h0m0-3.5h0m0.5-1h0m0.5 3h0m0-1.5h0m1-0.5h0m0 1.5h0m0-1.5h0m0.5 2h0m0-4h0m0.5 3h0m1.5 3h0m0-0.5h0m0-2h0m0.5-2.5h0m0 3.5h0m0.5 1.5h0m0-4.5h0m0.5 2h0m0 0.5h0m1-3h0m0-1h0m0 4.5h0m0.5-3.5h0m0-0.5h0m1 4h0m1 0.5h0m0-5h0m0 4h0m0-0.5h0m1 0.5h0m2 1.5h0m0.5-2h0m0.5 0h0m0-1h0m0-1.5h0m0 1h0m2.5-0.5h0m0 2.5h0m0-4h0m0.5 4h0m0-1.5h0m0.5 3h0m0.5-3.5h0m0 0h0m0.5 1h0m1 1.5h0m0-2h0m0.5-0.5h0m0 3.5h0m0.5-4h0m0-1.5h0m1.5 1.5h0m1 3h0m0-3.5h0m0 3h0m1-3h0m0-0.5h0m0.5 4.5h0m0 0h0m2-3.5h0m3.5 3.5h0m1 0.5h0m0.5-4h0m3 0h0m0.5 3h0m0-2.5h0m1 1h0m0.5 1.5h0m1-3h0m0 0.5h0m1 2h0m1.5 0h0m0.5 1h0m4-4.5h0m0.5 0h0m0.5 5.5h0m3.5-3.5h0m4.5 1h0m0 0.5h0m0.5-2.5h0m1 0h0m2 0.5h0m0 1.5h0m0-0.5h0m1 1h0m1-2.5h0m2 1h0m1 2.5h0m1.5-1h0m1 1.5h0m0.5-2.5h0m1-1h0m0.5 0.5h0m1.5 1h0m2 2h0m3.5-5h0m1.5 0h0m-127.5 6.5h0m2.5 1h0m1.5-2h0m0 5.5h0m0-2h0m1 0h0m1-3h0m0 0.5h0m1 3.5h0m0 0h0m1.5-2.5h0m0-0.5h0m0.5 1h0m1 3h0m0.5-0.5h0m0.5-4h0m0.5 2h0m0.5-2.5h0m0 4h0m0.5 0h0m0 1h0m1-2.5h0m1 2.5h0m0 0h0m0.5-3.5h0m0.5 3.5h0m0 0h0m0.5-3h0m0 1h0m2 0.5h0m0 1.5h0m0.5-2.5h0m2 3h0m0-3h0m0.5 1.5h0m1.5-1.5h0m1-2h0m0 5h0m0.5-1.5h0m0-3h0m1-1.5h0m0 3.5h0m1 1h0m0-0.5h0m1-2.5h0m0 1.5h0m1 0.5h0m1-1.5h0m1.5 1.5h0m0.5-1.5h0m0.5 0.5h0m0.5-1h0m0 1.5h0m1.5 1h0m0-1h0m0-2.5h0m0.5 3h0m0.5 0.5h0m0-1.5h0m0 3h0m0-3h0m1-1h0m0 0h0m0 3.5h0m0-3.5h0m1.5-1h0m0.5 0h0m1.5 4h0m1-1h0m0-1h0m0.5 2.5h0m0.5-2h0m0.5 2h0m0-2h0m0.5-1h0m0.5-1h0m0 3h0m0.5 0.5h0m0-3h0m1.5 4h0m0-4.5h0m0.5 3h0m0 1h0m2-2.5h0m0.5-1.5h0m0 1h0m0 0.5h0m0.5 0h0m1 3.5h0m0-1h0m0.5 1h0m0-5h0m1 2h0m0.5 2.5h0m0.5-4h0m0 3h0m1 0.5h0m0-4h0m0 3.5h0m0-3.5h0m1 1h0m0 2.5h0m0.5 0.5h0m0.5-1.5h0m0.5-2h0m1.5-0.5h0m0 3h0m0.5-2h0m0 0h0m0.5 3h0m0.5-3.5h0m1 3h0m0-1h0m0.5 0.5h0m0.5-1.5h0m1-2h0m0.5 5h0m0.5 0h0m0-1.5h0m0.5 0h0m1-3.5h0m1 3h0m1-1.5h0m0 0h0m0 2.5h0m0-2h0m0 1h0m1 0.5h0m0.5 1.5h0m1-3.5h0m0-1.5h0m1 4h0m0.5 1h0m0-3.5h0m2.5 3h0m0-3.5h0m0.5 4h0m1-5h0m0 1h0m0.5 3h0m1.5 0h0m0-0.5h0m0.5 1h0m0.5-2.5h0m2 3.5h0m2-2h0m0.5 0h0m1 0h0m4.5-3.5h0m3.5 2.5h0m1.5-1.5h0m1.5-0.5h0m0.5 4.5h0m1 0h0m0-5.5h0m2.5 0.5h0m1 1h0m0.5 4h0m5.5-1h0m1-3.5h0m0.5-1h0m3 3h0m1-1h0m0.5-0.5h0m-102 8h0m0.5-2.5h0m2 4.5h0m0.5-3h0m2.5 2.5h0m1 0.5h0m1-3h0m0 3h0m0.5-1.5h0m0.5-1.5h0m0.5-1.5h0m0.5 4h0m0.5-0.5h0m1-1h0m2.5 2h0m1 0.5h0m1-2.5h0m0.5-3h0m0 3h0m1-3.5h0m0.5 3.5h0m0-3h0m2.5 3h0m0-0.5h0m0-0.5h0m0 1.5h0m0.5 0h0m1-2.5h0m0-0.5h0m0.5 1.5h0m0 2.5h0m3-1h0m0.5 1h0m0.5-2.5h0m0 1h0m0.5 2.5h0m0.5-1h0m0-0.5h0m0.5 0h0m0.5 0.5h0m0.5-5h0m0 1.5h0m0 1.5h0m3.5 1h0m1-4h0m0 5h0m1-1.5h0m0.5 1h0m0-3.5h0m0 3.5h0m0.5-4h0m0 2.5h0m2 2.5h0m0.5-3h0m0.5-2.5h0m1 4.5h0m0-1.5h0m0.5 1.5h0m0-1.5h0m2.5 1.5h0m1-4h0m0 0h0m1 3.5h0m0 1.5h0m2-2h0m0-1h0m1.5-1.5h0m0-1h0m0 1h0m0.5 2.5h0m1.5-3.5h0m0 4.5h0m0.5 0.5h0m1 1h0m0-1.5h0m0.5-4h0m0 3h0m0.5-2.5h0m0 3.5h0m0-0.5h0m0.5-2.5h0m0.5 2.5h0m1-2.5h0m0 1h0m0-1h0m3.5 4h0m0.5-3.5h0m0.5 0h0m0-0.5h0m0-0.5h0m0.5 1h0m1 1h0m0.5-1h0m0.5-1h0m0 2h0m0.5 0.5h0m0-2h0m1-1h0m0 1.5h0m0.5 0h0m0 2.5h0m0-3h0m0 0.5h0m1 0.5h0m0.5 2h0m1-4h0m0.5 3.5h0m0.5 1.5h0m0.5-4.5h0m0 2.5h0m1-1.5h0m4-1.5h0m0.5 4h0m3 0.5h0m4.5 0h0m3 1h0m1.5-1h0m0-4.5h0m1.5 4h0m8 0.5h0m3-3h0m0 4h0m0-4.5h0m0.5 1.5h0m1 0h0m2.5 0.5h0m2 0h0m1 0h0m1.5 1h0m2 0.5h0m0-2.5h0m2 1h0m0.5 1.5h0m1-2h0m3.5 2.5h0m7.5 0.5h0m-116 0.5h0m1-0.5h0m1 0h0m2 4.5h0m0.5-1h0m0.5-3.5h0m2 1h0m0.5 1h0m0 3h0m0.5-5h0m0.5 0.5h0m1.5 3.5h0m1-1h0m0-2.5h0m0.5 3.5h0m0-1h0m0-1h0m0.5 0.5h0m0.5 1h0m0-3.5h0m1 5h0m0.5 0.5h0m0 0.5h0m0-3h0m0.5-3h0m0 5h0m1-2.5h0m0.5 1.5h0m0 1.5h0m1-2.5h0m0 3h0m1-5h0m1.5 3h0m0.5-3h0m0.5 5h0m0-0.5h0m2-3.5h0m0 4h0m0-5.5h0m1.5-0.5h0m0 0.5h0m0.5 0h0m0 2h0m1 3h0m2-5.5h0m1 2h0m0.5-2h0m0.5 5h0m1-4h0m0.5-1h0m1 5.5h0m0-4.5h0m1 3h0m0 1.5h0m1-0.5h0m0-1.5h0m0.5-3.5h0m0 0h0m2.5 0.5h0m0.5 0h0m0.5 2.5h0m0.5-1h0m1 3h0m0-3h0m0.5-1h0m0.5-1h0m1 2h0m0.5 2.5h0m0-0.5h0m0.5-3.5h0m0.5 1.5h0m1-1.5h0m0.5 0.5h0m0 1.5h0m1.5 2.5h0m0.5-5h0m1 2h0m0.5 1h0m0 1.5h0m0.5-4.5h0m0 0h0m0.5 4h0m0.5 1h0m0-0.5h0m0-4h0m0.5 2h0m0-2h0m1 1.5h0m1.5 2h0m0.5-3h0m0.5 4.5h0m0-5h0m1 4h0m1-1.5h0m1-3h0m0.5 5h0m1-1h0m0.5 2h0m0-3h0m2 1.5h0m2.5-4h0m1 0h0m0.5 0h0m1.5 5h0m0.5-1.5h0m9 1h0m1.5-1h0m1.5 0.5h0m1 0.5h0m1.5-2h0m2-1.5h0m0.5 3.5h0m3.5-1h0m1-2h0m4.5 2.5h0m1-4h0m1 4h0m1-2.5h0m0-2h0m4 0h0m0 0.5h0m3 5h0m1 0h0m1-2.5h0m0.5-2.5h0m2 5h0m1-3h0m2 2h0m2-3h0m2 1h0m3.5-1.5h0m2.5 1h0m7.5 2.5h0m1 1.5h0m-115 3.5h0m2.5-3h0m0 1.5h0m4-1.5h0m0.5 4h0m1.5-4.5h0m1 3.5h0m0.5-2h0m0.5 2h0m0-1.5h0m0 1h0m0 2.5h0m1-1h0m2-1h0m0-0.5h0m0 0.5h0m0.5-3h0m0 1h0m1-0.5h0m0.5 0.5h0m2-1h0m0 2.5h0m0.5-0.5h0m0.5 0.5h0m0.5-2h0m0 1h0m0.5 1.5h0m1 1h0m1-2.5h0m0.5 2.5h0m0.5 0h0m0-4h0m1 0.5h0m0.5 0.5h0m0 3.5h0m0-1.5h0m0.5-2.5h0m0.5 0.5h0m1-0.5h0m0.5 0.5h0m0 3h0m0-0.5h0m0.5-1.5h0m1 0h0m0-0.5h0m1.5-1.5h0m0 1.5h0m0.5-0.5h0m1 2h0m0-2h0m0-0.5h0m1 4.5h0m0.5-1h0m1-4h0m0 0h0m0.5 0.5h0m0.5 1h0m1 1h0m0-1h0m1.5-2h0m3 1.5h0m1.5 2h0m1-0.5h0m1.5 2.5h0m1.5-1.5h0m13-4h0m0.5 2.5h0m0 3.5h0m5-4h0m1.5 3.5h0m4-0.5h0m2 0.5h0m0.5-2.5h0m4 3h0m1.5-4h0m2.5-0.5h0m0.5 1h0m2-1h0m2.5 2.5h0m0 1h0m0.5-4h0m0 4h0m1-2.5h0m3-1.5h0m2 3.5h0m2.5-4h0m0.5 5h0m2-3.5h0m0.5 0h0m0.5-2h0m0.5 1.5h0m0.5 2.5h0m1-0.5h0m3-1h0m2.5-0.5h0m2-1h0m0.5 2h0m0.5 2.5h0m0-4.5h0m0.5 3h0m0-3.5h0m2 3.5h0m0.5-4h0m1 4h0m2-2.5h0m1.5 3.5h0m0.5-4h0m2.5 1h0m-104 5.5h0m2.5-1.5h0m20.5 0.5h0m2.5 3.5h0m0.5-2h0m6 1h0m1.5-2h0m1 3h0m0-1h0m0-3h0m2.5 3.5h0m0.5-3h0m0 0.5h0m1 0h0m4 3h0m8.5-2h0m0.5 0.5h0m0 3.5h0m0.5-4h0m4 1.5h0m0-3h0m1.5 4h0m0 1h0m2-4h0m0.5 1h0m3.5 2h0m2.5-3h0m2 0h0m1.5-0.5h0m3 3.5h0m1.5-1.5h0m1-2h0m0 3h0m2-1.5h0m2 1.5h0m4-3h0m1 4.5h0m1.5 0h0m0.5-3h0m1 3.5h0m1.5-5.5h0m0 5h0m0.5-1.5h0m0.5-3.5h0m0 5.5h0m1.5-4.5h0m4 2.5h0m0 1.5h0m1-3h0m0.5-1h0m1 0.5h0m1 2h0m1.5-0.5h0m0.5-2h0m0-1h0m0.5 5h0m3.5-1.5h0m1-1h0m2-2h0m1 4h0m1 0.5h0m-70 1.5h0m1.5 0.5h0m1.5-0.5h0m2 3.5h0m1-3h0m3.5 3.5h0m0.5-1h0m2.5-3.5h0m0.5 3h0m2.5 2h0m3.5 0h0m1-2.5h0m1-1.5h0m3 4h0m0.5 0h0m1 0.5h0m0.5-2.5h0m0 0.5h0m0.5 0h0m0.5-1.5h0m0.5 2h0m0.5 0h0m1-4h0m0 2h0m1 1.5h0m0.5 1h0m0.5-2.5h0m1.5 2h0m1 1h0m0.5 0h0m1.5-2.5h0m0 0.5h0m0.5-0.5h0m0 2.5h0m1-3h0m0.5 1h0m0-2.5h0m1 3h0m1-0.5h0m0.5-1.5h0m0.5 3h0m0-4.5h0m0 5h0m0-0.5h0m1-0.5h0m0.5-0.5h0m0.5 1.5h0m0-3h0m1 2h0m0-2h0m0 0.5h0m1 2.5h0m0.5-0.5h0m0-0.5h0m1-2h0m1 2h0m0 1h0m0.5-0.5h0m0 0.5h0m0.5-4.5h0m0.5 2.5h0m0-2h0m0 0.5h0m0-1h0m1 1h0m1-2h0m0 1.5h0m0.5 3h0m1-2h0m0 1.5h0m1-1.5h0m1.5 3h0m0 0h0m0.5-3.5h0m0 3.5h0m0.5-1.5h0m0.5 1h0m0.5-2h0m0 1.5h0m0.5-3h0m0 1h0m0.5 0h0m0.5-0.5h0m0.5 4h0m0.5-1h0m1 0.5h0m1-0.5h0m0.5-4h0m0 0.5h0m1 3h0m0 0h0m0.5-1h0m0 2.5h0m1-0.5h0m0.5 0.5h0m0.5-2h0m0 1h0m2.5-5h0m0.5 4.5h0m0.5-2.5h0m2-1.5h0m3 3h0m-71 5.5h0m6 0.5h0m0-3h0m1 1h0m1 2h0m1.5 0.5h0m0.5-3h0m0 1h0m1 1.5h0m1.5-3h0m1 4.5h0m1-2.5h0m4 0.5h0m1 2.5h0m2-3h0m0 2h0m0.5-0.5h0m1.5-2.5h0m0.5 2h0m0-2.5h0m0-0.5h0m1 4.5h0m0-2h0m1.5-2h0m0 0h0m0 4.5h0m0.5 0h0m0.5-1h0m0.5-4h0m0 1h0m0.5-1h0m0.5 1.5h0m1-1.5h0m0 3.5h0m0.5-2.5h0m0.5 1.5h0m0-3h0m0.5 5.5h0m1 0h0m0-1h0m0 1.5h0m0.5-3.5h0m0 0h0m0.5-1h0m1 1h0m0-0.5h0m0.5-0.5h0m0.5 3.5h0m0-2h0m0 0h0m0.5-1h0m0 1h0m1.5 1h0m0.5 0.5h0m1.5 0.5h0m1-2h0m0-2h0m0.5 4h0m0-5h0m0 1.5h0m0.5 3h0m0-4h0m0.5 0.5h0m1-1h0m0 5h0m0.5-1.5h0m0-0.5h0m1-1h0m0 1h0m0-1h0m0.5 1.5h0m0.5 0.5h0m0-3h0m0 0h0m0.5 4.5h0m0 0h0m0.5-3h0m0.5 0h0m0 3h0m0-3h0m0.5 0h0m0.5-1.5h0m0.5 3.5h0m0.5-1h0m0.5 2h0m0-2h0m0.5 2.5h0m0 0h0m0.5-1h0m0 0h0m0.5-1.5h0m0-3h0m0.5 0.5h0m0.5 2h0m0-2.5h0m0 3h0m0-3.5h0m0 4.5h0m0.5-0.5h0m0-4h0m1 3h0m0.5-1.5h0m0 2h0m0-2h0m2.5 4h0m0.5-4h0m0.5 1.5h0m0 1h0m0-3.5h0m0 3.5h0m0.5-3.5h0m0 0h0m0.5 5.5h0m0-3h0m0.5 0.5h0m0-1.5h0m0.5-1.5h0m0.5 2h0m0.5-1.5h0m0 4.5h0m0-5h0m0.5 5h0m0 0h0m0-1.5h0m0 0h0m0.5 0.5h0m0 0.5h0m0.5-4.5h0m0.5 4.5h0m0.5-1.5h0m0 2h0m1-2h0m0-2.5h0m0 1.5h0m0.5-0.5h0m0 0h0m0.5 3.5h0m0.5-0.5h0m0.5-0.5h0m0.5 1h0m0.5-0.5h0m0.5-1.5h0m0 1.5h0m0.5 1h0m0.5-5.5h0m0 4.5h0m0-2h0m3 1.5h0m0.5-4.5h0m1 3.5h0m-60.5 3h0m2 0h0m0 3.5h0m0.5-2.5h0m0-1.5h0m1.5 0h0m2.5 0.5h0m0.5 5h0m2.5-0.5h0m0 1h0m0 0h0m0-1h0m0.5-0.5h0m0-4h0m0.5 1.5h0m0 3.5h0m1-3h0m0 0h0m0-1.5h0m0.5 5h0m1-3h0m0.5-1.5h0m0 0h0m0.5 1h0m0-2h0m0 2h0m0.5 2h0m0-1h0m0.5-3.5h0m0.5 0h0m0.5 4h0m0-0.5h0m0 1.5h0m0.5 0h0m0-1.5h0m0 1.5h0m1.5-2h0m0.5 1h0m0.5 1.5h0m0-5.5h0m0.5 1h0m0 2.5h0m0-1h0m0.5 0.5h0m0.5-2h0m0 2h0m0.5-0.5h0m0-0.5h0m0 0.5h0m0.5-1h0m0 2.5h0m0-3.5h0m0.5 2h0m0.5-1h0m0.5 2.5h0m0-3h0m0.5 3.5h0m0.5 0.5h0m0.5-0.5h0m0.5-0.5h0m0-2.5h0m0.5 1.5h0m1-1h0m1.5 1h0m0-3h0m0 2h0m0.5 3.5h0m1-1h0m0-1.5h0m0.5 1.5h0m0.5 1h0m0-5h0m0.5 5h0m0-2h0m1-3h0m0.5 1h0m0.5 0.5h0m0.5-0.5h0m1-0.5h0m1 5h0m1-1.5h0m0-2h0m0 1h0m0.5-1.5h0m0-1.5h0m0 3.5h0m0-4h0m0.5 5.5h0m0-3h0m0.5 1h0m0.5 2.5h0m1-3h0m0 2h0m0.5-1h0m0.5-2h0m0 0.5h0m0.5-2h0m0-0.5h0m0.5 4h0m0-3h0m0 1h0m0 0h0m1 2.5h0m1.5-2h0m0.5-1.5h0m0.5 0.5h0m0 2h0m0.5 1h0m0-3.5h0m0.5 4.5h0m0.5-4.5h0m0 5h0m0-4h0m0-1.5h0m1 1h0m0-1h0m0.5 3h0m1-1h0m0 1.5h0m0 1h0m0.5 0h0m1.5-3.5h0m0.5-0.5h0m0.5 4h0m0.5-3h0m0 2h0m0.5-3h0m1 4.5h0m0-3.5h0m0.5 2h0m0.5-1h0m0 3h0m0-2h0m0.5-1h0m0-1.5h0m1 0h0m1.5 0h0m0-1h0m0.5 3.5h0m0.5 2h0m0-1.5h0m0.5-3.5h0m0 2.5h0m1 0h0m0-1h0m0 1h0m0.5 0.5h0m1 0.5h0m1 0h0m1-1h0m-64.5 2.5h0m1 1h0m0 0h0m1.5 2.5h0m0.5 1h0m3-1.5h0m0 2h0m2-1.5h0m1-0.5h0m1.5-1.5h0m0-1.5h0m0.5 2.5h0m0.5 0h0m2 0.5h0m0.5-0.5h0m0.5 3.5h0m0.5-2.5h0m0 0h0m0.5-1h0m0 1h0m1-3h0m0 0.5h0m0 4h0m0.5-3h0m0-1.5h0m0.5 3.5h0m0-1h0m1-2h0m1 2h0m0-1h0m0 4h0m0.5-3h0m0 0.5h0m0.5 2h0m0 0h0m0.5-1h0m0.5-4h0m0 3.5h0m0.5-3h0m0 2.5h0m0.5-3h0m0-0.5h0m0.5 1.5h0m0 2h0m1.5 0.5h0m0-0.5h0m0 2h0m0-5h0m0.5 1h0m0.5 2.5h0m0-2.5h0m0.5-1.5h0m0 0h0m0.5 2h0m0-1h0m0.5-0.5h0m0.5 2h0m0.5-2.5h0m0 1h0m0.5 2h0m0-3h0m0.5 5.5h0m0-2h0m1-1h0m1 0.5h0m0-1h0m0.5 0h0m0.5 2.5h0m0-2h0m0 0.5h0m0-2.5h0m0.5 3h0m1-2.5h0m0 3h0m0.5-0.5h0m0-1.5h0m0.5 1h0m0.5-0.5h0m0-1.5h0m0.5 4.5h0m0-1.5h0m0.5-3.5h0m0 2h0m1.5 2.5h0m0-2h0m0-1.5h0m0 2h0m1-0.5h0m0.5-1h0m0 0h0m0.5 3.5h0m0 0.5h0m0-3.5h0m1 1.5h0m1 1.5h0m0.5 0h0m0-1.5h0m0.5-0.5h0m1-1.5h0m0.5 1h0m0.5 1.5h0m0-3.5h0m0-1h0m0 5.5h0m0.5-0.5h0m0-3.5h0m0.5 4h0m0.5-5.5h0m0 4.5h0m1 0.5h0m0 0h0m0-2.5h0m0-0.5h0m0.5 0h0m0 0.5h0m0.5-1.5h0m0-0.5h0m0.5 4h0m0-2.5h0m0.5-0.5h0m1.5 3h0m0 0.5h0m0.5-0.5h0m0.5-3.5h0m0.5 4.5h0m0-4.5h0m1 2h0m0.5-2h0m0 1h0m1 1h0m0-0.5h0m0 0.5h0m0.5-0.5h0m0.5 2h0m0 1.5h0m2.5-4.5h0m0.5-0.5h0m0 1.5h0m0-1h0m0 2h0m0-2.5h0m0 0.5h0m1-0.5h0m0 1h0m0.5-0.5h0m0.5 0.5h0m0.5 0h0m0-2h0m0 1h0m0.5 1h0m0.5 4h0m0.5-1h0m-56 3.5h0m4.5 3h0m0.5-2h0m3 0.5h0m0-1h0m2 1.5h0m0.5-0.5h0m0-2.5h0m0 1h0m1-0.5h0m0 3h0m0.5-1.5h0m0 2.5h0m0-4.5h0m0.5 3h0m0-1.5h0m0.5-0.5h0m1 1.5h0m0.5 0.5h0m0-1.5h0m0.5 0.5h0m0.5-2h0m0 3h0m0 0.5h0m0.5-3.5h0m0.5 1.5h0m0.5-0.5h0m0.5-1h0m0.5 2.5h0m0.5-2h0m0.5 3.5h0m0 0h0m0.5 0h0m1-2h0m0 2h0m0-1.5h0m0-1h0m0-1h0m0.5-1.5h0m1 0h0m0 0.5h0m0 2.5h0m0.5-1h0m0 1.5h0m0-1.5h0m0 2.5h0m0-2.5h0m1-2h0m0 2h0m0.5-1.5h0m0.5 0h0m0 3.5h0m0.5-3.5h0m0 1.5h0m0-1.5h0m0.5 5h0m0-4.5h0m2 2h0m0-1h0m0.5-1.5h0m0.5 0.5h0m0.5-1h0m0 4.5h0m0.5-1.5h0m0 1h0m1.5-4.5h0m0 2.5h0m1 1.5h0m0-2h0m0-0.5h0m0.5 0.5h0m0.5-1h0m0.5 4.5h0m1 0h0m1-5.5h0m0.5 1h0m0.5 0.5h0m0.5 1.5h0m0.5-3h0m0 6h0m0 0h0m0-2.5h0m1-1.5h0m0 2.5h0m0-0.5h0m0 0.5h0m0.5-4h0m0-0.5h0m0 0h0m0 0h0m1 6h0m0.5-2.5h0m1 0.5h0m1-1h0m0-3h0m0.5 2.5h0m0-0.5h0m0 0.5h0m0.5 0.5h0m0 0h0m0 2h0m0.5-3h0m0 3h0m0.5-1h0m1.5-0.5h0m0.5-3h0m0 1.5h0m0.5 1.5h0m0.5-0.5h0m0.5 3h0m0.5 0h0m0.5-4h0m1 1h0m0.5 1h0m0 0h0m0.5-2.5h0m0.5 1.5h0m0 2h0m0 0h0m0.5 0h0m0-2.5h0m0.5 3h0m0.5-1.5h0m0.5-1.5h0m0 0h0m0-2h0m0.5 0h0m0.5 2h0m0 1h0m1-1h0m0 3h0m0.5-0.5h0m0.5-4h0m0 2h0m-52 4h0m1 1.5h0m0.5-0.5h0m0.5-1h0m0.5 2.5h0m0 1h0m0-2h0m2.5-2h0m0.5 0.5h0m0 1h0m0 1h0m0.5-0.5h0m0-1.5h0m0.5 2.5h0m1.5-3h0m0 2h0m0-1h0m0 2h0m0.5 1.5h0m0.5 0.5h0m0-2.5h0m0.5 1h0m0.5 1.5h0m0 0h0m0-1h0m1.5-2.5h0m0.5 2h0m0.5-3h0m0.5 1.5h0m0.5 0.5h0m0 1h0m0.5-2.5h0m0.5 0h0m0 3.5h0m1 1h0m0-2.5h0m0 2h0m0-1.5h0m0.5 0h0m0 1h0m2-3.5h0m0.5-1.5h0m0 2.5h0m0 3h0m0.5-3.5h0m0 3.5h0m0-3.5h0m0.5-2h0m0 2h0m0 2.5h0m0.5 1h0m0-4.5h0m1 1.5h0m0 1.5h0m0.5-1.5h0m1 3h0m0.5-0.5h0m0.5-4.5h0m0 0h0m0 5h0m1-2h0m0.5 2.5h0m0.5-5h0m0.5 3.5h0m1.5-1h0m1-1h0m0-0.5h0m0.5 1.5h0m0 1.5h0m0.5-3h0m0-0.5h0m0.5 3.5h0m0 1h0m0-0.5h0m2.5-0.5h0m0-0.5h0m1 1.5h0m0-4.5h0m0.5 0.5h0m0-0.5h0m0.5 4.5h0m0.5-3.5h0m0 2.5h0m0.5-3h0m0 0h0m0 2h0m0 0h0m0.5 0.5h0m0-3h0m0.5 1h0m0 0h0m0.5 0h0m0.5-2h0m0 2h0m0.5 1.5h0m1-2h0m0 0.5h0m0.5-0.5h0m0 2.5h0m0.5-1h0m0-2.5h0m0-0.5h0m0.5 4.5h0m0.5-1.5h0m0.5 0h0m1.5-1.5h0m0 2h0m2 0h0m0 1.5h0m0.5-0.5h0m0 0h0m0.5-0.5h0m0.5 1.5h0m0-3h0m0-2.5h0m0 1.5h0m0.5 0.5h0m0.5 0h0m0 2h0m0-4h0m0.5 2h0m1-2.5h0m0 1h0m0 3h0m0.5-2.5h0m0.5 0h0m0 3h0m0 1h0m0.5-1h0m1.5-1.5h0m-47.5 6h0m2.5-2h0m1-0.5h0m1-0.5h0m1.5 2.5h0m1-1.5h0m0.5 0.5h0m3-0.5h0m1-0.5h0m0 0.5h0m0 1.5h0m1-1h0m0.5 4h0m0 0h0m0.5-3h0m0 0.5h0m0 2.5h0m0-4.5h0m0.5 4h0m0.5 0h0m1-4.5h0m0 0h0m0 1h0m0.5 2h0m0 0.5h0m0.5-3.5h0m0 2.5h0m0.5-3h0m0 1h0m0.5-0.5h0m0 3h0m0-1.5h0m0.5-1h0m0 0.5h0m0-1h0m0.5 2h0m0.5-2h0m0.5 0h0m0 5h0m0-4h0m0 4.5h0m1-4h0m1 1.5h0m1-1h0m0.5 2h0m0 1h0m0.5 0h0m0.5-5h0m0.5 2.5h0m0.5 1.5h0m0-3.5h0m0.5 0.5h0m0 0.5h0m1 1.5h0m0-1h0m0.5 1h0m0.5-1h0m0 3h0m0.5-3.5h0m1.5 0h0m0 3h0m1.5-3.5h0m0.5 1h0m0 2.5h0m0-2.5h0m0-1.5h0m1 1.5h0m0 0.5h0m0.5 0.5h0m0-3.5h0m0.5 4h0m0 0h0m0-3h0m1 2.5h0m0-0.5h0m0.5 1h0m1 1.5h0m0-3h0m0 1.5h0m2-3.5h0m0 5h0m0-2h0m0 0.5h0m0.5-1.5h0m2-2h0m0.5-0.5h0m0 1h0m0 1.5h0m0.5 0h0m0.5-0.5h0m0.5-1.5h0m1-0.5h0m-29 6.5h0m5.5 0.5h0m6.5 1h0m2-1.5h0m2 0h0" stroke="#e23a2e" stroke-width="1.9" stroke-linecap="round" fill="none"/>
<path d="M455 285h0m4-2h0m7-2h0m0 2h0m2.5 1.5h0m0.5-3h0m1 2.5h0m0.5-1h0m1 2h0m0-1h0m4.5 0h0m4.5 1h0m1-1.5h0m2 0.5h0m0.5 0.5h0m2-0.5h0m2-1h0m0.5 2h0m0.5-2.5h0m3.5 1h0m0.5 1h0m1-4h0m2 4.5h0m0.5-3h0m0.5 2h0m2 1h0m2-0.5h0m0.5-2h0m0.5 0h0m4.5 1h0m0.5 0h0m2.5 1.5h0m3-0.5h0m2.5-1h0m3.5 0h0m4-1h0m0.5 1.5h0m-74 3h0m3-0.5h0m2 0.5h0m1 0.5h0m0 3.5h0m0.5-3.5h0m0 1h0m1.5-1.5h0m0 4h0m0.5-3h0m0.5-3h0m1 3.5h0m0.5-2h0m2 1.5h0m0-0.5h0m1.5 1h0m0.5-2.5h0m0.5 0.5h0m0 2h0m0-3h0m1 1.5h0m0 0h0m0.5 0.5h0m0.5-1.5h0m0-1h0m0.5 2h0m0.5 0h0m1-1h0m0.5 3.5h0m0-4h0m0.5 5h0m0-0.5h0m2-0.5h0m0-3h0m1 1.5h0m1-2h0m0 2.5h0m1-2.5h0m0 3.5h0m0-1.5h0m1-2.5h0m1 2.5h0m0 1.5h0m0.5 1h0m0-5.5h0m1 3.5h0m0 1h0m1 0h0m0.5 1.5h0m0-3h0m0.5 1.5h0m1-0.5h0m1-0.5h0m0-3.5h0m0.5 1.5h0m0.5 0.5h0m0.5 1h0m0 0h0m1.5-1h0m0 0h0m0.5 3.5h0m0.5-4h0m0.5 4h0m1.5-2.5h0m1 1h0m0.5-3h0m0 3h0m0-0.5h0m0.5 0h0m0.5-2.5h0m0.5 0.5h0m0 0h0m0-1h0m0.5 2h0m0.5 0.5h0m0 1.5h0m0.5-3.5h0m1 1.5h0m0 0h0m0 0h0m1 2.5h0m0-1.5h0m1-0.5h0m1 0.5h0m1-3h0m0.5 3.5h0m0-2h0m0.5 3.5h0m0-0.5h0m0.5-4.5h0m1 2h0m0.5 2h0m0.5-0.5h0m0-3.5h0m1 0h0m0 4.5h0m1.5-2.5h0m1 0h0m0.5-1h0m0.5 4.5h0m0-2h0m0.5-0.5h0m0 0h0m0-1.5h0m0.5 3h0m1-4h0m0.5-1h0m0.5 5h0m0.5-1.5h0m0 0.5h0m1-2h0m1 0.5h0m0.5 2h0m0-4h0m1 0.5h0m1 2.5h0m1-2.5h0m1 1h0m0.5 0h0m0 1.5h0m1-2.5h0m3 3.5h0m0.5-4.5h0m0 1.5h0m0 3.5h0m1-4h0m0 3.5h0m0.5 0.5h0m0-3.5h0m0 1h0m0.5 1h0m2-1.5h0m0 3.5h0m0-2.5h0m0 2h0m0.5-0.5h0m2 1.5h0m0.5-0.5h0m-79.5 1.5h0m3 0h0m1 0.5h0m0.5 2.5h0m0.5 0.5h0m0-3.5h0m0 3h0m0.5 0.5h0m0.5 0.5h0m1-4h0m0.5 3.5h0m0.5 0.5h0m0-0.5h0m0-3.5h0m0.5 1h0m0-0.5h0m1.5 2.5h0m0 1.5h0m0.5-1h0m1-2.5h0m0.5 2h0m0.5-1h0m0.5-0.5h0m1-2h0m0-0.5h0m0 4.5h0m0.5-3h0m1 2h0m0-2.5h0m0.5 2.5h0m0.5-3h0m0.5 3.5h0m0.5-2h0m0 3.5h0m0.5-4.5h0m0 1.5h0m0.5 0.5h0m0-1h0m1.5 3.5h0m0.5-1h0m2-4.5h0m0.5 3h0m1-3h0m0.5 1.5h0m0.5 2.5h0m0.5-0.5h0m0.5-0.5h0m0 1h0m1 1.5h0m0.5-1h0m0-2.5h0m0.5 3h0m0-1h0m1.5-3.5h0m0-0.5h0m0 2h0m1 0h0m0-1.5h0m0.5 5h0m0 0.5h0m1.5-5.5h0m1 5h0m0.5-2h0m0.5 1h0m1-3h0m0-0.5h0m1.5 0h0m1.5 2h0m0-2h0m0 2h0m1-2.5h0m0.5 0.5h0m0.5-1h0m0.5 1.5h0m0.5 2h0m0 1h0m1-3.5h0m0 4.5h0m1-1.5h0m0-3.5h0m0 3h0m0.5 2h0m0.5 0h0m0-0.5h0m0.5-2.5h0m0.5 1.5h0m0.5 0.5h0m0-3.5h0m0.5-0.5h0m1 2h0m0 1.5h0m0.5 1.5h0m1-2.5h0m1-0.5h0m1.5-0.5h0m1 3.5h0m0.5-2h0m0.5 2h0m0-2.5h0m0-0.5h0m0.5 1.5h0m0.5 0h0m0-4h0m0 5h0m0.5-3h0m1 1.5h0m1-0.5h0m1 0h0m0.5 0.5h0m0 0h0m0 0h0m0.5-1h0m0 0h0m0.5 3h0m0-5.5h0m0.5 1h0m0 1.5h0m0-1.5h0m0 4.5h0m0-4.5h0m0.5 1.5h0m0 0h0m0.5 3h0m0 0h0m0.5-1.5h0m1 1.5h0m0.5-4.5h0m0 4h0m0.5-3.5h0m0.5 3.5h0m0.5 0.5h0m0-5h0m0 3.5h0m1-0.5h0m0.5 0h0m0.5-3h0m0.5 4h0m0.5-3h0m0 4h0m0 0h0m0.5-1h0m0.5-2.5h0m0-1.5h0m1 0.5h0m0 4.5h0m1-1.5h0m0.5 0.5h0m1-4h0m0.5 3.5h0m0.5-3h0m0 1.5h0m0.5 0h0m1-2h0m0 0h0m0 3h0m0.5-2h0m1 1.5h0m0-0.5h0m2.5 1h0m1.5 1.5h0m0-3h0m1 4h0m1-2.5h0m-76 3.5h0m0-0.5h0m0.5 4.5h0m0.5-4.5h0m0.5 0h0m0 4.5h0m0.5-0.5h0m0.5-1h0m1-3h0m0.5 3.5h0m0.5-3.5h0m0.5 0h0m0 2.5h0m1-2.5h0m0.5 2.5h0m1.5-1.5h0m0 3h0m0-2.5h0m0 0.5h0m2 0h0m0 2h0m0-3h0m0.5 1h0m0 1h0m0.5 1.5h0m0.5-2h0m1-1.5h0m0 2.5h0m0 1.5h0m0.5-4h0m0.5 2h0m0.5 1.5h0m0.5-3.5h0m0.5 4.5h0m0.5-1.5h0m0-4h0m0.5 2h0m2-0.5h0m0.5 0h0m0 1h0m1 0.5h0m0.5-2.5h0m0-1h0m0.5 2.5h0m0-2h0m0-0.5h0m0.5 6h0m0-3.5h0m0.5-0.5h0m0 3.5h0m0.5 0.5h0m0 0h0m0.5-1h0m2-4.5h0m0.5 1h0m0.5 1h0m1 0.5h0m0 2.5h0m3.5-2.5h0m0 1.5h0m1 0h0m0 0h0m0.5 0.5h0m0-2.5h0m1.5-1h0m0.5 1.5h0m0 0h0m0.5 3h0m0-2.5h0m2-0.5h0m0.5-0.5h0m0.5 1.5h0m0-3.5h0m0 2.5h0m0.5 1h0m0.5-4h0m1.5 5h0m0-5h0m0 2.5h0m0.5 0h0m0-0.5h0m0-1h0m0.5 1.5h0m0.5-2h0m0.5 1h0m0.5-1h0m0.5 3h0m0-1h0m0 0h0m0.5 0h0m0 0h0m0-1.5h0m0 3.5h0m0 1h0m0.5-5h0m0 3h0m0 1.5h0m0 0.5h0m0.5-2h0m0-2.5h0m0 3.5h0m1.5-0.5h0m1.5-0.5h0m1 2h0m1-2h0m0.5 0h0m0.5-3.5h0m0.5 1h0m1 0h0m0 1.5h0m1 2.5h0m0.5 0h0m0.5-1h0m0.5-3.5h0m0.5 1h0m0 1h0m0 1h0m0-2.5h0m3 3h0m0-2h0m1 2.5h0m0.5-1h0m0-3.5h0m0 2h0m0 2.5h0m1-2.5h0m0.5-0.5h0m0.5 1h0m0 3.5h0m0.5-5.5h0m3 2.5h0m0.5-2.5h0m0 1h0m1 2h0m0 1h0m0.5-3.5h0m0-0.5h0m0.5 5h0m0.5-1h0m0 0h0m0.5 0h0m0.5-3h0m0 4h0m1 0h0m0.5-1.5h0m0.5 0.5h0m0 1h0m1-4h0m0 0.5h0m0.5-0.5h0m0 4.5h0m0-4h0m0 1h0m0.5-1h0m0-1.5h0m0.5 3.5h0m0-3.5h0m0 3h0m0-0.5h0m0 0h0m0.5 2h0m0 1h0m0.5-4.5h0m0.5-1h0m0.5-0.5h0m0.5 3.5h0m0.5 2h0m1.5 0h0m0 0h0m0.5-3.5h0m1.5 1h0m-80 4.5h0m2.5-1.5h0m1.5 1h0m2.5 4h0m0.5-3.5h0m0.5 0.5h0m0 3.5h0m1-0.5h0m0.5-1.5h0m1-2.5h0m1.5 0h0m0 4.5h0m0.5-3.5h0m0 2.5h0m1-0.5h0m0-4h0m0 2.5h0m0-2h0m0 4h0m0.5-4h0m0 2.5h0m0.5 1.5h0m1.5-1h0m0 0.5h0m3 1h0m0.5 1h0m0-0.5h0m0-5h0m0.5 2.5h0m3.5 2.5h0m0.5 0h0m0.5-2h0m0-2.5h0m0-1h0m0 2h0m0.5-1.5h0m0.5 0h0m0 3.5h0m0.5-3.5h0m0.5 1.5h0m0-1.5h0m0.5 1.5h0m0 2h0m1 2h0m0.5-1.5h0m0.5-4h0m1 0.5h0m1 0.5h0m0.5 0h0m1 3.5h0m0.5-4.5h0m0 2.5h0m0.5-1h0m0 1.5h0m0.5-3.5h0m0 5h0m0.5-4h0m0-0.5h0m0.5 2.5h0m0.5-0.5h0m0.5-0.5h0m0-1h0m0 2.5h0m0.5-3.5h0m0.5 0.5h0m2 4.5h0m0-1h0m1-3h0m0 2h0m0 1h0m2 1.5h0m0.5-3h0m1 1h0m0.5-1.5h0m0 3h0m0-2.5h0m0.5 1h0m0 1.5h0m0-1.5h0m0.5-1.5h0m3-1h0m1 4h0m0-3h0m0-1h0m0.5 0h0m0.5 2.5h0m0.5-2h0m0.5-1h0m0.5-0.5h0m0.5 2h0m1 1.5h0m0-0.5h0m0.5-2.5h0m0 0.5h0m0.5-0.5h0m0 4h0m0 1h0m0.5-5.5h0m0.5 5h0m0-3h0m0.5 4h0m1.5-5h0m0-0.5h0m1-0.5h0m0 2.5h0m0.5 1.5h0m0.5-3h0m0.5 4h0m0-4h0m0.5 4h0m1.5-1.5h0m0 2h0m1-2.5h0m0.5 2h0m1-4.5h0m0 3.5h0m0 1.5h0m1.5-3h0m0 1h0m0.5-3.5h0m1 0.5h0m0 5.5h0m1.5-4.5h0m0.5-0.5h0m0 4.5h0m1-2.5h0m0.5 2h0m0.5 0.5h0m0-4.5h0m0.5 3.5h0m0-3.5h0m0.5 4.5h0m0-3.5h0m0.5 0h0m0.5-1h0m1.5 3.5h0m1-0.5h0m1.5 0.5h0m0-0.5h0m0.5-2h0m0.5 1h0m1.5-1.5h0m0-0.5h0m0.5 2.5h0m-72.5 2.5h0m1 1.5h0m0.5 2h0m0 0h0m0.5-1.5h0m0 1h0m0-0.5h0m2.5 3h0m0.5-2.5h0m0.5 1h0m1.5-0.5h0m0-1h0m0.5 1.5h0m0 0.5h0m0.5-0.5h0m0 0.5h0m0.5-3.5h0m0.5 3.5h0m0.5-2.5h0m0 2h0m0.5-1h0m0.5 2h0m0-2h0m2-1.5h0m0 4h0m0.5-4.5h0m0 0.5h0m0.5 0.5h0m0.5 3.5h0m0-5h0m1.5 2.5h0m0 0h0m0.5 2.5h0m0-1h0m0 1.5h0m0-1h0m0.5-2.5h0m0.5 0h0m1.5 1h0m1.5-1.5h0m0 0.5h0m0.5-0.5h0m0.5 2.5h0m0.5-1.5h0m0.5-2h0m1 4.5h0m0-0.5h0m1 0h0m0-3.5h0m1 3h0m1-3.5h0m0 3.5h0m1 0h0m0.5-0.5h0m0-2.5h0m0.5 2h0m0.5 1.5h0m0-0.5h0m0-2.5h0m0 1h0m1-2h0m0 3.5h0m1-3.5h0m1 3.5h0m0.5-3.5h0m0 4.5h0m0.5-1.5h0m0.5-3h0m1-0.5h0m0 5.5h0m1-4.5h0m0.5 2.5h0m1-1h0m0-2h0m0.5 0h0m1-0.5h0m0.5 1.5h0m1-0.5h0m0-1.5h0m1 3.5h0m2.5-1h0m0 0h0m0.5 0.5h0m0 2h0m1-0.5h0m0.5 0.5h0m1-3.5h0m1.5 2.5h0m1-0.5h0m0-3.5h0m1 4h0m0-2h0m1.5 2h0m0.5-2.5h0m0 3h0m0.5-1h0m0.5 0.5h0m0.5 0.5h0m1-4h0m0 5.5h0m0.5-2h0m0.5 0h0m0.5-3h0m0.5 4h0m0 0h0m1.5 0h0m0 0.5h0m0.5-5.5h0m0.5 5h0m1-1h0m0.5-3h0m0 3h0m0 0h0m0-2h0m0.5 0.5h0m0 0.5h0m1-2h0m0 1.5h0m0-2h0m0.5 1.5h0m1.5 2h0m0-1h0m0.5 2h0m0.5-5h0m1 3h0m0-1.5h0m0-1h0m0 1h0m0.5-1h0m0 2h0m0 0h0m1 1.5h0m0-4h0m0.5 5.5h0m0-4h0m0 0h0m1 4h0m0.5 0.5h0m0.5-5.5h0m0 2h0m0.5-1.5h0m1 4.5h0m0.5-2h0m0-2h0m0.5-0.5h0m0 1.5h0m0.5 3h0m0.5 0h0m0-3.5h0m1 1.5h0m0.5 1.5h0m-69 1h0m6 2h0m2-1.5h0m0.5 2.5h0m3.5 0h0m0-0.5h0m0.5 1.5h0m0-0.5h0m0-3h0m1 2.5h0m0.5-2.5h0m0 1.5h0m0.5 0.5h0m0.5-1h0m2-1h0m0.5 4.5h0m0.5-4.5h0m0-0.5h0m2 4h0m0.5 1.5h0m0-2.5h0m0.5-3h0m0.5 3.5h0m0.5-2.5h0m0.5-0.5h0m0 0h0m0 5h0m0.5-1.5h0m0 0.5h0m1.5-3.5h0m0.5 2h0m0.5 1.5h0m0.5-3h0m1.5 4h0m0.5-5.5h0m0 2h0m2-1h0m0.5 2h0m1 2.5h0m0-0.5h0m0-4.5h0m0.5 0h0m0.5 3h0m0 1h0m0.5-3.5h0m0 4.5h0m1-3.5h0m0.5-0.5h0m0.5 1.5h0m0.5 0.5h0m0.5 2h0m0-1h0m0.5 0h0m0-1.5h0m0.5 2h0m0-2.5h0m1 0h0m0 2.5h0m2.5-2.5h0m0 1h0m1-2h0m0 1.5h0m0.5-2h0m0 0.5h0m1 1h0m0.5 1.5h0m0.5-1.5h0m1 1h0m0-1h0m2-0.5h0m0.5 1.5h0m1.5 2h0m1 0.5h0m0.5-3.5h0m0.5 3h0m0-5.5h0m1 5h0m0-0.5h0m0.5-2.5h0m1-1h0m1 0h0m1 0.5h0m0.5 4h0m0.5-4h0m0 4h0m0.5-2.5h0m0 0h0m0.5-1.5h0m0-1h0m0.5 4h0m0-4h0m2.5 3.5h0m0.5-2.5h0m0-1h0m0.5 5.5h0m0.5-3.5h0m0 2.5h0m0.5-1h0m0.5 0h0m0.5-1h0m0.5 1.5h0m0.5 1.5h0m0-1.5h0m0-1.5h0m0-1h0m0 0h0m0 0h0m3-2h0m0.5 4h0m0.5-4h0m0.5 0.5h0m0 1h0m0 2h0m0.5-0.5h0m0.5-1.5h0m1 1h0m-52.5 5h0m3 0h0m0-1h0m1.5 0.5h0m2 0h0m0.5 1.5h0m1-2h0m3.5 0.5h0m1 2h0m0.5-0.5h0m1.5-1.5h0m0.5 0.5h0m1.5-1h0m2 2h0m2 1.5h0m1-1h0m0 1h0m0.5 1h0m1 0.5h0m0.5-4h0m0 0.5h0m0 0.5h0m0.5-0.5h0m0 1h0m0-2h0m0.5-1h0m0.5 4.5h0m1.5 0.5h0m0-0.5h0m1-4h0m1 3h0m0.5-0.5h0m0.5 1.5h0m0.5 0.5h0m0.5-2h0m0 0.5h0m1 1h0m0.5-1.5h0m0 0h0m0 3h0m0.5-1.5h0m0-0.5h0m0-1.5h0m0-1.5h0m0-0.5h0m1 4.5h0m0.5-5h0m1 2h0m0 3h0m1.5-4h0m0-0.5h0m0.5 0.5h0m0.5 1h0m0-0.5h0m0.5 4h0m0.5-5h0m0 0.5h0m0.5-0.5h0m0 3.5h0m0-2h0m1 0.5h0m0.5 2h0m0-4h0m0.5 3.5h0m0-2.5h0m0 0.5h0m0.5 3.5h0m0.5-1h0m0.5-3h0m0.5 1.5h0m0.5-2.5h0m0.5 2h0m0 2h0m0.5 1h0m0.5-1h0m1 0.5h0m2-1.5h0m-18 3.5h0m3 0.5h0m5.5 0.5h0m4.5-1.5h0m1.5 0.5h0m5-0.5h0" stroke="#44b4dc" stroke-width="1.9" stroke-linecap="round" fill="none"/>
<path d="M434.5 206.5h0m1-0.5h0m8.5 1h0m-18.5 4.5h0m0.5 0h0m0-1h0m0.5-1h0m0-1h0m0 3.5h0m0-0.5h0m0.5-3h0m0 0.5h0m0 0.5h0m0.5-2.5h0m0.5 4h0m0-1.5h0m0 1.5h0m1-1.5h0m0 0.5h0m1-1h0m1.5 3.5h0m0-4.5h0m0 2.5h0m1-1h0m0.5 0h0m0 0.5h0m1-2.5h0m1-0.5h0m0.5 0.5h0m2 2.5h0m0.5-0.5h0m0 1h0m0.5 1.5h0m0.5 0h0m1.5-2h0m0.5 2.5h0m0-4.5h0m1 1h0m0.5 2h0m0.5-0.5h0m0 1.5h0m0.5-0.5h0m0-3.5h0m0 0.5h0m0 3.5h0m0.5-3h0m0-1h0m0 5h0m0.5-3.5h0m0.5-2h0m0.5 2h0m1 0.5h0m0 2h0m1 0h0m0.5-2h0m1-0.5h0m17 7.5h0m6.5 0.5h0m11.5 0h0m2 1h0m6.5 0h0m-27.5 4.5h0m0.5-2.5h0m1 4h0m1-1.5h0m0-3.5h0m1.5 0h0m1 4h0m1-4.5h0m0.5 1h0m17.5 3.5h0m3-3h0m2 0.5h0m3 2h0m1 0h0m2-2.5h0m2.5 4h0m0-4h0m1.5 4h0m0.5-0.5h0m1.5-3h0m1.5-1.5h0m2 4h0m3.5 1h0m0.5-2h0m3 1h0m4-2h0m2 1h0m5.5 2h0m3 0.5h0m-66.5 4h0m1.5-3.5h0m3 0h0m2 1.5h0m5.5-2h0m7.5 1.5h0m2-0.5h0m4-0.5h0m2.5 5h0m4-1.5h0m0.5-1h0m0 0.5h0m2.5 2h0m1.5-0.5h0m0 1h0m3-6h0m2 6h0m7-5.5h0m7.5 1h0m2 2h0m0-3h0m0.5 4h0m0 0.5h0m0.5-4.5h0m0.5 3.5h0m1 1h0m2 0.5h0m1.5-0.5h0m0.5-2.5h0m2-2h0m1 3h0m0.5 2h0m0.5-1.5h0m0.5-3.5h0m1 3.5h0m1.5-1h0m0.5 1.5h0m0 1h0m0.5-1.5h0m1-1.5h0m1 3h0m4.5 0h0m5 0h0m1-0.5h0m1.5-2h0m-84 7.5h0m8.5-0.5h0m0.5-2.5h0m10 4.5h0m1-4h0m2 2h0m1-1.5h0m3.5 1.5h0m0 1.5h0m6 0h0m5.5-5.5h0m0 6h0m0.5-5h0m0.5 4h0m5 0.5h0m0.5-3h0m2.5 1.5h0m0-1.5h0m1 1.5h0m1 0h0m0.5-1h0m0.5 1h0m1-2.5h0m1 4h0m1 0.5h0m1-5h0m0.5 0h0m0.5 3h0m0.5 0.5h0m0-3.5h0m0 0h0m0.5 2h0m0.5-2h0m0 2h0m0-2.5h0m0.5 3.5h0m0 0h0m0-1h0m1-0.5h0m0 1.5h0m1-2h0m0.5-2h0m1 0.5h0m1 4.5h0m0-4h0m0.5 1.5h0m0-2h0m0.5 1.5h0m1.5 0h0m0 3.5h0m0-5.5h0m0.5 1.5h0m1 0.5h0m1 3h0m1-1h0m1-2h0m0.5 3h0m0.5-4.5h0m0.5 5.5h0m1.5-5.5h0m0.5 5.5h0m0-4.5h0m0 1h0m0.5 1.5h0m0.5-1h0m1.5 1.5h0m0-2h0m0.5 0h0m0 1h0m0 2h0m1-1h0m0.5 1.5h0m0.5-4h0m0 3h0m0-4.5h0m0.5 4.5h0m1-4.5h0m0.5 0.5h0m0 0h0m2 4h0m2.5 0h0m1-2.5h0m0.5 2.5h0m0-0.5h0m1-1.5h0m0 1h0m1-2h0m0 1h0m1-1h0m4.5 3.5h0m-76.5 1.5h0m14-1h0m5 3h0m0-1h0m0.5 1.5h0m11 1.5h0m2-5h0m0 3.5h0m0.5-2h0m0.5 0.5h0m0.5-1.5h0m1.5 0h0m0.5 2.5h0m1-0.5h0m2.5-2h0m0.5 0h0m0 1.5h0m0.5-1.5h0m0.5 2.5h0m0.5 1.5h0m1.5 0.5h0m0.5-1.5h0m1.5 2h0m1-3h0m1.5 0h0m0.5 0.5h0m1 2.5h0m0-3h0m0.5-1h0m0.5 2h0m0.5-0.5h0m0 2h0m0-4h0m1.5-1h0m2.5 5h0m0.5-4.5h0m0.5 3.5h0m1 0.5h0m0.5 0h0m1-3h0m0 3h0m1-3h0m1.5 2.5h0m1 0.5h0m0-3h0m0 1h0m0.5-1.5h0m1 1.5h0m0 2.5h0m1-1h0m2-3.5h0m1 3.5h0m0.5-2.5h0m1.5 3.5h0m0 0h0m0-3.5h0m0 2.5h0m0.5-4h0m0 0.5h0m1 3.5h0m0-0.5h0m1-2h0m0.5 2.5h0m0-0.5h0m1-0.5h0m0.5 1h0m0.5-3.5h0m2.5 4h0m3 0.5h0m1 0h0m1 0.5h0m-78 1h0m5 1.5h0m0 0h0m2.5-1h0m1.5 2.5h0m5.5 1.5h0m6.5-0.5h0m3-0.5h0m5-4h0m1 0.5h0m0.5 5h0m0.5-2h0m1-2.5h0m0 4h0m1-3h0m0-1.5h0m0 0.5h0m0 1.5h0m2.5-1h0m0.5 4.5h0m0.5-1h0m1-3h0m0 2h0m2.5-3.5h0m0.5 3.5h0m0-3h0m1.5 1h0m0 0.5h0m0 0.5h0m0.5 2.5h0m0.5-2h0m0-3.5h0m0.5 2.5h0m0.5-1h0m0.5 1h0m0.5 1.5h0m0.5 1h0m0.5-4.5h0m0.5 4h0m1-4h0m0.5 4.5h0m2-3h0m0 2h0m0.5-1.5h0m0.5-1.5h0m0.5 4.5h0m0-1h0m0.5 1h0m1 0h0m0-4h0m0.5-0.5h0m0.5 3.5h0m0-0.5h0m0.5-0.5h0m1.5-1.5h0m0 2.5h0m0.5 1h0m0-4h0m0.5 0h0m0.5-0.5h0m0 2.5h0m0.5 2h0m0-1.5h0m0.5-1.5h0m0.5 3.5h0m0.5-3h0m0.5 0h0m0 0h0m0.5-0.5h0m0-0.5h0m0 1.5h0m0.5-2h0m1-0.5h0m0 4h0m1-1h0m0-3h0m0.5 1h0m0-1h0m1-0.5h0m0 2h0m0.5-2h0m0.5 1.5h0m0.5-1h0m0 0.5h0m1.5 4h0m0.5-4.5h0m1 4h0m0-1.5h0m0.5 0h0m0.5 0.5h0m0.5-3h0m0.5 1h0m0.5 2h0m0-2h0m0.5 0.5h0m0 0h0m0.5-2h0m1 0h0m1 0.5h0m1 3h0m0-3h0m1 4h0m0.5 0h0m-64.5 2h0m11 0h0m1.5 2h0m1.5-1.5h0m4.5 0h0m3-1h0m1 1.5h0m0-0.5h0m0.5 3h0m1.5-2h0m0-0.5h0m0.5 1.5h0m1-2.5h0m0.5 3.5h0m0.5-4.5h0m1 1h0m0.5-0.5h0m0 1.5h0m0.5 1h0m1-2.5h0m0.5 0h0m1 4.5h0m0-1.5h0m0.5-2h0m0 4h0m0.5-5h0m0.5 2h0m0-1h0m0.5 0h0m0.5 2h0m1-2.5h0m0 0.5h0m1 4h0m0.5-3h0m0 0h0m0.5-1.5h0m0 4.5h0m0.5-1.5h0m2.5-1.5h0m0.5 0.5h0m1 2h0m0-5h0m1.5 4h0m0.5-3h0m0.5 5h0m0-4h0m0.5 0.5h0m0.5-2h0m0 1h0m1.5 0.5h0m0 1h0m0.5 2.5h0m1.5 0h0m0-3h0m0.5 2h0m0-3h0m0.5-1.5h0m0 4h0m1.5-3.5h0m0 3.5h0m4-1.5h0m0 2.5h0m1-4.5h0m0 4h0m0.5-4h0m0 1h0m0.5 3.5h0m0-2.5h0m1 1h0m0.5 0.5h0m0 2h0m1-1.5h0m0.5-3.5h0m1.5 1h0m0.5 2.5h0m0.5 0h0m-47.5 3.5h0m11.5-1.5h0m3.5 2h0m0.5-2h0m1.5-0.5h0m2 2.5h0m1.5-0.5h0m0.5-2h0m2.5 1h0m0-0.5h0m1 1h0m3-1h0m2 0h0m0.5 1.5h0m1.5-1h0m3 0.5h0m5-1h0m2 0h0m6.5 0.5h0" stroke="#2d4a96" stroke-width="1.9" stroke-linecap="round" fill="none"/>
<path d="M548.5 248.5h0m1-0.5h0m3.5-2.5h0m6.5 2.5h0m2.5 1h0m1-0.5h0m1-1.5h0m-17.5 5h0m1 0h0m0.5 2.5h0m0.5-5h0m0 3h0m1 1.5h0m0.5-3.5h0m0 0h0m0-0.5h0m0.5 3h0m1 2h0m0-4h0m1 3.5h0m0-2h0m0.5-2h0m0.5-1.5h0m1 5h0m0.5-3.5h0m0.5 4.5h0m0 0h0m2.5-5.5h0m0 5.5h0m0.5-1.5h0m1-3.5h0m0.5 2h0m1.5 2.5h0m1-4h0m0.5 1h0m0 1h0m1-0.5h0m0-1.5h0m0.5 1.5h0m0.5-2.5h0m0 2h0m0-0.5h0m0.5 1h0m1.5-1.5h0m0 3.5h0m0.5 0.5h0m0-2.5h0m0-1h0m1 2h0m0 0.5h0m0.5-0.5h0m0-1h0m1 1h0m3.5 0h0m0-1h0m2.5 1.5h0m0 0h0m-21.5 3h0m1-1h0m3 3h0m1 0h0m0.5-1h0m0.5-2h0m0.5 1h0m0.5-1.5h0m0.5 0h0m0.5 1h0m1-0.5h0m0.5 0.5h0m1-0.5h0m1.5 0h0m1.5 1.5h0m2 2h0m0.5 0h0m4-2.5h0m2 1h0" stroke="#9aa6cc" stroke-width="1.9" stroke-linecap="round" fill="none"/>
<path d="M635.5 230.5h0m3-1.5h0m1.5 0h0m4 1h0m0.5-1.5h0m1.5 2h0m0-0.5h0m0 0.5h0m1 0.5h0m3-0.5h0m1-3h0m0 3.5h0m0-1h0m0.5-2h0m0 2h0m1-1.5h0m1 2h0m2.5 0h0m0.5 0.5h0m0.5-2.5h0m0-1h0m2 3h0m2.5-1.5h0m0.5 1h0m0.5 0h0m2-0.5h0m0 0.5h0m1.5-2.5h0m0.5 2h0m0.5 1h0m0.5-2.5h0m1-1h0m1.5 4h0m0-2h0m0.5 1h0m0.5-3h0m0.5 2.5h0m0 0.5h0m2-1h0m2.5-2h0m0 2.5h0m1-2h0m1 0h0m3.5 3.5h0m0-1.5h0m1.5 0.5h0m0-1h0m1.5 0.5h0m0 0h0m1.5 0.5h0m2-0.5h0m1 1h0m1-1h0m3.5 1h0m-68 6h0m0.5-0.5h0m0 0h0m0.5-1.5h0m2 1h0m0 0.5h0m0-2h0m1 0h0m0.5 2.5h0m0.5 0h0m0.5 0h0m0.5-2h0m0 2.5h0m0.5-0.5h0m0-2.5h0m0-1.5h0m1 2.5h0m1 0h0m0-2h0m0 1h0m1 0h0m0 1.5h0m0-3.5h0m0 0h0m2.5 0h0m1-0.5h0m1.5 5.5h0m0.5-5h0m0.5 4.5h0m0.5-4.5h0m0.5 3.5h0m3-4h0m0.5 2h0m0.5 2.5h0m3-1.5h0m0-3h0m1 2.5h0m0-3h0m0 4h0m0.5 1h0m0.5-1.5h0m0.5-0.5h0m0.5 3h0m0.5-3h0m0-1h0m0 4h0m0.5-4h0m0 1.5h0m0 2h0m2.5-0.5h0m0-4h0m0 0.5h0m0.5-0.5h0m0.5 2h0m0.5 1h0m0.5 0.5h0m0.5-1.5h0m0-2.5h0m0 5h0m0.5-3.5h0m0.5-0.5h0m0 0h0m0.5 4h0m0.5-3h0m0.5 0h0m0.5 0.5h0m0.5 1.5h0m2-3.5h0m0 2h0m0.5-3h0m0 2h0m0.5 0h0m1.5 2.5h0m0.5 1h0m1-5h0m0.5 4.5h0m0-1.5h0m0-3.5h0m1 2h0m1.5 0.5h0m1-0.5h0m0.5-2h0m0 2.5h0m2 1.5h0m1.5-1h0m0 2.5h0m0.5-2.5h0m1-2h0m1.5 0h0m0.5 4.5h0m0-0.5h0m0-3.5h0m0.5 0.5h0m0-0.5h0m0 2h0m0.5-1.5h0m1-1h0m0-1h0m1.5 2h0m0.5 1.5h0m0.5-2h0m0.5-0.5h0m0 4h0m1-2h0m0-0.5h0m2.5 1.5h0m1 0.5h0m0.5-0.5h0m1 0.5h0m0.5 0h0m0.5-1.5h0m1 0h0m-64.5 3.5h0m0.5 5h0m0-2h0m0.5-3h0m1.5 3.5h0m2.5-4h0m0.5 0h0m0 3h0m1 2.5h0m0-2h0m1-3.5h0m1 4h0m0-2.5h0m0.5 1h0m0.5-0.5h0m1.5-1.5h0m2 1.5h0m0.5 1h0m2 0h0m0.5 0h0m0-1.5h0m0.5 1h0m0.5 3h0m0-5.5h0m0.5 2.5h0m1.5 0h0m0.5 1.5h0m0.5 0.5h0m1 0.5h0m0-1.5h0m0 2h0m0.5-0.5h0m0.5-2h0m0 1.5h0m0-1h0m0-1h0m0.5 0.5h0m0 0h0m0 2.5h0m0.5-3h0m0.5 0h0m0-0.5h0m0.5 2.5h0m0.5 1.5h0m0.5-3h0m0.5 0.5h0m1.5-1h0m0 1h0m0.5-3.5h0m0 4h0m0.5-1.5h0m0 1h0m0.5-1.5h0m1.5 2h0m0.5 1.5h0m1-4h0m1 3.5h0m0 1h0m0.5-3.5h0m0-2.5h0m0.5 5.5h0m1-3h0m0.5 1.5h0m0.5-2h0m0.5 3.5h0m0.5-3h0m0 3.5h0m0.5-4.5h0m1.5 3h0m1-3h0m0-0.5h0m1.5 2.5h0m0 2h0m1-4.5h0m0.5 0h0m0.5 4h0m1.5 0.5h0m1-3.5h0m0.5 2.5h0m0.5-1h0m1.5-1.5h0m1-0.5h0m1.5 1.5h0m2-0.5h0m0.5-2h0m0 1.5h0m1.5 1h0m1-1h0m0.5 3h0m1.5-4.5h0m0.5 1.5h0m0 3h0m0-3h0m0.5 2.5h0m0-2.5h0m0.5-1.5h0m0 1.5h0m0.5 2h0m0-1.5h0m0.5-2.5h0m0.5 4.5h0m1.5-1.5h0m1.5-1.5h0m0-1.5h0m0.5 3.5h0m2-1h0m1 0h0m-67 4.5h0m2-0.5h0m2.5 1h0m3-1h0m2.5 2h0m0.5 0h0m0.5-2.5h0m0 3h0m0.5-3h0m0 1h0m0.5 2h0m1-1.5h0m1 4.5h0m0-1h0m2.5-3h0m0 0.5h0m0-1h0m0.5 1h0m1.5 0h0m0-1.5h0m0.5 0.5h0m0 2.5h0m1.5-2h0m0.5 3h0m0 1h0m0.5-2.5h0m0.5 0h0m0 0h0m0.5-1h0m0-2h0m1 3h0m0.5-2h0m0 3.5h0m1-1h0m0.5 2h0m0.5-2.5h0m0.5 1.5h0m1-3.5h0m0.5-1h0m1 5h0m0-3h0m1 0h0m0 2h0m1-2h0m2.5 1h0m0.5 1h0m1-2.5h0m1-0.5h0m0.5-0.5h0m1 0.5h0m0 3h0m0-4h0m1.5 1.5h0m0 2h0m1.5-1.5h0m0 0h0m0.5 0h0m0.5-1.5h0m0 2.5h0m0.5 0h0m1.5 0h0m2 0h0m0-1.5h0m0.5-0.5h0m2-1.5h0m1 2.5h0m1.5 0h0m1.5-2h0m1-0.5h0m2 0.5h0m2-0.5h0m0.5 2.5h0m-43 5h0m1-1h0m1 1h0m1 2h0m0.5-3h0m1 4.5h0m1-1h0m0.5-1.5h0m1.5-0.5h0m0.5 2h0m0 0h0m0.5-2h0m0-0.5h0m1.5 1h0m0.5-2h0m1 4h0m0.5-4h0m0 3.5h0m2-0.5h0m0.5-1h0m1.5 0h0m3.5 3h0m-10 2.5h0m8.5-1h0" stroke="#846446" stroke-width="1.9" stroke-linecap="round" fill="none"/>
<path d="M533.5 369h0m1.5-1.5h0m1 0h0m0.5 1h0m0.5-3h0m4 3h0m-10.5 5h0m2-0.5h0m1-1.5h0m0.5 1h0m0-1h0m0.5-1.5h0m0 3.5h0m0 1.5h0m1-4.5h0m0.5-0.5h0m0.5 1.5h0m0.5 0h0m0 0.5h0m0 2.5h0m0-5.5h0m0.5 1.5h0m0 0h0m0-0.5h0m0 4h0m0-4h0m0.5 1h0m0 1h0m0 2h0m0.5 0.5h0m0.5-4h0m0-1h0m0 3.5h0m1 2h0m0-0.5h0m0 0.5h0m0.5-0.5h0m0.5-2.5h0m0.5 3h0m0-2h0m0 0.5h0m0.5-4.5h0m0 1.5h0m0 3.5h0m1-0.5h0m0.5 0.5h0m0 1h0m0.5-1h0m1.5 0h0m-17 6h0m0 0.5h0m1-1h0m0.5-1.5h0m1-1.5h0m0-1h0m0.5 1h0m1 2.5h0m0 0h0m0.5-0.5h0m0 1.5h0m0.5-3.5h0m0-1h0m0 3h0m1-3.5h0m0 3h0m0-0.5h0m0.5 2.5h0m0-3.5h0m0.5 0.5h0m0 4h0m0-0.5h0m0 0h0m0.5-3h0m0 3.5h0m1-4h0m0 2h0m0 1h0m0.5-0.5h0m0.5-1h0m0-2.5h0m0.5 2h0m0 1h0m0-1h0m0 2.5h0m0.5-5h0m0 2.5h0m0.5 0h0m0-1.5h0m0 1.5h0m0 2h0m0.5 0.5h0m0-0.5h0m0.5-4h0m0 4h0m1-1h0m0.5-2h0m0-1.5h0m0 3h0m0 0h0m0.5 0h0m0 0.5h0m0.5-1.5h0m0.5 0.5h0m0 1h0m0 1h0m0-1h0m0.5 2h0m0-2h0m0 1.5h0m0-3.5h0m0 1h0m0.5 1.5h0m0-4h0m0.5 4.5h0m0 0h0m0.5-0.5h0m0.5 1h0m0-5h0m0.5 3.5h0m0.5 2h0m0.5-0.5h0m0 0h0m1 0h0m1-0.5h0m-21.5 2.5h0m0.5 2h0m0 1h0m0-4h0m1 2.5h0m1-1.5h0m0 2h0m0.5 0h0m0 1.5h0m0 0h0m0.5-1.5h0m0-2.5h0m0 4h0m1-2h0m0-1.5h0m0 3h0m0-1.5h0m0.5-2.5h0m0.5 4h0m0.5-0.5h0m0.5 0.5h0m0.5 0.5h0m0.5-4.5h0m0 4.5h0m1-3.5h0m0 4h0m0-1.5h0m0.5 0.5h0m0-4.5h0m0.5 5.5h0m0.5-5.5h0m0 3h0m0.5 2.5h0m1-0.5h0m0-4h0m0 0h0m0.5 0h0m0.5 0h0m0 0.5h0m0-1h0m0 0h0m0.5 4.5h0m0.5-1.5h0m0 1h0m0.5-0.5h0m0.5-0.5h0m0.5-3.5h0m1 3h0m0 1h0m0.5-4h0m0.5 2.5h0m0.5-1.5h0m0.5 3h0m0.5 1.5h0m0.5 0h0m0-1.5h0m0-0.5h0m0-3.5h0m0.5 6h0m0-3.5h0m0.5-1.5h0m0.5 0.5h0m0 3h0m0-3.5h0m1 4.5h0m0-1.5h0m1-0.5h0m0-1h0m1 3.5h0m0-1.5h0m1 1h0m-26.5 2h0m1.5-1h0m0.5-0.5h0m0.5 5.5h0m0.5-5h0m0.5 1h0m1 3h0m0-3.5h0m0 3h0m0 1.5h0m0-4.5h0m0 2.5h0m0.5-1.5h0m0.5-2h0m0 2h0m0.5 1h0m0.5 0.5h0m0.5-1h0m0-2h0m0 0.5h0m0 2.5h0m0 1.5h0m0-3.5h0m1 0.5h0m0 2.5h0m0.5-4h0m1 2h0m0 2.5h0m0.5-4h0m0.5 4h0m0-3h0m1 4h0m0-0.5h0m0-1h0m0.5-2.5h0m0 4h0m0.5-5h0m0.5 0.5h0m0 2.5h0m0.5 0h0m0.5 2h0m0-1.5h0m0.5-3h0m0.5 4.5h0m0-4h0m0.5-2h0m0.5 5.5h0m0-2.5h0m0-1h0m0.5-1.5h0m0.5 1h0m0 2h0m0.5-3h0m0 5h0m0 0h0m0.5-5h0m0.5 4.5h0m0-4h0m0 2h0m1 0h0m0-1h0m0-1h0m0.5 2h0m0.5 0h0m0 2h0m0.5-1h0m0.5 1h0m0-0.5h0m0.5-2h0m0.5 2h0m0-2.5h0m0 3h0m0.5-1h0m0-1h0m0 2.5h0m0-2h0m0 0h0m0 0.5h0m0-0.5h0m0.5-3h0m0 2.5h0m0.5 2h0m0-3h0m0 4h0m0-2h0m0.5-1h0m0-0.5h0m1.5-1h0m1-0.5h0m-21 8h0m0 0h0m0-2h0m0.5 0h0m0.5 0.5h0m0-1h0m0 1.5h0m0.5 1h0m0.5 0h0m2-1.5h0m0.5-1h0m0.5 1.5h0m0-0.5h0m0.5 1h0m0-1.5h0m0 1.5h0m0-1h0m1 0.5h0m0.5-1h0m0.5 2.5h0m1.5-0.5h0m0-2h0m0.5 0h0m0 1h0m0-2h0m1.5 3h0m0.5-2.5h0m0.5 1h0m0 0h0m1 3h0m0.5-4h0m1-0.5h0m0 2.5h0m1-1.5h0m0.5 3h0m0.5-2h0" stroke="#1a9a8a" stroke-width="2.0" stroke-linecap="round" fill="none"/>
<path d="M489.5 157h0m9-3.5h0m3.5 4h0m25-0.5h0m-42 4h0m2.5-1.5h0m49 5.5h0m3.5-2h0m1.5 0h0m-70.5 6h0m10-2h0m13-2h0m1.5 3h0m14 2.5h0m6-3.5h0m46 1h0m-93 5h0m23.5 0.5h0m53.5 1h0m3.5-2h0m9.5 1.5h0m6.5-2.5h0m-69 5.5h0m1.5 2h0m11.5 1h0m6 3h0m2-5h0m48-1h0m6 4.5h0m-90.5 2h0m13 1h0m4-0.5h0m11-0.5h0m13 0h0m4.5 2.5h0m-50.5 5.5h0m37.5-1h0m18 1h0m32.5 1h0m6.5-3.5h0m-89.5 9h0m11.5-1.5h0m20.5-1h0m46.5 2.5h0m3 0h0m6.5-1.5h0m-29 9.5h0m-42.5 4h0m5.5-1.5h0m4-0.5h0m10 3.5h0m0.5-1h0m11.5-0.5h0m7 2.5h0m9.5-5h0m-46 10.5h0m6.5 1h0m20-1h0m11-1.5h0m-37.5 3h0m-26 38h0m5 3h0m7 0h0m35.5-1.5h0m-46 8h0m12-5h0m26.5 4h0m3.5-2h0m7.5-2h0m1 1.5h0m-45.5 5h0m1 0h0m3.5 1.5h0m2 0h0m17-1h0m3 2h0m2-1.5h0m3-2.5h0m12 3.5h0m12.5 0h0m12.5-3h0m-27.5 8h0m24.5-0.5h0m8 1h0m13.5 2h0m-52 3h0m1 2h0m3 1.5h0m27.5-2h0m10.5 2h0m4-1h0m1.5-3h0m12.5 2h0m-63.5 4.5h0m7-1h0m2 3.5h0m4-3h0m3.5 4h0m4.5-4h0m11 1.5h0m8 0.5h0m4-1.5h0m1 1h0m11.5 0.5h0m0.5-2h0m4-0.5h0m-49.5 8.5h0m11.5-3h0m0.5 2h0m14 3.5h0m15 0h0m6-4h0m6 0h0m3 1h0m-55 4.5h0m15 2h0m2-2.5h0m5 0h0m1.5 1h0m13.5 2h0m2-2h0m4.5-1h0m4.5 4h0m6.5-4h0m-46 7.5h0m4.5 1.5h0m12.5 0h0m7.5 1h0m7.5 0h0m-38 5.5h0m9-1.5h0m3.5 1.5h0m2-1h0m2-2.5h0m7 4h0m15-3h0m-35 6.5h0m6.5 0h0m1 1.5h0m0-1h0m1.5-1.5h0m3 3.5h0m16.5-4h0m4 1.5h0m4 3.5h0m2-2.5h0m3-3.5h0m4 0.5h0m-35 6h0m3 0.5h0m10.5-1h0m0 4.5h0m0.5-1.5h0m4.5-2.5h0m15 1h0" stroke="#3aa070" stroke-width="1.6" stroke-linecap="round" fill="none"/>
<path d="M602 235h0m3 1h0m5 0h0m0-0.5h0m7-2h0m2 3h0m0.5-2h0m-328.5 6h0m18 2h0m295.5-5.5h0m0.5 2.5h0m2.5-2h0m11 2.5h0m1 2h0m0-3h0m1.5 0.5h0m-326.5 8h0m5-1.5h0m3 0h0m7-1.5h0" stroke="#846446" stroke-width="1.6" stroke-linecap="round" fill="none"/>
<circle cx="718.7" cy="255.3" r="8.4" fill="#e0503c"/>
<text x="744.0" y="262.5" font-size="19.33" font-weight="bold" fill="#000" textLength="108.0" lengthAdjust="spacingAndGlyphs">Cancer cell</text>
<circle cx="718.7" cy="284.8" r="8.4" fill="#33ade4"/>
<text x="744.0" y="292.0" font-size="19.33" font-weight="bold" fill="#000" textLength="149.0" lengthAdjust="spacingAndGlyphs">Endothelial cell</text>
<circle cx="718.7" cy="314.2" r="8.4" fill="#30509a"/>
<text x="744.0" y="321.4" font-size="19.33" font-weight="bold" fill="#000" textLength="109.0" lengthAdjust="spacingAndGlyphs">Fibroblasts</text>
<circle cx="718.7" cy="343.0" r="8.4" fill="#7a5c2c"/>
<text x="744.0" y="350.2" font-size="19.33" font-weight="bold" fill="#000" textLength="132.0" lengthAdjust="spacingAndGlyphs">Macrophages</text>
<circle cx="718.7" cy="372.6" r="8.4" fill="#1e9a94"/>
<text x="744.0" y="379.8" font-size="19.33" font-weight="bold" fill="#000" textLength="102.0" lengthAdjust="spacingAndGlyphs">Neutrophil</text>
<circle cx="718.7" cy="401.5" r="8.4" fill="#a8b4c8"/>
<text x="744.0" y="408.7" font-size="19.33" font-weight="bold" fill="#000" textLength="51.0" lengthAdjust="spacingAndGlyphs">T cell</text>
<text x="844.0" y="41.5" font-size="26.89" font-weight="bold" fill="#000" textLength="25.0" lengthAdjust="spacingAndGlyphs">B.</text>
<text x="941.4" y="140.8" font-size="26.16" font-weight="bold" fill="#000" textLength="63.4" lengthAdjust="spacingAndGlyphs">Birc5</text>
<text x="1121.9" y="141.9" font-size="26.16" font-weight="bold" fill="#000" textLength="71.2" lengthAdjust="spacingAndGlyphs">Sparc</text>
<text x="1291.0" y="141.9" font-size="26.16" font-weight="bold" fill="#000" textLength="82.6" lengthAdjust="spacingAndGlyphs">Col1a1</text>
<text x="949.2" y="309.9" font-size="26.16" font-weight="bold" fill="#000" textLength="56.9" lengthAdjust="spacingAndGlyphs">Lyz2</text>
<text x="1132.0" y="309.9" font-size="26.16" font-weight="bold" fill="#000" textLength="50.9" lengthAdjust="spacingAndGlyphs">Icn2</text>
<text x="1298.8" y="310.0" font-size="26.16" font-weight="bold" fill="#000" textLength="70.0" lengthAdjust="spacingAndGlyphs">Trbc2</text>
<path d="M946.0 165.8L957.1 162.4L975.9 161.5L991.3 163.2L999.8 167.6L1000.7 175.4L998.1 184.1L989.6 191.0L984.4 196.2L991.3 201.4L1003.2 204.9L1006.7 208.4L999.8 211.0L991.3 212.7L996.4 220.5L1004.9 230.9L1007.5 237.9L1003.2 244.0L989.6 245.7L969.1 245.7L948.6 243.1L938.3 237.9L934.9 227.5L929.8 220.5L919.5 213.6L914.4 204.9L916.9 198.0L931.5 194.5L922.9 191.0L921.2 186.7L936.6 185.8L948.6 182.3L946.8 173.7Z" fill="#d9d7d7"/>
<path d="M1028.9 201.4L1039.1 196.2L1051.1 194.5L1061.3 198.8L1063.0 203.2L1052.8 207.5L1042.5 211.8L1032.3 208.4Z" fill="#d9d7d7"/>
<path d="M982.7 261.3L986.5 265.7L989.9 271.7L987.5 276.6L978.5 277.0L975.0 273.0L978.5 266.5Z" fill="#d9d7d7"/>
<path d="M977.6 171.9L989.6 167.6L998.1 170.2L998.1 178.9L991.3 187.5L982.7 192.8L975.9 185.8Z" fill="#f7f7f7"/>
<path d="M949.5 164.5h0m4-0.5h0m2 1h0m1-3h0m0 0.5h0m0.5 0.5h0m0-1h0m0.5 2.5h0m2-1h0m0.5-1h0m0 1h0m1-1.5h0m0.5 1.5h0m0-0.5h0m0-0.5h0m0.5-1h0m1 1h0m0.5-0.5h0m0 0h0m1 0h0m0.5 0h0m0.5 0h0m1.5 1h0m1.5-2h0m3.5 2.5h0m0.5-1.5h0m0 0h0m0 2h0m1.5-1h0m0 1h0m1.5 0.5h0m0.5 0.5h0m1.5-2.5h0m0 2h0m0.5-4h0m1.5 1h0m0.5 0.5h0m1.5 3h0m1-3h0m0.5 1.5h0m0.5-2h0m0-0.5h0m0.5 1.5h0m2 2h0m1-0.5h0m2.5 0h0m0.5-1.5h0m1.5 1h0m2.5 0h0m0.5 1h0m0.5-0.5h0m-49.5 3h0m0.5 2.5h0m0.5-3.5h0m0 0h0m0-1h0m0 3.5h0m0.5 0.5h0m2.5 1h0m0-3h0m1 1h0m0 0.5h0m1-1h0m0 1.5h0m0-3.5h0m1 5.5h0m0.5-4h0m0 0h0m0.5-1h0m1 1h0m0.5-0.5h0m1 1.5h0m0 3h0m0.5-3.5h0m1-1.5h0m1 2h0m0.5 0h0m0.5 2h0m3-3h0m1.5 0h0m2 1h0m0 1.5h0m0-1h0m1 0.5h0m2-1h0m0 2h0m0.5-5h0m0.5 5.5h0m0.5-2.5h0m0.5-2.5h0m1 4.5h0m0-3h0m0-1h0m0.5 3.5h0m0.5-2h0m0.5 1.5h0m0-2.5h0m0-0.5h0m0.5 1.5h0m1-1h0m1 1h0m0-0.5h0m0.5 4h0m1-1h0m0 1h0m0-1.5h0m0.5-2.5h0m0.5-2h0m1.5 5h0m1-1.5h0m0 0.5h0m1 0.5h0m0.5 0h0m1-3.5h0m0.5 2.5h0m0 1h0m3-0.5h0m1-2.5h0m1.5-1.5h0m0.5 4h0m0.5 0h0m2.5 1.5h0m1.5-2.5h0m1-1h0m0-0.5h0m0-1.5h0m0 1h0m0.5 1h0m1-0.5h0m0 1h0m0.5 2.5h0m0.5-3.5h0m1.5 4h0m0.5-2h0m0 0h0m-54 5h0m0.5-1h0m0.5 2.5h0m1.5-0.5h0m0-1h0m0.5 0.5h0m0-2.5h0m0.5 0h0m0 5h0m0.5-0.5h0m0.5-3.5h0m0.5-1h0m1 2.5h0m1 2h0m0-3.5h0m0-0.5h0m0.5-1h0m0.5 3.5h0m0.5-2.5h0m2-0.5h0m3 5h0m0-0.5h0m0.5-4h0m0.5 2h0m0.5-1.5h0m1 0.5h0m0.5-0.5h0m0 2.5h0m0-3h0m0-0.5h0m0 5.5h0m1.5-1h0m0-2.5h0m0.5 3h0m0 0h0m0.5-4h0m1 2h0m0.5-0.5h0m0 1.5h0m0-2.5h0m0 3h0m0.5-3.5h0m0.5 3.5h0m0.5-4.5h0m0 2.5h0m1.5 0.5h0m2.5-2h0m0-1.5h0m0.5 0.5h0m0.5 0.5h0m1-1h0m1 0.5h0m0 5.5h0m3-3.5h0m6.5-0.5h0m6-2h0m2.5 3.5h0m0-0.5h0m4.5 1h0m0.5 0.5h0m1.5 1h0m0.5-1h0m0-4h0m1 1h0m0 2h0m-56 7.5h0m1 0.5h0m0.5-0.5h0m0-3h0m1-1h0m1 1.5h0m1 0.5h0m0.5 1.5h0m0 1.5h0m0-0.5h0m0.5-4.5h0m0.5 4h0m0.5 0.5h0m0-1h0m1.5-1h0m1 2h0m4-1.5h0m1-1h0m0.5 0.5h0m1-3.5h0m0.5 3h0m0 0h0m1-1h0m1-2h0m0 5.5h0m0.5-5.5h0m0 5.5h0m2.5-1h0m0.5-0.5h0m0 1h0m0-4h0m1 3h0m1.5 1h0m0.5 0h0m2-4h0m0.5 4h0m0.5 1h0m1-4.5h0m0 2.5h0m1 0h0m0-4h0m0.5 4.5h0m1.5 0h0m0.5-1.5h0m1 0h0m5.5 2.5h0m3 0.5h0m1-4h0m1.5 2h0m1.5-1h0m9-2h0m-78.5 7.5h0m1 0h0m0.5 2h0m1.5-1.5h0m0-0.5h0m0.5 2h0m1-1.5h0m0 1h0m0.5 2h0m0-3.5h0m1.5 1h0m0.5 1.5h0m0-1h0m0.5 1h0m1.5 0h0m0.5-2h0m0 2.5h0m1.5-2h0m2 2h0m1-1.5h0m1-1.5h0m1 1.5h0m0-2h0m0.5 1.5h0m2.5 1h0m0.5-4h0m0.5 1h0m1 2h0m0.5 1.5h0m0.5-4h0m1 4h0m0.5-2.5h0m0-0.5h0m0 3.5h0m0.5 0.5h0m0.5-1.5h0m0-4.5h0m0.5 1.5h0m1.5-1h0m0 0.5h0m0.5 2h0m0-1.5h0m0.5-1h0m0 4.5h0m0 0h0m0.5-3.5h0m0.5 4h0m0.5-0.5h0m0.5-3h0m0 2h0m0.5-2.5h0m0 1.5h0m0.5 0h0m1.5 2.5h0m1-4h0m0.5 4h0m0-1h0m0.5-1.5h0m1-3h0m0.5 1.5h0m0 3.5h0m0-2.5h0m0-1.5h0m0.5 4.5h0m2-4h0m1 0.5h0m0 1.5h0m0.5-1h0m0-1.5h0m0 2h0m1-1.5h0m0.5 1h0m1-1.5h0m0 0h0m0 2.5h0m0 1h0m0-0.5h0m1-3.5h0m1 2.5h0m2.5 3h0m1-5h0m0 3.5h0m1 1.5h0m0.5-2h0m0.5 0.5h0m0.5-1h0m0-1.5h0m0 3.5h0m1.5-2.5h0m2.5 2h0m0-2h0m0-2.5h0m0.5 0h0m0.5 5.5h0m0-4.5h0m7-1.5h0m5 4h0m0.5-1.5h0m0.5-2.5h0m1.5 1.5h0m1.5 4h0m2-0.5h0m0-4.5h0m0.5 2.5h0m1-0.5h0m0 0.5h0m2-0.5h0m0.5-1.5h0m0.5-1h0m-75.5 11h0m0-5h0m0.5 1.5h0m0.5-1.5h0m1.5 4h0m1-0.5h0m0.5-0.5h0m1.5-3h0m0 1.5h0m1.5 3.5h0m0 0h0m0-3h0m0.5 0h0m1-0.5h0m0.5 1h0m0 1.5h0m2 0.5h0m0.5 0h0m0.5-3.5h0m0 2h0m0.5-2.5h0m1 3.5h0m0.5-0.5h0m1.5-1h0m0.5-2.5h0m0.5 0.5h0m0 2h0m1.5-1h0m0.5 1h0m0 2.5h0m0-3h0m0 3.5h0m0.5-3.5h0m2.5 1h0m0.5-1.5h0m0.5 4h0m0.5 0.5h0m0.5-4h0m0 0h0m0.5 0h0m1-1h0m1.5-0.5h0m0.5 4.5h0m0-4.5h0m0.5 5h0m0-3h0m0.5-1.5h0m0.5 2.5h0m0.5 2h0m1-4.5h0m3.5 3h0m1-1h0m0.5-0.5h0m1-2h0m0.5 2h0m1 2h0m0.5-4h0m0.5 4.5h0m0-3h0m0.5 1.5h0m1.5 1h0m0.5-3h0m1 3h0m0 0.5h0m0-3h0m0.5 3.5h0m1-4.5h0m0.5-0.5h0m0 3.5h0m0.5 0h0m3.5 0h0m0.5 0h0m0-1.5h0m1 1h0m0.5 0.5h0m0.5-1h0m0-1h0m1.5-1h0m0.5 3.5h0m1-3.5h0m0 3.5h0m1-2.5h0m0 1.5h0m0-3h0m2.5 2h0m2 1.5h0m4 1h0m1-3.5h0m1 2h0m1-0.5h0m0-2.5h0m2 1h0m1.5-1h0m47 4h0m9 1h0m0-1.5h0m5 1.5h0m-137.5 6h0m2.5-1.5h0m0 0h0m0 0h0m2-2h0m0 0h0m0 1h0m0.5 0h0m1.5-1.5h0m1 0h0m0-1h0m1 1h0m0.5 2.5h0m0-0.5h0m0 0h0m0-3h0m2 0.5h0m0 0h0m1 3h0m2 0.5h0m0.5-3.5h0m1 1.5h0m0 2.5h0m0.5-1h0m1.5-3h0m0.5 3h0m0-2h0m0 2h0m4.5-2.5h0m1 0.5h0m0 2h0m0.5 1h0m1.5 0.5h0m0.5 0h0m0.5-4h0m1 1h0m0-2h0m0.5 1.5h0m0.5 2.5h0m0.5 0h0m1.5-2h0m0.5 0.5h0m0.5 0.5h0m0.5-0.5h0m0 0h0m0.5-1h0m0.5-0.5h0m0 0h0m0 3.5h0m1-0.5h0m1.5-4.5h0m1 4.5h0m0.5-2.5h0m1.5-0.5h0m0 4h0m0.5-1h0m0-3h0m0.5 2h0m0.5 1.5h0m0.5-1h0m0.5-4h0m0.5 5.5h0m1.5-2h0m0.5-2h0m0.5-1h0m0.5 1.5h0m0 4h0m1-5h0m0.5 0.5h0m0 1h0m0.5-1.5h0m0-0.5h0m0.5 3.5h0m1 1.5h0m1-3.5h0m0.5 3.5h0m1-0.5h0m0.5-4.5h0m0 0h0m0 5h0m1-1h0m1.5 1h0m1.5-2h0m1-1h0m0 0.5h0m0.5 3h0m0-1h0m1.5 1h0m2.5-1h0m0-1h0m1.5-3h0m0 3h0m0.5-3h0m1 3h0m1.5-1.5h0m0 2.5h0m2 0.5h0m0-0.5h0m0.5-4h0m1.5 3.5h0m0-3.5h0m1-0.5h0m0 0.5h0m0.5 4h0m0.5-0.5h0m0-2h0m2 2h0m0-0.5h0m1 2h0m2 0h0m38-0.5h0m2 0h0m0.5-1.5h0m1.5 0h0m0.5 0h0m1.5 1.5h0m0-3.5h0m0.5 4h0m0.5-0.5h0m0.5-3h0m1.5 3h0m0.5-4h0m0.5 0h0m0 0h0m0 2.5h0m0.5-2h0m0.5-0.5h0m0 0.5h0m0.5-1.5h0m3 1h0m1 2.5h0m0.5-2.5h0m0.5 4h0m0-5h0m1.5 1h0m0 4h0m0-5h0m0.5 1.5h0m0.5-1.5h0m0.5 0.5h0m0 1.5h0m1 0h0m1-1.5h0m0 1.5h0m0.5 1.5h0m0.5-2.5h0m0.5 2.5h0m0-3h0m0.5-0.5h0m0.5 2.5h0m0.5-1h0m0.5-1h0m1 1.5h0m0.5-2h0m1 3h0m2 2h0m2-1.5h0m-147.5 2.5h0m0.5 5h0m0-5.5h0m0.5 1h0m0 1.5h0m0.5 0h0m0-2.5h0m0 4h0m0 1h0m1.5-3h0m0 2h0m0.5-3h0m1 0.5h0m0.5 2.5h0m0-1.5h0m0 3.5h0m0.5-1.5h0m0-4.5h0m1.5 4.5h0m0.5-2h0m2.5 0h0m0.5 2h0m1.5-0.5h0m0 2h0m0.5-4h0m0 1h0m0 1h0m0.5 0.5h0m2.5-0.5h0m0.5-3h0m1 2.5h0m0 0.5h0m0.5 0h0m1 1.5h0m0 0h0m0-3.5h0m0.5 0h0m0.5-1h0m0-0.5h0m0.5 0.5h0m1 0.5h0m3-1.5h0m0.5 1.5h0m1.5 4h0m0-4.5h0m0.5 2h0m0.5-2.5h0m0 4.5h0m1-3h0m1 1.5h0m0.5 0.5h0m0.5 1.5h0m0-5.5h0m1 3h0m0-1.5h0m0.5 0h0m1-0.5h0m1 0h0m0 4.5h0m1-1h0m1-3.5h0m2 0h0m1 2h0m0-1.5h0m2-1h0m0.5 0h0m0 4.5h0m0.5-1h0m0.5 1h0m1 0h0m0.5-4.5h0m1 5.5h0m0.5-5h0m0.5 2h0m0.5 1.5h0m3.5-4.5h0m0.5 3.5h0m0 0h0m0.5-2h0m1 2h0m0 0h0m0.5 1h0m0.5-4h0m0 2.5h0m0.5 1h0m0.5 1.5h0m0.5-1h0m1.5-3.5h0m0.5 1h0m0 3.5h0m1-1.5h0m1-2.5h0m0 1.5h0m0 0.5h0m0-3h0m0 5.5h0m1-2h0m1.5-0.5h0m0 0.5h0m1-4h0m2 0.5h0m0 1h0m1-1h0m0.5 5.5h0m0.5-6h0m2 4h0m1.5 1h0m0.5 1h0m1.5-5h0m0 0.5h0m0.5 0.5h0m0 2.5h0m1.5-2.5h0m0 0h0m1 1.5h0m0 2.5h0m1-1h0m0 0h0m0.5-4.5h0m0 3.5h0m1-1.5h0m0-2.5h0m0.5 1.5h0m0 0h0m2.5-0.5h0m0 1h0m1 1h0m0 0.5h0m0.5 0.5h0m0.5-0.5h0m1.5-1.5h0m0 4h0m3-4h0m0.5 1.5h0m0.5 0h0m0-1.5h0m2.5 2h0m25-2.5h0m0.5-1h0m0.5 0h0m0.5 2.5h0m1 0h0m0.5-1.5h0m0.5 1h0m0-2.5h0m0.5 5h0m1.5 0.5h0m0-4h0m0-1h0m0 0h0m0.5 1h0m0-1h0m0.5 3.5h0m0-2.5h0m1.5 1h0m0.5-0.5h0m0 1h0m0.5-1.5h0m0.5 1.5h0m0 1.5h0m1.5-3.5h0m0 2h0m0.5-1.5h0m1.5 1h0m0-0.5h0m0.5 1h0m0-2h0m0.5 1h0m0.5-1h0m0.5 0.5h0m1 0.5h0m0 3h0m0.5-3h0m0-1.5h0m0.5 1h0m0 1.5h0m0-2h0m0.5 1h0m1-0.5h0m1 3.5h0m0-4h0m0.5 4h0m2-1h0m1 2h0m0 0h0m1-0.5h0m0 0h0m0-1h0m0.5 1h0m0-5h0m0.5 2.5h0m0.5 2.5h0m0 0h0m1.5-1h0m1.5-3.5h0m0.5-1h0m0 4h0m0.5-1.5h0m0.5 1.5h0m0-4h0m0 0.5h0m0.5 2.5h0m0-2h0m0.5 1h0m0.5 0.5h0m0.5-1.5h0m0 2h0m2.5-1.5h0m0.5-1h0m0 1h0m1.5-0.5h0m-149.5 7h0m0.5 1h0m1-1.5h0m1.5 1h0m0 0h0m0.5 1.5h0m0.5-3h0m0 1h0m1 0h0m0 0h0m1 2.5h0m1-3.5h0m0.5 4h0m0-3.5h0m0 2h0m0-3h0m5 2h0m0-1h0m1 1.5h0m0.5 0h0m0.5 1.5h0m3-0.5h0m0-1h0m1 1h0m0.5-3.5h0m0 3h0m1.5 1.5h0m0-1h0m2 1h0m0-1.5h0m0.5 2h0m0.5-3.5h0m1-1h0m1 1.5h0m0 0h0m0.5-1.5h0m0.5-0.5h0m0.5 3.5h0m0.5 1h0m1.5-3.5h0m5 1h0m0.5 1.5h0m0.5-1.5h0m0-1h0m0.5 0.5h0m1-1h0m0.5-1h0m1 1.5h0m0 3h0m1.5-0.5h0m0.5 1.5h0m2-4.5h0m1 3.5h0m3.5 0.5h0m0.5-2h0m0 0.5h0m0.5 2h0m0-5h0m1.5 1h0m0.5 2.5h0m0.5-3.5h0m0.5-0.5h0m0.5 2h0m0 1.5h0m0.5-2h0m0-1h0m1 1.5h0m0 4h0m0-4.5h0m2 3h0m0 0.5h0m0.5-5h0m0.5 1.5h0m0.5-1h0m0.5 5.5h0m0-1.5h0m0 0.5h0m1-3.5h0m2 1.5h0m1.5 3h0m0.5-5h0m0 0.5h0m0.5 2h0m0-1h0m0.5-2h0m0.5 4h0m0.5-0.5h0m0 0h0m0-3h0m0.5 4h0m0-4h0m0.5 3h0m0.5-3.5h0m0 3h0m1 2h0m1-0.5h0m0-3.5h0m0 3h0m1 0.5h0m0.5-0.5h0m0-1.5h0m1-3h0m0.5 3.5h0m1-2h0m1 1h0m1.5 3h0m0-5h0m0.5 0h0m2.5 2h0m0.5 2.5h0m0.5 0h0m0-0.5h0m0.5 0.5h0m1.5-4.5h0m0 3h0m0.5 1.5h0m0-3.5h0m0 2h0m0.5-3.5h0m0 4.5h0m1 0.5h0m0-1h0m0.5-0.5h0m0.5-2h0m2 1h0m0.5 0h0m1-1h0m1-0.5h0m0 3.5h0m0.5-2.5h0m0.5 0.5h0m0.5 0h0m0-2.5h0m1 2.5h0m0-0.5h0m0.5 0.5h0m26.5-1h0m1-1h0m0 0.5h0m0 0.5h0m1-1h0m0.5 0h0m0 0.5h0m0 1h0m0.5 1.5h0m0-2.5h0m0 0h0m1 0.5h0m0.5 0h0m1-1.5h0m0 3.5h0m1-1.5h0m1-2h0m0.5 2.5h0m1.5-2.5h0m0 1.5h0m0.5-1h0m0 1.5h0m2 1.5h0m1-2.5h0m0.5 1h0m1.5 0.5h0m3-1.5h0m0.5 0h0m0 0.5h0m1.5-1h0m-130.5 6.5h0m0 1h0m1-2h0m0 3h0m2 1h0m0-2h0m0.5-0.5h0m0 1h0m1-1.5h0m1.5 2.5h0m0.5-2.5h0m0 3.5h0m0 1.5h0m1-3h0m1 2.5h0m0-3h0m2 2h0m0-4h0m0.5 4.5h0m1-2h0m0.5 0.5h0m0.5-3h0m0.5 0h0m0.5 3h0m1-1h0m0 2h0m1-2h0m1.5-0.5h0m1-1h0m0 0h0m0.5 4.5h0m0 0h0m1-2.5h0m0.5-2h0m0.5 3h0m3.5 0h0m0 2h0m1-2h0m1-1h0m0.5 2h0m1-0.5h0m1.5 1.5h0m0.5-1.5h0m0 0h0m3-4.5h0m0.5 5h0m0 0h0m1.5-3h0m2-1.5h0m2 3h0m0 0h0m0-2.5h0m1 1.5h0m0.5-1h0m2-1h0m0.5 4.5h0m0.5-2.5h0m0 0h0m0.5 0.5h0m3 1h0m0.5-2h0m1-1h0m0.5-1h0m0 6h0m1.5-3h0m0-1.5h0m0-1h0m0.5 1h0m0 4.5h0m0.5-3.5h0m1-2.5h0m0 3h0m1.5-2.5h0m1 2h0m0.5 1h0m0.5-3.5h0m1.5 0.5h0m2 5.5h0m1.5-1h0m1 1h0m0.5-4h0m1 2.5h0m0-4.5h0m0.5 2h0m1 2.5h0m0.5-3h0m0 2.5h0m1.5-2.5h0m0.5 1.5h0m0 0h0m1-2.5h0m0.5-0.5h0m1 0.5h0m1 3h0m0 2.5h0m0-0.5h0m0.5-4.5h0m0.5 3h0m0.5-2h0m3 1h0m-69.5 6h0m0-2.5h0m0.5 0h0m2 0.5h0m0.5 3h0m1-1h0m2 1.5h0m0 0h0m0.5-0.5h0m0-3h0m0 3h0m1-2.5h0m0.5 0h0m0.5 1h0m0 0.5h0m0.5 0.5h0m0 0.5h0m0.5-0.5h0m1 0h0m1.5-0.5h0m2-2.5h0m0 3.5h0m1-4h0m0.5 1h0m0.5 2.5h0m1.5 0h0m0.5-1h0m1 2.5h0m0 0h0m1-1h0m0 0h0m0.5-3.5h0m0.5 3h0m0.5-1h0m0 0.5h0m1 0.5h0m0-1h0m2 1.5h0m0.5-2h0m0-1.5h0m1 1h0m0.5-1h0m1 1.5h0m2 2h0m0.5 1.5h0m0-1h0m0.5-2.5h0m2.5 3.5h0m0-4h0m1 0.5h0m0 3.5h0m1.5-3h0m0.5-1h0m0.5 2.5h0m0.5-0.5h0m2 2.5h0m0.5-3h0m1 2h0m0.5-3h0m1.5 3.5h0m0.5-2h0m0 1h0m0-3h0m1 0.5h0m0 3.5h0m2.5-1h0m0.5-3.5h0m0 4h0m1.5-3h0m1.5 1h0m0.5 0h0m0 0h0m0.5 0h0m0.5 1h0m0.5-1.5h0m0-2.5h0m4 3.5h0m2 1.5h0m0.5-1.5h0m0 2h0m0.5-2h0m0.5 0.5h0m0-1h0m1 3h0m0.5-1.5h0m1.5-1.5h0m0.5-2.5h0m0.5 3.5h0m1.5-1.5h0m1-0.5h0m2 2h0m0 1.5h0m0-3h0m0-2h0m0 1h0m1.5 1h0m0.5-2.5h0m1.5 3h0m-64 5h0m0.5 3h0m0.5-3.5h0m2 0.5h0m2-1.5h0m0.5 0.5h0m0 3.5h0m0 1.5h0m0.5-1.5h0m3-1.5h0m0-3h0m0 1h0m0.5 0.5h0m1 2h0m0.5-0.5h0m0.5-1.5h0m0 0.5h0m1-1h0m1 3h0m0-1.5h0m2 1h0m1-0.5h0m1 0h0m0.5 3h0m1 0h0m0-6h0m0 2h0m0 1.5h0m1.5 1.5h0m0.5-4h0m1 1h0m1-1h0m0 0.5h0m1.5-1.5h0m0.5 5h0m0-4.5h0m0.5 0h0m0 0h0m0.5 2.5h0m1.5-1.5h0m0 0.5h0m0.5-0.5h0m0.5 3.5h0m0.5-1.5h0m0-3h0m2 4.5h0m2-0.5h0m2.5-3.5h0m0.5 5h0m0.5-5.5h0m0 0h0m0.5 1.5h0m0-1h0m0.5-0.5h0m0.5 0.5h0m0.5 3.5h0m0-1h0m0.5-2.5h0m0.5 4.5h0m0.5-4.5h0m0.5 3h0m0.5 0.5h0m2-2.5h0m0.5 4h0m0.5 0h0m1-5.5h0m0.5 1.5h0m1 1.5h0m0 0h0m0.5-3.5h0m0 0h0m1 1h0m0 1.5h0m1 2h0m0-3.5h0m1 1h0m0 2.5h0m0.5 0.5h0m0-2.5h0m1.5-1.5h0m0.5 3h0m3.5-3.5h0m0.5 5h0m0.5 0.5h0m0-5h0m0.5 4.5h0m0-1h0m0.5 1h0m0.5-3h0m0.5-2h0m0 3.5h0m0.5 0h0m0 1.5h0m0.5-4h0m0.5 2.5h0m0-1.5h0m1.5 3h0m1.5-5.5h0m0.5 2.5h0m0 3.5h0m0-3h0m1-2.5h0m0.5 0.5h0m1 1.5h0m0.5 3h0m0.5-4h0m0.5 3h0m1.5 0.5h0m0.5-1h0m-69 3.5h0m1 0.5h0m0.5 1.5h0m0-1.5h0m0.5 2h0m0.5 1h0m0.5-4.5h0m0.5 4.5h0m1 0.5h0m0-4h0m1 0.5h0m1.5 4h0m0-6h0m1.5 2h0m2.5 2h0m0.5-3h0m1.5-0.5h0m1 2h0m0.5 3.5h0m0.5-4.5h0m0 4.5h0m0.5-5.5h0m0.5 3.5h0m0-2.5h0m0 4h0m0.5-5.5h0m0.5 0h0m1 1.5h0m1 4h0m0.5-5.5h0m0 1h0m0.5 2h0m0-1.5h0m0 1.5h0m0.5 1.5h0m0-2.5h0m0.5-1.5h0m2 0.5h0m1-0.5h0m1 5h0m0-5h0m0 1h0m0.5 1.5h0m3.5 0h0m0.5 3h0m0-3.5h0m0.5-0.5h0m1.5-1h0m0.5 3h0m1.5 0.5h0m0-1h0m1 0h0m1.5-1.5h0m0.5 2h0m1 2h0m1.5-4h0m1.5 0.5h0m1.5-0.5h0m1 4h0m0.5-3.5h0m0.5 0h0m1.5 0.5h0m0.5 2h0m0.5-0.5h0m0-4h0m0.5 3.5h0m1.5-3.5h0m1 0.5h0m3 1h0m3-0.5h0m0 1.5h0m0.5-2h0m0 0h0m0.5 2h0m1 2h0m0-2h0m0-1h0m0.5-2h0m1.5 1h0m1 4h0m1-2h0m0.5 0.5h0m0.5-1.5h0m0-1h0m1 1.5h0m0.5 2h0m0.5-3.5h0m0 1h0m1.5 0h0m0 3h0m1-0.5h0m0-2.5h0m1 0h0m1 0h0m0-0.5h0m0.5-0.5h0m2 3.5h0m-71 2h0m2 0h0m0.5-0.5h0m2.5 1h0m0.5 0h0m0.5 2h0m0.5 0.5h0m1 1h0m0.5 1h0m0.5-2.5h0m0 0.5h0m0.5 0h0m0.5 2.5h0m0-2h0m0 0.5h0m0-4h0m1 2h0m0-0.5h0m1.5 3.5h0m0-4h0m0.5 2h0m0.5-2h0m0.5 4h0m0-3.5h0m1-0.5h0m1 3.5h0m1-4h0m0.5 1h0m1-1h0m0.5 0h0m1 4.5h0m0.5-1.5h0m1-1.5h0m0.5 2.5h0m0 1h0m1-0.5h0m1.5-0.5h0m2.5-2.5h0m0 3h0m1.5-0.5h0m1-4h0m0 1.5h0m0.5-2h0m0.5 5.5h0m0-3h0m0.5 0h0m0.5-0.5h0m0.5 3.5h0m0.5-4.5h0m0 2.5h0m1-0.5h0m0.5-1h0m0.5 2.5h0m0.5-3.5h0m0.5 0.5h0m1-1.5h0m0.5 3h0m1.5-0.5h0m0.5-1h0m0.5-0.5h0m0.5 1h0m1 2h0m0-1.5h0m0.5 2.5h0m1-4.5h0m0.5 2.5h0m1-0.5h0m1 2.5h0m0-2h0m0 2h0m1 0h0m1-3h0m1 3.5h0m0-5h0m0.5 1h0m3-1.5h0m0.5 0h0m1 5.5h0m0.5-1.5h0m1 1.5h0m0.5-2.5h0m0.5-3h0m2.5 2.5h0m0.5 1.5h0m1 0.5h0m0-1.5h0m1 0h0m0 2h0m0.5-1.5h0m0.5 0h0m0.5-0.5h0m0.5 1h0m0 1h0m1-1h0m0-2.5h0m2-0.5h0m1 3h0m0.5-4.5h0m0.5 2h0m0 1.5h0m0.5 1h0m0-3.5h0m0.5 0h0m1 2.5h0m1-1.5h0m2 1h0m-61 4h0m2 1h0m2-1.5h0m1.5-0.5h0m1.5 0.5h0m3.5 1h0m2-0.5h0m0.5 0h0m1 1h0m1-0.5h0m0.5 0h0m1 0.5h0m0.5-1h0m1 1h0m1 0h0m1-2h0m1.5 0.5h0m2.5 2.5h0m1.5-0.5h0m0.5 1.5h0m0-2h0m0.5-1h0m0.5 2h0m1.5-3h0m0.5 4h0m1-2h0m0-2h0m0.5 1h0m1.5 0h0m0 1.5h0m2 0.5h0m0 0h0m2 0.5h0m0.5-2.5h0m1.5 1h0m1.5 2h0m0-3.5h0m0.5 0.5h0m1 2h0m1.5-1h0m1 3h0m1.5-1.5h0m0.5-2h0m1 2.5h0m0.5-2.5h0m0 0h0m0.5-0.5h0m2.5 1h0m2.5 0.5h0m3 0h0m0.5-2h0m0 0h0m-23 21.5h0m0 1h0m1-3.5h0m1.5-0.5h0m1 1.5h0m0 1.5h0m0 1h0m2-1h0m-9.5 8h0m1.5-3h0m3-1.5h0m1 3.5h0m0-2.5h0m0.5 2h0m0.5 0.5h0m1-3h0m0 2h0m0.5 1.5h0m0.5-2.5h0m0-0.5h0m0.5 1h0m0-2h0m0.5 1h0m1 3.5h0m0-1h0m0-0.5h0m0 1h0m0.5-4.5h0m0.5 3.5h0m0.5-1.5h0m0.5 0.5h0m-10.5 3h0m1 3.5h0m0-2.5h0m1 1.5h0m0-3h0m0.5 2.5h0m1 1h0m2.5 0h0m1.5 0.5h0m1-1.5h0m1 0h0m1.5-2h0" stroke="#cbc9c9" stroke-width="1.4" stroke-linecap="round" fill="none"/>
<path d="M958 162.5h0m14.5-1h0m2 2.5h0m0.5-1.5h0m9 1.5h0m-37.5 1.5h0m1 3.5h0m0-0.5h0m0 1h0m6.5-1h0m1-1h0m0.5-1.5h0m1 3.5h0m2.5 0.5h0m2.5-2h0m1 1h0m0 0.5h0m1-2h0m4.5 3.5h0m11.5-5.5h0m0 2h0m2-1h0m0 0h0m11.5 0h0m5 2h0m-48.5 2.5h0m0 3h0m3 0h0m3.5-3h0m2.5 5h0m0.5-2h0m3-0.5h0m2.5 0h0m2-2h0m3.5 4h0m5 1h0m-26.5 1h0m0 2h0m1 2.5h0m2.5-2h0m1 1.5h0m1-3h0m0.5 0.5h0m2.5 3.5h0m3 0h0m1-0.5h0m3-1.5h0m0.5 0h0m0-0.5h0m0.5-0.5h0m2.5 2h0m3.5-0.5h0m1.5 0.5h0m1 0h0m2-1h0m23 1h0m-68.5 7.5h0m3.5-3h0m3.5 2.5h0m6 0.5h0m2.5-0.5h0m1.5-4h0m1 0h0m0.5 3.5h0m6-3h0m0.5 3h0m0.5-4.5h0m6 1.5h0m0.5-0.5h0m0.5-1h0m5.5 1.5h0m3.5-0.5h0m21.5 3.5h0m-66.5 3h0m6.5 0h0m0.5 4h0m1.5-5h0m1.5 0.5h0m0 4h0m1-3.5h0m1.5 4h0m1.5-2h0m4-0.5h0m3.5-1.5h0m0.5-1h0m0.5 0.5h0m8.5 2.5h0m4 1h0m1.5-2h0m4 0h0m1 3h0m1-4h0m1 1.5h0m2-1.5h0m0.5 1h0m1-0.5h0m5.5 1.5h0m0-3.5h0m1.5 2.5h0m3.5 0h0m-58.5 8h0m1-3.5h0m1.5 2h0m3-1.5h0m5-1.5h0m0.5 3.5h0m2.5 2h0m0.5-5.5h0m2 1.5h0m1.5-1.5h0m0.5 3h0m1 0.5h0m3-3h0m3 0.5h0m0 1h0m6 0h0m2.5 0.5h0m1-2h0m1 1h0m2.5-0.5h0m1 4h0m2-3h0m4 0h0m1 2h0m13.5-2h0m-69 7.5h0m0.5 1h0m1 0h0m1.5-3h0m2 3.5h0m4 0h0m0.5-3.5h0m8 2.5h0m2 0h0m5-4h0m3 0h0m0.5 3.5h0m2.5-2h0m1.5 1h0m0 1.5h0m5.5 1.5h0m1-5h0m1.5 3h0m1-1.5h0m0.5-1h0m3.5 4h0m0.5-5h0m0 2.5h0m1.5 2h0m0 1h0m0.5-5.5h0m2.5 4.5h0m0.5 0h0m2.5-2.5h0m3.5 0.5h0m6 1h0m7.5-2h0m1.5 1.5h0m1.5 1.5h0m6-1h0m-79 4h0m0.5-1.5h0m9.5 5.5h0m1-2h0m1-2h0m0.5 2h0m4-3h0m3.5 0.5h0m2.5 3h0m1-1h0m6.5 2h0m0-0.5h0m8-2h0m6.5-0.5h0m2-1h0m0 3h0m1.5-1.5h0m2.5-3h0m1.5 2h0m3.5 1.5h0m5-3.5h0m5 5h0m5.5 0h0m0.5-4.5h0m0.5 1h0m0 1h0m3 2.5h0m4-1h0m2 0.5h0m3-3.5h0m1.5 1h0m1-0.5h0m-79.5 7h0m2-1.5h0m1 0.5h0m9.5 1.5h0m0.5 1h0m1.5 0h0m1 0.5h0m7.5-2h0m6.5 1h0m5.5-1h0m0.5 2h0m6.5-2.5h0m3.5 2h0m6.5-1.5h0m8 2.5h0m1-2.5h0m0.5 0.5h0m3-1h0m3.5 2.5h0m0-1h0m4 0.5h0m-67.5 2h0m13.5 4h0m5-3.5h0m1.5 3h0m3.5-3h0m2.5 1.5h0m3.5 2.5h0m1-4.5h0m3 3h0m2.5 1h0m4.5-3h0m2 3h0m0-0.5h0m1.5-1.5h0m2 0h0m1.5 3.5h0m3.5 0h0m2-2.5h0m9.5 2.5h0m1.5 0h0m2 0.5h0m-55 4h0m0.5-1h0m1-2h0m3 2.5h0m2.5 0.5h0m5-2.5h0m0.5 2.5h0m2-2.5h0m0 3h0m5-4h0m0 0h0m1.5 4h0m0.5-1.5h0m1 0h0m6.5-1h0m2.5-0.5h0m0.5 1.5h0m3.5-1.5h0m1 4h0m0.5 0h0m0.5 0h0m2-1.5h0m0.5-3.5h0m5 4h0m0-0.5h0m4-2h0m6.5-1.5h0m4.5 1h0m-52.5 5h0m2 0h0m8 0.5h0m2 0.5h0m0 0.5h0m5.5 0.5h0m8-0.5h0m3.5-0.5h0m1 4.5h0m2-2.5h0m1 1h0m0-3.5h0m1 1.5h0m1-0.5h0m0 2h0m0.5 0.5h0m1-3.5h0m4 4.5h0m0.5-3h0m1.5 2h0m5-4h0m4 0h0m0.5 0h0m1.5 0.5h0m0.5 0h0m2 3.5h0m4 0.5h0m-62.5 4h0m4 0.5h0m2.5 1h0m4.5-3h0m2 3h0m1-3h0m2 1h0m2.5 3h0m2.5-0.5h0m5 0h0m0-2h0m6-0.5h0m2 0h0m9.5 1h0m0.5-2.5h0m0.5 0.5h0m0.5 1h0m0.5 1h0m2-2h0m0.5 1.5h0m7.5 1.5h0m2.5-3h0m0 1.5h0m1 0.5h0m1.5-2h0m0 0.5h0m-53.5 4h0m24 1h0m9-0.5h0m5 0.5h0m6.5-0.5h0m5.5-0.5h0" stroke="#f2f2f2" stroke-width="1.3" stroke-linecap="round" fill="none"/>
<path d="M997 198h0m1 0.5h0m5-0.5h0m0 0.5h0" stroke="#c8c6c6" stroke-width="1.4" stroke-linecap="round" fill="none"/>
<path d="M949 165h0m0-1.5h0m2 1.5h0m0 0h0m0.5 0h0m0.5-0.5h0m0.5 0.5h0m0.5-0.5h0m0.5-0.5h0m0.5 0.5h0m0.5-1.5h0m0 2h0m0.5-0.5h0m0.5 0h0m0-1h0m0.5 1h0m0-2h0m0 1.5h0m0.5 0.5h0m0-1.5h0m0.5-0.5h0m0-0.5h0m0.5 3h0m1-2h0m0 2h0m0-1h0m1-2h0m0.5 0.5h0m1 1h0m1 1.5h0m0.5-1.5h0m0.5 1h0m0-1h0m0-1.5h0m1.5 2.5h0m0 0h0m0.5 0h0m0.5-1h0m0.5 0.5h0m0-0.5h0m0.5-0.5h0m0 0.5h0m0.5 1.5h0m0 0h0m0.5-1.5h0m0 1.5h0m0.5-1h0m0.5 1h0m0.5-2h0m0-0.5h0m0.5 2h0m0-0.5h0m0-0.5h0m0.5 1h0m0-2h0m0.5 2h0m0.5-1h0m0 1h0m1.5-2h0m0.5 0.5h0m0 0h0m0-1h0m1 1.5h0m0 1.5h0m0.5-1h0m1-2h0m0 2.5h0m0-2h0m0.5-0.5h0m1 0.5h0m0.5 0h0m0.5 0.5h0m0-1h0m0.5 0.5h0m0.5 2.5h0m0.5-2h0m0.5 1.5h0m0-0.5h0m0.5-0.5h0m0.5 0.5h0m0 0.5h0m0.5-0.5h0m0-0.5h0m0 0.5h0m1 0.5h0m0-1h0m0 1.5h0m1.5-0.5h0m0-0.5h0m3 1h0m0-1.5h0m1.5 1h0m0.5 0h0m1 0h0m-45 6.5h0m1-4h0m0.5 3h0m0-4.5h0m0.5 1h0m0-1h0m0 2.5h0m0.5-1.5h0m0 3h0m0.5 1.5h0m0-4.5h0m0-0.5h0m0-0.5h0m0.5 1h0m0 3h0m0-1.5h0m0-0.5h0m0.5-2.5h0m0.5 6h0m0-0.5h0m0.5-4.5h0m0-0.5h0m0 1.5h0m0.5-2h0m0 1.5h0m0.5 0h0m0.5 2h0m0 2h0m0-3h0m0 3h0m0.5-1.5h0m0-1.5h0m0 2h0m0.5 0.5h0m0-0.5h0m0-4.5h0m0 1h0m0.5 5h0m0.5-3h0m0 1.5h0m0-1.5h0m0-2.5h0m0 5h0m0.5 0.5h0m0-2.5h0m0-0.5h0m0.5 2.5h0m0 0h0m0.5-2h0m0-3h0m0 4h0m0-4h0m0.5 4h0m0-4h0m0 1.5h0m0 3.5h0m0.5-4h0m0.5 3h0m0.5-3.5h0m0 0.5h0m0.5 4h0m0-5h0m0 2h0m0.5 1h0m0-3h0m0 5.5h0m0-2.5h0m0-2h0m0 1.5h0m0 1h0m0.5-0.5h0m0-1.5h0m0.5 2.5h0m0-2h0m0-1h0m0.5 2.5h0m0-4h0m0 5h0m0-1h0m0 0h0m0.5 0.5h0m0-1.5h0m0-3h0m0 3h0m0 2h0m0.5-3h0m0.5-1.5h0m0 4h0m0-4h0m0 4h0m0.5-3.5h0m0 1.5h0m0 2h0m0.5-2h0m0-1h0m0-1h0m0.5 4.5h0m0-3.5h0m0 3h0m0.5-0.5h0m0 0h0m0 2h0m0.5-5.5h0m0 5.5h0m0-1.5h0m0-0.5h0m0-2.5h0m0.5 0.5h0m0 1.5h0m0-1.5h0m0-0.5h0m0.5-0.5h0m0 2.5h0m0-2.5h0m0 4.5h0m1-2.5h0m0 1h0m0.5-4h0m0 2h0m0.5 4h0m0.5-2.5h0m0.5-2h0m0 1h0m0 2h0m0-1.5h0m0 0h0m0.5 2.5h0m0 0h0m0 0h0m0.5-5h0m0-0.5h0m0 0.5h0m0 2h0m0.5-1.5h0m0.5 4.5h0m0 0h0m0.5-4.5h0m0-0.5h0m0 1.5h0m0.5 2.5h0m0-1.5h0m0 1.5h0m0-3h0m1-1h0m0 4.5h0m0.5-4h0m0-0.5h0m0 4h0m0-2h0m0 1.5h0m1 0.5h0m0 1h0m0-3h0m0.5-1.5h0m0 3.5h0m0-0.5h0m0 0.5h0m0.5-1h0m0 2.5h0m0-3h0m0.5 1.5h0m0-4h0m0 0.5h0m0.5 1.5h0m0-1.5h0m0 0h0m0.5 1h0m0 3.5h0m0 0h0m0.5-0.5h0m0-2.5h0m0 2h0m0-4h0m0.5 3.5h0m0-1h0m0 2h0m0-4h0m0-0.5h0m1 0h0m0 5h0m0.5-5h0m0 0h0m0.5 3.5h0m0-0.5h0m0 0.5h0m0-0.5h0m0 1.5h0m0.5 0.5h0m0-4h0m0.5-1h0m0 3.5h0m0 1.5h0m0-2h0m0.5 0.5h0m0-2h0m0.5 2h0m0 2h0m0.5-3h0m0-2h0m0 0h0m0 3.5h0m0-3.5h0m0.5-0.5h0m0 3h0m0-2.5h0m0 3h0m0 1.5h0m0.5-2.5h0m0-3h0m0.5 2.5h0m0 1h0m0.5-0.5h0m0-3h0m0 4h0m0.5 1.5h0m0-4.5h0m0 1h0m0.5 0h0m0 2.5h0m0-4h0m0.5 5h0m0 0h0m0.5-3h0m0-0.5h0m0 3h0m0-1h0m0 1.5h0m0.5-4h0m0.5 2h0m0-3h0m0 3.5h0m0 1.5h0m0 0.5h0m0-2h0m0.5 0.5h0m0-4.5h0m0 5.5h0m0.5-2.5h0m0-1h0m0.5 1.5h0m0-3h0m1 1h0m0 2h0m0.5-1h0m0 2.5h0m0-2.5h0m0 1.5h0m0.5-0.5h0m0 0h0m0.5-0.5h0m1-1h0m0 2.5h0m1-1.5h0m0-2.5h0m0 1.5h0m0-0.5h0m0.5 0.5h0m0.5 1h0m0 1.5h0m0.5-2h0m0-1.5h0m0 2h0m0.5-1.5h0m1 2h0m0-2h0m0 1.5h0m1.5-0.5h0m0-1.5h0m0.5 2h0m1.5-0.5h0m-52.5 5.5h0m0.5-1.5h0m0 1.5h0m0.5 3h0m0-2.5h0m0.5-1.5h0m0 0.5h0m0 0h0m0 0.5h0m0.5 4h0m0-4h0m0 3h0m0 0h0m0-4h0m0-1h0m0.5 3.5h0m0 1h0m0-1h0m0 0.5h0m0.5-3.5h0m0 5.5h0m0-5.5h0m0 0.5h0m0.5 0.5h0m0 3.5h0m0 0.5h0m0-1.5h0m0.5 2h0m0-4.5h0m0.5 2.5h0m0 2h0m0.5-3.5h0m0-1h0m0 4h0m0-5h0m0.5 2.5h0m0 0h0m0 0.5h0m0-2.5h0m0.5 3h0m0 0h0m0-0.5h0m0-0.5h0m0 1h0m0.5-1.5h0m0 1.5h0m0 1.5h0m0-0.5h0m0.5-3.5h0m0 2h0m0.5-3.5h0m0 5.5h0m0.5-2h0m0-1h0m0 3.5h0m0-2.5h0m0-1h0m0.5-0.5h0m0 1h0m0 0h0m0.5-2h0m0 4.5h0m0-4h0m0 1.5h0m0.5-1h0m0 0.5h0m0 1.5h0m0.5 1h0m0 0h0m0-0.5h0m0-3.5h0m0 3.5h0m0.5-1h0m0 2h0m0-0.5h0m0-1h0m0.5 1.5h0m0-0.5h0m0-3h0m0 0.5h0m0.5-0.5h0m0 1h0m0.5-0.5h0m0-0.5h0m0 1.5h0m0 0h0m0 0.5h0m0-2h0m0.5-1.5h0m0 0.5h0m0 1.5h0m0 1h0m0 0.5h0m0 1h0m0.5-3h0m0 3.5h0m0 0h0m0.5-4.5h0m0.5 2.5h0m0-2.5h0m0 0.5h0m0.5 3h0m0-0.5h0m0-2h0m0 1.5h0m0-2.5h0m0-0.5h0m0 2.5h0m0.5 2h0m0-4.5h0m0.5 3.5h0m0-2.5h0m1 2h0m0-3h0m0 0.5h0m0 0.5h0m0-1h0m1 0.5h0m0 2.5h0m0.5-3h0m0 0h0m0.5 3.5h0m0-1h0m0.5-2h0m0 1.5h0m0-1h0m0 4h0m0-4.5h0m0.5 5h0m0-3.5h0m0 1h0m0.5-2.5h0m0 3.5h0m0-1.5h0m0 2h0m0-5h0m0.5 2h0m0.5 0.5h0m0-2h0m0 0.5h0m0 0h0m1 0.5h0m0 3h0m0-2.5h0m0 1h0m1-2.5h0m0 0h0m0 2h0m0.5-0.5h0m0 2h0m0-2.5h0m0.5-1h0m0 5h0m0.5-4.5h0m0 2.5h0m0 1h0m0-3.5h0m0.5-0.5h0m0 4.5h0m0.5-2.5h0m0-1h0m0.5 1h0m0-1h0m0.5 4.5h0m0-5h0m0 0.5h0m0.5 1.5h0m0-0.5h0m0.5-2h0m0 2.5h0m0 0.5h0m0-2.5h0m0.5-0.5h0m0.5 1h0m0 0.5h0m0 1.5h0m0.5 0h0m0-1h0m0 1.5h0m0-3h0m0.5 4h0m0-2h0m0-3h0m0 1.5h0m0.5 3.5h0m0-2.5h0m0.5-2h0m0 1.5h0m0 0h0m0 2h0m0 1.5h0m0.5 0h0m0-3.5h0m0 2h0m0-3h0m0.5 2h0m0.5-1h0m0-1.5h0m0.5 2h0m0 1.5h0m0 0.5h0m0-2.5h0m0.5 2.5h0m0-2.5h0m0 1.5h0m0.5-0.5h0m0-3h0m0.5 2h0m0 3h0m0.5-5h0m0 5.5h0m0.5-4h0m0-1h0m0 3h0m0.5-3h0m0 3h0m0-2.5h0m0 1.5h0m0-2h0m1 3h0m0-1h0m0.5-1h0m0 2.5h0m0-3.5h0m0 2h0m0.5-1h0m0.5-1h0m0.5-0.5h0m0.5 1h0m2.5-0.5h0m-38 6.5h0m0.5 1h0m0.5-1.5h0m0.5 0h0m0.5 1.5h0m1-1h0m1 0h0m0.5 0h0m1-0.5h0m0.5 0.5h0m0.5 2.5h0m0-1.5h0m0.5 1.5h0m0-3h0m0.5 2h0m0 2.5h0m0.5-2.5h0m0 2.5h0m0-0.5h0m0.5-0.5h0m0.5-1.5h0m0-2h0m0 5h0m0-2.5h0m1 2h0m0 0h0m0.5-3.5h0m0 4h0m0-1h0m0 0.5h0m0-2.5h0m0-0.5h0m0.5 3.5h0m0-1.5h0m0-1.5h0m0.5 0h0m0 3.5h0m0-6h0m0 1h0m0.5 0.5h0m0.5 3.5h0m0.5-1.5h0m0-3h0m0 4h0m0 1.5h0m0.5-5h0m0 2.5h0m0 0h0m0.5-1.5h0m0 2h0m0 2h0m0.5-2h0m0 2h0m0-2h0m0-1h0m0.5-2.5h0m0 0h0m0 5h0m0 0h0m0.5-5h0m0 5h0m0-2h0m0.5 1.5h0m0-2.5h0m0 2.5h0m0 0.5h0m0.5-0.5h0m0-2h0m0 0h0m0 1.5h0m1-3.5h0m0 3.5h0m0-0.5h0m0-2h0m0-0.5h0m0 0h0m0.5 0h0m0 4.5h0m0-2.5h0m0-2.5h0m0.5 3h0m0-3h0m0 5h0m0.5-0.5h0m0-3.5h0m0 1h0m0-1.5h0m0 3h0m0-2h0m0.5-2h0m0 0h0m0 5.5h0m0-2h0m0-2h0m0.5 2.5h0m0-4h0m0 2h0m0.5-2h0m0 4h0m0-2.5h0m0-0.5h0m0-1.5h0m0 3.5h0m0.5 1.5h0m0-5h0m0 4.5h0m0.5-3.5h0m0 0h0m0 4h0m0-3.5h0m0.5-0.5h0m0.5 4h0m0 0h0m0-4.5h0m0 4h0m0-3h0m0.5 4.5h0m0-1h0m0 0.5h0m0-3h0m0.5 0h0m0-1h0m0 2.5h0m0-2h0m0 0.5h0m0.5 3h0m0.5-3.5h0m0-2h0m0 2h0m0.5 1h0m0-2.5h0m0 5h0m0-1.5h0m0.5 1h0m0.5-3h0m0.5-1h0m0 0h0m0 4h0m0-1.5h0m0-1.5h0m1-1.5h0m0.5 0.5h0m0-0.5h0m-16 9.5h0m0.5-0.5h0m0 2h0m0.5-2.5h0m0.5 0.5h0m0.5-2.5h0m0 4h0m0.5-3.5h0m0 1.5h0m0-1.5h0m0.5 1h0m0.5 0h0m0.5 0.5h0m0-2.5h0m0 0.5h0m0.5 0.5h0m0 0.5h0m0 1h0m0-2.5h0m0 4.5h0m0-2.5h0m0.5-1.5h0m0 0h0m1 2h0m0 0h0m0.5 1h0m0-0.5h0m0-2.5h0m0 0.5h0m0-0.5h0m0 1.5h0m0 2h0m0-4.5h0m0 1.5h0m0.5 1h0m0 1.5h0m0-2.5h0m0 3.5h0m0-2h0m0.5-3h0m0 2h0m0.5 1.5h0m0.5 1.5h0m0-0.5h0m0-2.5h0m0 3h0m0.5-4h0m0 4.5h0m0 0h0m0-1.5h0m0.5 1.5h0m0 0.5h0m0-2.5h0m0.5-2.5h0m0 2h0m0 2h0m0 0.5h0m0-1h0m0.5 1.5h0m0-2.5h0m0 2.5h0m0.5-5.5h0m0 0.5h0m0 0.5h0m0.5 2.5h0m0-2.5h0m0 0h0m0-0.5h0m0.5 4h0m0.5-3h0m0.5 3h0m0-4.5h0m0 2.5h0m0.5 1.5h0m0-3.5h0m0.5 4h0m0-1.5h0m0-1.5h0m0.5 2.5h0m0-0.5h0m0 1h0m0.5 0h0m1-5h0m0.5 2.5h0m-19.5 8h0m0-0.5h0m0.5-1h0m0.5 0h0m0.5 2h0m0 0h0m0-1h0m0.5-0.5h0m0 1h0m0-1.5h0m0.5-0.5h0m0-0.5h0m0 4h0m0.5-1.5h0m0-4h0m1 0h0m0 2.5h0m0-2h0m0.5 4h0m0-4h0m0.5-0.5h0m0.5 1.5h0m2 1h0m0 0h0m0-2.5h0m1.5 1.5h0m0.5-1h0m0 3h0m1-3h0m0 4h0m0.5 0.5h0m0-1h0m0.5 0h0m0-2.5h0m0.5-0.5h0m0-0.5h0m1 1h0m0.5-2h0m0.5 2h0m0.5-1h0m0-0.5h0m1 0.5h0m0 3.5h0m0-3h0m1 2h0m0.5-1h0m0-0.5h0m0.5-0.5h0m0-0.5h0m1.5 1.5h0m0 0.5h0m1 2h0m0-3.5h0m0 4h0m1-1h0m-63.5 7h0m0.5-1.5h0m0.5-0.5h0m0-1h0m0.5 1h0m0.5 2h0m0-1.5h0m0.5 0.5h0m0-1.5h0m0.5 2h0m0.5-1.5h0m0 2h0m0-0.5h0m0 0h0m0.5-1h0m0-0.5h0m0-0.5h0m0.5 0.5h0m0.5 0.5h0m0 0.5h0m0 1h0m0-1.5h0m0.5 0h0m0 0.5h0m0-2h0m0.5 2.5h0m0.5-2h0m0-1h0m0 0h0m0.5 2.5h0m0 0h0m0 0h0m0-2h0m0.5 2.5h0m0-2.5h0m0.5 3.5h0m0-5h0m0.5 2h0m0 0.5h0m0 2h0m0-1h0m0.5-2.5h0m0 2.5h0m0-3.5h0m0 1.5h0m0.5 0h0m0 0.5h0m0.5 0.5h0m0 1h0m0.5-0.5h0m0.5 0h0m0-1h0m0 2h0m0 0h0m0.5-2h0m0 2.5h0m0-3h0m0 1.5h0m0 0.5h0m0.5 0.5h0m0-2.5h0m0.5 1h0m0 1.5h0m0-0.5h0m0 0.5h0m0-1.5h0m0.5 0.5h0m0 1h0m0-2.5h0m0 1h0m1 1.5h0m0.5 0h0m0-3h0m0 1.5h0m0.5 1h0m0.5-2h0m0 0h0m0 3h0m0-0.5h0m0-1h0m0.5-1h0m0.5 1h0m0.5 1h0m0.5-1.5h0m0 0.5h0m0-1h0m0 2h0m0.5 0.5h0m0 0h0m0.5-1.5h0m0.5-1h0m0 1.5h0m0 0.5h0m0-1.5h0m0.5-1h0m0 3.5h0m0-3h0m0 0.5h0m0 0.5h0m0 0.5h0m0.5 0.5h0m0.5-0.5h0m0.5 1h0m0.5-0.5h0m0.5 0h0m0 0h0m0.5-1.5h0m0 1.5h0m0-0.5h0m0 1.5h0m0-1h0m0.5-0.5h0m0.5 1h0m1.5 0.5h0m0-1h0m14.5-2.5h0m2.5 0.5h0m0.5-0.5h0m0-0.5h0m0.5-1.5h0m0 1.5h0m0.5 1.5h0m0.5-2.5h0m0 1.5h0m0.5 3.5h0m0.5-5h0m1-0.5h0m0 3.5h0m0 1.5h0m0-5.5h0m0.5 5.5h0m0.5-2.5h0m0 3h0m1-5h0m0 0h0m0 2.5h0m0.5 2.5h0m0.5-4.5h0m0.5 3h0m0-4h0m0.5 0h0m0.5 1h0m0.5 3.5h0m0.5-2h0m0-2h0m0 0h0m0 1h0m0.5 1.5h0m0 0h0m0-3.5h0m0.5 1h0m1.5 1.5h0m0 0h0m0.5-0.5h0m0.5 2.5h0m1.5 0.5h0m0 0h0m1.5-2.5h0m0.5-1h0m0 1.5h0m0.5 2.5h0m0.5-3h0m0.5-2h0m0 1h0m0 0h0m0 4.5h0m1-1h0m0-2h0m0 3h0m0-4h0m0-1h0m0.5 5h0m0-3h0m0.5-0.5h0m1 3h0m0.5 0h0m1-4.5h0m-65 5.5h0m0 1.5h0m0 1h0m0 0.5h0m0.5 2h0m0.5-5h0m0 4h0m0-4.5h0m0.5 1.5h0m0-0.5h0m0-0.5h0m0.5-0.5h0m0 3h0m0 1h0m0.5-3.5h0m0 5.5h0m0-2h0m0.5 2h0m0-0.5h0m0-2h0m0-2.5h0m0 2h0m0-2.5h0m0.5 4h0m0-1.5h0m0-1h0m0-0.5h0m0 1.5h0m0 3h0m0-3.5h0m0.5 3h0m0-4h0m0 3h0m0-3.5h0m0-0.5h0m0 4.5h0m0.5-1h0m0 1.5h0m0-2.5h0m0-2h0m0 0.5h0m0-0.5h0m0 2.5h0m0.5 0.5h0m0-4h0m0 5h0m0 1h0m0.5-1.5h0m0-3h0m0 0.5h0m0-1.5h0m0.5 4.5h0m0-1.5h0m0 0h0m0 0h0m0.5 0.5h0m0 1h0m0.5-0.5h0m0 0.5h0m0-4h0m0 4h0m0-1h0m0-2h0m0.5-1h0m0 3h0m0-1.5h0m0 0h0m0 3h0m0.5-5h0m0 1.5h0m0 2h0m0.5-2.5h0m0 3.5h0m0-0.5h0m0-4h0m0.5 0h0m0 2.5h0m0.5 1h0m0-1.5h0m0 0.5h0m0-3h0m0 3.5h0m0-0.5h0m0-2h0m0-0.5h0m0.5 0h0m0 4.5h0m0 0.5h0m0.5-5h0m0 5h0m0-3h0m0.5 2.5h0m0-1h0m0-3.5h0m1 2.5h0m0-1.5h0m0 2.5h0m0-3h0m0 4h0m0-1.5h0m0 0.5h0m0.5-3.5h0m0 0h0m0 0.5h0m0.5 3.5h0m0 0h0m0-0.5h0m0.5-1h0m0 1h0m0.5-2.5h0m0-0.5h0m0 3h0m0-3.5h0m0 2.5h0m0.5 2.5h0m0-5h0m0 1.5h0m0.5 2h0m0-0.5h0m0 1.5h0m0-2h0m0 0h0m0 1h0m0 1h0m0.5 0.5h0m0-4h0m0 1h0m0.5 1h0m0-2h0m0.5 2h0m0-2.5h0m0 1h0m0 0.5h0m0.5 1.5h0m0 0h0m0 0h0m0-1h0m0 2h0m0.5-1.5h0m0-3h0m0 2h0m0 0.5h0m0 0h0m0.5-0.5h0m0 0.5h0m0.5 1.5h0m0-2.5h0m0.5 3h0m0-1h0m0 2h0m0-3h0m0.5 1h0m0-0.5h0m0-1.5h0m0 0.5h0m0.5-2.5h0m0 1.5h0m0 3.5h0m0.5-1h0m0.5-1.5h0m0 2.5h0m0-3.5h0m0.5 4h0m0 0.5h0m0-1.5h0m0.5 0h0m0.5-3.5h0m0 5h0m0-0.5h0m0-4h0m0 1.5h0m0.5-1.5h0m0 1.5h0m0.5-1.5h0m0 1.5h0m0.5 0h0m0 0h0m0 2.5h0m0.5-0.5h0m0-2h0m0.5-1.5h0m0-0.5h0m0 2h0m0 1h0m0 1.5h0m0.5-2.5h0m0-2h0m0 4.5h0m0-5h0m0 2h0m0 3.5h0m0.5-2.5h0m0-2.5h0m0.5 0.5h0m0 2h0m0 0.5h0m0-2.5h0m1 4h0m0-0.5h0m0.5-1.5h0m0-1.5h0m0 1.5h0m0.5 2.5h0m0-3h0m0 0.5h0m0 2h0m0.5-2.5h0m0 0.5h0m0 1.5h0m0-2.5h0m0-0.5h0m0 1h0m1-0.5h0m0-1.5h0m0.5 3.5h0m0.5-1.5h0m0 0h0m15-1h0m1.5 0h0m0.5 1h0m1-1.5h0m0 0.5h0m0.5-1h0m0 2.5h0m1 1h0m0-3h0m0.5-1h0m0.5 3.5h0m0.5-3h0m0 4h0m0-3.5h0m0.5 0.5h0m0.5 0.5h0m0.5 0.5h0m0 1.5h0m0-2h0m0 2.5h0m0 0.5h0m0.5-2.5h0m0 1h0m0-1.5h0m0 2h0m2 1h0m0.5-2h0m1-1h0m0 3h0m0-4h0m0.5 3h0m0.5 1h0m0.5-5h0m1-0.5h0m0 2.5h0m0 3h0m0-1h0m0 0h0m0.5-3h0m0-0.5h0m0.5 0.5h0m0 4h0m0-1h0m0-0.5h0m1-0.5h0m0 2h0m1-2h0m0.5-3h0m-64 6h0m1.5-0.5h0m1 1.5h0m0.5 0.5h0m0-1.5h0m0.5 1.5h0m0-1.5h0m0.5 2.5h0m0.5-1h0m0 1h0m0.5-2.5h0m0 3.5h0m0.5-2.5h0m0 1.5h0m0.5 0h0m0-1.5h0m0 1.5h0m0 0h0m0.5-1.5h0m0-0.5h0m0.5-0.5h0m0.5 3.5h0m0-0.5h0m0-3.5h0m0.5 3.5h0m0-1.5h0m0.5 0h0m0 0h0m0-1h0m0.5 1h0m0 2.5h0m0-4.5h0m0.5 1h0m0 0h0m0 2.5h0m0-0.5h0m0.5 1.5h0m0.5-0.5h0m0-0.5h0m0-3h0m0 0h0m0 0h0m0 2.5h0m0-1h0m0.5 2h0m0-4h0m0.5 1h0m0.5-0.5h0m0 3h0m0 1h0m0-2.5h0m0-1h0m1 2.5h0m0-2h0m0 3.5h0m0.5 1h0m0-1h0m0-1h0m0-2.5h0m0.5 2h0m0 1.5h0m0-0.5h0m0-3.5h0m0 3h0m0-1h0m0-1h0m0 2h0m0-1h0m0.5-3h0m0 5h0m0-2.5h0m0 0.5h0m0.5 1h0m0-1h0m0 1.5h0m0-2h0m0.5-2.5h0m0 5h0m0-2.5h0m0 1h0m0 0h0m0 0.5h0m0-1h0m0 3h0m0-1h0m0.5-3.5h0m0 2.5h0m0.5 1.5h0m0-4h0m0 1.5h0m0 0.5h0m0.5-2.5h0m0 2.5h0m0-1.5h0m0.5 0h0m0 2h0m0 0.5h0m0-1h0m0-1.5h0m0.5-1.5h0m0.5 3.5h0m0 2h0m0.5-0.5h0m0-0.5h0m0-2h0m0 1.5h0m0-1.5h0m0.5 2h0m0-4h0m0 0.5h0m0 1h0m0 2.5h0m0.5-3h0m0-1.5h0m0 4h0m0-3.5h0m0 2h0m0.5-2h0m0 1h0m0.5-1.5h0m0 1h0m0 1h0m0-2h0m0 5.5h0m0-5.5h0m0.5 3h0m0-2.5h0m0 2h0m0 0h0m0 0h0m0-2h0m0.5 3h0m0 0.5h0m0-2h0m0 0.5h0m0-1h0m0-1h0m0 1.5h0m0.5 2.5h0m0-2.5h0m0-1h0m0.5 0h0m0 2h0m0-3h0m1 0.5h0m0 0h0m0 0.5h0m0 0h0m0.5 0h0m0 3h0m0.5-3.5h0m0-0.5h0m0 3h0m0-1.5h0m0-0.5h0m0.5 1.5h0m0.5 1h0m0.5 0h0m0-3h0m0.5 1h0m0-1h0m0 4h0m0-2h0m0 2h0m0-2h0m0 0.5h0m0 2h0m0.5-2.5h0m0-2.5h0m0 2.5h0m0 1h0m0-3.5h0m0 1.5h0m0 1h0m0.5-2h0m0 1.5h0m0 1.5h0m0.5-1h0m0-1.5h0m0 0.5h0m0 2.5h0m1.5-2.5h0m0-1h0m21.5 1h0m2.5 2h0m1 1.5h0m1-0.5h0m0-2.5h0m0 3h0m0 0h0m0.5-1h0m0-1h0m0-2h0m0.5 2.5h0m0.5 0.5h0m0 1h0m0.5-5.5h0m0 2h0m0 1h0m0-1h0m2 3.5h0m0 0h0m1-2h0m0.5-2.5h0m0-0.5h0m0.5 1.5h0m-51.5 4h0m3.5 1h0m0.5-0.5h0m1 0h0m1 0h0m0-0.5h0m2 0h0m36 0.5h0m1 1h0m0.5 1.5h0m0-0.5h0m0-2h0m0.5 2.5h0m0 1.5h0m0.5-0.5h0m0-2h0m1 2.5h0m0 0.5h0m0-4h0m0.5 2h0m0.5-1h0m0.5 1.5h0m0-3h0m0 3h0m0.5 0.5h0m0-3h0m0.5 4h0m0-3.5h0m0 1h0m0.5 1h0m0.5 0.5h0m0 0h0m-3.5 6.5h0m0-2.5h0m1-2h0m0.5 1.5h0m0 3.5h0m0 0h0m0.5-2h0m0.5-2.5h0m0 5h0m0.5-3h0m0.5 1h0m0-1h0m1-0.5h0m0.5 1h0m2 2h0m0 0.5h0m0.5-2.5h0m1.5 3h0m1-0.5h0m2-0.5h0m-13 5h0m0.5 2h0m0-5h0m0.5 2h0m0-2h0m0-1h0m0.5 6h0m0-2.5h0m0 0.5h0m0-4h0m0 3h0m0.5 0h0m0-0.5h0m0-1.5h0m0 4.5h0m0.5-4.5h0m0-0.5h0m0.5 0h0m0-0.5h0m0 1.5h0m0.5 2.5h0m0 1h0m0.5-4h0m0.5-1h0m0 3.5h0m0 1h0m0-1.5h0m0.5 1.5h0m1 1.5h0m0.5-1.5h0m0 0.5h0m0-5h0m0.5 1h0m0 1.5h0m0 3h0m0.5 0h0m0-1h0m0-2h0m0-2h0m0 5h0m0.5-5h0m0.5 5.5h0m0.5-3.5h0m0 3h0m0-1h0m0-1.5h0m0-2h0m0.5 5h0m0 0h0m0-5h0m0.5 3.5h0m0-2h0m0.5-1h0m0 3.5h0m0-0.5h0m0 1h0m0-3h0m0 2h0m0.5-1.5h0m0-0.5h0m0 2h0m0-2.5h0m0 3.5h0m0-1h0m0.5-3h0m0 0.5h0m0 0.5h0m0-1.5h0m0 1h0m0.5 0h0m0.5-0.5h0m0.5 2h0m0-0.5h0m0.5 0h0m0-2h0m0 2h0m0 2.5h0m0.5 0h0m0-3h0m0.5-0.5h0m0.5 2h0m0 0.5h0m0-1h0m0-3h0m0.5 2h0m0-1h0m0-1.5h0m0 4.5h0m0 0.5h0m1-2h0m0-1.5h0m0.5 0.5h0m0 2h0m0 1h0m0.5-0.5h0m0.5-0.5h0m0 0.5h0m0.5-1h0m1-1h0m0-1.5h0m0 4h0m0 1h0m0.5-4h0m0.5 2.5h0m0-2.5h0m0.5 1.5h0m0 0.5h0m0 0h0m0.5-1h0m1 1h0m0-1h0m0.5-0.5h0m0 2h0m0.5 0h0m0.5-2h0m0 1.5h0m0.5 1h0m0-1.5h0m0.5 0h0m1 1.5h0m0.5-0.5h0m0.5 0h0m0.5-1h0m0.5 1h0m2 0.5h0m-31.5 4.5h0m0.5-3h0m0 2.5h0m1-2.5h0m0.5 0.5h0m0 4.5h0m0.5-1.5h0m0-1h0m0.5 1h0m0.5-3.5h0m0 3.5h0m0-2.5h0m0 2h0m0.5-2.5h0m0 2h0m0.5 2.5h0m0-4.5h0m0 3h0m0.5 0.5h0m0-1h0m0-1.5h0m0.5 0.5h0m0.5 2.5h0m0.5 0.5h0m0-0.5h0m0-1h0m0-2h0m0-1.5h0m0 0h0m0 0.5h0m0.5 0h0m0.5 3.5h0m0-2.5h0m0 2.5h0m0 0.5h0m0.5 1h0m0-1.5h0m0-2.5h0m0 2.5h0m0.5-2h0m0 1.5h0m0 1.5h0m0-1h0m0.5 0h0m0-2.5h0m0 4h0m0.5-5h0m0 1.5h0m0 3.5h0m0-2.5h0m0.5 0.5h0m0.5 2h0m0-5.5h0m0 0h0m1 3.5h0m0-2h0m0 2.5h0m0.5 0h0m1-2.5h0m0.5 1.5h0m0 0.5h0m0 1h0m0 0.5h0m0-5.5h0m0.5 5.5h0m0-2.5h0m0 2h0m0.5-3.5h0m0.5 4h0m0.5-4.5h0m0 0h0m0 2h0m0 1h0m0-2.5h0m0.5 2h0m0 0h0m0 1h0m0 1h0m0-5h0m0 0h0m1.5 0h0m0 4.5h0m0.5-1.5h0m0.5 0h0m0.5-3.5h0m0 1h0m0 0.5h0m0-0.5h0m0 2h0m0.5 1.5h0m0-3h0m0-1h0m0 2h0m0-1h0m0.5-0.5h0m0.5 1.5h0m0.5 3.5h0m0-2.5h0m0-1.5h0m0.5 1h0m0-1.5h0m0 1h0m0.5 0.5h0m0 0h0m0 1.5h0m0-2h0m0 1.5h0m0.5-2.5h0m0 2.5h0m0.5-3.5h0m0 0h0m0.5 5h0m0 0h0m0.5-1h0m0-3.5h0m0.5 2h0m0 0h0m0 2.5h0m0-2.5h0m0-2.5h0m0 2.5h0m0.5 2h0m0-0.5h0m2 1.5h0m0.5-3h0m0 2.5h0m0-4h0m0 2.5h0m0-3h0m0.5 0h0m0.5 2h0m0 0h0m0 0h0m0.5-1.5h0m0.5-0.5h0m0 0.5h0m0.5 2h0m0 1.5h0m0-1.5h0m0 1h0m0.5-3.5h0m0 1h0m0 1.5h0m0.5-2h0m0 2.5h0m0-3h0m1 2h0m0 0h0m0.5 1h0m0.5-2h0m0.5-0.5h0m0.5-0.5h0m0 2h0m0.5-1h0m1.5 2.5h0m-35 1.5h0m0.5 1.5h0m1 0h0m0.5 1h0m0.5-1.5h0m0 3h0m0.5-2h0m0.5 4h0m0-5.5h0m0.5 4h0m0-4h0m0 3h0m0.5 1.5h0m0-4.5h0m0 0h0m0-0.5h0m0.5 3.5h0m0 2.5h0m0-6h0m0 1.5h0m0 0.5h0m0 0h0m0.5 2.5h0m0-2.5h0m0 0.5h0m1 2h0m0-1.5h0m0 1h0m0-2.5h0m0.5 1h0m0-0.5h0m0 4h0m0.5-2h0m0-3.5h0m0 3.5h0m0 0.5h0m0.5-1h0m0 1h0m0-1.5h0m0-2h0m0.5 2.5h0m0 0h0m0.5 2h0m0-3h0m1-2.5h0m0 2h0m0.5 3.5h0m0-0.5h0m0-0.5h0m0-4.5h0m0 5h0m0.5-0.5h0m0 1h0m0 0h0m0-4.5h0m0.5 4.5h0m0.5-3h0m0 1h0m0 0.5h0m0 1.5h0m0.5-1h0m0-4.5h0m0 5.5h0m0-0.5h0m0.5 0h0m0.5-2.5h0m0 0h0m0.5 0h0m0-2h0m0.5 1.5h0m0.5 0.5h0m0 3.5h0m0-0.5h0m0-1h0m0-2.5h0m0.5 3h0m0.5 0.5h0m0.5-2.5h0m0-2h0m0 0h0m0 1h0m0 3.5h0m0.5-3h0m0.5 2h0m0-1h0m0 2.5h0m0.5-2h0m0 1h0m0-0.5h0m0-2h0m0 3h0m0.5-2h0m0-0.5h0m0.5 0.5h0m0-0.5h0m0.5-1.5h0m0.5 1.5h0m0 3h0m0.5-3h0m0.5-3h0m0.5 0.5h0m0 1.5h0m1.5 2h0m0.5-3.5h0m0 2h0m0.5-1h0m0 0.5h0m0 4h0m0.5 0h0m0-2h0m0.5-3.5h0m0 4.5h0m0.5-2.5h0m0 1.5h0m0.5-3h0m0-1h0m0 4h0m0 0.5h0m0.5-2h0m0.5 0h0m0.5-1.5h0m0 0.5h0m0-1h0m1 0h0m0 3h0m0-3h0m1 2.5h0m0 1.5h0m0.5 0h0m0-1.5h0m0 1.5h0m0 0h0m0 0h0m0.5 1h0m0.5-1h0m0-4h0m0 4.5h0m0 0h0m0-4h0m0.5 3.5h0m1-3.5h0m0 0h0m0 4h0m0-0.5h0m0.5-3h0m0 2h0m0 1h0m0.5-0.5h0m0-2.5h0m0 2h0m0.5-2h0m0 1.5h0m1-2h0m-30 5.5h0m0 1h0m0-0.5h0m0.5 0h0m0-1h0m0.5 1h0m1 0.5h0m1-1h0m0-0.5h0m1.5 0.5h0m0.5 1h0m0.5-1h0m0 0h0m1.5 0h0m1 0h0m0-0.5h0m1 0h0m3 0h0m0 1h0m2 0h0m0 0.5h0m2-0.5h0m2.5-0.5h0m9-0.5h0" stroke="#e8784c" stroke-width="1.6" stroke-linecap="round" fill="none"/>
<path d="M1136.4 166.3L1146.4 162.9L1163.4 162.0L1177.3 163.7L1185.1 168.0L1185.8 175.6L1183.5 184.2L1175.8 191.0L1171.1 196.1L1177.3 201.2L1188.1 204.6L1191.2 208.0L1185.1 210.6L1177.3 212.3L1182.0 220.0L1189.7 230.2L1192.0 237.0L1188.1 243.0L1175.8 244.7L1157.2 244.7L1138.7 242.1L1129.4 237.0L1126.3 226.8L1121.7 220.0L1112.4 213.1L1107.8 204.6L1110.1 197.8L1123.2 194.4L1115.5 191.0L1114.0 186.7L1127.9 185.9L1138.7 182.5L1137.2 173.9Z" fill="#d9d7d7"/>
<path d="M1211.3 201.2L1220.6 196.1L1231.4 194.4L1240.7 198.6L1242.2 202.9L1233.0 207.2L1223.7 211.4L1214.4 208.0Z" fill="#d9d7d7"/>
<path d="M1169.6 260.0L1173.0 264.3L1176.1 270.2L1173.9 275.0L1165.7 275.4L1162.6 271.4L1165.7 265.1Z" fill="#d9d7d7"/>
<path d="M1165.0 172.2L1175.8 168.0L1183.5 170.5L1183.5 179.0L1177.3 187.6L1169.6 192.7L1163.4 185.9Z" fill="#f7f7f7"/>
<path d="M1137.5 164.5h0m0.5 0h0m5 0h0m2-1h0m0.5-1h0m2.5-2h0m1.5 3.5h0m1-2.5h0m0 1h0m0 2h0m0.5-0.5h0m0.5 1h0m0.5-0.5h0m0.5-3h0m2.5 0.5h0m0 1.5h0m0 0h0m1-2.5h0m1 3h0m0.5-1.5h0m1-1.5h0m1.5 1h0m1 3h0m0.5-1h0m0-1h0m0.5-1h0m1 2.5h0m0-1h0m1-1h0m1.5-1h0m1 1.5h0m1 0h0m0-0.5h0m0.5-1h0m2 2h0m0-1.5h0m1.5 3h0m2-1h0m0.5-0.5h0m2 1h0m3 0h0m1.5-0.5h0m-45.5 5h0m1 1.5h0m0.5-4h0m0 3h0m1 1h0m0-1h0m1-2h0m0 2.5h0m0-3h0m1-0.5h0m0.5 3.5h0m0-2h0m0.5-1.5h0m0 2.5h0m0-1.5h0m0.5-1.5h0m0 4h0m0.5-5h0m0.5 0h0m0 6h0m1-1h0m0.5-3.5h0m0-0.5h0m0 3h0m0.5-1h0m0.5 0h0m0.5-1h0m0.5 2.5h0m0-1h0m1.5-3h0m1.5 5.5h0m0.5-4.5h0m0 1h0m0-0.5h0m0.5 2.5h0m0.5-3.5h0m0 4h0m1-4h0m0.5 0h0m1 2.5h0m0 0.5h0m1 1h0m0.5 0h0m0.5 0h0m0-2.5h0m1.5-0.5h0m0.5 2.5h0m1-1.5h0m1 3h0m1.5-1.5h0m1.5-1.5h0m0.5 3h0m0-5.5h0m1 1h0m0.5-1h0m0 2.5h0m0-3h0m0.5 2.5h0m0.5-2h0m0 5h0m0-1h0m0.5 1h0m2.5-1h0m0.5-0.5h0m1.5-3h0m1.5-0.5h0m1.5 1h0m0.5-1h0m1 0.5h0m0.5-0.5h0m2.5 3h0m0-3h0m0 1h0m1-1h0m0 2h0m3-0.5h0m0 0.5h0m0-2h0m0.5 1.5h0m0.5-1h0m1.5 2h0m0.5 3h0m0-3h0m0 2.5h0m2-2.5h0m-50 4h0m1-0.5h0m1.5 4.5h0m0-5h0m0.5 1.5h0m0-1.5h0m0 2.5h0m0 1h0m0.5 0h0m0-0.5h0m1 1.5h0m0.5-2.5h0m0 0.5h0m0 1.5h0m0.5 0h0m1 1.5h0m0.5-1.5h0m0.5 0.5h0m2.5 0h0m0.5-2.5h0m2 3.5h0m0.5 0h0m0.5-4.5h0m1-0.5h0m0.5 3.5h0m0 0.5h0m0 0h0m1-3h0m1.5 4h0m0.5-0.5h0m1-2h0m1 0h0m1.5 1.5h0m1-1h0m0 2h0m2 0.5h0m0-3h0m0.5 0h0m0-1h0m0.5 0.5h0m2 0h0m0 1h0m0.5-0.5h0m1-3h0m2 4h0m2.5-0.5h0m4.5-1h0m3.5-1h0m0.5 1.5h0m5-2.5h0m1.5 4.5h0m0 0h0m0-3.5h0m2 0h0m-49 8h0m0.5 1.5h0m0.5 0.5h0m0.5 0h0m0-1.5h0m0.5 0.5h0m0-3.5h0m0.5 0h0m0 4h0m0.5-1h0m0.5-3h0m2 1h0m0-0.5h0m0.5-0.5h0m0 1h0m0.5-1.5h0m0 4h0m1.5-4.5h0m0 0h0m0.5 6h0m0.5-5.5h0m3 4.5h0m2 0.5h0m0-5h0m0.5 1.5h0m0.5 2.5h0m2-0.5h0m0 0h0m1-0.5h0m0.5-2.5h0m1.5-0.5h0m0 0.5h0m0.5 3.5h0m0.5 0.5h0m0-0.5h0m0-4h0m0.5 5.5h0m0-5h0m0.5 3h0m0-3.5h0m0.5 4.5h0m1.5 0.5h0m0-4.5h0m0.5 4.5h0m2-4.5h0m2.5 2.5h0m1 2h0m0.5-4.5h0m0.5-0.5h0m2 2.5h0m3 1h0m4-2.5h0m1 1h0m1 0.5h0m3 2.5h0m1.5-2h0m0 1.5h0m0-4.5h0m0 2h0m2 0.5h0m1-3h0m-73 11h0m0.5-1.5h0m0.5 0h0m1.5-2.5h0m0 3.5h0m0-1h0m1.5 0h0m0.5 1h0m0.5-0.5h0m0.5-0.5h0m0.5 1h0m0-1.5h0m2 0h0m0.5 0.5h0m1 1h0m1-0.5h0m3-0.5h0m1.5 1h0m1 1h0m0-3.5h0m0.5 0.5h0m0.5-1.5h0m0 0h0m1 1.5h0m0.5 0h0m0 3h0m2 0h0m0-4.5h0m0.5 4.5h0m1.5-2h0m0.5-3h0m0.5 1.5h0m0 1.5h0m1-1.5h0m1-2h0m0.5 0h0m3 2h0m0 4h0m0.5-4.5h0m4 2h0m0 0.5h0m0.5-0.5h0m1 2h0m1.5-3.5h0m1-1.5h0m0.5 5h0m0.5-3h0m0.5 1.5h0m0 0h0m0.5-0.5h0m0.5 0h0m0 0h0m0.5 0.5h0m0 1h0m1-0.5h0m3-4h0m0.5 2.5h0m2-2h0m0-0.5h0m0.5 5h0m0-1.5h0m1.5-0.5h0m7 2.5h0m2-4h0m0.5 0.5h0m4.5 2.5h0m0.5 0.5h0m0-2.5h0m2 1.5h0m0.5 0h0m0.5-1h0m0.5-1h0m0 1h0m4-3h0m-70.5 6.5h0m1 0.5h0m1-1.5h0m0.5 0h0m1 2.5h0m0.5-1.5h0m0.5 4.5h0m0-1.5h0m0.5-0.5h0m1.5 2h0m2-2h0m1-3h0m1 2h0m0.5-2h0m0 1h0m0.5-0.5h0m0.5 5h0m1.5-1.5h0m0.5-0.5h0m0.5 0.5h0m1 0.5h0m0 0h0m0-3.5h0m0.5-0.5h0m0.5 0h0m0 1h0m3.5 2h0m1-0.5h0m0-1h0m1-1.5h0m0.5 2h0m0 0.5h0m0-3.5h0m1 4.5h0m0.5-2.5h0m3.5 4h0m0.5-2.5h0m0-2.5h0m0.5 3.5h0m0-1.5h0m0 2h0m0.5-2.5h0m1.5 0h0m0.5-0.5h0m1-1h0m1 4h0m0.5-0.5h0m0.5 1h0m0-2.5h0m0.5-2h0m3 4.5h0m0-0.5h0m0.5-2h0m1 2.5h0m0-4h0m0-0.5h0m0.5-0.5h0m0 3.5h0m0.5-3.5h0m3.5 3h0m0-2.5h0m0 1h0m0.5 2h0m0.5-1h0m0.5 0h0m0.5 1.5h0m0.5-4.5h0m1 5h0m1.5-2.5h0m0 0h0m0.5-1.5h0m0.5 2.5h0m0.5-1.5h0m3 3.5h0m0.5-0.5h0m3 0h0m0-0.5h0m1 1.5h0m0.5-0.5h0m0-2.5h0m1.5 0h0m1-0.5h0m1-1.5h0m1-1h0m1 3h0m1-1.5h0m0.5-1h0m44 5.5h0m2.5-1.5h0m3 0h0m1.5 1h0m-120.5 3.5h0m1 2h0m0-0.5h0m1-1h0m0-1.5h0m0.5 1h0m0.5 2.5h0m1.5-3h0m1.5 0h0m0 0h0m2-1.5h0m0-0.5h0m0 3h0m0.5-3.5h0m1 5.5h0m0-4.5h0m1 2.5h0m1-3.5h0m0.5 4.5h0m0.5-2h0m1 0h0m0-1.5h0m2 3h0m0 1.5h0m0.5-3h0m2.5-1h0m2 1.5h0m0.5-1.5h0m0.5 3h0m0.5-4h0m0 0.5h0m1 3h0m2-0.5h0m0.5 1h0m0.5-1.5h0m0 0.5h0m0-1h0m1-2h0m0.5 0.5h0m2.5 2.5h0m0-3h0m0 1.5h0m1-2h0m0 1h0m0 4h0m0.5-2.5h0m1-1.5h0m2 4h0m2.5-3.5h0m0 4h0m0-1h0m0.5-0.5h0m0-0.5h0m0.5 0.5h0m1 1.5h0m1-0.5h0m1-2h0m0 1.5h0m0.5 1h0m0-0.5h0m0-2.5h0m1.5 3h0m1-2.5h0m0.5-2.5h0m0.5 0h0m1 4.5h0m1 0.5h0m1-0.5h0m0-3.5h0m1.5 1.5h0m0.5 2h0m1.5-3h0m0.5 1h0m0 1h0m1.5-4h0m1.5 3.5h0m0-2.5h0m1.5 3h0m1 1h0m0.5-2.5h0m0.5 1.5h0m0 1h0m0.5-0.5h0m0.5-3h0m0.5 2h0m0.5-1h0m0.5 0.5h0m0-1h0m0 3.5h0m1-0.5h0m0.5-2h0m1-1h0m0.5 2.5h0m1 1h0m3-0.5h0m33 0h0m1 0.5h0m0.5-1.5h0m2 1.5h0m1-1.5h0m1.5 1.5h0m1.5-4.5h0m0.5 2h0m0.5 1.5h0m0-3.5h0m0.5 2.5h0m0 1.5h0m0.5-3.5h0m0.5 3h0m0-1.5h0m2-1h0m0 1.5h0m0 0.5h0m0.5 1h0m2.5-3.5h0m0.5 1.5h0m0-2.5h0m0 5h0m0-2h0m0.5 0.5h0m0.5-0.5h0m0.5-2.5h0m0 3h0m0-4h0m0 6h0m1-2.5h0m1 0.5h0m0.5-3h0m0 1.5h0m0-1.5h0m1 1h0m1 1.5h0m0.5 1.5h0m0-1.5h0m0.5 2h0m0.5 0h0m0.5-1.5h0m0-0.5h0m1 1h0m0.5-3h0m0 4.5h0m0.5-3h0m0-0.5h0m0.5 0h0m1.5 3h0m0-1h0m0-1.5h0m0.5-1h0m0.5 2h0m0.5 0h0m0.5-1h0m0 0.5h0m0.5 0.5h0m-133.5 5.5h0m0-1h0m0.5-0.5h0m0.5 0h0m0.5 3h0m0-3h0m1 3h0m0.5-2h0m1.5-2.5h0m1.5 0h0m1 1h0m1-1.5h0m1 1.5h0m0 1h0m1 3h0m0.5-4h0m0 3.5h0m0-1.5h0m2-1.5h0m0.5 4h0m0.5-1.5h0m1-3h0m2 4.5h0m0.5-2.5h0m2-1h0m0-1.5h0m0.5 4h0m1-3h0m0 3h0m0.5-4.5h0m1 4.5h0m0.5-4h0m0 3h0m1.5-0.5h0m0.5 0h0m1-1.5h0m1 1h0m0 3h0m0-0.5h0m1.5-5.5h0m0.5 4h0m0 1h0m1-0.5h0m1.5-2h0m1.5-1h0m0.5 3h0m0-3.5h0m1.5 4.5h0m0.5-1h0m1-3h0m0.5-1h0m0.5 3.5h0m0.5 0.5h0m0-3.5h0m0 1.5h0m0.5 2h0m1.5-4h0m0 0h0m0.5 4.5h0m0.5-3.5h0m1 3h0m3.5 1h0m1-2.5h0m0.5 0.5h0m0-3h0m0.5 0h0m0 0h0m1 1.5h0m0.5-0.5h0m0.5 0h0m1.5-1.5h0m0.5 2.5h0m0.5 3h0m5-3h0m0.5 1h0m0 0.5h0m0.5-4h0m3 4h0m0-2h0m0.5 0h0m0 2.5h0m2-3h0m0.5 4h0m0.5-4h0m0 0.5h0m0.5 3.5h0m0-4h0m1.5 1h0m2.5 2h0m0-1.5h0m0.5-1h0m0.5 2.5h0m0.5-3h0m1 2.5h0m0-2h0m1 3h0m0.5-3.5h0m2 4h0m0 0h0m0.5-1.5h0m0 1h0m0.5-0.5h0m3-1h0m0 1h0m0.5-2h0m0.5 1h0m0.5 1h0m3.5-1h0m1 1h0m17.5-3h0m1.5 0.5h0m1 1h0m0-0.5h0m0.5-1.5h0m0.5-0.5h0m1 0h0m3.5 2.5h0m0.5 0h0m0.5 1.5h0m1-2h0m0 3h0m0.5-1.5h0m0 1h0m0-1.5h0m0.5 1.5h0m0-3.5h0m0.5 1.5h0m0.5-1h0m1 2.5h0m0.5-1.5h0m0.5-2h0m0 4.5h0m1-2.5h0m0.5-1h0m0.5 1h0m0.5-2.5h0m0.5 1.5h0m0-1h0m0 3.5h0m0.5-1h0m1-1.5h0m0.5 3.5h0m0.5-4h0m0-0.5h0m0.5 0h0m0.5 3.5h0m0.5 1h0m0-1.5h0m1-1.5h0m1.5 3h0m0.5-0.5h0m0-4.5h0m0.5 4.5h0m0.5-3h0m1-0.5h0m1 1.5h0m1 3h0m0.5-2h0m0-3h0m1.5 0.5h0m0 1h0m1.5 0h0m0.5 0h0m0-2h0m-133 9.5h0m1.5-1h0m1.5 2.5h0m0-4h0m0.5 1.5h0m1 2h0m0-1.5h0m0.5-1.5h0m0.5-1h0m0 3.5h0m1 0h0m1-1.5h0m1-2h0m0.5 1.5h0m0.5 2h0m0.5 0.5h0m0-2.5h0m1.5 1.5h0m1 0h0m0.5 1.5h0m0.5-1.5h0m1-2.5h0m0 2h0m0 0.5h0m2.5 0h0m1.5-2h0m0.5 1h0m0.5-2.5h0m0 0.5h0m3 0h0m0.5 0.5h0m0 1h0m1 0.5h0m0.5 2.5h0m0.5-2.5h0m0-0.5h0m0.5-2.5h0m0.5 0.5h0m0.5 1.5h0m0.5-2h0m0 1.5h0m1.5 2h0m0-2.5h0m2 4.5h0m3-1.5h0m2-3.5h0m1 3h0m0.5 1.5h0m0.5-4h0m0 2.5h0m0.5-3h0m3 0.5h0m0 1.5h0m0.5-2h0m0.5 4.5h0m0.5-1h0m0.5 1h0m0.5 0.5h0m2.5-5.5h0m1 3h0m0.5 1.5h0m0.5-2h0m0 1h0m0.5-1h0m0.5-2h0m0 4h0m1 0h0m0-4h0m0.5 4h0m0.5-2.5h0m0.5 3h0m2-1.5h0m0.5-3h0m0.5 1h0m1.5 2h0m0-1h0m1 2h0m0 1h0m1-3.5h0m1.5 0h0m0 1h0m3-1h0m0-1.5h0m0.5 3h0m1-1.5h0m1 1h0m2 3h0m2 0h0m0.5-4h0m0 2h0m0.5 0.5h0m0.5-1h0m0.5 0h0m0.5-1h0m0.5 1.5h0m0.5 0h0m0.5-1.5h0m0 2h0m0.5-2.5h0m0.5 1.5h0m0.5-2h0m0-1.5h0m0.5 5h0m0-1.5h0m1.5-1h0m0-1.5h0m2.5 2.5h0m0.5 0h0m1.5-3h0m0.5 3h0m1-2h0m24-0.5h0m3 1.5h0m0.5-0.5h0m0-1h0m0.5 1h0m1.5 0.5h0m0.5-1h0m0.5-1h0m0 4h0m0.5 0h0m0-3.5h0m1.5 1.5h0m1 2h0m0.5-1h0m0.5 0h0m0.5 0h0m0.5-1h0m0.5-0.5h0m0.5 0h0m4 0h0m0.5-0.5h0m2 0h0m1-1h0m-123 7h0m2-1.5h0m1 0.5h0m1 0h0m0.5 1h0m1-0.5h0m0.5 1h0m1 2.5h0m0-2h0m0-0.5h0m0.5 0.5h0m1-1.5h0m0 5h0m3-4.5h0m0.5 3.5h0m0 0.5h0m0.5-1h0m1-4h0m0.5 0h0m0 4h0m0.5 0.5h0m1-2.5h0m0.5 0h0m0-2.5h0m1 1.5h0m1 2h0m0.5 2.5h0m1-0.5h0m0-1.5h0m0.5 1.5h0m0.5 0h0m2-3h0m0.5 3h0m1.5-1h0m0 1.5h0m0-1h0m0.5-2.5h0m1.5-1h0m0 1h0m0-2h0m0.5-0.5h0m0.5 6h0m0.5-3h0m1-1.5h0m1 3.5h0m0-0.5h0m0-1h0m0.5 0.5h0m1 2h0m1.5-4h0m0 0.5h0m0.5-0.5h0m0.5 4h0m0.5-1h0m0-4h0m1.5 0.5h0m1 4h0m0-2.5h0m1-2h0m0.5 3.5h0m0 1h0m0 0h0m0.5 0h0m0.5-4.5h0m0 4.5h0m3.5-3.5h0m0 2h0m0.5 0.5h0m0.5-4.5h0m0.5 1.5h0m1 4h0m0 0h0m0.5-1h0m0-1.5h0m0.5-0.5h0m2 2.5h0m1-3h0m0.5 1h0m1.5-1h0m0.5 2h0m1-0.5h0m0.5-1.5h0m1 1h0m1 2.5h0m1 0.5h0m1-5h0m1.5 4.5h0m0 0h0m0-2.5h0m1 0.5h0m1.5 0.5h0m2.5-2h0m0.5 2.5h0m0-1h0m0.5-3h0m0.5 4h0m0-2.5h0m0.5 1.5h0m0 0.5h0m0 1.5h0m0-1h0m0.5-1.5h0m1-1h0m1 1h0m0.5 1.5h0m0 1h0m-58.5 3.5h0m0.5 2h0m0.5-0.5h0m0-4h0m0.5 4.5h0m1.5-0.5h0m0-2h0m0-1h0m0.5 2.5h0m0-2h0m2.5-1h0m0-0.5h0m1.5 4.5h0m0-0.5h0m0-0.5h0m0-0.5h0m3 2h0m0.5-4h0m2.5 2h0m1 1.5h0m0-2.5h0m0.5 2h0m2-2h0m1 0.5h0m1 2.5h0m0-5h0m0 2h0m0.5-1h0m0.5 3h0m0 0.5h0m0.5 0h0m0.5-2h0m0.5 2h0m0.5-1.5h0m0 0h0m3 2h0m1-1h0m0.5-2h0m0-0.5h0m0.5-1.5h0m1 4h0m0 1h0m2-4.5h0m0.5 1h0m0.5-1h0m1 4.5h0m1-3h0m0.5-1.5h0m0 3.5h0m1 1h0m0-2h0m1.5 0h0m0-2h0m0.5-1h0m0 3h0m0-2h0m0.5 1.5h0m0-0.5h0m0-1h0m1 3.5h0m0-2.5h0m1.5 2.5h0m0.5-4.5h0m0.5 1h0m0 1.5h0m1 1h0m2 0.5h0m0-4h0m0.5 0h0m0 0h0m0 4h0m2 0.5h0m1-4h0m1-1h0m1.5 2h0m0.5 4h0m0-1h0m0.5-3.5h0m0.5 0.5h0m1-0.5h0m1 4h0m0-1h0m0.5 1h0m0-3.5h0m0-0.5h0m1 0.5h0m1 0h0m0.5 1h0m0.5 0h0m1-1.5h0m0.5 0.5h0m0.5-1.5h0m0.5 1.5h0m0.5 2.5h0m0-1.5h0m0 0.5h0m0 0h0m1-3.5h0m0.5 4h0m0.5 0h0m-60.5 2.5h0m2.5 2.5h0m0-0.5h0m0-1h0m1 1h0m0.5-0.5h0m1-1h0m1.5 1.5h0m0 2.5h0m2.5-3.5h0m0.5 4.5h0m1-5.5h0m1.5 1.5h0m0-2h0m0.5 0.5h0m0 0.5h0m0.5 3h0m0 1.5h0m0 0.5h0m0.5-4.5h0m0 1h0m1-2h0m2 3h0m0.5-1.5h0m0-1.5h0m1 4.5h0m0.5-1.5h0m0-1h0m0.5-0.5h0m0.5 1.5h0m0.5-0.5h0m2 1h0m0.5-3h0m0 4h0m0.5 0h0m0-2h0m0-0.5h0m0.5-1h0m0.5 4h0m0.5-5h0m0.5 1.5h0m1.5-1h0m0.5 0.5h0m0 1h0m0.5-2h0m1 1h0m1 2.5h0m0 0h0m0 0h0m0.5-3h0m2-0.5h0m0 1h0m1 0h0m0.5 0.5h0m0.5 1.5h0m1.5-1.5h0m0 0h0m2-2h0m0 1.5h0m2 4h0m0.5-5h0m0.5 3h0m0.5-2h0m0.5-1h0m0 0.5h0m0.5 1h0m0 2h0m1-1.5h0m3-2h0m0 5h0m0.5 0.5h0m0-4.5h0m1.5-1h0m1 0.5h0m2.5 0.5h0m0.5 4h0m0.5-4.5h0m0 2.5h0m1 0.5h0m0.5-3.5h0m1 2h0m0.5-1h0m0 3.5h0m1-4h0m0 0h0m0.5 5h0m2-4.5h0m0.5 2h0m0 0h0m1 2h0m1.5 0h0m0 0h0m0.5-3.5h0m1 3.5h0m0-1h0m1.5-3h0m-60.5 5.5h0m0 3h0m0.5-1h0m0.5-1h0m0 3h0m1-2h0m0-1h0m0.5-0.5h0m0 1.5h0m1.5-1.5h0m2 4h0m0-3.5h0m1 3.5h0m1-0.5h0m0.5-1h0m1.5 1h0m0-3.5h0m1 4.5h0m1.5-1h0m1-5h0m2.5 4.5h0m0.5-1.5h0m0 0.5h0m0.5-3h0m2.5 2h0m0 1.5h0m1.5-3.5h0m0.5 3.5h0m0.5 0h0m0-2h0m0-1.5h0m0.5 1h0m0 4.5h0m1-2.5h0m0 0h0m1 0.5h0m1 0h0m0.5-2.5h0m0.5 3.5h0m0-1h0m1.5-1h0m0 2h0m0.5-3.5h0m1.5 3.5h0m0.5-5h0m0.5 4h0m0.5 2h0m1-5.5h0m0.5 0.5h0m0.5 4h0m1.5-4.5h0m0.5 1h0m0 3.5h0m0.5-5h0m0.5 5.5h0m0-4h0m0.5 0h0m0.5-1.5h0m1 5h0m0-4.5h0m0 1.5h0m0.5-2h0m0.5 3h0m2-2.5h0m2 1h0m2 3.5h0m0.5-1.5h0m2.5-3h0m0 0.5h0m1 2.5h0m1-0.5h0m0.5-2h0m0.5 2.5h0m0 1h0m0.5 1h0m0.5-1h0m1-2h0m0.5 2.5h0m0-4.5h0m0.5 0.5h0m0.5 1h0m0 2.5h0m0.5-3.5h0m0.5 3.5h0m0.5 0.5h0m0.5-0.5h0m0-0.5h0m0.5-2.5h0m0 1h0m0.5-0.5h0m0.5 3h0m0-4h0m0.5 2.5h0m0 0.5h0m1-1h0m0.5-2h0m0.5 1h0m0.5-2h0m1 4.5h0m0-2.5h0m0.5 3.5h0m0-3h0m-61 4.5h0m1 0h0m0.5 0.5h0m0-0.5h0m0.5 1h0m1-1h0m1 0.5h0m1.5-1h0m0-0.5h0m1 1.5h0m0.5 4h0m0-1.5h0m0.5 1.5h0m0.5-4.5h0m1 2.5h0m0 0.5h0m0.5-2h0m0.5 1h0m2-0.5h0m0.5-1.5h0m0.5 4.5h0m0-3.5h0m0-1h0m0 1h0m0.5 0.5h0m0 2h0m1-3.5h0m0 1.5h0m0-1.5h0m0.5-0.5h0m1 4h0m1.5 0.5h0m0.5-4h0m2.5 1.5h0m0.5 3.5h0m0-6h0m1 1h0m1.5 1h0m0 1.5h0m0.5 1h0m1.5-4h0m2 0.5h0m0 2.5h0m1.5 1h0m0.5-3h0m0 0h0m0 0.5h0m1-0.5h0m2 3h0m0.5-3.5h0m1.5 4h0m0-1h0m1-0.5h0m0.5 0h0m0 2.5h0m3.5-5.5h0m0.5 1h0m0.5 4h0m0.5-3h0m1 1h0m0 0h0m0.5-0.5h0m0 3h0m0-4.5h0m0.5 2.5h0m0.5-3.5h0m0 3.5h0m0 1h0m1-2h0m0.5-2.5h0m0 2h0m0 3.5h0m0-3h0m0.5-1h0m1.5 0h0m0-0.5h0m0.5 0.5h0m0.5 2h0m0.5-3.5h0m1 5.5h0m2.5-5.5h0m0.5 1h0m1.5 4.5h0m1-5.5h0m0.5 4.5h0m0-5h0m0.5 5h0m1 0h0m0-0.5h0m0.5-3h0m2 1h0m0 1.5h0m1.5-3.5h0m1.5 1.5h0m-48.5 4h0m1 1h0m3.5 1h0m0-2h0m1 2.5h0m1-1h0m2.5-1h0m3.5 1.5h0m1.5-0.5h0m1.5-0.5h0m1 1h0m0.5-1h0m1 0h0m0.5 1.5h0m1-2h0m4 2.5h0m1.5-2.5h0m2 0h0m0.5 1h0m1 0.5h0m0.5-1.5h0m1.5 1h0m0.5 1h0m1-2.5h0m0 0.5h0m1.5 1.5h0m0.5-1h0m1.5-0.5h0m1 2h0m1-1h0m1-1.5h0m1 0h0m2 0h0m-20 22.5h0m1-2h0m0.5-0.5h0m0 3h0m1-1h0m1-2h0m0 1h0m0-2h0m0 1.5h0m0.5-1h0m0 1h0m0.5 1h0m0 0.5h0m0.5-2h0m0 4h0m1-0.5h0m0-2.5h0m-6 5h0m0 3h0m0.5 0.5h0m0-2.5h0m0-2h0m0.5 3.5h0m0-3h0m0.5 1.5h0m2 0h0m0.5 1.5h0m0-2h0m0.5-2.5h0m0 4h0m1-4h0m0 3.5h0m0.5 2h0m1.5-1h0m0-3h0m-5 6h0m1.5-1.5h0m2 1.5h0" stroke="#cbc9c9" stroke-width="1.4" stroke-linecap="round" fill="none"/>
<path d="M1156.5 164.5h0m4.5-0.5h0m6.5 0.5h0m8.5 0h0m2-1h0m-40 6h0m2-2h0m0 3h0m3.5-3h0m0.5 2.5h0m7 1h0m0.5-2h0m0.5-1h0m6.5-1h0m0 2.5h0m2.5-4.5h0m0 3.5h0m4 1.5h0m1.5-1.5h0m2-3h0m4 2h0m1 0h0m-34.5 6h0m1 3.5h0m1-0.5h0m1.5-1.5h0m3.5-3h0m1 1.5h0m1 0.5h0m2 0.5h0m0-2.5h0m6.5 4.5h0m1 0h0m4-4h0m0 2h0m-20.5 6.5h0m5.5-4h0m0 3h0m1 1.5h0m0.5-4h0m1.5 2.5h0m5 2.5h0m2-2h0m2-2h0m-40 7h0m2 1h0m2.5-0.5h0m13.5 0.5h0m0.5 0.5h0m0.5-1h0m0 0h0m0 1h0m0-1.5h0m1 2.5h0m4 0.5h0m3.5-2h0m1-1h0m0.5 3h0m1.5-3.5h0m1.5 3h0m0.5-4h0m4.5-1h0m2 5.5h0m4.5 0h0m0.5-0.5h0m-42.5 3h0m0-0.5h0m4 2.5h0m0.5-3h0m2-0.5h0m11.5 1.5h0m5-1h0m1 0.5h0m1.5 4h0m0.5-1.5h0m4-2h0m3 3h0m0.5-2.5h0m0 1.5h0m6.5 1h0m7.5 0h0m0.5-0.5h0m3-0.5h0m4-3h0m-63.5 10.5h0m9-3h0m0 0.5h0m0.5-2h0m9 3h0m0.5 1.5h0m4.5-5h0m2 4.5h0m7-3.5h0m6.5 2.5h0m4-2.5h0m6 4.5h0m5-3.5h0m4 0h0m2 2.5h0m4.5 0h0m-66 3h0m0.5 0.5h0m1.5-0.5h0m3.5 2.5h0m0-4h0m1.5 1h0m6 1.5h0m1-2h0m0 1h0m0 3h0m0.5 0.5h0m0.5 0.5h0m4.5-0.5h0m4-1h0m4.5-0.5h0m0.5-1.5h0m2-0.5h0m1.5 0h0m4 2h0m2.5-2.5h0m11.5 1.5h0m0.5-0.5h0m9.5-2.5h0m4 2h0m1 1.5h0m0-0.5h0m0 0h0m1 0.5h0m0.5-1h0m3 1h0m3.5 1.5h0m4.5-2h0m-75.5 3.5h0m0.5 3.5h0m9-3h0m0.5-0.5h0m3 5h0m0.5-2.5h0m2.5 1h0m0.5-3h0m0.5 3h0m3-0.5h0m2.5-2h0m1 2.5h0m3 1.5h0m1-5.5h0m2.5 1h0m2.5 2.5h0m1-1h0m3.5 1.5h0m4 0h0m1.5 1.5h0m1.5 0.5h0m4-1.5h0m8 1h0m3.5-5h0m5 1h0m4.5-0.5h0m6 0.5h0m-69 7.5h0m5-0.5h0m0.5-1h0m3 4h0m5-2h0m1.5-2.5h0m0.5-0.5h0m3.5 3.5h0m1 0.5h0m0.5 0h0m1.5-0.5h0m0-0.5h0m5-2.5h0m1.5-1h0m5.5 4h0m1 0.5h0m0.5-1h0m2-1.5h0m0.5 2h0m9-3h0m2.5 4.5h0m0.5-2h0m5.5 0.5h0m1.5-2.5h0m2.5 0.5h0m-49.5 8.5h0m0.5-4h0m0 5h0m0.5-0.5h0m0.5-3.5h0m1-0.5h0m3.5 1.5h0m2.5-1.5h0m2 2.5h0m5-3h0m15-0.5h0m2 3h0m2-3h0m2.5 3h0m2.5-2h0m0 0h0m1 2.5h0m1-0.5h0m3-3h0m1 4h0m2-3h0m3.5 3.5h0m1.5-0.5h0m0-3h0m2.5 1.5h0m-56 5h0m1.5 2.5h0m4 2h0m8-1.5h0m0-2.5h0m1.5 3.5h0m0-4h0m1 3.5h0m15 0.5h0m1-4.5h0m4.5 3h0m2.5-1.5h0m0-2h0m2 2.5h0m5.5 0.5h0m2 0.5h0m0.5-1h0m0-0.5h0m3-2h0m3.5 4h0m1-3.5h0m1.5 1.5h0m1 1h0m0.5-0.5h0m1 0h0m-55 4.5h0m0.5-0.5h0m3.5 4h0m9.5-3.5h0m8 3h0m2 0.5h0m0.5-4.5h0m0 2h0m5.5-0.5h0m3-1.5h0m1 4.5h0m5-4.5h0m4 3h0m2.5 0.5h0m0.5 0.5h0m1.5 0h0m3.5 0.5h0m2 0.5h0m1.5 0h0m-56.5 1h0m1 0h0m7 2h0m2 1h0m0-0.5h0m0.5-2.5h0m0 2.5h0m0-2.5h0m0.5 1h0m3.5-1h0m2.5 0h0m5 3h0m1-2h0m2.5 1h0m1.5 1.5h0m9.5-1.5h0m1 1h0m2-1h0m1.5 3.5h0m2-3h0m5.5-2h0m0.5 0.5h0m0 4.5h0m0-5h0m0.5 4h0m7-4h0m2 3h0m1-1.5h0m-47 4h0m14.5-0.5h0m20 0.5h0m7.5-0.5h0" stroke="#f2f2f2" stroke-width="1.3" stroke-linecap="round" fill="none"/>
<path d="M1183 199h0m2 0h0m1.5-1h0m1.5-1.5h0" stroke="#c8c6c6" stroke-width="1.4" stroke-linecap="round" fill="none"/>
<path d="M1123.5 222.5h0m0.5 0.5h0m0.5 0h0m0 0.5h0m0 0h0m0.5-0.5h0m0-1h0m0 1h0m0 0.5h0m0.5-0.5h0m0.5 0h0m0.5 1h0m0-1.5h0m0 2h0m0.5-0.5h0m0.5-1.5h0m0-0.5h0m0 1.5h0m0.5-1h0m2 2h0m1-0.5h0m0.5-1.5h0m0 1h0m1 0h0m0.5 1h0m0-2h0m0-1h0m0.5 0.5h0m0 1.5h0m0-1.5h0m0.5 1h0m0 0h0m0 2h0m0.5-0.5h0m0-2h0m0-1h0m0 2h0m1 1.5h0m0-2h0m0-1h0m0.5-0.5h0m0 1h0m0.5 1.5h0m0-2.5h0m0 3h0m0.5-1h0m0 0h0m0-4h0m0 2.5h0m0 2h0m0.5-3h0m0-0.5h0m0 0h0m0.5 3h0m0-1h0m0 1h0m0.5 1h0m0-3h0m0 3h0m0-2.5h0m0.5 0.5h0m0 1.5h0m0-0.5h0m0.5-2.5h0m0.5 1.5h0m0.5-1.5h0m0 4h0m0-2h0m1 0h0m0-0.5h0m0 1h0m0-1.5h0m0.5 1h0m0.5-1h0m0 1.5h0m1-2h0m0 0.5h0m0 2h0m0.5-0.5h0m0-2.5h0m1 3.5h0m0-2.5h0m0 0h0m0.5 0.5h0m0.5 2h0m0.5-2.5h0m0 0h0m0 1h0m0-1h0m0.5 0.5h0m0 2.5h0m0-0.5h0m0-2h0m0.5 0h0m0.5 2h0m0-0.5h0m0.5 0.5h0m0.5-0.5h0m2 0h0m0 0h0m-26.5 4.5h0m0.5-3h0m0 2h0m0.5 0h0m0 1.5h0m0.5-3h0m0 1h0m0.5 0h0m0 0h0m0 0.5h0m0 1.5h0m0.5-0.5h0m0 1h0m0.5 0.5h0m0-5h0m0 1h0m0 4h0m0.5 0.5h0m0-5h0m0.5 1.5h0m0.5-1h0m0 0.5h0m0 1h0m0.5-1.5h0m0 2h0m0.5 1h0m0 0.5h0m0-4.5h0m0 5.5h0m0.5-3h0m0.5-2.5h0m0 2h0m0 1h0m0-2.5h0m0 0.5h0m0 4.5h0m0.5-0.5h0m0-2h0m0 2.5h0m0-2h0m0.5 1.5h0m0 0.5h0m0.5-5h0m0-0.5h0m0 1.5h0m0-0.5h0m0 1h0m0.5 1h0m0-3h0m0 2.5h0m0 0h0m0-1h0m0-0.5h0m0 0.5h0m0 0.5h0m0 1h0m0.5 3h0m0-5.5h0m0.5 5h0m0-1.5h0m0.5-1h0m0-2h0m0 1.5h0m0-1h0m0-1.5h0m0 5.5h0m0-0.5h0m0-1.5h0m0.5 2h0m0-3h0m0-1h0m0.5 0h0m0-1h0m0 0.5h0m0.5 2.5h0m0 0h0m0.5-2h0m0 2h0m0 1.5h0m0.5-3.5h0m0 3h0m0.5 1h0m0-3.5h0m0 2.5h0m0-2h0m0-0.5h0m0.5 0.5h0m0-2h0m0 1.5h0m0 0h0m0.5 3.5h0m0 0h0m0.5-3.5h0m0-1.5h0m0-0.5h0m0.5 1h0m0 4.5h0m0-0.5h0m0.5-1h0m0 0.5h0m0 0h0m0 0.5h0m0-3h0m0.5-1h0m0 3h0m0-3h0m0.5 2.5h0m0-1.5h0m0-1h0m0 1h0m0.5 1h0m0-1.5h0m0-1.5h0m0 2.5h0m0.5 1h0m0 2.5h0m0.5-1h0m0-2.5h0m0 0h0m0.5-1h0m0 2h0m0 2h0m0.5-4.5h0m0 4.5h0m0-4h0m0 0.5h0m0 3.5h0m0.5-1h0m0 0.5h0m0.5-3.5h0m0 0.5h0m0-1h0m0.5 3h0m0-1.5h0m0.5-2.5h0m0 4.5h0m0-1h0m0 2h0m0-5h0m0-0.5h0m0.5 4.5h0m0-1h0m0-3h0m0 0h0m0.5 4h0m0 1.5h0m0-1h0m0-2h0m0.5 0.5h0m0 0.5h0m0-2h0m0-1.5h0m0.5 5h0m0 0h0m0-2h0m0.5-0.5h0m0-1.5h0m0 2h0m0-1.5h0m0.5 3h0m0-4.5h0m0 0.5h0m0 2.5h0m0.5-2h0m0 0.5h0m0 3.5h0m0-2h0m0.5-0.5h0m0-3h0m0 3h0m0 1.5h0m0-1.5h0m0-2h0m0.5 4.5h0m0-1.5h0m0 1.5h0m0-4h0m0.5 4h0m0-4h0m0 0.5h0m0.5 0h0m0-1.5h0m0.5 1.5h0m0 0h0m0.5 2h0m0-2h0m0 4h0m0.5-2.5h0m0 0.5h0m0-3h0m0 0.5h0m0 1.5h0m0-2h0m0 0h0m0.5 1h0m0 2.5h0m0-4h0m0.5 0h0m0 0h0m0-0.5h0m0.5 1h0m0 0.5h0m0-0.5h0m0.5 0h0m0 2.5h0m0-0.5h0m0 2.5h0m0.5-2h0m0-1h0m0.5-0.5h0m0.5 2h0m0 2h0m0.5-3h0m0 2.5h0m0-2.5h0m0.5 2.5h0m0 0.5h0m0-4h0m0.5 1h0m0.5 2.5h0m0.5-0.5h0m-30 1.5h0m1 0.5h0m0.5 2.5h0m0 0.5h0m0-1h0m0 0.5h0m0.5-2h0m0.5 2h0m0-1h0m0-1.5h0m1 2h0m0 1.5h0m0 1h0m0.5-3h0m0 1h0m0.5-1.5h0m0 0.5h0m0-0.5h0m0-0.5h0m0 0.5h0m0.5 2h0m0 0.5h0m0-2.5h0m0 2h0m0-3.5h0m0.5 3h0m0-2h0m0 2.5h0m0-2.5h0m0.5 1.5h0m0.5-2h0m0.5 0.5h0m0-1h0m0 2.5h0m0-1h0m0.5 2.5h0m0-3h0m0 2.5h0m0-2.5h0m0 0.5h0m0.5 2h0m0-1.5h0m0 1.5h0m0.5-1.5h0m0 2.5h0m0.5-4h0m0 4h0m0-5h0m0 0h0m0 3.5h0m0-2.5h0m0.5-0.5h0m0 5h0m0-4h0m0 0.5h0m0-1h0m0 0.5h0m0-1h0m0 4.5h0m0.5-2h0m0 3h0m0-2h0m0 1h0m0-0.5h0m0-3h0m0.5 3.5h0m0 0h0m0-4h0m0.5 1.5h0m0 2h0m0.5-2h0m0 1h0m0 2.5h0m0-0.5h0m0.5-4h0m0 1h0m0 2h0m0-2h0m0.5 1.5h0m0-1.5h0m0 2.5h0m0-2h0m0 1h0m0.5-3.5h0m0 0h0m0.5 4h0m0-0.5h0m0-0.5h0m0-3h0m0.5 2.5h0m0-2h0m0.5 0h0m0 2h0m0-0.5h0m0 3h0m0-0.5h0m0-3h0m0.5-2h0m0 1.5h0m0 3.5h0m0-4h0m0 0.5h0m0.5 0h0m0 3.5h0m0-2h0m0 2h0m0.5 1h0m0.5-0.5h0m0-5h0m0 0h0m0 1.5h0m0.5 0.5h0m0-0.5h0m0 1.5h0m0 1.5h0m0.5-1.5h0m0 2h0m0-2.5h0m0-3h0m0 2h0m0-2h0m0 2h0m0.5 2.5h0m1-1h0m0-3h0m0 3.5h0m0-2.5h0m0 1h0m0-2h0m0 4.5h0m0 1h0m0.5-1.5h0m0-4h0m0 1.5h0m0.5 0h0m0 0h0m0-2h0m0 1.5h0m0 0h0m0 0.5h0m0 2.5h0m0.5 1.5h0m0-4.5h0m0 3.5h0m0.5 0.5h0m0.5 0h0m0-3.5h0m0 3.5h0m0-2h0m0.5 2h0m0-4h0m0.5 4h0m0-2h0m0 1h0m0.5 0h0m0-2h0m0-2.5h0m0 3h0m0-1h0m0.5-0.5h0m0 3h0m0.5 0h0m0 1h0m0-0.5h0m0-3.5h0m0.5 2h0m0-0.5h0m0 3h0m0.5-1.5h0m0.5-2h0m0 2h0m0 1.5h0m0-4.5h0m0.5-0.5h0m0 0.5h0m0 0h0m0 4h0m0-1.5h0m0 2h0m0.5-3.5h0m0 2h0m0-0.5h0m0-2h0m0 3h0m0-1h0m0.5-2h0m0 1.5h0m0 0h0m0 2h0m0-2h0m0.5 1h0m0-1.5h0m0 0h0m0-0.5h0m0 2h0m0.5-1h0m0-1.5h0m0.5-1.5h0m0.5 2.5h0m0-2h0m0 2h0m0.5-3h0m1 6h0m0-3h0m0-0.5h0m0.5 3.5h0m0-3.5h0m0 2.5h0m0.5 0.5h0m0-1h0m-26 2h0m0.5 0h0m2.5 0h0m0.5 1.5h0m0.5-1h0m1.5-1h0m0 2h0m0-1h0m0.5 0.5h0m0.5-1h0m0 1.5h0m0.5-1.5h0m0 1.5h0m0-0.5h0m0.5-1h0m0-0.5h0m0 0.5h0m0 0.5h0m0 1.5h0m1-2h0m0.5 0.5h0m0.5 2h0m0-2.5h0m0.5 1h0m0 0h0m0.5 2h0m0-3.5h0m0 0.5h0m0.5 2h0m0.5 2h0m0-1.5h0m0.5 1h0m0 0.5h0m0-0.5h0m1-2.5h0m0.5 1h0m0.5 0.5h0m0 2h0m0 0h0m1-2h0m0 2h0m0-4.5h0m0-0.5h0m0 2.5h0m0.5-2.5h0m0 5h0m0 0.5h0m0-3.5h0m0.5-1.5h0m0 3.5h0m1-1h0m0.5-2h0m0 3.5h0m0-0.5h0m0.5-3h0m0 0.5h0m0 0h0m0 4h0m0.5 0.5h0m0-1h0m0-3h0m0 1h0m0-1h0m0.5 0h0m0 3h0m0.5 1h0m0-1h0m0-3h0m0-1h0m0 2h0m0.5-1h0m0 2h0m0-0.5h0m0.5 2.5h0m0-3.5h0m0 0.5h0m1-2h0m0-0.5h0m0 1h0m0 2.5h0m0.5 0.5h0m0-0.5h0m0-3.5h0m0 4.5h0m0.5 0.5h0m0-2h0m0-1h0m0-2.5h0m0 5h0m1-5h0m0 5.5h0m0-2h0m0-0.5h0m0-3h0m0.5 5h0m0-2.5h0m0.5 2h0m0-0.5h0m0.5-2.5h0m0 0h0m0.5 4h0m0-4h0" stroke="#e8784c" stroke-width="1.6" stroke-linecap="round" fill="none"/>
<path d="M1310.2 173.0L1320.2 169.8L1337.1 169.0L1350.9 170.6L1358.6 174.6L1359.4 181.8L1357.1 189.8L1349.4 196.2L1344.8 201.0L1350.9 205.8L1361.7 209.0L1364.7 212.2L1358.6 214.6L1350.9 216.2L1355.5 223.4L1363.2 233.0L1365.5 239.4L1361.7 245.0L1349.4 246.6L1330.9 246.6L1312.5 244.2L1303.3 239.4L1300.2 229.8L1295.6 223.4L1286.4 217.0L1281.8 209.0L1284.1 202.6L1297.1 199.4L1289.5 196.2L1287.9 192.2L1301.8 191.4L1312.5 188.2L1311.0 180.2Z" fill="#d9d7d7"/>
<path d="M1384.7 205.8L1393.9 201.0L1404.7 199.4L1413.9 203.4L1415.4 207.4L1406.2 211.4L1397.0 215.4L1387.8 212.2Z" fill="#d9d7d7"/>
<path d="M1343.2 261.0L1346.6 265.0L1349.7 270.6L1347.5 275.0L1339.4 275.4L1336.3 271.7L1339.4 265.8Z" fill="#d9d7d7"/>
<path d="M1338.6 178.6L1349.4 174.6L1357.1 177.0L1357.1 185.0L1350.9 193.0L1343.2 197.8L1337.1 191.4Z" fill="#f7f7f7"/>
<path d="M1315.5 170.5h0m2-2.5h0m0.5 1.5h0m1 1h0m2-1.5h0m0 1h0m1.5 0.5h0m1 0.5h0m1.5-2.5h0m2.5 1h0m1.5-0.5h0m1.5 0.5h0m2-0.5h0m1.5 2h0m0-2.5h0m1 1.5h0m1.5-1.5h0m0.5 1.5h0m1 0.5h0m0.5 0h0m1.5 0h0m0.5 0h0m1-1h0m1.5 0.5h0m0.5 0h0m0.5-1h0m0.5 1.5h0m2.5-1h0m0 1.5h0m0.5 0h0m1-1h0m1-1h0m0.5 1.5h0m0 0.5h0m-40 3h0m1-2.5h0m0 3.5h0m0.5-1h0m0.5 0h0m0.5-1h0m0 0.5h0m2.5-0.5h0m2-1.5h0m0.5 1h0m0 3h0m0.5-2.5h0m1-0.5h0m0 1h0m1.5-1h0m0.5-1h0m0.5 5h0m0.5-2h0m0-1.5h0m1 0.5h0m0.5-2h0m1 5.5h0m0 0h0m0.5-2.5h0m0.5-1h0m0 1.5h0m0.5 1.5h0m0.5-1.5h0m0.5-2.5h0m0 0h0m0.5-1h0m0.5 1h0m1.5 2.5h0m1.5 1.5h0m0-0.5h0m1-3h0m1.5 4h0m0-6h0m1.5 1h0m0.5-0.5h0m0.5 2.5h0m0.5-2.5h0m0.5 0.5h0m2 4h0m0.5-2h0m0.5-3h0m0.5 2h0m0 1h0m1.5 0h0m0 1.5h0m0.5-4.5h0m0 4h0m2.5 1.5h0m0-1.5h0m0-0.5h0m0-0.5h0m0 1h0m3.5 0h0m0-4h0m0.5 1.5h0m1-0.5h0m0.5 1.5h0m0.5 0.5h0m1.5-2h0m0 3h0m0.5 1.5h0m1-3h0m0.5 2h0m0 1h0m0.5-3.5h0m0.5-1h0m0.5 1h0m0.5 3.5h0m0.5-3h0m0.5 3h0m0 0h0m0.5-1.5h0m0.5 1.5h0m0 0h0m0-3h0m-49 6.5h0m0.5-1h0m0.5-0.5h0m1 1h0m0 1h0m0.5-3h0m1 0.5h0m0.5-1h0m0 1.5h0m0.5-1h0m0 2.5h0m0.5 2h0m0.5 0.5h0m1-1.5h0m0 1.5h0m0.5-0.5h0m0-1h0m0.5 1.5h0m1-0.5h0m0-4h0m0.5 5h0m0.5-2h0m1 2h0m0-3.5h0m0 3.5h0m1-3h0m0.5 1.5h0m0.5-3h0m0.5 4.5h0m0-3.5h0m0.5-2.5h0m1 3h0m1.5-0.5h0m0-1h0m1-0.5h0m0-0.5h0m0.5 1h0m0.5 4h0m1-4.5h0m0 3h0m1-1h0m3-3h0m0 2.5h0m0.5 3h0m1-1h0m1.5-2.5h0m0.5 4h0m0-4.5h0m0-0.5h0m0 4h0m0.5-3.5h0m1.5 0.5h0m1 2h0m0.5-2h0m0 0.5h0m4 0.5h0m2 2h0m10-4h0m0.5 4h0m1.5 0h0m0.5 0h0m0.5-3.5h0m0 2.5h0m1-2h0m0-1h0m0.5 0.5h0m-49 5.5h0m0.5 3.5h0m0.5-0.5h0m0.5-1h0m0-1h0m0.5 2h0m1-2h0m1.5 0h0m4 3h0m0-1.5h0m1-3h0m0.5 5h0m0-4.5h0m1-0.5h0m0.5 2h0m1-2h0m1 4.5h0m0-3h0m2.5-0.5h0m0.5 0h0m1 4.5h0m2.5-5h0m0 3h0m0-2h0m1-2h0m0.5 1.5h0m0-1.5h0m0.5 2h0m0-1h0m2 0h0m1 0.5h0m0-1.5h0m0 0h0m0 0h0m0.5 0.5h0m1.5 3.5h0m0-3h0m0.5 0h0m1.5 0.5h0m1-1h0m1 3.5h0m2 0h0m11.5-1h0m0.5 2h0m0.5-0.5h0m0.5-3.5h0m0.5 2h0m0.5 0h0m0.5-1.5h0m0-1.5h0m1.5 3h0m-72 8.5h0m1.5 0h0m0.5-1h0m0.5-0.5h0m0-0.5h0m0.5-1h0m1 2h0m1-2h0m0.5-1h0m1 1.5h0m0.5-0.5h0m1 0h0m1.5 3.5h0m1.5-1.5h0m1-2h0m1 0.5h0m1-1h0m0.5 1.5h0m0.5-1h0m0-0.5h0m0.5-0.5h0m0.5 4h0m1.5-3h0m0 0h0m0.5 3h0m0.5-1h0m0-2.5h0m0.5-1h0m0.5 2.5h0m0-3.5h0m0.5 3.5h0m0.5-3h0m0 2.5h0m1 1h0m0.5-2h0m0.5 4h0m0.5-0.5h0m1-2.5h0m1-1h0m1-0.5h0m0 2h0m0 0.5h0m0.5 1h0m0-2h0m0.5-0.5h0m0.5 1.5h0m1 1h0m0-2.5h0m0.5 1.5h0m0.5 0.5h0m3 0.5h0m1 0.5h0m1-1h0m0.5-1h0m0.5 0h0m1-1.5h0m0-0.5h0m1.5 3.5h0m2.5-2.5h0m2.5 2h0m0.5-3h0m0.5 0h0m0.5 2h0m0.5-0.5h0m1 2h0m0.5-4.5h0m0 1h0m0.5 3.5h0m1.5-5h0m2 0.5h0m0.5 0h0m0.5 5h0m1-5h0m3.5 3.5h0m7 2h0m0-4h0m1 4h0m1-4.5h0m0 2.5h0m1-0.5h0m1-2h0m0-1h0m0 0.5h0m1 0.5h0m-67 7h0m1 3h0m2-4.5h0m0 1.5h0m0 2h0m0 1.5h0m0.5-3.5h0m0.5 0h0m0 3.5h0m0.5-0.5h0m0.5-1.5h0m1.5-0.5h0m0.5-2h0m2 1h0m0 0h0m0.5 3h0m2-1.5h0m1.5 1.5h0m0-3.5h0m2-0.5h0m0 2.5h0m0.5-1h0m1 1h0m0.5-1.5h0m2.5-2h0m0.5 5h0m1-2h0m0.5 2h0m3-2.5h0m1-1h0m0.5 2.5h0m0-2.5h0m1-1h0m0-0.5h0m0 4.5h0m0-4h0m0.5 3.5h0m0.5-2h0m0 0.5h0m0.5-2.5h0m1.5 0h0m1 3h0m0-1.5h0m1.5 2.5h0m0.5-4.5h0m0.5 2.5h0m1 1h0m0-2h0m0.5-1.5h0m0 2h0m0-1h0m2 0h0m0.5 2.5h0m1 1.5h0m0.5-2.5h0m1 3h0m0.5-0.5h0m0.5 0.5h0m1-5h0m0.5 0h0m1-0.5h0m0.5 0.5h0m1 3.5h0m2.5-4h0m0 2h0m1 2h0m0.5-3h0m1.5 3h0m2.5 0h0m2.5 0.5h0m1-4h0m0.5 5h0m0.5-1h0m0-2.5h0m0 1h0m0.5 0h0m0.5 1.5h0m1.5-3.5h0m0.5 0h0m0 1h0m1-1.5h0m0.5-0.5h0m43.5 5h0m1 0.5h0m0.5 0.5h0m3.5-0.5h0m0.5-1h0m1.5 1.5h0m2.5-0.5h0m2 0.5h0m1-1h0m1.5 1h0m0-1.5h0m1 1.5h0m-127 3.5h0m0 2h0m0.5 0.5h0m1-3.5h0m0 0h0m0.5 0.5h0m0.5-2.5h0m0.5 0.5h0m0 3h0m0.5 0h0m1-3.5h0m1 0.5h0m0.5 1.5h0m1-2h0m0.5 1h0m0.5 0.5h0m0-1.5h0m1 0h0m1 3h0m1-3.5h0m0.5 1.5h0m0-1.5h0m0.5 5h0m0.5-2h0m0.5-1.5h0m0 4h0m1.5-0.5h0m0.5-0.5h0m0.5-4.5h0m0.5 4.5h0m0.5-2h0m3 2.5h0m0 0h0m0.5-2.5h0m0 0.5h0m0 2h0m0.5-4h0m0.5-0.5h0m0-0.5h0m0.5 5h0m0-2.5h0m0.5 3.5h0m0-4.5h0m0.5 4h0m0-2.5h0m0.5-1.5h0m0 1h0m0-1.5h0m0.5 4.5h0m0-0.5h0m0 0h0m1-2h0m0-1.5h0m0.5-1.5h0m1 0.5h0m2 3h0m1-3h0m1 1h0m0.5-1.5h0m1 4h0m0.5-3h0m0.5 1.5h0m1.5 1.5h0m0.5-4h0m0.5 0.5h0m0 2.5h0m0 0h0m2.5-1.5h0m0.5 3h0m0.5-0.5h0m2 1h0m0-0.5h0m1-2.5h0m1 1.5h0m0.5-3.5h0m0 1.5h0m0 1h0m0-0.5h0m1-0.5h0m4 2.5h0m0-1h0m1 3h0m1.5-4h0m1.5 1.5h0m1 0.5h0m0-2.5h0m0.5 1.5h0m3.5 2.5h0m0.5 0h0m0-4.5h0m2.5 2.5h0m1 1.5h0m0-1.5h0m0.5 0h0m0.5 1.5h0m0.5-0.5h0m2-3h0m0 3h0m0-1.5h0m0 2h0m0.5 0.5h0m1 0h0m0 0h0m1-4.5h0m0 4.5h0m1-0.5h0m1.5 0h0m3.5 0h0m29 0h0m1-2h0m0.5-1.5h0m1 3.5h0m4-4h0m0.5 4h0m0.5-4.5h0m1 0h0m0 4.5h0m0.5-3.5h0m0-1h0m0.5 2h0m1 0h0m0.5 2.5h0m1-4.5h0m0 3h0m1-1.5h0m0 1h0m0 0h0m0-0.5h0m0.5 2.5h0m0-2.5h0m1.5 3h0m0.5-3.5h0m0 1h0m0.5-0.5h0m0.5 2h0m0.5-4h0m0.5 4h0m0-2h0m1.5 2h0m0-1h0m2-3h0m0 2.5h0m1-3h0m0.5 3.5h0m1-1.5h0m0 1.5h0m0-0.5h0m0.5-0.5h0m0.5 3h0m0-5h0m0 1h0m0 0h0m1 2h0m0-1h0m0.5 0.5h0m1-1h0m1.5 2h0m0 0.5h0m0.5 0.5h0m0.5 0.5h0m0.5 0h0m0.5 0.5h0m-135.5 2.5h0m2 1h0m0.5 0h0m0.5-2.5h0m2 4.5h0m0.5-1.5h0m0.5 0.5h0m0-2h0m0 3.5h0m1-3.5h0m1.5 0.5h0m0.5-0.5h0m0-2h0m1 0h0m0 3h0m5 1h0m1-4h0m1.5 1.5h0m0 3h0m1-4.5h0m0.5 4.5h0m2-4.5h0m0.5 4.5h0m0.5-1h0m2.5-2.5h0m0-0.5h0m0.5 4.5h0m1-2.5h0m1 2h0m0.5-1.5h0m1-2h0m0-0.5h0m0-1h0m0.5 6h0m0.5-2h0m1.5-1h0m0-3h0m0.5 4h0m0.5-2h0m1.5 2h0m0 0.5h0m1-1h0m0.5-3h0m0 4.5h0m0-4.5h0m0.5-0.5h0m0 1.5h0m1.5 3h0m2-1.5h0m0 0h0m1.5 2h0m2-3h0m1.5 2.5h0m0-1h0m0.5 2.5h0m0.5-1.5h0m1 1h0m0-2h0m0.5 0.5h0m2-2.5h0m0.5 3.5h0m2.5 1h0m1-0.5h0m1.5-1h0m1 0h0m0-1h0m0.5 1h0m0.5 1.5h0m1.5-3h0m0 2.5h0m0.5-2h0m0.5-0.5h0m0.5 1h0m0-3h0m0 4.5h0m0-2.5h0m0-1h0m1 4h0m2 0h0m0-3h0m2-2.5h0m1.5 1h0m1.5 3h0m1 1h0m1 0h0m0.5-0.5h0m0.5-1h0m0-1.5h0m0.5 2.5h0m0.5 0.5h0m0-1h0m1.5-2.5h0m0.5-1.5h0m0 1.5h0m0 1h0m0.5-2.5h0m1-0.5h0m2.5 2h0m0 2.5h0m0.5-2.5h0m1 1h0m0.5-0.5h0m0 1h0m0-1h0m0 0.5h0m0-1.5h0m0 0h0m0.5 1h0m0.5-1h0m0.5 1h0m1.5 0.5h0m0-1h0m0.5 1h0m0 1.5h0m0.5 1h0m0.5-1h0m1-1h0m0 1h0m20.5-4h0m1.5 0.5h0m0.5 3.5h0m0.5 0h0m0-1.5h0m0.5-2h0m0-0.5h0m0 2.5h0m0.5-0.5h0m1 2h0m0.5-3h0m1.5 2h0m0 2.5h0m0-4h0m0.5 3h0m0-2h0m0.5-1.5h0m0.5 1.5h0m1.5-1h0m1 1h0m0-1h0m0 3h0m0.5-3h0m1-1.5h0m0 2.5h0m0.5-2h0m0.5 0h0m0 1h0m1-1h0m0 1.5h0m1 0.5h0m0 2h0m0-5h0m1.5 5.5h0m0.5-5h0m0 1h0m1 1h0m0.5 1h0m0.5-1h0m0 3h0m1-1.5h0m1-1.5h0m1 0h0m0.5-0.5h0m1-2h0m0.5 3.5h0m1.5 0.5h0m0-1.5h0m0-0.5h0m1-1.5h0m0-0.5h0m1 3h0m1-2h0m0.5-1h0m0.5 1h0m0 2h0m1.5-1.5h0m-131.5 6h0m1 2h0m0.5-1h0m1.5-2h0m0.5 0.5h0m1 2.5h0m0.5-2h0m1 3.5h0m0.5-1.5h0m0.5-3h0m0 1h0m0.5 0.5h0m0 1h0m0.5-2.5h0m1.5 2.5h0m1.5 2h0m0.5-3h0m0.5 3.5h0m0.5-2h0m0-2h0m0.5 3h0m2-3h0m0 4h0m0.5-0.5h0m0.5-3.5h0m0 1h0m2 2.5h0m0.5-2.5h0m0.5-1.5h0m0 1.5h0m1-2h0m0 2.5h0m2 0.5h0m1 0h0m0-3.5h0m2 1h0m0.5 2.5h0m0 1h0m0 0.5h0m0.5-4.5h0m0.5 4h0m3 0h0m1-2.5h0m1 1h0m0 1.5h0m0-3h0m0.5 2h0m0 1h0m0.5-2h0m3 3h0m0-5.5h0m1.5 2.5h0m2-2h0m0.5 1.5h0m0.5 1h0m0.5 1.5h0m0.5-4h0m0.5 2.5h0m0-2h0m1.5 4h0m0.5-1.5h0m1 0h0m0.5-0.5h0m3 1h0m0.5-2.5h0m1 3h0m0.5-3.5h0m1 2.5h0m0.5 0.5h0m1 1h0m0.5-1h0m1 1.5h0m0-2h0m0.5 1h0m0-2h0m1 1h0m0-1.5h0m1-0.5h0m0.5 4.5h0m0-0.5h0m0.5-5.5h0m0 5.5h0m2 0h0m0.5 0h0m0 0h0m2-4.5h0m0.5 1h0m0-0.5h0m1.5 2h0m0.5-1.5h0m0.5-2h0m0 1.5h0m1 3h0m0-1.5h0m1.5 2h0m0.5-2h0m0.5 3h0m0.5-5.5h0m1.5 2h0m1 1h0m1-1.5h0m0.5-1.5h0m0 1.5h0m1.5 1h0m1-1.5h0m0.5 0h0m0.5-0.5h0m32 0.5h0m0-1h0m1 1h0m1 0h0m1-0.5h0m0.5 0.5h0m1 0h0m1.5 1h0m0-1.5h0m2-0.5h0m2.5 0.5h0m-114.5 6h0m2-1h0m0 1h0m1 0h0m0.5-0.5h0m0 1.5h0m2.5 2.5h0m1-1.5h0m2.5 2h0m0.5-4.5h0m2 1h0m1.5 2h0m0.5-3h0m1 2h0m0.5 3h0m0-4h0m0.5 3.5h0m1.5-3h0m0.5 0.5h0m0.5 1h0m0.5 2h0m1-3h0m1-1h0m0.5 1h0m0 0h0m1.5 1.5h0m0-2.5h0m0 0h0m0.5 3.5h0m0-1h0m0 0h0m1-4h0m1.5 3.5h0m0-1.5h0m0.5-0.5h0m0-1h0m2 1h0m1 3h0m0-2h0m3 3h0m0.5-0.5h0m3-2.5h0m0 2h0m1.5 0h0m1.5-2.5h0m1-0.5h0m0.5 0.5h0m0 3.5h0m0.5-2.5h0m0 1h0m0.5-2.5h0m0.5-0.5h0m0 2.5h0m1 0.5h0m2.5 1h0m0.5-3h0m0 1h0m2.5-1.5h0m0-1h0m1 5.5h0m0-4h0m0.5 2.5h0m1-2h0m0.5 0h0m1-0.5h0m0-2h0m0.5 0.5h0m0.5 5h0m1.5-3.5h0m1.5 0.5h0m0.5-1.5h0m0.5-0.5h0m1 0.5h0m2.5 5h0m1-5.5h0m0 3h0m0.5-2.5h0m2.5-0.5h0m0 2.5h0m0 1.5h0m0-3h0m0 0h0m1 4.5h0m0.5-1h0m0-0.5h0m0.5 0h0m1.5-1.5h0m1 2.5h0m-61.5 1h0m0.5 1.5h0m1-1.5h0m0.5 5h0m0-3h0m0.5 3h0m1-4.5h0m0 0.5h0m0.5 0h0m1.5 1.5h0m1 2.5h0m0.5 0h0m1.5-1.5h0m1 0h0m1.5 0h0m0.5-4h0m0.5 3h0m0.5-0.5h0m1-2h0m1 3.5h0m0.5 1h0m2.5-1h0m0.5 1.5h0m0-2.5h0m1.5 2.5h0m0-0.5h0m1.5 0h0m1.5-1.5h0m0.5-1h0m0 2.5h0m1-3.5h0m0 4h0m0-0.5h0m0-4.5h0m0.5 5.5h0m0.5-2h0m0-3h0m0 4h0m0.5-1.5h0m0.5 2h0m0 0h0m0.5-3.5h0m0 3h0m0.5-2.5h0m0.5 3h0m0.5 0h0m1-4h0m1 2.5h0m3-3.5h0m1.5 1.5h0m0 2.5h0m0-2h0m0.5 2h0m1.5 0h0m0-2h0m0.5-2h0m0 1.5h0m0.5 1.5h0m1 0.5h0m0.5-1h0m0 1.5h0m0-0.5h0m0-1h0m1.5 1.5h0m1.5-4.5h0m0 4.5h0m0.5-0.5h0m0.5 1h0m0.5-2h0m2.5 1h0m0 2h0m0.5-2.5h0m1.5-1h0m0.5-2h0m0.5 0h0m1.5 5.5h0m0.5-3h0m0.5 0.5h0m0.5 2h0m1-1h0m0.5-2.5h0m0.5 2h0m0-3h0m0.5 3h0m0 0.5h0m0-2h0m0.5-1.5h0m1 0h0m0-0.5h0m1 1h0m0 3h0m1.5 0.5h0m1-1.5h0m0-2h0m0-1h0m0.5 0.5h0m0.5 3.5h0m0 0h0m0.5-4h0m0 1.5h0m0.5 0.5h0m0 3.5h0m0.5-1.5h0m0-2h0m1 2h0m-58.5 2h0m0.5 0h0m1.5 3h0m0 1h0m1 0.5h0m1-2h0m0-3h0m2.5 5.5h0m1-3.5h0m0 2.5h0m1 1h0m1-5h0m0 5h0m0.5-1h0m1.5-2.5h0m0 0.5h0m0.5 1h0m0.5-1.5h0m0.5-0.5h0m0 3h0m0.5-2h0m0-0.5h0m1.5-2h0m0 2h0m0.5-1h0m1.5 3.5h0m0.5-2.5h0m1.5 3h0m0.5-4.5h0m2 3h0m1.5 2h0m0.5-1h0m2.5-2.5h0m1 2.5h0m1-3h0m0 0.5h0m1 4h0m0.5-5.5h0m1.5 3h0m0 2h0m0-1.5h0m1.5 0.5h0m1.5 0.5h0m0-2h0m3 1h0m1 1.5h0m1-1.5h0m0.5 1h0m0-1.5h0m1 2.5h0m0.5-4.5h0m0.5 3.5h0m2 0.5h0m0.5 0h0m0-5.5h0m0.5 1.5h0m0 0h0m0.5 1.5h0m0 2.5h0m1-5h0m0.5 5h0m0.5-5.5h0m0.5 1.5h0m1.5 2h0m0-3.5h0m0 3.5h0m2-2h0m1 2h0m1 1h0m3.5 1.5h0m0.5-4.5h0m1 3.5h0m0.5 0h0m1-4h0m1.5 1.5h0m0 0h0m0.5 3.5h0m3 0h0m-63.5 0.5h0m0.5 3h0m0.5-2.5h0m1 3h0m0.5-4h0m0.5 4h0m1 0h0m1.5-1.5h0m0-2h0m1.5 2h0m0.5 1.5h0m0.5-1h0m0.5-2.5h0m1 2h0m0.5-0.5h0m0.5 2h0m1-0.5h0m0.5 0h0m1.5 2h0m0.5-4.5h0m1 3.5h0m1 0h0m0.5-0.5h0m1 0.5h0m0.5 0.5h0m0.5-1.5h0m2 0.5h0m0-3.5h0m1 1h0m0 3h0m0.5-1h0m1.5 1h0m1-4h0m2 4h0m0.5-2h0m0 2h0m0.5 0h0m1-4.5h0m1 4.5h0m1 0h0m0 0h0m0.5-1h0m0-2.5h0m1 2h0m0 2h0m2-1.5h0m1 0.5h0m0-2.5h0m0.5 0.5h0m0.5-1h0m2 2h0m0 0h0m0.5 0.5h0m0.5 0.5h0m0 1h0m0.5-4h0m1 1.5h0m0 0h0m0 1.5h0m1-0.5h0m0.5-1h0m2 0.5h0m1.5 0.5h0m0.5-3.5h0m0.5 2h0m0.5 4h0m0-5.5h0m0.5 2h0m0.5-2.5h0m1 5.5h0m0.5-5h0m1 4h0m0.5 0.5h0m0-0.5h0m0.5 0h0m0 0h0m0.5-3h0m0.5-1h0m1.5 2h0m2-2h0m0.5 2h0m0-1h0m2 3h0m0-1.5h0m0 2.5h0m0-3.5h0m0.5 3h0m0.5-4.5h0m0.5 4h0m0-3.5h0m0.5 0.5h0m0.5 0.5h0m0.5 3h0m0-2.5h0m1 1.5h0m0-3.5h0m0 4h0m0.5-4h0m0.5 2h0m-55.5 4h0m1.5 0h0m0 1h0m0.5-1.5h0m0 1h0m0.5 0.5h0m3 1h0m0.5 2h0m0.5-3h0m0.5-0.5h0m1-0.5h0m0.5 0.5h0m0.5 1h0m0.5 0h0m1.5-0.5h0m0.5-1h0m0 1h0m0.5 0h0m1 1h0m0.5 0.5h0m0.5-1.5h0m2 1.5h0m1-0.5h0m2-2h0m0.5 4h0m0.5-0.5h0m0 1h0m2.5-1h0m1-1.5h0m0 0h0m1-2h0m2.5 4h0m0.5-3h0m1.5 1h0m0-2h0m0.5 3.5h0m0-1h0m0-1h0m0 2.5h0m1 1.5h0m0.5-3h0m0.5-0.5h0m0 0.5h0m0.5 0h0m1-2.5h0m0.5 1h0m0-0.5h0m0.5 0.5h0m0.5 1h0m0.5 1h0m1.5-1h0m2.5 1.5h0m1-1.5h0m0.5 0h0m1-1h0m0.5-0.5h0m0 3.5h0m0-1h0m0.5-0.5h0m0.5-1h0m2 0h0m0-1.5h0m0 1.5h0m0-1.5h0m0.5 2h0m1.5-0.5h0m2.5-0.5h0m1.5-0.5h0m1 0.5h0m1-1h0m1 0.5h0m0.5-0.5h0m-24.5 23h0m1.5 0.5h0m0.5-1.5h0m0 0.5h0m2-3h0m-6 8.5h0m0.5-1.5h0m1.5 0h0m0-0.5h0m1 0h0m1.5 2.5h0m1-3.5h0m0.5 3h0m0-4.5h0m0 3.5h0m0.5 0.5h0m0.5 1.5h0m0-5.5h0m0 3h0m0.5-1h0m0 1.5h0m0 0h0m1 1h0m0-2h0m1 2.5h0m0.5-1h0m0 2h0m-10.5 0.5h0m2.5 0h0m1 0h0m0 0h0m2.5 2.5h0m1.5-2.5h0m0.5 0.5h0m1-0.5h0" stroke="#cbc9c9" stroke-width="1.4" stroke-linecap="round" fill="none"/>
<path d="M1330 170.5h0m3 0h0m5.5-1h0m10 1h0m1.5 0.5h0m-29 3.5h0m3-2.5h0m0 2.5h0m2.5 2h0m3-5h0m5.5 5.5h0m2.5-4.5h0m1 0h0m1-0.5h0m0.5 3h0m1.5 1h0m1-3.5h0m0.5 4h0m13.5-3h0m0.5 0.5h0m-43 5h0m4 2.5h0m1-3.5h0m1 1h0m1 4h0m10-5.5h0m4 2.5h0m4.5-3h0m18 1h0m1 2h0m-45 4.5h0m1 3.5h0m4.5-0.5h0m0 1h0m1-3h0m1.5 1.5h0m0.5-3.5h0m0 2h0m3-2h0m4.5 2.5h0m1.5-0.5h0m1.5-1.5h0m1.5 1.5h0m1-1h0m1.5 1.5h0m20.5 1h0m-68 6h0m8.5 1.5h0m3-0.5h0m1 0h0m0.5 0h0m3.5-2.5h0m2.5 0h0m0-0.5h0m0.5 1h0m5.5 2.5h0m0.5-1.5h0m2.5 0h0m0 0h0m1-1h0m2-0.5h0m5 1.5h0m0-1.5h0m1 3.5h0m0-5h0m0.5 1h0m9.5-2h0m1.5 4h0m18-2h0m-63.5 10h0m2.5-0.5h0m3-4h0m0.5 2h0m5-1h0m0.5 1h0m1-1.5h0m1.5-1h0m4 3h0m0-1h0m4 1h0m1.5-1.5h0m3 3h0m0.5 0h0m8-4.5h0m0 4.5h0m0.5-5h0m2.5 1.5h0m0.5 4h0m10-5.5h0m6.5 3h0m-60 4.5h0m0-1h0m3.5 2.5h0m0.5-1.5h0m2 0h0m3 0h0m2.5-0.5h0m1 2.5h0m2-2h0m5.5 2h0m1.5-2.5h0m1.5 3h0m5.5-0.5h0m2 1h0m2-1h0m6-1.5h0m3.5 2.5h0m0.5-5h0m1.5 5.5h0m3 0.5h0m1-2.5h0m0.5-2.5h0m2 4.5h0m0.5-1h0m1.5-4h0m5 5h0m4.5-0.5h0m-67 3h0m3.5 3h0m0.5-5h0m16.5 3h0m2 2.5h0m1 0h0m3-3.5h0m5 0h0m0.5 3.5h0m1-5.5h0m0 3.5h0m0.5 0.5h0m10-1.5h0m0-1.5h0m4 1h0m0.5 2.5h0m1-2.5h0m1-2h0m3.5 5h0m0.5-3.5h0m1.5 1.5h0m8 1h0m1 0h0m2-3h0m0-0.5h0m2 2h0m2.5-2.5h0m6.5 5h0m-74 2h0m0 1.5h0m2-1.5h0m5.5 1.5h0m6 2.5h0m6.5-3.5h0m3.5-1.5h0m6.5 1.5h0m3.5-1h0m1 4h0m2.5-4.5h0m3.5 2.5h0m3.5 3h0m4.5-2.5h0m1 2h0m0.5-1h0m1.5-2.5h0m3 1h0m1.5 3.5h0m2 0h0m0.5-1h0m1.5-2.5h0m2.5 1.5h0m2 2h0m2.5-1h0m0.5-3h0m6.5-1h0m-68.5 5.5h0m1 0h0m6.5 4h0m14 0h0m1-3.5h0m0 2.5h0m1.5-2h0m1.5 1h0m5-2h0m1 5h0m1.5-0.5h0m0-2.5h0m4 3h0m2.5-2h0m1-3h0m4 4h0m2-3h0m1 1h0m2.5 1.5h0m8-2.5h0m2.5 2h0m-51 4h0m1 1.5h0m0 1h0m1-1.5h0m9 3h0m0.5-0.5h0m4-2h0m3-0.5h0m2.5 0.5h0m2-2.5h0m4-0.5h0m12 4h0m0 0h0m2-1.5h0m0.5 2h0m1.5-0.5h0m1.5-2.5h0m4.5 3.5h0m1.5-4h0m2 4h0m3-0.5h0m-52.5 4.5h0m3-2h0m9 0.5h0m1 3.5h0m0.5-4.5h0m10.5 0h0m11.5 0h0m2.5 1.5h0m5 0h0m2.5 1h0m0.5-1h0m2 0.5h0m3 0.5h0m5.5 3h0m1-0.5h0m2.5-3.5h0m-60 6h0m1-1.5h0m0-0.5h0m3 2.5h0m2 2.5h0m7.5-0.5h0m0-2.5h0m3-0.5h0m7.5-0.5h0m2 4.5h0m10-4.5h0m1-0.5h0m1 5h0m4-2h0m0 2.5h0m2.5-2h0m7.5 1h0m4-0.5h0m3.5 0h0m0 0.5h0m-45.5 3.5h0m2.5-1h0m2 1h0m2.5 0.5h0m4-1h0m1.5-0.5h0m1.5 0h0m6.5 1.5h0m0.5-0.5h0m4-2.5h0m1.5 2.5h0m0.5-2.5h0m3 3h0m4-2.5h0m2 1h0m4-0.5h0" stroke="#f2f2f2" stroke-width="1.3" stroke-linecap="round" fill="none"/>
<path d="M1354 201h0m4.5 1h0m2 0.5h0m2 1h0" stroke="#c8c6c6" stroke-width="1.4" stroke-linecap="round" fill="none"/>
<path d="M1287 193h0m0-0.5h0m0 2h0m0.5 0.5h0m0.5-1h0m0-0.5h0m0 1.5h0m1-2.5h0m0 2h0m0 0.5h0m0.5 0h0m1-0.5h0m0.5-0.5h0m0.5 0.5h0m0-1h0m2.5 0.5h0m1.5 1h0m1-1.5h0m-9.5 3h0m2-0.5h0m0.5 0h0m2 0h0m0.5 1h0m0-1.5h0m0 0h0m0.5 1.5h0m2.5-0.5h0m1.5 1h0m1 0.5h0m0-1h0m1 0h0m0-1h0m0.5-0.5h0m0.5 2.5h0m0.5-1h0m0.5 1h0m1-1.5h0m1-1h0m0 0h0m0 0.5h0m1.5 0.5h0m0 3.5h0m0-1h0m0-1.5h0m1.5 2h0m0-1.5h0m0 1.5h0m0.5 0h0m0.5 0.5h0m0-2.5h0m0-1.5h0m0 2h0m0.5 1h0m0.5 1.5h0m1-3h0m0 2.5h0m0-2.5h0m0 2.5h0m0.5-1h0m0 1.5h0m0-1.5h0m0 1.5h0m0.5-0.5h0m0 1h0m0-0.5h0m0 0h0m0.5-1h0m1 0.5h0m1 0.5h0m1-0.5h0m0-1.5h0m0.5 0.5h0m0.5 0h0m1 1h0m0-0.5h0m0.5 1h0m2.5 0.5h0m-11.5 1h0m1 0h0m0.5 0.5h0m0.5 0.5h0m0.5 0h0m2 2.5h0m0.5-3.5h0m0-0.5h0m0.5 3.5h0m0-2h0m0.5 1h0m0.5-1h0m0 2.5h0m0.5-1.5h0m0 0h0m0.5-1.5h0m0 1h0m0 1.5h0m0-2h0m0-1h0m0 0h0m0.5 2h0m0-3h0m0.5 3.5h0m0-3.5h0m0.5 3h0m0 1h0m0.5 1h0m0 0.5h0m0.5-1.5h0m1-2.5h0m0 4.5h0m0-5h0m0.5 0.5h0m0 2h0m0.5 1.5h0m0.5-1h0m0-3h0m0 2.5h0m0-3h0m1 3.5h0m0.5 0h0m2 0h0m0-0.5h0m0.5-1.5h0m0 3.5h0m0-2h0m0.5-2h0m0.5 2.5h0m0-1h0m1 1.5h0m0-2h0m0.5 2.5h0m0-1.5h0m0.5 2h0m0-0.5h0m0 0h0m1-3.5h0m0.5 1.5h0m0 0h0m0.5 0h0m0 2.5h0m0.5-3.5h0m1.5 4h0m0-2h0m0.5 1.5h0m0 0h0m0-0.5h0m0.5 0.5h0m0.5-1.5h0m1 0h0m0 0.5h0m0.5 0.5h0m0 0h0m0 0.5h0m0.5-0.5h0m0 0.5h0m0.5-2h0m0 2h0m0-0.5h0m0.5 0h0m0 0h0m0 0.5h0m0-1h0m0.5-0.5h0m0 1h0m0 0.5h0m0.5 0.5h0m0 0h0m0-1.5h0m0 1h0m0.5-0.5h0m0 0.5h0m0-0.5h0m0.5 0h0m0-1h0m0 0.5h0m0.5 1h0m0-2h0m0 1.5h0m0 0.5h0m0 0.5h0m0-2h0m0 2h0m0.5-0.5h0m0-1.5h0m0 1.5h0m0.5-1h0m0 0h0m0.5-0.5h0m0 1.5h0m0 0.5h0m0-1.5h0m0 0.5h0m0 0.5h0m1 0h0m0-0.5h0m0.5 0.5h0m0-0.5h0m0.5 0.5h0m0-1h0m0.5 0h0m0 1h0m0-1h0m0 0h0m0 1h0m0-0.5h0m0 1h0m0.5-2.5h0m0 1h0m0 0.5h0m1 0.5h0m0 0h0m0.5-1.5h0m0 0h0m0 0h0m0 1h0m1 1h0m0-1.5h0m0.5 1.5h0m0.5-0.5h0m1-0.5h0m0 0.5h0m-29 0.5h0m1.5 1h0m2.5 0.5h0m2-1.5h0m1 2h0m0-1.5h0m0 0h0m0.5 0h0m0.5 2.5h0m0 0h0m0.5-1.5h0m0.5 0.5h0m1-0.5h0m0 0h0m1 1.5h0m0.5-2.5h0m0 3.5h0m0.5-0.5h0m0-0.5h0m0.5 0h0m0-2h0m0.5 0.5h0m1 2.5h0m0-2.5h0m0 1h0m0.5 2.5h0m0.5-1.5h0m0 0h0m0.5-3h0m0 3.5h0m0-3.5h0m0.5 0h0m0 2h0m0-1h0m0 1h0m0 0h0m0.5 2h0m0-4h0m0 2.5h0m0-1.5h0m0 1h0m0.5 0h0m0-2.5h0m0 5h0m0-4h0m0.5 4h0m0-4.5h0m0 4.5h0m0.5-4h0m0-0.5h0m0 2.5h0m0.5-2h0m0 1.5h0m0 0.5h0m0 2h0m0-1.5h0m0-3h0m0 2.5h0m0.5 0.5h0m0 1.5h0m0-1h0m0-3h0m0 3h0m0-2h0m0.5-1h0m0-0.5h0m0 5h0m0-1.5h0m0-1h0m0-0.5h0m0 2h0m0-0.5h0m0.5 0h0m0-1h0m0 3h0m0-4.5h0m0 3h0m0.5-1h0m0 0h0m0 2.5h0m0-3.5h0m0.5-1.5h0m0-1h0m0 5h0m0-4h0m0-0.5h0m0 2.5h0m0.5 1.5h0m0 0h0m0 0.5h0m0-2.5h0m0-2h0m0 3.5h0m0.5 1.5h0m0-4.5h0m0 3h0m0-2.5h0m0 0h0m0 0.5h0m0-1h0m0.5 4.5h0m0-1h0m0-1h0m0-2h0m0 3.5h0m0-1h0m0-2.5h0m0-1h0m0 5h0m0-5h0m0 3.5h0m0.5-3h0m0-0.5h0m0.5 4h0m0-0.5h0m0-1.5h0m0 3h0m0-3.5h0m0-0.5h0m0 3.5h0m0-4.5h0m0.5 1h0m0 2h0m0 2h0m0-0.5h0m0 0.5h0m0 0.5h0m0-3h0m0.5-2h0m0 1h0m0-1.5h0m0 4.5h0m0-1h0m0-0.5h0m0.5 1.5h0m0-0.5h0m0 1h0m0 0h0m0-4h0m0-1.5h0m0.5 3.5h0m0-2.5h0m0-0.5h0m0 1h0m0-0.5h0m0 0.5h0m0 3.5h0m0.5-2h0m0-3h0m0 1h0m0 0h0m0 3h0m0-1h0m0-2.5h0m0-0.5h0m0 2.5h0m0.5 1.5h0m0-0.5h0m0-2.5h0m0-0.5h0m0 2.5h0m0-2h0m0-1h0m0 1.5h0m0 0h0m0.5 4h0m0-1h0m0-3h0m0 4.5h0m0-2.5h0m0-3h0m0 4h0m0.5-4.5h0m0 6h0m0-5.5h0m0 2.5h0m0 0.5h0m0 2.5h0m0.5-6h0m0 0.5h0m0 0.5h0m0 1h0m0-1.5h0m0 2h0m0-1h0m0.5 2h0m0 0.5h0m0-3h0m0 3.5h0m0-1h0m0.5-1.5h0m0 0h0m0-0.5h0m0-0.5h0m0 3.5h0m0-1.5h0m0 2.5h0m0-0.5h0m0.5-2.5h0m0 0h0m0 2h0m0.5-3.5h0m0-1h0m0 0h0m0 4.5h0m0-2.5h0m0.5 0h0m0-1.5h0m0.5 1h0m0 2h0m0-2h0m0 1h0m0.5-1.5h0m0 2.5h0m0-2.5h0m0.5 0h0m0.5 1.5h0m0-0.5h0m-12.5 4.5h0m1 1h0m3-1h0m0.5 0h0m0.5-0.5h0m1 1.5h0m0-1.5h0m0 0.5h0m0 0h0m0.5 0h0m1.5-0.5h0" stroke="#e8784c" stroke-width="1.6" stroke-linecap="round" fill="none"/>
<path d="M945.8 342.4L956.9 339.0L975.7 338.1L991.1 339.8L999.6 344.1L1000.5 351.8L997.9 360.3L989.4 367.1L984.2 372.3L991.1 377.4L1003.0 380.8L1006.5 384.2L999.6 386.8L991.1 388.5L996.2 396.2L1004.7 406.5L1007.3 413.3L1003.0 419.3L989.4 421.0L968.9 421.0L948.4 418.4L938.1 413.3L934.7 403.0L929.6 396.2L919.3 389.4L914.2 380.8L916.7 374.0L931.3 370.6L922.7 367.1L921.0 362.9L936.4 362.0L948.4 358.6L946.6 350.1Z" fill="#d9d7d7"/>
<path d="M1028.7 377.4L1038.9 372.3L1050.9 370.6L1061.1 374.8L1062.8 379.1L1052.6 383.4L1042.3 387.7L1032.1 384.2Z" fill="#d9d7d7"/>
<path d="M982.5 436.4L986.3 440.6L989.7 446.6L987.3 451.4L978.3 451.7L974.8 447.8L978.3 441.5Z" fill="#d9d7d7"/>
<path d="M977.4 348.4L989.4 344.1L997.9 346.6L997.9 355.2L991.1 363.7L982.5 368.9L975.7 362.0Z" fill="#f7f7f7"/>
<path d="M956.5 339h0m1.5 0h0m5-1h0m0 0.5h0m2-2.5h0m1 1h0m1.5 2h0m0.5-2h0m2.5 1.5h0m0.5-1h0m3 0h0m0.5 1h0m2.5 0h0m1.5-1h0m0.5 1h0m1 0.5h0m0-2h0m2 0.5h0m3 1h0m6.5 0h0m1.5 0.5h0m-48 4.5h0m1-2h0m2 0.5h0m0.5 0h0m0 1.5h0m0.5-2h0m0.5 2h0m1.5-2h0m2.5 2h0m0 1.5h0m0-2h0m1 0.5h0m0-2.5h0m0.5-1h0m0 1h0m0.5-0.5h0m0 1.5h0m0.5-0.5h0m0.5 2h0m0-2h0m2.5 1h0m1 2h0m1-5h0m0 5h0m0-5h0m0.5 1h0m0-1.5h0m1 3h0m0-2.5h0m0 0h0m0.5 4.5h0m2-3h0m0-2h0m1 1.5h0m0-1.5h0m1.5 1h0m1.5 2h0m4.5-3h0m0.5 0h0m0 5.5h0m0.5-1h0m0 1h0m0-4.5h0m2 3h0m0-2.5h0m1.5 1.5h0m0.5-1h0m1.5 3.5h0m2.5-5.5h0m1.5 0h0m0.5 3.5h0m0.5-2h0m0 1h0m1.5 2.5h0m1.5-1.5h0m0.5 1h0m0.5-2.5h0m0-1.5h0m1.5 1.5h0m0 0h0m1 3h0m1.5-2.5h0m0 0.5h0m0.5-0.5h0m0.5-0.5h0m1 4h0m0.5-2.5h0m0 1.5h0m1.5-0.5h0m0.5 0h0m2.5 1h0m0.5 0h0m-55 3h0m0.5-0.5h0m0 2h0m0 0.5h0m0.5-1h0m1 1.5h0m0-2h0m2.5 2h0m1-3h0m0.5 1.5h0m0 1h0m0.5-2h0m0 3h0m0-4.5h0m2.5 1h0m0 2.5h0m0.5-2h0m2-2.5h0m0 6h0m0.5-5.5h0m0 0.5h0m0 4h0m1.5-1.5h0m0.5 0.5h0m0 0h0m1-3h0m0 1.5h0m0.5 1h0m2.5 1h0m0.5-4.5h0m0 2h0m0.5 2.5h0m0-0.5h0m0.5 2h0m1-1.5h0m0.5-4h0m0.5 0h0m0 5h0m0.5-5h0m0 1h0m1 0.5h0m1-0.5h0m0-0.5h0m0.5 3h0m0-2h0m1 0h0m3-2h0m0 5h0m1-1.5h0m0.5 2h0m0.5-2h0m1 1h0m0-2h0m2-1h0m1.5-0.5h0m3 3h0m2.5-4h0m5 4.5h0m2-2.5h0m0.5 3.5h0m1 0h0m2.5-5.5h0m0 3h0m1.5 1.5h0m0.5-1.5h0m2-1.5h0m1 4h0m-56.5 3h0m1 1.5h0m0.5-2h0m1 4h0m0.5-1.5h0m0 0.5h0m1-1h0m0-4h0m0.5 2.5h0m1.5 2h0m1.5 0.5h0m0.5-1.5h0m2-0.5h0m1 1h0m0.5 0.5h0m1.5-2h0m0 3h0m2-2.5h0m1.5 2h0m0-2h0m1-2h0m0 4h0m1-1.5h0m0 1.5h0m0-1h0m0-1.5h0m0.5 2.5h0m0-2h0m0.5-0.5h0m1 3h0m0-3.5h0m1 2h0m2.5-3h0m0-0.5h0m3.5 3h0m0-2.5h0m1 1.5h0m1 2.5h0m0-1h0m4.5 1.5h0m7.5-2h0m1.5-1h0m8.5 2h0m0-4.5h0m0.5 1h0m0.5 1.5h0m1 3h0m0-0.5h0m-75 6.5h0m4 0h0m2.5 0h0m3-2.5h0m1.5 2.5h0m0.5-1h0m1 0.5h0m1 0h0m0.5-1h0m1 1h0m0.5-2h0m1 2.5h0m2-1h0m0.5-1h0m1.5-0.5h0m1 2h0m0.5-1h0m0.5 1.5h0m0.5 0h0m0.5-5h0m0 0h0m0.5 0.5h0m0.5 3.5h0m0-4.5h0m1 1.5h0m1 1.5h0m1 0h0m0.5-0.5h0m0 2.5h0m0.5-3.5h0m1.5-0.5h0m0.5 3h0m0-0.5h0m1-2.5h0m1 2h0m0.5-1.5h0m0 3h0m0.5-0.5h0m1 0h0m1 1.5h0m0.5-1h0m2 0.5h0m1.5-2h0m0-2h0m0.5 0h0m0 4.5h0m1.5-3h0m1 3.5h0m2-1.5h0m0.5-3h0m1 3h0m1 0h0m0.5 0h0m0 0.5h0m0-3.5h0m0.5-0.5h0m0.5 0h0m0 4.5h0m1-0.5h0m0.5 0.5h0m0-3.5h0m0.5 2.5h0m0.5-2.5h0m0.5 3h0m0.5-4h0m3 0h0m1 3.5h0m2-3h0m5.5 3.5h0m3 1h0m4-2.5h0m0.5 1h0m0.5 0h0m1-1.5h0m0-2.5h0m1.5 3.5h0m0.5-2.5h0m0-0.5h0m-78 6h0m1 1.5h0m0 1h0m3-2.5h0m0 3h0m0.5-3.5h0m2 1.5h0m0.5 3h0m0.5-1h0m0 1h0m1-4h0m1 1h0m0.5 4h0m1.5-2h0m0.5-3.5h0m0.5 2h0m0 2.5h0m0-2h0m0.5 3h0m0-2.5h0m0.5-2.5h0m1 1.5h0m0-2h0m0.5 2h0m0 2h0m0.5-3.5h0m0.5 4.5h0m0.5-1h0m0.5 0h0m0.5-2h0m0.5 1.5h0m0.5-3h0m0.5 2.5h0m0-2.5h0m0.5 4h0m0-2.5h0m1.5 2h0m0-2.5h0m0.5-1.5h0m0.5 1h0m0.5 4.5h0m0-4.5h0m0 2h0m1-2.5h0m0-0.5h0m0.5 3.5h0m1 1h0m1.5 1h0m0-5.5h0m0 2h0m0.5 2.5h0m1.5-1h0m0-0.5h0m1 0.5h0m1-0.5h0m1.5 0.5h0m2-2.5h0m1 3h0m0.5-3h0m0.5 4.5h0m1.5-4h0m0.5 0.5h0m0.5 2.5h0m0.5-4.5h0m2 4.5h0m0.5-3.5h0m2-1h0m0.5 4h0m0.5-3h0m0.5-0.5h0m2 0.5h0m0.5-1h0m0.5 4.5h0m0.5-1.5h0m0.5 2h0m0-5.5h0m0.5 0.5h0m2 2.5h0m1 0h0m0.5 1h0m1 0h0m1.5-1h0m1-3h0m0.5 1h0m0 2.5h0m0.5 1h0m0-1.5h0m1-1h0m4 2.5h0m0 0.5h0m2.5 0.5h0m2 0.5h0m0.5-3.5h0m0.5 2h0m0-2h0m0.5-0.5h0m0 0.5h0m0 2.5h0m0.5-0.5h0m0.5-1h0m0.5-1h0m0 1h0m0-2.5h0m0.5-0.5h0m0 1h0m0 1h0m1-1h0m58 3.5h0m-136.5 6h0m3.5 0.5h0m0.5-0.5h0m1 0.5h0m1-0.5h0m1-1h0m1 1.5h0m1.5 0h0m0.5 0h0m0-0.5h0m0.5-0.5h0m0-0.5h0m1-1.5h0m1.5-0.5h0m0 3.5h0m0.5-5h0m0 4.5h0m1.5-3.5h0m0.5 2h0m0.5 0.5h0m0 2h0m0.5-3h0m0.5-2.5h0m0.5 4.5h0m0.5-4h0m0 2.5h0m0-1.5h0m0 0h0m0 1.5h0m0.5-3.5h0m1.5 3.5h0m0.5 0.5h0m1-3h0m0 1h0m3 1h0m0-2h0m1 4.5h0m1-2h0m0.5-1.5h0m0 4h0m0.5-1h0m0.5-5h0m0.5 4.5h0m1-3.5h0m1 0.5h0m1 2.5h0m1 1.5h0m0.5-4.5h0m0 0h0m0.5 3h0m0.5-2h0m0.5 2.5h0m0.5-3.5h0m0.5-0.5h0m0 2h0m1.5 2.5h0m0 0.5h0m1.5-3.5h0m3-1.5h0m0 0.5h0m0.5 2h0m0 1h0m0-2h0m2 0h0m1 1.5h0m1-1.5h0m0.5-2h0m1 2h0m1-1.5h0m0.5 3h0m0 2h0m0.5-2h0m1.5 2.5h0m0.5-5.5h0m0 1.5h0m0 0.5h0m0.5 1.5h0m0 2h0m0-5h0m0 1h0m0.5 1h0m1.5 3h0m0.5-3h0m0.5 1.5h0m0-2h0m0.5-1h0m0.5-0.5h0m2 4h0m1.5-3.5h0m1 0.5h0m1-1.5h0m0.5 3h0m0.5-1h0m0.5-1h0m0 4.5h0m1.5-2.5h0m0 2h0m1-3.5h0m1-0.5h0m0 2h0m1-3.5h0m0 2.5h0m0 0.5h0m0.5 3h0m0-2h0m2 1h0m0.5-3h0m0 1.5h0m0-1.5h0m0.5-0.5h0m0 1h0m0.5-1h0m1 3.5h0m0 0.5h0m2-4.5h0m0 4h0m46.5 0.5h0m1.5-0.5h0m1 1h0m0-4h0m0 2h0m2.5-0.5h0m0 2h0m0.5 0h0m0-2h0m0.5-1.5h0m0.5 2.5h0m1.5 0.5h0m0.5 0.5h0m0.5-2.5h0m0-1.5h0m0 0h0m2 4h0m0-0.5h0m0.5-1.5h0m0.5 1h0m0-1h0m0.5-0.5h0m1 0h0m0 0h0m0 2h0m1-2.5h0m0 2.5h0m1-0.5h0m0-2h0m0.5 1.5h0m1.5-2h0m0 1h0m1.5-0.5h0m0 2.5h0m1-2.5h0m1.5 2h0m0.5-0.5h0m1 1h0m0.5-1.5h0m0.5 1.5h0m0.5 0.5h0m1.5-0.5h0m-146 5.5h0m0.5-1.5h0m0.5 1h0m0.5-2h0m0-0.5h0m0.5 1.5h0m0-0.5h0m0.5 0.5h0m1.5 2.5h0m0-1h0m1-4h0m0.5 0.5h0m0.5 2h0m2.5 0.5h0m0-0.5h0m1.5 1h0m1 1h0m1-2.5h0m0 3h0m0.5-3.5h0m0 3h0m0.5-3h0m0.5 0.5h0m0.5 2.5h0m1-5h0m0.5 3.5h0m1 0.5h0m0 1.5h0m0.5 0h0m0.5-1.5h0m1-3.5h0m0 2.5h0m0 2.5h0m1-3h0m0-2h0m0.5 1h0m0 0.5h0m0.5 2h0m1-2h0m0.5 1.5h0m0.5-2.5h0m2-0.5h0m0 4.5h0m0.5 0h0m2.5 0.5h0m1.5-4.5h0m0 1h0m0.5 1.5h0m0.5-3h0m0 4h0m0.5-3h0m1 0.5h0m0.5 0h0m0.5-0.5h0m0 4h0m0.5-4h0m0 0.5h0m1.5 0h0m2 2.5h0m0-1h0m2.5 1h0m0.5-2.5h0m0 1.5h0m0.5-0.5h0m0-2h0m0 3h0m1-3.5h0m0.5 3h0m0 2h0m0.5-1h0m0-0.5h0m0.5 1.5h0m0.5 0h0m0.5-1h0m0.5 1h0m1-1h0m0 0.5h0m0.5-0.5h0m0-1h0m1 1.5h0m0-3.5h0m2.5-1h0m1 0h0m0.5 2h0m1 2h0m1 1h0m1.5-5.5h0m0.5 5.5h0m1.5-0.5h0m0.5-5h0m1 4.5h0m2-1.5h0m0.5 1.5h0m0-4h0m0.5 2h0m0-1.5h0m0.5 1.5h0m1.5 1h0m0-0.5h0m1.5 3h0m1.5-1.5h0m0-3h0m0.5 4h0m0.5-2.5h0m0 0h0m1 0h0m0 1.5h0m0 0h0m1-2h0m0.5-2.5h0m2 0.5h0m0 2.5h0m2 1.5h0m0.5 0h0m0-4h0m0.5 5h0m1.5 0.5h0m0-3h0m0-2.5h0m0.5 4.5h0m3-1h0m0.5 1.5h0m0-1.5h0m0-0.5h0m1 0.5h0m0.5 0.5h0m0-1h0m0.5 1.5h0m0.5-0.5h0m0.5-0.5h0m2 0h0m0.5-0.5h0m1 1.5h0m0.5 0.5h0m0.5-1h0m0.5 1.5h0m2-0.5h0m24.5-3.5h0m1 3h0m0.5-1h0m0.5-1.5h0m0 3h0m0 0h0m0.5-2h0m0-3h0m1-0.5h0m0.5 1h0m1 4h0m1-4.5h0m0 1h0m1.5 0h0m0.5 1h0m0 3h0m0 0.5h0m0 0h0m0.5-5.5h0m0 2.5h0m0.5 1h0m0.5 0.5h0m1-3h0m0 0.5h0m0 2.5h0m1-3.5h0m0.5 2h0m0.5-2h0m1-1h0m1 5h0m0 1h0m0.5-4h0m0.5 2.5h0m1-0.5h0m0-1h0m0-3h0m0.5 5.5h0m2 0.5h0m0-2h0m0.5-3h0m0 2h0m1-2h0m0.5-0.5h0m0 2.5h0m0.5-2h0m0.5 1h0m2.5 3.5h0m1-5.5h0m2 5.5h0m0-0.5h0m0.5-1h0m2-0.5h0m1.5 1h0m0 1h0m1-4.5h0m0 4h0m1-3.5h0m0.5 2.5h0m0 1.5h0m1.5-5.5h0m-149.5 7.5h0m0-1h0m1 3.5h0m1.5 0.5h0m0-2h0m0 0h0m0.5-2h0m0 0.5h0m0 4.5h0m0.5-3h0m1-0.5h0m0.5 0.5h0m0-1h0m1 0h0m0 0.5h0m0 2h0m0.5-0.5h0m1 1h0m0 0.5h0m2-3h0m0 1h0m2.5-0.5h0m1 2h0m0-4h0m1 1h0m1 3h0m1-4h0m0.5 2.5h0m3.5 0.5h0m1 1h0m0-0.5h0m1-2h0m0 4h0m0.5-2h0m2.5-0.5h0m0 2.5h0m1-6h0m0 3h0m1 1.5h0m1-2.5h0m0-0.5h0m0.5 3h0m2-2.5h0m1 0h0m1 2.5h0m0.5-0.5h0m0 1.5h0m1-4h0m0 2h0m0-1.5h0m0-1h0m0.5 4.5h0m0-0.5h0m0.5 0h0m2 0h0m1-4h0m0.5 0h0m1 4h0m1-4h0m0 1.5h0m1.5-1h0m0-1h0m0.5 3.5h0m0-0.5h0m1 1h0m1.5-3.5h0m0-0.5h0m1 1.5h0m1-1.5h0m0 2h0m2.5 0.5h0m1-3h0m2 2h0m1.5 3h0m0 1h0m1-1h0m0-1.5h0m4-3h0m1 2.5h0m1-0.5h0m0-1.5h0m2.5 0h0m0.5-1h0m0.5 5.5h0m0-0.5h0m0.5-2h0m0.5-2h0m0.5 1h0m0.5 3h0m1 0h0m1-2.5h0m0 0.5h0m0.5 1.5h0m0 0.5h0m1 0h0m0 0.5h0m4-4.5h0m0 2h0m1 1h0m0.5-1h0m0.5 1.5h0m0 1.5h0m1-4.5h0m0.5 4h0m0.5-1.5h0m0-4h0m0 2h0m0 0h0m0.5 0.5h0m1.5-1.5h0m0.5 4.5h0m0-2.5h0m0 1.5h0m0 0.5h0m1-2h0m0.5-1.5h0m0 4h0m0.5-4.5h0m1-0.5h0m0.5 5.5h0m1-4h0m0.5 3h0m0.5 1h0m0-4h0m1 3.5h0m1-3h0m0 1h0m0.5-2.5h0m1 2.5h0m1-0.5h0m0 0h0m1.5-0.5h0m0 1h0m24-3h0m0.5 1h0m0.5 1h0m1-1.5h0m0 1h0m1 2.5h0m1.5-4.5h0m0.5 3.5h0m0 2.5h0m0-4.5h0m0.5 4.5h0m0.5-2.5h0m0-2.5h0m0.5-0.5h0m0 1.5h0m0 2h0m0 0.5h0m2.5 1.5h0m0-3.5h0m0 0h0m1.5-0.5h0m0 3.5h0m0-5.5h0m1 1h0m0.5 1.5h0m0.5-2h0m0 5h0m0-1.5h0m0-0.5h0m0.5 2.5h0m0.5-5.5h0m0.5 2.5h0m0.5 1h0m0.5-2.5h0m2 0.5h0m0 2h0m0-1h0m0-1h0m0 1h0m1-1.5h0m1 3h0m0-3.5h0m0.5 1h0m1-2h0m4 1h0m0.5-1h0m1 1.5h0m-139 4.5h0m1.5 0h0m0.5 2h0m2 1.5h0m0 1h0m0-2.5h0m2.5 0h0m1 3h0m1-2.5h0m0.5 1h0m0 1.5h0m2.5-4.5h0m0.5 2.5h0m3 1h0m1-2.5h0m0 2.5h0m0-0.5h0m3 0.5h0m0.5-3h0m1 4.5h0m1-1.5h0m1-1h0m1.5-3h0m0.5 3.5h0m1.5-2h0m0.5 4.5h0m0.5-2h0m0.5-1.5h0m0.5 3.5h0m1-5.5h0m0.5 0.5h0m1 2h0m0.5-2.5h0m1.5 0.5h0m1.5-0.5h0m0 4.5h0m1-3h0m4.5 1.5h0m0.5 2h0m0.5-4h0m0.5 0h0m1.5 4.5h0m0-5h0m0.5 1h0m0.5 0.5h0m0.5-2h0m0 3h0m0.5-0.5h0m0-1.5h0m0.5-1h0m0.5 2h0m0 1h0m0-2.5h0m0-0.5h0m0 2h0m0.5-0.5h0m0 1.5h0m1-1h0m0.5-1h0m0 0.5h0m0 0h0m2 1h0m0.5 1.5h0m2 0.5h0m1-3h0m1-0.5h0m0 4h0m2 0h0m0-3h0m3.5 3h0m0-3.5h0m0.5 2.5h0m2-3.5h0m0.5-0.5h0m0 5h0m0-3h0m1-0.5h0m0.5 0h0m0.5-1.5h0m0 4.5h0m0.5-2.5h0m1.5 3h0m2-4h0m0-1h0m1.5 3h0m0 1.5h0m0.5-1h0m0 0.5h0m0.5-3.5h0m0-0.5h0m0 2.5h0m0.5 0h0m0-1h0m2.5 3.5h0m0.5-1h0m0.5-2h0m1.5-2h0m1.5 0h0m0.5-0.5h0m2 0.5h0m3.5 1h0m37-1h0m5-0.5h0m0.5 1.5h0m-119 4.5h0m0.5 0.5h0m1 1h0m0.5 3h0m1.5-4.5h0m0.5 3h0m0 3h0m0-3h0m0.5 1h0m1-2.5h0m0 2.5h0m0 0h0m0-1.5h0m1 0.5h0m0.5-2.5h0m0.5 4.5h0m0.5 0.5h0m0-1.5h0m0.5-4h0m1 5h0m0-2.5h0m1 0h0m2-1.5h0m1 1h0m1.5-1h0m0 2.5h0m0.5 0.5h0m1.5 1h0m0-2.5h0m1.5 3h0m0-2.5h0m0.5-2.5h0m0.5 4h0m0-4.5h0m0.5 1.5h0m0 1h0m1.5-0.5h0m1 3h0m0-1.5h0m0 0h0m1.5 0h0m0-3.5h0m0.5 2.5h0m0 0.5h0m0.5 0h0m0.5-1h0m1 0.5h0m0.5 2.5h0m2-2h0m0 0h0m0.5-1h0m1 2h0m0-1h0m1 0.5h0m0-3h0m0.5 3.5h0m0.5-3.5h0m0 5h0m2-2h0m0.5-1.5h0m1-1h0m1 3h0m0.5-0.5h0m0-1h0m1 3h0m0.5-5h0m0 2h0m2 0.5h0m1 1.5h0m1.5-2h0m0 1.5h0m0-1h0m1 0.5h0m0.5-1h0m0 3.5h0m0-4h0m1-2h0m0 5.5h0m0.5-4h0m0 2h0m0 1h0m2 0.5h0m0-2h0m1-3h0m0.5 1.5h0m0.5 3.5h0m1-3h0m2-1h0m1-1h0m1 3h0m0-2.5h0m1 1h0m0-0.5h0m0.5 5h0m0.5-4.5h0m1 2h0m0-1.5h0m0 1.5h0m0.5-1.5h0m0-1h0m1 0h0m0 4h0m0.5-4.5h0m0 3.5h0m2-2.5h0m1 2.5h0m0-2.5h0m0.5 2h0m0.5 1h0m1 0h0m1.5-0.5h0m2-3.5h0m0 0h0m1 3.5h0m0 0h0m0.5-2.5h0m0.5 2h0m0.5 1h0m0.5 1h0m0.5-0.5h0m0-2h0m-65 5.5h0m1 1h0m0.5 0h0m0.5 0h0m1-3.5h0m0 1h0m0 4h0m0.5-2.5h0m0 3.5h0m0.5-4.5h0m0 3h0m1.5-0.5h0m0.5 0.5h0m0 1.5h0m0-2.5h0m3 0.5h0m1-2h0m0.5-1h0m0.5 0h0m1-1h0m1.5 1.5h0m0-1h0m2 1h0m1 4h0m0.5-0.5h0m0-1.5h0m1-1h0m0.5 2h0m0-1.5h0m0.5 0h0m0 2h0m0.5-0.5h0m0-1.5h0m0 2h0m0.5 0.5h0m0.5-3.5h0m1.5 0h0m0.5 2h0m1.5-1h0m0 0.5h0m3.5 0h0m0.5-1.5h0m1-1h0m1 4.5h0m0.5-5h0m1.5 3h0m0.5-1h0m0.5-1.5h0m0 1.5h0m0 1h0m0.5-2h0m0.5 4h0m1-4.5h0m0-1h0m1.5 4.5h0m1 0h0m0 1.5h0m1-4.5h0m0.5 4.5h0m1-4.5h0m0.5-0.5h0m0 2h0m1.5 1h0m0 0h0m1.5-3h0m0.5 2.5h0m0 0h0m0.5-2.5h0m0.5 2h0m0.5 2h0m0-3h0m1 2.5h0m0-0.5h0m3.5-2h0m0 3.5h0m1.5-2.5h0m0.5 2.5h0m1-0.5h0m1-4.5h0m0 3.5h0m0.5 1.5h0m0-1.5h0m0-2h0m1 2.5h0m2 1h0m0.5-4.5h0m0.5-0.5h0m0.5 3.5h0m0-0.5h0m1 1.5h0m0.5-4h0m0 0.5h0m0 2h0m0.5 0h0m0.5 0h0m0-2h0m2.5-0.5h0m0.5 1.5h0m0 3h0m0-3.5h0m1 0h0m0.5-1.5h0m0 5h0m0.5-3.5h0m0-1.5h0m0 1h0m1.5 3h0m0.5-0.5h0m1 0.5h0m-67.5 1.5h0m0 1h0m1.5 1.5h0m0-1.5h0m0.5 1.5h0m1-0.5h0m0 3h0m0.5-3h0m0 2.5h0m1-1h0m0.5-1h0m0.5 3.5h0m2.5-2.5h0m1-2.5h0m2 1.5h0m0.5-0.5h0m1-0.5h0m0.5 2h0m0-2h0m0-0.5h0m1 2h0m1-1.5h0m0 3.5h0m2.5 0h0m0.5-3.5h0m0 3h0m0.5-1.5h0m1.5 2.5h0m0-3.5h0m1-0.5h0m1-1h0m1 2h0m0.5 1.5h0m0.5 0.5h0m1-2h0m0 2.5h0m0-2.5h0m0.5 0h0m0.5 1.5h0m0.5 0.5h0m0.5-1.5h0m0.5-0.5h0m0-2h0m0 0.5h0m1.5 1.5h0m0-2.5h0m0.5 2h0m0-0.5h0m0.5-0.5h0m0.5 3h0m3-1h0m1-1.5h0m0.5 4h0m0.5-3h0m0.5 1.5h0m0.5-1.5h0m1-1h0m0 0.5h0m1 2.5h0m1-1h0m0.5 2.5h0m0.5-5.5h0m1.5 4.5h0m0.5 0.5h0m0.5-3h0m2.5 1h0m0.5-3.5h0m0.5 3h0m1.5 1.5h0m0.5-0.5h0m1.5-1h0m0.5-2.5h0m3.5 5h0m1-0.5h0m0-2.5h0m0.5 3.5h0m0-4.5h0m0.5 0h0m2 2h0m0 0h0m0 1.5h0m1 0.5h0m2.5-5.5h0m0.5 2h0m0 3h0m2.5-1.5h0m1.5-3h0m4 0h0m0 4h0m1-4.5h0m0 4h0m0.5 1h0m-68.5 2h0m1.5 1h0m1-2h0m1 3h0m0-2h0m0.5-0.5h0m0.5-0.5h0m1 2h0m0 1h0m1.5-1h0m0-1.5h0m2.5 0h0m1 2h0m0 3h0m0-3.5h0m0.5 4h0m0.5-1h0m0.5-4h0m0.5-1h0m1 0h0m0.5 4h0m3.5-1h0m2.5-2.5h0m0 4.5h0m1.5-2h0m1-1h0m0-1.5h0m0.5 5.5h0m0-3h0m1 2h0m0.5-4.5h0m0 3.5h0m0 2h0m1-3.5h0m1 2.5h0m1.5-4.5h0m1.5 1.5h0m0.5 1h0m1 2.5h0m0 0h0m0.5-5.5h0m0 2.5h0m0.5 2h0m0.5 1h0m0-1h0m0 1h0m0-0.5h0m0 0.5h0m0.5-5h0m0.5 5.5h0m0.5-0.5h0m3-0.5h0m1-1h0m0 1h0m1-2h0m1 2h0m0.5-4.5h0m0 5h0m1-0.5h0m1.5-4.5h0m0 3.5h0m1-0.5h0m3 1h0m0-2h0m0 1.5h0m1.5 0.5h0m1.5-3h0m0.5 3h0m0.5 1.5h0m0-3h0m1 0h0m0 0h0m1.5-2h0m0 0.5h0m1 0.5h0m0.5 3h0m0 0h0m0.5-1.5h0m4 0h0m2 1.5h0m0-4h0m0.5 2h0m0 1.5h0m0.5-0.5h0m1-3.5h0m0 3.5h0m1 1.5h0m1-1.5h0m0 0h0m1-1.5h0m0 1h0m0.5-3h0m1 2.5h0m0 1h0m0-4h0m0.5 3.5h0m1-3h0m-62.5 6.5h0m1-1h0m1 0h0m1 1h0m0.5 2h0m1.5-2.5h0m0-0.5h0m0.5 0.5h0m0.5 1h0m1.5 1.5h0m2-2h0m0.5 1.5h0m2.5 0.5h0m0.5-2.5h0m2 0h0m0 2.5h0m0.5 0.5h0m0.5-0.5h0m0 0.5h0m1-0.5h0m1-0.5h0m0.5-2h0m1 3.5h0m0.5 0h0m2-1h0m4 2h0m0.5-2h0m0 0.5h0m0 1.5h0m0.5-2.5h0m0-2h0m0 0h0m0.5 1h0m0.5 2h0m0.5-2.5h0m0.5 1h0m1.5-1h0m0.5 3h0m0.5-1h0m0 1h0m0.5 0.5h0m0.5-3h0m0 1.5h0m0.5 2.5h0m0-4.5h0m1.5 0.5h0m0.5 3h0m0-2.5h0m0.5 2.5h0m0.5 0h0m0.5-2h0m1 0h0m0.5 1h0m0-3h0m0 4h0m0.5 1h0m0-1.5h0m0.5-3h0m2 2h0m0.5-1.5h0m1.5 3h0m0-4h0m2.5 3h0m1-1h0m0.5 0.5h0m0.5 1h0m0-3.5h0m1 3h0m1 0.5h0m0-1.5h0m3.5-1.5h0m0.5 1h0m1 2h0m1.5-4h0m1 1h0m0.5 2h0m1-2.5h0m1 0h0m1.5 1h0m-25.5 21h0m0.5 1h0m0.5-1.5h0m1 2h0m0.5-0.5h0m1-1h0m0-0.5h0m-6.5 7h0m0.5-2.5h0m0-2h0m0 2.5h0m0.5-0.5h0m0.5 0h0m1 3.5h0m2.5-1.5h0m0-2.5h0m1 3h0m0-2h0m0.5-1.5h0m0 0h0m1.5 2.5h0m0.5 0h0m0 2h0m1-1h0m-10.5 1h0m1.5 4h0m1-0.5h0m0.5-2h0m1-0.5h0m0 3h0m0.5-1h0m1.5-2h0m0.5 2h0m1-2.5h0m0.5 1.5h0m0 0.5h0m0.5 0h0m1-1.5h0m1.5 0.5h0m0 1.5h0m0-0.5h0m1.5-1.5h0" stroke="#cbc9c9" stroke-width="1.4" stroke-linecap="round" fill="none"/>
<path d="M949 340.5h0m1 4.5h0m4-4h0m2 3.5h0m1.5-3h0m4 0.5h0m2 2.5h0m0.5 0h0m4-2.5h0m0.5-1.5h0m2.5 0.5h0m0.5-1h0m2.5-0.5h0m1 4h0m6-3.5h0m1-0.5h0m4 1.5h0m1 2h0m4-2.5h0m4.5 2.5h0m3 1.5h0m-50 5.5h0m1-4.5h0m4.5 0.5h0m2 1h0m10.5 2h0m7.5-1h0m1.5-2h0m4-1h0m3 1.5h0m17.5 1h0m-51.5 7h0m1-2.5h0m3.5 5h0m4.5-3h0m5.5 1h0m0-1h0m1.5 2h0m2.5-4.5h0m0.5 4h0m4-3.5h0m1 4h0m1.5-5h0m24.5 3.5h0m0 2h0m1-3h0m-64.5 8.5h0m5.5-0.5h0m3-2h0m1 0.5h0m1 0.5h0m12-2.5h0m2.5 1h0m8.5-0.5h0m0 2h0m5.5-2h0m2-1h0m-50 8h0m0 2.5h0m2 0.5h0m9.5-5.5h0m1.5 5h0m2-1h0m2 2h0m6-4.5h0m2 0h0m1.5 4.5h0m1-2.5h0m1.5 1h0m2-0.5h0m13.5-3h0m3.5 3.5h0m0.5-2.5h0m1.5-1.5h0m3.5 3h0m3 2h0m7-2.5h0m1-1h0m-61 9h0m5.5-4h0m0.5 4.5h0m6.5-2h0m0.5 1.5h0m2.5-3.5h0m1 2.5h0m1.5-3.5h0m2 5h0m0.5-4.5h0m4 3.5h0m1-2.5h0m1 0h0m0.5-1.5h0m5.5 1.5h0m0.5-1.5h0m0.5 3.5h0m2-1.5h0m1.5 0.5h0m0.5-0.5h0m2.5 1.5h0m0-2.5h0m2 3.5h0m0.5-3h0m4 2h0m0-4h0m0.5 2.5h0m2.5-2.5h0m2 3h0m2 1.5h0m-69 6h0m3-0.5h0m0 2h0m2-1h0m1-1.5h0m1-1.5h0m1 3.5h0m1 0.5h0m6-3h0m1.5-2.5h0m2 2h0m2.5 2.5h0m2 1h0m1.5-3h0m1-3h0m1.5 4.5h0m2.5-1.5h0m7-2.5h0m2 3h0m3 2.5h0m1.5-4.5h0m1 0.5h0m5 1h0m0 0.5h0m2 1.5h0m2-2.5h0m2-1.5h0m5.5 1.5h0m0.5-1h0m3-1h0m3-0.5h0m3 2.5h0m4 2.5h0m2-1h0m5.5 0.5h0m-76 6h0m5-3h0m4 4h0m5-5h0m1.5 2h0m1 0.5h0m1.5-2h0m5 0.5h0m0 1.5h0m1.5 2.5h0m1.5-1.5h0m2 1.5h0m0.5-3.5h0m2 3h0m0.5-1h0m1.5-3.5h0m1 3h0m7.5-3h0m1.5 2h0m9.5 3h0m6.5-1.5h0m1.5-0.5h0m3.5-0.5h0m1 2.5h0m0.5-0.5h0m0-2h0m1.5 1.5h0m3.5 0h0m7-4h0m6.5 2.5h0m-78 5.5h0m0.5 1h0m4.5-2.5h0m3.5 1h0m0.5 0.5h0m0.5-1h0m2.5 4h0m2-2.5h0m3 2h0m2-2h0m4.5-0.5h0m0-1.5h0m0 2.5h0m2-3h0m6 1.5h0m2 2h0m0-2h0m3-2h0m4 1h0m5 1.5h0m1 1.5h0m0-0.5h0m1.5-3.5h0m0.5 2h0m2.5 3.5h0m1.5-4.5h0m2.5 0h0m4 4h0m2.5-0.5h0m1.5-2h0m1.5 3.5h0m3-4h0m-66 4.5h0m3.5 0h0m1.5 1.5h0m1.5-1h0m2 4.5h0m1.5-4.5h0m1 3h0m0.5 0h0m0-3.5h0m7 2.5h0m2.5-0.5h0m5.5 0h0m2 2h0m0.5-1.5h0m1 1.5h0m0.5-2.5h0m4 2.5h0m0.5 1h0m0.5-0.5h0m2.5-3.5h0m7 4h0m8-3.5h0m0.5 0h0m1.5 2.5h0m4 1.5h0m3.5-3.5h0m4.5-1h0m0 1h0m0.5-1h0m-57 5h0m1 3.5h0m0.5-3h0m9.5 2h0m2.5-1h0m2 3.5h0m0.5-2.5h0m5.5 0.5h0m1.5 1h0m0.5-4.5h0m2 5.5h0m4-1h0m3 0.5h0m5.5-4h0m4.5 3.5h0m0-3h0m3 3h0m3.5 1h0m4-2.5h0m2.5-1.5h0m2 0.5h0m0 0h0m4.5 0h0m0 0h0m-56 8.5h0m2.5-3.5h0m3.5 3.5h0m1-1.5h0m1.5-0.5h0m1 1.5h0m2-2.5h0m3 4h0m0 0h0m4.5-3.5h0m0 1h0m3.5-1h0m5 3h0m3-2.5h0m0.5 2h0m1-0.5h0m1-0.5h0m6.5 1.5h0m2-4h0m3.5 2h0m1 2h0m8-1h0m0-2.5h0m1 2h0m5.5 1h0m-59.5 1.5h0m4.5 3.5h0m2.5 0h0m3-2.5h0m8.5-0.5h0m3.5 4.5h0m3-1.5h0m5-2.5h0m1 2.5h0m0.5 2h0m0.5 0.5h0m0-1h0m4-1h0m3.5-2.5h0m1.5 4.5h0m2.5-3.5h0m4-2.5h0m2.5 1h0m8 1.5h0m0.5 1h0m2 1.5h0m-56 2.5h0m14-0.5h0m3 0.5h0m0.5 1h0m0 0.5h0m3.5 0.5h0m0-2.5h0m3.5 1.5h0m6-1h0m5 2h0m5.5-2.5h0m3-0.5h0" stroke="#f2f2f2" stroke-width="1.3" stroke-linecap="round" fill="none"/>
<path d="M994 375h0m3-2h0m5-0.5h0m1.5 2.5h0" stroke="#c8c6c6" stroke-width="1.4" stroke-linecap="round" fill="none"/>
<path d="M1032 375h0m3-0.5h0m0.5-0.5h0m1-0.5h0m1 1.5h0m0-1h0m0.5-1.5h0m0.5 0h0m0.5 2.5h0m1.5-1.5h0m2-1.5h0m0-1h0m0.5 2.5h0m0 0h0m0-1h0m0.5-0.5h0m0.5-0.5h0m0.5 3h0m0.5-0.5h0m0.5-2.5h0m0 0h0m0.5 2h0m0-1.5h0m1.5 2h0m2-2.5h0m0 1.5h0m1 1.5h0m0-1.5h0m0-1h0m0 1.5h0m0.5 0h0m1.5 0h0m0.5-2h0m0 3h0m1 0h0m0.5-2h0m1.5 1.5h0m-24.5 2.5h0m1-0.5h0m0.5-1h0m0 4.5h0m1-4h0m1 3h0m0 0.5h0m0-3.5h0m0.5 1.5h0m0.5 2.5h0m0 1h0m0 0h0m0.5 0h0m0-1.5h0m0.5 1h0m0-2.5h0m0.5-2h0m0 0h0m0 5h0m0-1.5h0m0.5-2h0m0.5 3h0m1-3.5h0m1 0h0m1-0.5h0m0.5 0h0m0 1.5h0m1.5-2.5h0m0.5 0.5h0m0.5 4h0m0.5 0h0m0-2h0m0.5 3.5h0m0.5-5.5h0m0 4h0m1.5-2.5h0m0-0.5h0m1.5-0.5h0m0 3h0m0-0.5h0m1.5-1h0m0-2h0m0 2.5h0m0.5-1h0m1-1h0m0 4h0m0 0h0m0-5h0m1.5 0h0m0 2h0m1 1h0m0 0h0m0.5-1h0m0.5 4h0m1-1.5h0m0.5-0.5h0m0 0h0m0.5-3.5h0m0 0h0m0 3h0m0.5 1.5h0m0.5-0.5h0m0.5-0.5h0m0-3.5h0m0 4h0m0-2h0m0-0.5h0m1 1h0m0 0h0m0.5-1.5h0m0 0h0m1 1.5h0m1 0h0m-30.5 3.5h0m0.5 2h0m0.5-2h0m1 2.5h0m0.5 0.5h0m0.5-1.5h0m0.5 1h0m0 1.5h0m0.5-1h0m0-0.5h0m0-2h0m1 2h0m0 0.5h0m0-0.5h0m1 0.5h0m0 1h0m0-2h0m0.5 0.5h0m0.5 0.5h0m0 1h0m1-2h0m0.5 1.5h0m1-3.5h0m1 2.5h0m0 1.5h0m0.5-4h0m0 5h0m0.5-3.5h0m0.5 1h0m0.5 2h0m0-2h0m0.5 2h0m0-3.5h0m0.5 3h0m1-2.5h0m0 1h0m1-3h0m0 1h0m2 0.5h0m0.5 1.5h0m1-3h0m2.5 1.5h0m2.5-1h0m0 0.5h0" stroke="#e8784c" stroke-width="1.6" stroke-linecap="round" fill="none"/>
<path d="M1136.4 342.3L1146.4 338.9L1163.4 338.0L1177.3 339.7L1185.1 344.0L1185.8 351.6L1183.5 360.2L1175.8 367.0L1171.1 372.1L1177.3 377.2L1188.1 380.6L1191.2 384.0L1185.1 386.6L1177.3 388.3L1182.0 396.0L1189.7 406.2L1192.0 413.0L1188.1 419.0L1175.8 420.7L1157.2 420.7L1138.7 418.1L1129.4 413.0L1126.3 402.8L1121.7 396.0L1112.4 389.1L1107.8 380.6L1110.1 373.8L1123.2 370.4L1115.5 367.0L1114.0 362.7L1127.9 361.9L1138.7 358.5L1137.2 349.9Z" fill="#d9d7d7"/>
<path d="M1211.3 377.2L1220.6 372.1L1231.4 370.4L1240.7 374.6L1242.2 378.9L1233.0 383.2L1223.7 387.4L1214.4 384.0Z" fill="#d9d7d7"/>
<path d="M1169.6 436.0L1173.0 440.3L1176.1 446.2L1173.9 451.0L1165.7 451.4L1162.6 447.4L1165.7 441.1Z" fill="#d9d7d7"/>
<path d="M1165.0 348.2L1175.8 344.0L1183.5 346.5L1183.5 355.0L1177.3 363.6L1169.6 368.7L1163.4 361.9Z" fill="#f7f7f7"/>
<path d="M1145 338.5h0m0.5-1h0m9.5-0.5h0m0.5 2h0m3-1.5h0m2.5 0.5h0m0-0.5h0m0.5 0h0m0.5 0.5h0m1-0.5h0m0 1h0m3.5-1.5h0m0.5 1.5h0m1-2h0m-32 3h0m0.5 3.5h0m0 0.5h0m1.5 1.5h0m0-4h0m1 1h0m0.5-1h0m1.5 2h0m0 1.5h0m0.5-4h0m0.5 2h0m0.5 1h0m0.5 0.5h0m0 0h0m0.5 1h0m0-0.5h0m0-0.5h0m0.5-1.5h0m0-2h0m1-1h0m1 4h0m0.5-1h0m0.5 2h0m2.5-3.5h0m0.5-2h0m0 2.5h0m0.5 3.5h0m0.5-4.5h0m0-1.5h0m0 0h0m0.5 4.5h0m0-4.5h0m0.5 4h0m1.5 0.5h0m1 1.5h0m0.5-3.5h0m0.5-1.5h0m1-0.5h0m0 4.5h0m0.5-0.5h0m0-4h0m1.5 5h0m0-3h0m1.5 1h0m0.5-1h0m1.5-2h0m0 1.5h0m0.5 2.5h0m0-1.5h0m1 2.5h0m0.5-3h0m0-1.5h0m0.5 4h0m0.5-0.5h0m0-2h0m0.5-2h0m0.5 1h0m0 1h0m0.5 1h0m1.5-1h0m0.5 1h0m0 1.5h0m0-4.5h0m1 2.5h0m0.5-2h0m2 2h0m0.5 1.5h0m0.5-3h0m1 2.5h0m1 1.5h0m0.5-3.5h0m1-0.5h0m0 4h0m0.5-2.5h0m0 0.5h0m0-2h0m0.5 1h0m0.5-1h0m1.5 2h0m2.5 0.5h0m0.5 0.5h0m1-1h0m0.5-0.5h0m0.5 2.5h0m0.5-1h0m0 1h0m-49.5 1.5h0m0 4h0m1.5 0h0m0.5-3h0m0 1h0m1-0.5h0m0-0.5h0m0 3.5h0m1.5-3.5h0m0 3h0m1.5 0h0m0 0h0m0.5-0.5h0m0.5 0h0m0-4.5h0m0.5 3h0m0 0.5h0m0 2h0m2 0.5h0m1-5.5h0m0 0.5h0m0 4.5h0m0.5-0.5h0m0.5-2.5h0m1 0.5h0m0-0.5h0m3.5 2h0m1-3h0m2.5 0.5h0m0 3.5h0m0-1h0m1.5-0.5h0m1-3.5h0m0 1h0m1-0.5h0m2-0.5h0m0 2.5h0m1-1h0m1.5 2.5h0m1-3.5h0m0.5 0.5h0m1 4.5h0m0-3h0m0.5 1.5h0m5-4h0m2-0.5h0m1 3.5h0m7 0.5h0m2 0.5h0m0.5 1h0m0.5-2.5h0m0 0h0m0.5-0.5h0m1 1h0m0.5 2.5h0m-49 1h0m1 2h0m1 2.5h0m1-5h0m0.5 5.5h0m2-3h0m3 0.5h0m0-3h0m0.5 1h0m2-1h0m0 4h0m1-3h0m0 3.5h0m0-4.5h0m0.5 2.5h0m0.5-1.5h0m0.5 1h0m1.5-2h0m0 3h0m3.5 0h0m0 1h0m0.5 0h0m0.5-1.5h0m0.5-2h0m1 1.5h0m1.5 2.5h0m1-1.5h0m0.5-1.5h0m2.5-1h0m0-1h0m2 4.5h0m1.5 1h0m3.5-5h0m8.5 2h0m1.5 0h0m3-2h0m1.5 0.5h0m0.5 2.5h0m0.5 2.5h0m0-3.5h0m0.5-0.5h0m-71.5 9h0m0.5-0.5h0m2 0.5h0m5.5 0.5h0m4.5-1.5h0m0 2h0m0.5-4.5h0m0.5 4.5h0m2.5 0h0m1-3h0m0 2.5h0m0-2.5h0m1 3h0m0.5-3h0m0.5 0.5h0m0.5 0.5h0m0-1h0m0-0.5h0m0.5 0.5h0m0 1.5h0m0.5 0h0m1-1h0m0.5-1h0m0 2.5h0m0-2.5h0m0.5-1h0m1 1h0m0.5-1.5h0m0-1h0m0.5 0.5h0m2 0h0m0 4.5h0m0.5-5h0m0 3.5h0m1 1.5h0m0-4h0m1.5 1h0m1.5 3.5h0m0.5-5.5h0m0 3h0m0.5-2.5h0m2.5 0.5h0m0.5 3.5h0m0.5-3.5h0m0.5 1.5h0m1-1.5h0m0.5 0.5h0m0.5 4.5h0m1.5-4h0m0 3h0m1.5-4.5h0m0.5 3.5h0m0.5-4h0m0.5 0h0m0 2h0m0.5 0h0m0.5 2.5h0m1-0.5h0m0.5-0.5h0m2.5-0.5h0m0.5 2h0m0.5-1.5h0m0.5-2h0m1-1.5h0m9 0h0m0.5 5.5h0m0-3h0m2 0h0m1.5 2h0m0-3h0m1.5-0.5h0m1.5 4.5h0m1-1.5h0m0 0.5h0m0-2h0m1 2.5h0m0 0h0m0-2h0m-70 3.5h0m0 2h0m1-2h0m1 2h0m0.5-1h0m0-1h0m0.5 1h0m0 2h0m0 0h0m0.5-2.5h0m1 2h0m0.5 1h0m0.5-3.5h0m0-0.5h0m1.5 5h0m1.5-2h0m1-1h0m0 0.5h0m0 2h0m0.5-4h0m0.5 1.5h0m0.5 1h0m1-2h0m0.5 4.5h0m1-1h0m1-3.5h0m0 4.5h0m0.5-4.5h0m1 4h0m2-3.5h0m0.5 4.5h0m0.5-1h0m2.5 0h0m0 1h0m1-4.5h0m0 0h0m2 4h0m1-3h0m1-2h0m0 3h0m1.5 1.5h0m1 1h0m0-2h0m0 0.5h0m0.5 1h0m0.5-1.5h0m1 1.5h0m0 0.5h0m2.5-1h0m1.5-3h0m0.5 0.5h0m0.5-2.5h0m0 5.5h0m0.5-5.5h0m2 3h0m0.5 0.5h0m0-2h0m0 1.5h0m0.5-2h0m0 0h0m2 0.5h0m0 2.5h0m0 1h0m1.5-5h0m0.5 4h0m0-1h0m1 3h0m1.5 0h0m1-3.5h0m0 0.5h0m0.5 0h0m0.5-2.5h0m0 1.5h0m0-1h0m0.5 2h0m0 2h0m1-3.5h0m1 0.5h0m0-1h0m1.5 1.5h0m0 3h0m2-5h0m0 4h0m0 1.5h0m0.5-3.5h0m2.5 0h0m1 2.5h0m0.5-2h0m2.5 1.5h0m1-1h0m0.5 0h0m-66.5 6.5h0m1.5 1.5h0m2-0.5h0m1.5-2.5h0m1.5 1h0m0.5-0.5h0m1 0.5h0m1-1h0m0.5 3h0m1-1h0m0.5-1.5h0m0-1.5h0m0 1.5h0m0.5-0.5h0m0 1.5h0m1-3.5h0m0.5 3h0m0-2.5h0m0-0.5h0m0.5 4.5h0m0-2.5h0m1 0.5h0m0-1.5h0m0.5 1.5h0m0.5-2h0m2.5-1h0m0 5.5h0m1 0h0m1.5-1h0m0.5-4h0m0 5h0m0 0h0m0.5-5h0m0.5 5.5h0m0.5-4.5h0m0.5 3h0m2-2.5h0m2 3h0m0.5-2.5h0m1.5-1h0m0 0.5h0m0.5-1.5h0m1 5.5h0m0.5 0h0m0.5-4h0m1-2h0m0 1.5h0m1 0h0m0 0.5h0m1.5 2h0m2-3.5h0m0 0.5h0m0.5 2.5h0m0.5 1.5h0m0.5-1.5h0m1-1h0m0 2h0m1-4h0m0 1.5h0m0.5 4h0m1-5h0m0 2.5h0m0-0.5h0m0.5-2h0m0 4.5h0m0.5 0h0m0.5-1.5h0m0.5 0.5h0m0-4.5h0m1 0.5h0m0 0h0m0.5 2.5h0m0.5 2h0m0.5 0h0m1 0.5h0m0.5-1.5h0m1.5-3h0m0 2h0m1.5-1h0m0.5 3.5h0m2.5-4h0m0.5 3h0m1-3h0m1 3.5h0m2 0h0m1-1.5h0m0.5-2h0m3 1.5h0m1-2.5h0m0 1h0m1 0.5h0m42 2.5h0m0.5 0h0m2 1h0m0.5 0h0m0.5-0.5h0m0-1.5h0m1.5-1.5h0m0.5 0h0m1 1h0m0.5 1.5h0m0 0h0m1-1.5h0m2 2h0m0-2h0m0.5 3h0m1-1h0m0.5 0.5h0m0.5-1h0m0.5-2h0m0-1h0m0.5 3h0m0.5-1h0m0-0.5h0m0.5 0.5h0m0.5-1h0m0 1.5h0m0.5 1h0m0-3.5h0m0.5 2h0m0.5-1h0m0.5 1h0m1-0.5h0m0.5 0.5h0m0-1h0m0 3h0m0.5-3h0m2.5 2h0m0 0.5h0m3 1h0m-134.5 3h0m2 2h0m1-1.5h0m1 1h0m0.5-0.5h0m0 1.5h0m2-5h0m0.5 3h0m0.5-0.5h0m0-3h0m0 1.5h0m0 3h0m1.5-1.5h0m1 2h0m1-4.5h0m0-0.5h0m1 1.5h0m1 1.5h0m0.5-1.5h0m0 0.5h0m0.5-2h0m1 2.5h0m3.5 1h0m1-2h0m0 1h0m0 3.5h0m0.5-2.5h0m1.5 0.5h0m0.5 0.5h0m0-1h0m0.5-1.5h0m0.5-0.5h0m0.5 3.5h0m0-0.5h0m0 1h0m0.5-0.5h0m0 0h0m1-2h0m0 1h0m0-3h0m0.5-1h0m2 1h0m0-0.5h0m0.5 4.5h0m0 0.5h0m1.5-2h0m0.5 1.5h0m0 0.5h0m1-0.5h0m0.5-3h0m0 1.5h0m1-0.5h0m1 0h0m1-2.5h0m1 0.5h0m0 1h0m1-1h0m1 1.5h0m1-2.5h0m0.5 3.5h0m0 0h0m0.5-1h0m0.5 2.5h0m1.5-4.5h0m0.5 4.5h0m1-4.5h0m1 3h0m0.5-2.5h0m2 0.5h0m0.5 4.5h0m0.5-1.5h0m3 0.5h0m0.5-2.5h0m1 0.5h0m0.5-1.5h0m0.5-1h0m0.5 5.5h0m1.5-3.5h0m1.5 1h0m0-3h0m1 4h0m0 1.5h0m2.5-4h0m1 1.5h0m2-2h0m0 0h0m2.5 0.5h0m0-1.5h0m1 3h0m0.5-3.5h0m1 6h0m0-4.5h0m0 3h0m0-2h0m0.5 0.5h0m0.5-3h0m0.5 2.5h0m0.5-0.5h0m0-0.5h0m0.5 1h0m2 3h0m0.5-2h0m1 0.5h0m0.5 0h0m0.5-0.5h0m3.5 1h0m0.5 1h0m1-1h0m1 0.5h0m24-3h0m1.5 2.5h0m0 0.5h0m0.5-2h0m0-2h0m0.5 4.5h0m0 0.5h0m0.5-0.5h0m0.5 0.5h0m0-2h0m1-3h0m0 3.5h0m1 0.5h0m0-2h0m0.5-2h0m0.5 3.5h0m0 1.5h0m0-2h0m1 0h0m0 0h0m1-2h0m0.5-0.5h0m0.5 1h0m0.5-2.5h0m0 0h0m0 1.5h0m0-0.5h0m1.5 3h0m0.5 1.5h0m1-3.5h0m0.5 1h0m0.5-1.5h0m1 4h0m0.5-2h0m1 1.5h0m0-1h0m0.5 1.5h0m0.5-3h0m0.5 2h0m1 0.5h0m0-5h0m1 5h0m0 0.5h0m0-1.5h0m0.5 0h0m0.5-1.5h0m0.5-1.5h0m0.5 1.5h0m1 0h0m0.5 1.5h0m0-1.5h0m0.5 0.5h0m0.5 2h0m1.5-4h0m0.5-0.5h0m0 1.5h0m0.5 3h0m1.5-4h0m1 2.5h0m0-1.5h0m1.5-1.5h0m1 3.5h0m0.5-2h0m-136.5 5h0m2.5 0.5h0m0 2.5h0m0-0.5h0m1 1h0m0.5-4.5h0m0 4h0m1.5-1h0m1 2h0m1-2.5h0m0.5 0h0m0.5 1h0m0 0h0m0.5-3h0m0 5h0m0.5-3h0m0.5 2h0m0.5-2.5h0m0-0.5h0m2.5-1h0m0.5 5.5h0m0-4h0m1-0.5h0m0 2h0m1-1.5h0m0.5-0.5h0m1 0h0m1 2.5h0m0 0.5h0m0-2.5h0m1-1h0m1.5 0h0m0 2h0m0.5-2h0m1.5 4h0m1.5-4.5h0m0 4h0m0.5-2.5h0m0.5-0.5h0m1 0.5h0m0.5 0.5h0m0.5-2h0m0.5 2h0m1.5 2h0m1-2h0m0.5 0h0m1.5 3.5h0m0.5-3h0m3.5 1.5h0m1 1h0m0-2h0m0.5 2.5h0m0-5h0m1 4.5h0m0-3h0m0.5 3.5h0m0.5-2.5h0m0 1.5h0m1-0.5h0m1-1h0m0.5-3h0m0.5 0h0m0 3h0m0-2h0m0 2.5h0m2-1.5h0m0.5-1h0m0.5 1.5h0m1 0.5h0m0 0.5h0m0 1.5h0m1.5-1h0m0-1.5h0m0-2.5h0m0 5.5h0m1-1.5h0m0.5-4.5h0m0.5 0.5h0m0.5 1h0m1.5 3.5h0m0-2.5h0m0.5 0.5h0m1.5 0h0m0-2.5h0m1 1.5h0m0 2h0m1-0.5h0m0.5 1h0m0.5 0h0m0.5-1.5h0m2-2.5h0m0.5 3h0m1 1h0m2-2h0m0 2h0m0 1.5h0m0.5-4.5h0m0 0.5h0m1 4h0m0 0h0m0.5-5.5h0m0 3h0m0 1.5h0m1 0h0m0-1h0m1.5-2.5h0m0.5 4h0m0.5-1.5h0m0 1.5h0m0-3h0m0-0.5h0m0 3.5h0m0-2.5h0m1-2.5h0m0 2.5h0m0 0h0m0-0.5h0m1 1.5h0m2 0.5h0m1-3h0m0.5 1.5h0m0 2.5h0m1.5-5.5h0m0 5h0m0-3.5h0m1 3h0m0-0.5h0m0.5-0.5h0m0 1.5h0m0-2.5h0m0 3h0m0.5-4h0m1.5 3.5h0m0.5-1h0m1 0h0m0.5-3h0m0.5 2h0m0 1.5h0m1.5-2h0m0.5 0.5h0m21-3h0m2.5 3.5h0m1.5-2.5h0m1.5-0.5h0m0 4h0m0.5-3.5h0m1.5 1h0m0.5 1h0m0.5-2h0m0.5 4h0m1.5-3h0m0.5 2h0m0 2h0m0.5-5.5h0m0 2h0m0 0.5h0m0.5-2h0m0.5 2.5h0m1 2h0m1-4.5h0m0.5-0.5h0m0 4.5h0m0.5-1.5h0m0 1h0m0.5-3.5h0m0.5 2h0m0 2h0m1.5-4.5h0m0 2.5h0m0.5 1.5h0m1-2h0m2-2h0m0.5 3h0m1-2.5h0m0.5 1.5h0m0-1.5h0m4-0.5h0m-127 7h0m1.5 1.5h0m0.5-0.5h0m0.5-0.5h0m0.5-1h0m0.5 1h0m1 2.5h0m0 1h0m0.5 0h0m0-3h0m0.5 0h0m0 2h0m1.5-2.5h0m1-0.5h0m1.5 3h0m0.5-3h0m0.5 3h0m0 1h0m0-4.5h0m1.5 1.5h0m0-1h0m0 3h0m2-2.5h0m1 1h0m0.5-2h0m1.5 1.5h0m1-0.5h0m2.5-0.5h0m0.5 1h0m0.5 3h0m1-2.5h0m0.5 0.5h0m2.5-3h0m0 0.5h0m0-0.5h0m0.5 0.5h0m0.5 3h0m0.5-0.5h0m0.5-3h0m1 2h0m1 1h0m4 0.5h0m0.5-2h0m1.5 2.5h0m0-3h0m1-1.5h0m0 3.5h0m1 2h0m0-2.5h0m1-1.5h0m0.5 0.5h0m0 3.5h0m3.5-5h0m0 3h0m3.5 0.5h0m0-1h0m1-2h0m1 3.5h0m0.5-2h0m0 2.5h0m0.5 1h0m0.5-5.5h0m0 3.5h0m0.5-2h0m1 1.5h0m0 1h0m0.5 1h0m1-0.5h0m0-3.5h0m0.5 2h0m3 2h0m1.5-5h0m0.5 2.5h0m1.5-2.5h0m1.5 1.5h0m0.5-1.5h0m0 4h0m0.5 0.5h0m0 0.5h0m1-2h0m0.5 1.5h0m0 0h0m0-4.5h0m1 0.5h0m0.5 3.5h0m0 0h0m0.5-0.5h0m0.5-4h0m0.5 1h0m0 2.5h0m0.5-3h0m0.5 0.5h0m1 5h0m1.5-0.5h0m0-5h0m5.5-0.5h0m35.5 1h0m-103.5 5h0m0.5 1.5h0m0 1.5h0m1-0.5h0m2 0h0m0.5-1.5h0m0.5 4h0m0 0h0m0-1.5h0m1 1h0m2.5 1h0m1 0h0m2-1.5h0m0.5-3h0m0.5 4.5h0m1.5-1.5h0m0 0h0m0-3h0m0.5 0.5h0m0 0.5h0m0.5 1h0m0.5 0h0m0.5 2h0m2-3h0m0.5 3.5h0m0.5-1h0m3-3.5h0m0 3h0m0.5-3.5h0m0.5 2h0m0.5 2h0m0.5-1h0m1.5 0.5h0m2 1h0m0 0h0m0.5-2.5h0m0 2h0m1 0.5h0m0-1h0m1 2h0m0-2h0m0-2.5h0m0.5-1h0m1 1.5h0m0.5 2.5h0m1.5-4.5h0m0 1h0m0 2h0m1.5 2h0m0.5-3.5h0m0-0.5h0m0 3.5h0m0.5 0.5h0m0.5-1.5h0m1-2h0m2 0h0m0 2.5h0m2.5 0.5h0m0-4.5h0m0 2h0m0 4h0m1-3h0m4.5 1.5h0m0.5-1h0m0-2.5h0m0 2h0m0.5 0h0m1-0.5h0m1 1h0m0.5-0.5h0m0.5 2.5h0m2.5-4h0m1.5 0.5h0m0 4h0m0-2.5h0m1.5 1.5h0m0-2.5h0m0 0.5h0m0.5-3h0m0 1h0m0.5 4h0m0.5-4.5h0m0 5h0m1-0.5h0m0.5-2h0m2-3h0m0.5 3.5h0m1-1h0m0.5 0h0m0.5 1h0m1 1h0m-59 3h0m0 0.5h0m0-1.5h0m0.5 3.5h0m0-3h0m1 4.5h0m0.5-1.5h0m1 0h0m0.5 0h0m1.5-1.5h0m0.5-0.5h0m0.5 2h0m0.5 2h0m0-6h0m0.5 6h0m1.5-1h0m3-3.5h0m1 3h0m1.5-1.5h0m0.5 1.5h0m0.5-1.5h0m2 1h0m1.5 0h0m0 0h0m0.5-3h0m0 1h0m0.5-1h0m3.5 3h0m1-1.5h0m0.5 0.5h0m0 0h0m0-2h0m0 1h0m0 0.5h0m0.5 3h0m1-2.5h0m4 3h0m0.5-1.5h0m0.5 0h0m0 1h0m1.5-4.5h0m0 3h0m1.5 1h0m0-2h0m0.5-2h0m0 3.5h0m0.5 1h0m2.5-1.5h0m0-3h0m2 3.5h0m0.5-2h0m0.5 1h0m0-2h0m0.5 3h0m0.5-1h0m0.5 0h0m0.5 1h0m0-1.5h0m0.5-1.5h0m0.5 2h0m1.5 1h0m0-4.5h0m0.5 0.5h0m0 4.5h0m0 0h0m2-4.5h0m1 5h0m0.5-1.5h0m0.5-1.5h0m1.5-2.5h0m0.5 5h0m1.5-3h0m0 0h0m0-1.5h0m1 0h0m1 0h0m1 2.5h0m0-2.5h0m0.5 4.5h0m0.5-4h0m0.5 4h0m0-2.5h0m0-1h0m0.5-0.5h0m0.5 3h0m0-1.5h0m0.5-2.5h0m1 3h0m0 0h0m1-1.5h0m0 2.5h0m1.5 1.5h0m1-1h0m1 1h0m-63.5 1.5h0m0 0h0m2 5h0m0.5-3h0m1 0h0m1 3h0m2-4.5h0m0 0.5h0m0-2h0m1 4h0m0.5-2.5h0m1.5 1.5h0m1.5-1.5h0m0-1.5h0m0 0.5h0m0.5 3.5h0m1.5-3.5h0m1 1h0m1 3h0m0.5-1.5h0m0 0.5h0m0.5-2.5h0m0.5 3h0m0-1.5h0m0.5 2.5h0m0.5-1.5h0m0.5-3.5h0m1 4h0m0-1.5h0m1 2h0m0 0.5h0m1-1.5h0m1.5-1h0m0.5 2.5h0m0.5-4.5h0m0 5.5h0m0.5-2h0m0-3h0m1.5 1h0m1 0h0m0.5 1.5h0m1 0.5h0m1 1h0m0-5h0m1.5 4h0m0.5-4h0m0.5 5.5h0m0-1.5h0m1-2.5h0m0.5 3h0m2-0.5h0m0-3.5h0m2 3.5h0m0-3h0m0.5 0h0m0-0.5h0m0.5 5h0m2.5-1.5h0m2 0h0m1 1.5h0m0.5-3.5h0m0-0.5h0m0 4h0m1-1.5h0m1.5-2.5h0m0.5-1.5h0m0 0.5h0m2 5h0m0-3h0m0.5-1h0m1 0h0m0.5-1.5h0m1.5 2.5h0m0 1h0m1.5 1.5h0m0.5 0.5h0m0-1h0m0.5-3.5h0m1 0.5h0m0 1.5h0m1.5-1.5h0m0.5 3h0m0-3.5h0m1.5 3h0m0.5-3h0m0 4.5h0m1.5-3.5h0m0.5 1.5h0m1-2h0m0 2.5h0m1-2h0m0 0.5h0m0.5-0.5h0m0.5 4h0m-63.5 1h0m1 0h0m1.5-0.5h0m0.5 2h0m0 0h0m1.5-0.5h0m0.5 0.5h0m0 2.5h0m0.5-1.5h0m0-2h0m1.5-0.5h0m1 1.5h0m0-1.5h0m0.5 4.5h0m0.5 0.5h0m1.5-1.5h0m0.5-2h0m1 3h0m2-0.5h0m0 0.5h0m0-1.5h0m0-1h0m0.5-3h0m0 5.5h0m2-1.5h0m0.5-1h0m0-0.5h0m0 3h0m1-2.5h0m0.5-1h0m0-0.5h0m1.5 1.5h0m3-2h0m0 1h0m0-1h0m1.5 2h0m1 2h0m0-4.5h0m3 5.5h0m0-1.5h0m0.5-3h0m1 1.5h0m0-3h0m0.5 3h0m0 1h0m0.5 0.5h0m0-3h0m0.5 3.5h0m1 0h0m0.5-4.5h0m2.5 4.5h0m1.5-4h0m1.5 2h0m2.5 1.5h0m1.5-4h0m0.5 1.5h0m1-1.5h0m0.5 4.5h0m1-3h0m0 0h0m0.5-1.5h0m0.5 1.5h0m0-1h0m0.5 4h0m1-3.5h0m0 1h0m0 1h0m0.5 0.5h0m0.5-2h0m0.5-1h0m0-0.5h0m1.5 4.5h0m1-0.5h0m1-1.5h0m0.5 0h0m1.5-2h0m0.5-1h0m0.5 1h0m0 3h0m0 1h0m0.5-3.5h0m0.5-1.5h0m0.5 0h0m0 3.5h0m0.5-2h0m1.5 2h0m0.5 0.5h0m1-2.5h0m0.5 2h0m0 1.5h0m0-1h0m0.5-0.5h0m1 0.5h0m1-3h0m-57 5h0m2 1h0m2 0.5h0m0 0h0m1 0h0m1 0.5h0m2-0.5h0m0.5-1h0m0 1h0m1.5 0h0m1.5-1h0m0 2h0m0.5 0.5h0m1.5 2h0m0.5-5h0m1.5 1h0m2.5 2h0m0-1h0m1 2h0m0.5-0.5h0m0.5-1h0m0.5 0.5h0m2 2h0m1.5-1h0m0 0h0m2.5-1h0m0.5 1.5h0m0-0.5h0m0-2.5h0m0.5 2h0m0.5-3.5h0m0 1h0m0 2h0m0 0h0m0.5 2.5h0m0.5-4.5h0m1 0.5h0m0.5 0.5h0m0.5-0.5h0m2 1.5h0m0.5 1.5h0m0-2.5h0m1 2h0m0-1.5h0m0.5-1.5h0m1-0.5h0m1 3h0m0-2.5h0m0.5 0.5h0m0.5 0.5h0m1.5-1h0m0.5 1.5h0m0.5 1.5h0m2-3.5h0m0.5 1h0m0 0.5h0m0.5 1.5h0m0-3h0m0 2h0m0.5-2h0m1 0.5h0m1 2h0m0.5-1h0m0.5 1h0m0.5-2h0m0 0h0m0 1.5h0m1 0h0m2-2.5h0m0 1.5h0m0 0h0m1.5 0h0m1 0h0m0.5-1h0m1.5-0.5h0m-23.5 22.5h0m2.5-0.5h0m1-1h0m0-1h0m0.5 2.5h0m-6.5 6h0m1.5 0h0m0-0.5h0m0.5 2h0m0.5 0h0m1-3.5h0m0.5-1h0m0 2h0m1-3h0m0.5-0.5h0m0 4h0m0.5 0.5h0m0-2h0m0 1h0m0.5 2h0m2.5 0h0m-9 2h0m0.5-1.5h0m1.5 2.5h0m0-1.5h0m1-0.5h0m0 2h0m0.5-1.5h0m0 1.5h0m0-2.5h0m1 2.5h0m0-2h0m1.5 0.5h0m0.5 3h0m0.5-1h0m2-3h0m0 5h0m2-1.5h0" stroke="#cbc9c9" stroke-width="1.4" stroke-linecap="round" fill="none"/>
<path d="M1154.5 338.5h0m-15.5 5.5h0m3 0h0m8-2h0m0.5 0.5h0m4.5 2h0m6.5 0h0m1 0h0m1-1.5h0m0.5-3.5h0m2 2h0m4-1.5h0m2.5 0.5h0m1.5-1h0m4.5 5.5h0m4-2h0m-44.5 8h0m6-1.5h0m5 0h0m1-4h0m2.5 0h0m3.5 1.5h0m2.5 3.5h0m2.5-5.5h0m0.5 5h0m0.5 0h0m1.5 0h0m1-4h0m-26 6.5h0m2.5 1.5h0m1 1h0m6.5 0.5h0m3.5 0h0m3.5-4.5h0m1.5 2h0m1.5-0.5h0m3.5 0.5h0m1.5 1.5h0m-37 8.5h0m11-1h0m3.5 0.5h0m4-0.5h0m0-2.5h0m1-1h0m1.5 3.5h0m4.5-0.5h0m1-3h0m1 2.5h0m2.5-2h0m5.5 1.5h0m-46 6.5h0m3.5-1.5h0m1 2h0m0-3h0m3-1h0m3 0.5h0m1 4h0m0 0h0m0.5-3.5h0m1-0.5h0m1 3.5h0m1.5-0.5h0m2.5-3.5h0m1 0h0m2 5h0m4-0.5h0m2-2h0m0.5 0h0m8-3h0m12 1.5h0m-40.5 8h0m1.5-0.5h0m2-1h0m1 3.5h0m4-3h0m2 1.5h0m2.5-3h0m1 0.5h0m1-0.5h0m7.5 4.5h0m2-3h0m3.5 3h0m3-1h0m2.5-2.5h0m1 1h0m1-0.5h0m1 0h0m0.5 0.5h0m6.5-1.5h0m5 0.5h0m0.5-2h0m-60.5 7h0m6.5-1h0m2.5 2h0m4.5-1h0m2.5 0.5h0m0 3h0m2-3.5h0m0.5 2h0m0.5-1h0m2 3h0m1-4h0m0-0.5h0m2.5 3h0m0.5-1.5h0m3.5-1.5h0m1.5 4h0m2.5-1.5h0m2 2.5h0m0.5-5h0m6-0.5h0m0.5 5.5h0m3-0.5h0m0.5-3h0m0 1.5h0m1-0.5h0m6 0h0m4-1h0m2.5-1h0m3.5 4h0m1-1h0m1.5-2.5h0m1 1h0m3.5 2.5h0m0.5-2h0m-69.5 8h0m0-4h0m1.5 0h0m2.5 0h0m3.5-0.5h0m0.5 3h0m1.5 0h0m4.5 2h0m0-3h0m4.5-2h0m0 2h0m5 1.5h0m1.5-3.5h0m3.5 5h0m2.5-1h0m2.5 1.5h0m6-0.5h0m3-1h0m2-4h0m5.5 3.5h0m2-2.5h0m4 2h0m1.5-0.5h0m7 0h0m7.5-2h0m2 2h0m-68.5 3.5h0m6 4h0m4-4.5h0m6 4h0m6 0h0m2.5-2.5h0m0.5 1h0m1-2h0m5.5 3h0m1.5 0.5h0m2 1.5h0m1.5-0.5h0m2.5-0.5h0m0.5-4.5h0m2.5 4.5h0m0-1.5h0m1.5 1.5h0m2 1h0m3-5.5h0m3.5 6h0m0.5-2.5h0m0-1h0m3-1.5h0m1.5 3h0m1-2h0m2 2.5h0m4.5-4.5h0m-58.5 8h0m0.5 2.5h0m0.5 1.5h0m1.5-0.5h0m3.5-3.5h0m8 3h0m2-5h0m0 5h0m2.5-2.5h0m3.5-2.5h0m0.5 5.5h0m1.5-1h0m2-3h0m0.5 2.5h0m0.5 1h0m5.5-4h0m0 1.5h0m0 2.5h0m0.5-3h0m0 3h0m1.5-2.5h0m10 2h0m0.5-2h0m0.5 1.5h0m0 2h0m2.5-4h0m6 3h0m0.5-3.5h0m1 3.5h0m-51.5 5h0m3.5 2h0m1.5-6h0m2 3h0m2.5 2h0m0-4.5h0m2.5 0h0m0 1.5h0m6 3h0m1 0h0m2-2h0m5.5-0.5h0m2-1h0m3 3.5h0m4-3h0m1.5 4h0m1-1h0m1-0.5h0m1.5-1h0m1 1.5h0m3-1.5h0m0.5 1.5h0m7-1.5h0m1.5-3h0m1.5 3h0m-53.5 7h0m1.5-4.5h0m4 2h0m0.5 2.5h0m1-0.5h0m2 0h0m1-3.5h0m0.5 1.5h0m2 1h0m1-2.5h0m0 2h0m1-1h0m0.5 1.5h0m2.5 2.5h0m5.5-1.5h0m0 0.5h0m0.5 1h0m1 0.5h0m11.5-1h0m3-0.5h0m0.5-4h0m7.5 2h0m6 1.5h0m4.5-2h0m2.5-0.5h0m-56.5 5.5h0m3-0.5h0m1-0.5h0m1.5 1h0m0.5-0.5h0m0.5 4.5h0m6.5-2h0m0.5-1h0m2.5 0h0m4.5 3.5h0m1-2h0m3.5-2.5h0m3.5 2.5h0m2 2h0m3-5.5h0m0.5 4h0m5-2h0m2 4h0m2-1.5h0m1.5-3.5h0m6-0.5h0m-28.5 5.5h0m0.5 0.5h0m0.5 2h0m3.5 1h0m14.5-3.5h0m6 2.5h0m4.5 0.5h0" stroke="#f2f2f2" stroke-width="1.3" stroke-linecap="round" fill="none"/>
<path d="M1185.5 374.5h0m3-1h0m0 0h0m-7 1.5h0" stroke="#c8c6c6" stroke-width="1.4" stroke-linecap="round" fill="none"/>
<path d="M1166.5 439.5h0m1 1h0m0 0h0m0.5-1h0m0-1h0m0 0h0m0-1h0m1 0h0m0 2h0m0 1.5h0m0-0.5h0m0-3h0m0 3h0m0-2h0m0 0h0m0 2h0m0.5-1h0m0 1h0m0-0.5h0m0.5-1h0m0-0.5h0m0-1h0m0 3.5h0m0-2.5h0m0.5 1.5h0m0-4.5h0m0.5 5h0m0-1h0m0 1h0m0.5 0.5h0m0.5-1.5h0m0-0.5h0m0.5 1h0m-8.5 7h0m1-2h0m0 0h0m0-0.5h0m0-0.5h0m0 2.5h0m0-3h0m0.5-1.5h0m0 4.5h0m0-3.5h0m0 4h0m0-2h0m0 0.5h0m0.5-3h0m0 3h0m0 1h0m0-0.5h0m0 0h0m0.5 0h0m0-2.5h0m0.5-0.5h0m0 3h0m0-2.5h0m0-1h0m0 0.5h0m0 3.5h0m0-4.5h0m0.5 3.5h0m0-0.5h0m0-3.5h0m0 4h0m0 1h0m0-5h0m0 1h0m0.5 3h0m0-1.5h0m0 3h0m0-1.5h0m0-2.5h0m0 4h0m0.5-4h0m0-2h0m0 3h0m0-2.5h0m0 1.5h0m0 3.5h0m0.5-0.5h0m0-4h0m0 2h0m0.5 0.5h0m0-1h0m0.5 0.5h0m0-0.5h0m0-2h0m0 1.5h0m0.5-1.5h0m0 1.5h0m0 3.5h0m0 0.5h0m0-3h0m0 2h0m0-1.5h0m0.5-1h0m0-2h0m0-0.5h0m0 1.5h0m0 4h0m0.5-3.5h0m0 0h0m0 3.5h0m0-3.5h0m0 4h0m0-1h0m0-0.5h0m0-2h0m0.5-0.5h0m0 0.5h0m0-2h0m0 4h0m0.5-3h0m0-1h0m0 4.5h0m0.5 0.5h0m0-5.5h0m0.5 5.5h0m0-3.5h0m0 0h0m0 1.5h0m0 0h0m0.5 0h0m0.5-2h0m0 3.5h0m0 0.5h0m0-1.5h0m0 1.5h0m0.5-2h0m0 2h0m0-0.5h0m0.5-0.5h0m-11.5 2h0m0.5-0.5h0m0 2.5h0m0-1h0m0 0h0m0.5-1.5h0m0 2.5h0m0-1h0m0 2h0m0-0.5h0m0.5-2.5h0m0 1h0m0 1.5h0m0.5-1h0m0-1h0m0.5 2.5h0m0-3.5h0m0 0.5h0m0 2h0m0 1.5h0m0.5-4h0m0 1h0m0 2h0m0.5 0h0m0 0h0m0 0.5h0m0-0.5h0m0.5-2h0m0-0.5h0m0 0h0m0.5 3h0m0-0.5h0m0-1.5h0m0.5 2h0m0-3h0m0.5 4.5h0m0-4.5h0m0 1h0m0.5 2h0m0 0.5h0m0-1.5h0m0 0h0m0.5-1h0m0-1h0m0 1.5h0m0.5-2h0m0 3h0m0.5-1.5h0m0 2h0m0-0.5h0m0.5-0.5h0m0 2.5h0m0-4.5h0m0.5 1.5h0m0-1h0m0-0.5h0m0 2.5h0m0-1h0m0.5-0.5h0m0-0.5h0m0.5-0.5h0m0.5 1h0m0 0h0m0 1h0m0-1h0m0 1h0m0.5-2h0m0 1.5h0m0 0h0m0.5-2h0m0 1h0m0-0.5h0" stroke="#e8784c" stroke-width="1.6" stroke-linecap="round" fill="none"/>
<path d="M1310.2 342.3L1320.2 338.9L1337.1 338.0L1350.9 339.7L1358.6 344.0L1359.4 351.8L1357.1 360.4L1349.4 367.3L1344.8 372.5L1350.9 377.7L1361.7 381.1L1364.7 384.6L1358.6 387.2L1350.9 388.9L1355.5 396.7L1363.2 407.0L1365.5 413.9L1361.7 420.0L1349.4 421.7L1330.9 421.7L1312.5 419.1L1303.3 413.9L1300.2 403.6L1295.6 396.7L1286.4 389.8L1281.8 381.1L1284.1 374.2L1297.1 370.8L1289.5 367.3L1287.9 363.0L1301.8 362.2L1312.5 358.7L1311.0 350.1Z" fill="#d9d7d7"/>
<path d="M1384.7 377.7L1393.9 372.5L1404.7 370.8L1413.9 375.1L1415.4 379.4L1406.2 383.7L1397.0 388.0L1387.8 384.6Z" fill="#d9d7d7"/>
<path d="M1343.2 437.2L1346.6 441.5L1349.7 447.6L1347.5 452.4L1339.4 452.8L1336.3 448.8L1339.4 442.4Z" fill="#d9d7d7"/>
<path d="M1338.6 348.4L1349.4 344.0L1357.1 346.6L1357.1 355.3L1350.9 363.9L1343.2 369.1L1337.1 362.2Z" fill="#f7f7f7"/>
<path d="M1322 339h0m1-0.5h0m0.5 0.5h0m8.5-0.5h0m0.5-0.5h0m1 0.5h0m2-2h0m0.5 1h0m0 1h0m0.5-1h0m1 0h0m2 1h0m1.5-0.5h0m4 1h0m-35.5 3.5h0m0 0h0m1-1h0m1.5 3.5h0m0-1.5h0m0.5 1h0m0.5-3h0m0 2.5h0m0.5-1h0m2-1h0m0.5-1.5h0m0-1h0m0.5 4h0m1-4.5h0m2 3.5h0m2-2.5h0m1 4h0m0.5-4.5h0m0.5 4.5h0m0-4h0m0.5 2h0m0 1h0m1.5-3.5h0m0.5 1.5h0m0 0.5h0m0.5 1.5h0m1-1.5h0m0-1.5h0m0.5 1h0m1.5 3.5h0m0-3.5h0m2.5 0.5h0m2-0.5h0m1.5 1.5h0m1 2.5h0m0-2h0m0.5-2.5h0m0.5-1.5h0m0.5 4.5h0m0.5-2h0m0.5-2.5h0m1 3.5h0m0-0.5h0m0.5 2.5h0m0 0h0m1-3h0m1 2h0m0.5-2.5h0m2 1.5h0m0-1h0m1.5 2.5h0m0.5-2.5h0m0 0.5h0m3-2h0m0 0.5h0m0.5 0h0m0.5 4h0m0-2.5h0m0.5-2h0m0 1h0m0.5-1.5h0m0.5 1.5h0m0 2h0m2-1.5h0m1.5 2h0m0-1h0m0 0h0m0.5 1.5h0m1.5 0h0m-48 4.5h0m0.5 2h0m0-2.5h0m0.5-1.5h0m0.5-0.5h0m0.5 1h0m1 1h0m0-3h0m0 6h0m2-4h0m0 3h0m0.5-0.5h0m1 0.5h0m0.5-3.5h0m0 1.5h0m0.5-3h0m1.5 4h0m0.5-1h0m0.5 0.5h0m0.5 0.5h0m2-0.5h0m2.5-0.5h0m0.5 1h0m1 0h0m0 0h0m0-1h0m0.5-1.5h0m1 4h0m1-3h0m1.5 0.5h0m0 2h0m1-3.5h0m2 4.5h0m1-3h0m2 3h0m0-4h0m1 1h0m0-0.5h0m1.5 2.5h0m1-3h0m0 0h0m1 0h0m5.5 1.5h0m4.5-0.5h0m4.5 0h0m1 0.5h0m0.5-3h0m1 3h0m0 2.5h0m0-2.5h0m0.5 0.5h0m1.5-2.5h0m0.5 1h0m-49.5 5.5h0m0.5-2h0m1 2.5h0m1-0.5h0m1 0.5h0m0 3h0m1.5-2h0m0-3.5h0m2.5 2h0m1-0.5h0m1.5 1.5h0m1 3h0m0-3h0m1.5 1h0m1.5 0.5h0m0-2.5h0m1.5-2h0m0.5 1.5h0m0.5 1.5h0m1-2h0m0.5 4h0m1-4h0m0.5 3.5h0m0 0.5h0m0.5-0.5h0m3-4.5h0m0.5 5h0m0.5-4h0m0-1h0m1 2.5h0m0.5 3h0m0.5-1.5h0m0-1.5h0m0.5-1h0m0.5 1h0m0 2h0m4.5-0.5h0m1 0.5h0m0-4.5h0m0.5 0.5h0m4.5 5.5h0m2-4.5h0m1 1.5h0m1.5-2h0m4 4.5h0m0.5-2.5h0m0.5 2h0m1-4.5h0m1.5 1h0m-68.5 9.5h0m3-0.5h0m1-1h0m3.5 2h0m1 0h0m1.5-0.5h0m2-2.5h0m0.5 1h0m1-2h0m0 3h0m3.5-0.5h0m0-2.5h0m1 4.5h0m0-3h0m0.5 1h0m2-1.5h0m0-2h0m2 1h0m1.5 3.5h0m0.5 1h0m0.5-4.5h0m0 3h0m2 1h0m0.5-1.5h0m0.5-2h0m1 3.5h0m1-3h0m0 1.5h0m0.5 2h0m0-4h0m0.5 4h0m0.5-1h0m1.5-2.5h0m0 2h0m2-1.5h0m0 1h0m3-1.5h0m2-2h0m1.5 4h0m1-4h0m0 3h0m0.5-2.5h0m3 2.5h0m3 0h0m5 0.5h0m3-2.5h0m3.5 3h0m2 1.5h0m0-3h0m0.5 2h0m0.5-2.5h0m0 2h0m1.5-4h0m0.5 1.5h0m0 0.5h0m-69 9h0m0-4h0m2 2.5h0m0.5 0h0m0-1h0m0-2h0m1 0.5h0m0.5-1.5h0m0 3h0m2 1.5h0m0.5-4h0m1 2.5h0m0.5-2h0m0 3h0m3-1.5h0m0-1h0m2.5 2h0m1.5-0.5h0m1 1.5h0m0.5-3.5h0m0 2h0m0.5 1.5h0m0.5 1.5h0m1-3h0m1-2h0m0 4h0m0.5-2h0m1.5-1.5h0m1 2.5h0m0-2.5h0m1 0.5h0m0 0.5h0m0.5 3h0m0-5h0m0.5 1h0m1.5 4h0m1-2h0m0.5-1h0m1.5 1.5h0m0.5 0.5h0m0-1.5h0m0.5 2h0m0.5-1h0m0.5-0.5h0m2 1h0m0.5 0.5h0m0.5-3.5h0m1-1.5h0m0.5 0.5h0m0.5 0h0m1.5 3h0m0 1h0m1.5-2.5h0m0-1h0m0-0.5h0m0.5 0.5h0m2 0h0m1-0.5h0m2.5 2h0m0.5 0.5h0m0.5 0.5h0m0.5-1.5h0m1.5-0.5h0m0 0.5h0m0 2h0m0.5 1h0m3-0.5h0m0.5-1.5h0m0.5 0h0m2.5 2.5h0m0-2.5h0m5 2.5h0m0.5-2h0m0.5-2h0m0-1.5h0m0.5 5.5h0m1-2.5h0m0-0.5h0m1-2h0m0.5 3.5h0m2-3h0m-70.5 10.5h0m0-1h0m1 0.5h0m1-1h0m1-0.5h0m1 1.5h0m0.5-1h0m0-0.5h0m0.5 1h0m3 1h0m0.5-4h0m0 2.5h0m0.5-3.5h0m0 3.5h0m0-0.5h0m0-1.5h0m1 2.5h0m0.5 0.5h0m1-2h0m0.5-0.5h0m0.5 0h0m1-2h0m0.5 1.5h0m0 1h0m1.5 2.5h0m1-0.5h0m0.5 1h0m0-0.5h0m1 0.5h0m0.5-2.5h0m0.5 1.5h0m1 0h0m0-3h0m0.5 2.5h0m0-0.5h0m2.5-4h0m0.5 2.5h0m1-2h0m0 0h0m0.5 2h0m0 0h0m2 2.5h0m0 0h0m0 1h0m0.5-0.5h0m1-2.5h0m1-1.5h0m1 1.5h0m0.5 0.5h0m0.5 2.5h0m1.5-3.5h0m0.5-2h0m3 4.5h0m0-1.5h0m0.5-1h0m1 1h0m2-2h0m3 4h0m0-5h0m0 5.5h0m2.5-5h0m1-0.5h0m0 3h0m1-3.5h0m0 5.5h0m0-2h0m1.5 0h0m0 1.5h0m0.5-0.5h0m0.5 0.5h0m0.5-3h0m0.5 1.5h0m0.5-1h0m0.5 1.5h0m0.5-2.5h0m1 4.5h0m0-3h0m0.5 3h0m0.5-0.5h0m0.5-2h0m1.5-3.5h0m0 1.5h0m0 3.5h0m1-1.5h0m0.5 0.5h0m0.5 0.5h0m0.5-3.5h0m0 0.5h0m1 0.5h0m1 2h0m0 2h0m0.5-3.5h0m0-0.5h0m1 3h0m2-4h0m41 3.5h0m1-1h0m1 1.5h0m0.5 0.5h0m0-1h0m0 0.5h0m3.5-2h0m1-0.5h0m0 2h0m1.5-0.5h0m0-1.5h0m0.5-0.5h0m2-1h0m0.5 3.5h0m2 1.5h0m1-4h0m0 2h0m0.5 1h0m0-1.5h0m1-1h0m0 0h0m0.5 0h0m0 1h0m0.5-0.5h0m0 0.5h0m0.5-2.5h0m2.5 4h0m1 0.5h0m2.5-1.5h0m-130 4h0m0-1h0m0 4h0m0.5-2.5h0m0.5-1h0m0 2.5h0m0-1h0m1 2h0m1-2h0m3 2.5h0m0-5.5h0m0 3.5h0m2.5 1.5h0m0-4.5h0m0 0h0m0.5 1.5h0m0.5 2h0m2.5 0.5h0m0-2h0m1.5 0h0m0.5-1.5h0m1.5 5h0m4-4.5h0m0 2.5h0m0.5-1h0m1.5-1.5h0m0.5 1h0m1-2h0m0.5 3.5h0m0-2h0m0.5 1h0m0.5 2.5h0m0 0h0m0-3.5h0m1.5-0.5h0m1 2h0m0.5 1.5h0m2-1h0m0.5-3h0m0.5 1.5h0m1.5 2h0m0-4h0m0.5 4h0m0 1.5h0m2.5-5.5h0m0 4h0m0-1.5h0m0.5 0h0m1-0.5h0m0.5-0.5h0m0.5-0.5h0m1 0h0m0.5 3h0m1.5 0h0m1.5-3.5h0m0 4h0m0.5-2.5h0m1.5-2.5h0m0 4h0m1-3h0m0.5 1h0m0 1h0m2-2.5h0m0.5 4h0m0 0h0m1-1.5h0m0.5-2.5h0m0 5h0m0.5-1.5h0m0 1.5h0m1-0.5h0m0.5-3.5h0m0-1h0m0.5 1h0m0.5 2h0m0.5 0.5h0m1-3.5h0m1 1.5h0m0.5 0.5h0m1.5 2h0m0-4.5h0m1 5.5h0m0-5.5h0m2 3h0m1.5 0.5h0m0.5-1.5h0m2 0.5h0m0.5 2.5h0m1-3h0m0.5-0.5h0m1-0.5h0m1 1.5h0m0.5 1.5h0m0.5 0h0m0.5 0h0m2-1h0m2.5 2h0m0 0.5h0m3.5-0.5h0m24.5-1h0m1 1.5h0m0.5-3.5h0m0 3.5h0m0-3h0m0.5 2.5h0m0 0.5h0m1.5-3.5h0m1 3h0m0-3h0m1 2.5h0m0-3.5h0m0.5 2.5h0m0.5 2.5h0m1-6h0m1.5 0h0m0 6h0m0-4.5h0m0.5 3h0m0-4h0m0.5 2h0m1-1.5h0m0.5 1h0m0.5-1.5h0m0 2h0m0.5-0.5h0m0.5 3h0m1.5-1h0m0.5 0.5h0m0-4.5h0m0.5 3.5h0m1.5-1h0m0.5-1h0m0.5 2.5h0m1-3h0m0.5 2h0m1.5-2.5h0m0 1h0m1 0h0m0 0h0m1 1h0m1 1h0m0.5 2h0m0-1h0m0 0h0m0.5 0.5h0m0 0.5h0m0.5-1.5h0m0.5-1h0m1 2h0m0.5-1h0m0 1h0m0.5-1h0m0.5 1.5h0m0-1h0m0.5-1h0m1-2h0m0 2h0m0 1.5h0m1.5-2h0m-134 4.5h0m0-1.5h0m0 3.5h0m1-2.5h0m0.5 0.5h0m0.5 2h0m0.5 0h0m0 1.5h0m0.5 1h0m0-0.5h0m0.5-5.5h0m0.5 5.5h0m0-5.5h0m1.5 3.5h0m0-3h0m1.5 5h0m1 0h0m0.5-5h0m0.5 4h0m0.5-3h0m0-1h0m0.5 0h0m0.5 4.5h0m0-1h0m0.5 1h0m0.5-1h0m0.5-1h0m0.5-0.5h0m0-2h0m0 5h0m0.5-1h0m0-4h0m2 3h0m1-3h0m0 2h0m0.5-2h0m0 3h0m0-0.5h0m0-1h0m0.5 3.5h0m0.5-2h0m1 2h0m0.5-2h0m1-1.5h0m0.5 1.5h0m0-1.5h0m0.5 2h0m1.5 0h0m1 1h0m0.5-1h0m0-1.5h0m0.5-1.5h0m1.5-1h0m1 3.5h0m1 0h0m0.5-2h0m0.5-0.5h0m0 4h0m0 0h0m0.5 0.5h0m0-3.5h0m1.5 3h0m0-4h0m0 4.5h0m0-5.5h0m0.5 5.5h0m0.5-4.5h0m1.5 0h0m0 3.5h0m0.5 0.5h0m1-3.5h0m1 0h0m0 4.5h0m0.5-1.5h0m0-2.5h0m0 3h0m0.5-3.5h0m1.5 2h0m0.5-1.5h0m1.5 3h0m1-3.5h0m1 4h0m0.5-3.5h0m0.5 3.5h0m0.5-0.5h0m0-1.5h0m0.5 2h0m0-3.5h0m0.5-1h0m4 1h0m0-2h0m0.5 0h0m1.5 4.5h0m0.5 0.5h0m0-1.5h0m0.5 2h0m2.5-3.5h0m2 1h0m0-1h0m0.5-0.5h0m0.5 4.5h0m1-4.5h0m1.5 0h0m1 0h0m0.5 0h0m0.5 0h0m0 2h0m0.5 2h0m2.5-2.5h0m0 1h0m2-3h0m1.5 3.5h0m0.5 0h0m0.5-0.5h0m0 0.5h0m1.5-2h0m1 3h0m0.5-1.5h0m2 1.5h0m0.5-2.5h0m0.5 2.5h0m0-1.5h0m0.5-3.5h0m0 2.5h0m0 0h0m0.5-2h0m0.5 4h0m0-3.5h0m0 4h0m0.5-4.5h0m0-1h0m0.5 1h0m0.5 3.5h0m0-1h0m1 0h0m0.5 1h0m1 1.5h0m0.5-3.5h0m1 2h0m1-1h0m19.5-2h0m1 3h0m0.5-3.5h0m0 3h0m1-2.5h0m2-1.5h0m0 2h0m1-1.5h0m1.5 2.5h0m0.5 1h0m0.5-3.5h0m0.5 2h0m0.5 3h0m0 0.5h0m1-5.5h0m0.5 4h0m0.5 1h0m0-0.5h0m0 0.5h0m0.5-4.5h0m0 4.5h0m0.5-4h0m1 4h0m0 0h0m0-3.5h0m0.5 0.5h0m0.5 2h0m1-0.5h0m0 0h0m2-2h0m0 0.5h0m1-0.5h0m0.5 1h0m0.5-1h0m0.5 1h0m0.5-1h0m0 0h0m0.5 1h0m0.5-1.5h0m0 1.5h0m0 0.5h0m0-3h0m2.5 0h0m0.5 2h0m0-2h0m0.5 1h0m2-1.5h0m0 1h0m-126 10h0m0.5-0.5h0m0-3h0m0.5 0.5h0m0.5-0.5h0m0.5-1h0m1 3h0m0.5 1.5h0m1-2.5h0m1.5 2h0m0 1h0m0-3.5h0m0-1h0m0.5 1h0m0 1.5h0m0.5-3h0m1 2.5h0m0.5 1.5h0m1.5-3h0m0.5 2.5h0m0.5 1.5h0m0.5-2.5h0m0 1h0m0 1.5h0m1-1h0m0.5 1h0m0 0.5h0m1.5-5.5h0m0.5 3h0m0.5 0.5h0m0.5-2.5h0m0 2.5h0m2-3.5h0m1 0h0m0 3h0m1-1h0m0.5 0h0m0-2h0m0.5 4.5h0m0-4h0m1.5-1h0m1.5 1.5h0m0.5 0.5h0m0.5 1.5h0m0.5-1.5h0m0 2h0m0.5-1h0m1-1h0m1 1h0m0 2h0m0.5-4h0m0-0.5h0m0.5 0h0m1.5 1h0m0-0.5h0m0.5 1h0m0.5 3h0m1.5 0h0m0 0h0m0-3h0m0 0.5h0m0.5-2h0m0 0.5h0m0 3.5h0m0.5-3h0m0 3h0m0.5 1h0m0-4.5h0m0 0.5h0m0-1h0m0 4h0m1 0h0m2-1h0m0 0.5h0m0-3.5h0m0.5 3.5h0m0-0.5h0m0-1.5h0m0.5 1.5h0m0.5-3.5h0m0.5 5.5h0m0-4.5h0m0.5 4h0m0-3h0m1-1.5h0m0.5 4.5h0m0.5-2h0m0-0.5h0m1.5 3.5h0m0-4h0m0.5-1.5h0m0.5 0h0m0 0.5h0m1.5 1h0m1-1.5h0m0 3h0m0.5 2.5h0m0 0h0m1-3.5h0m0.5-1h0m1 4h0m0-0.5h0m0-1.5h0m1 0.5h0m2-4h0m0.5 6h0m0-2.5h0m2-1h0m0 2.5h0m0.5-2.5h0m0.5 1h0m0-0.5h0m0 3h0m0.5-3h0m0-1.5h0m0 0h0m2 0.5h0m1-1.5h0m0.5 5h0m1.5-4.5h0m1.5 1.5h0m0.5-0.5h0m0 3h0m1-2.5h0m0 2h0m0-2.5h0m0.5 0.5h0m1 2h0m0 0h0m2-3h0m0.5 0h0m1-1.5h0m1.5 0h0m39.5 1h0m0.5 0h0m1-0.5h0m1-0.5h0m-109.5 6h0m1.5 1.5h0m4 1h0m0 1h0m0.5-1h0m1.5-1h0m0 4.5h0m0.5-1h0m0-1h0m0.5 1.5h0m0.5-0.5h0m1-2.5h0m2.5-1.5h0m0.5 4h0m0.5 1h0m1.5-2h0m1-3.5h0m1.5 4.5h0m0-2.5h0m0-1.5h0m2 2h0m0-2h0m1 0.5h0m0.5 0.5h0m0.5-1h0m2 5h0m0.5-2.5h0m0.5 0.5h0m0.5-2.5h0m2-0.5h0m1 4h0m2 1h0m0.5-5.5h0m0 0.5h0m0.5 3h0m0.5-1h0m1.5-0.5h0m0-1h0m0-0.5h0m1.5-0.5h0m1 3.5h0m0-2h0m1.5 3.5h0m0.5-3.5h0m2 4h0m0.5-4.5h0m0 1.5h0m0.5-0.5h0m0.5-1h0m0.5 0h0m1.5 1h0m0.5 1.5h0m0.5-3.5h0m0.5 2h0m1.5-0.5h0m0 2.5h0m0.5 1h0m0-3h0m0-1.5h0m0.5-1h0m1 1h0m1.5 4h0m1 0.5h0m0-4.5h0m0.5 2h0m2.5 1.5h0m1 1.5h0m0-0.5h0m1.5-4.5h0m0.5 2h0m0.5-2h0m0.5 2h0m0-1.5h0m0-1.5h0m0 0h0m0.5 5.5h0m0-0.5h0m0-2.5h0m0.5-2.5h0m0 3h0m0.5-2.5h0m0 2.5h0m0.5-0.5h0m1 3h0m0-4h0m0 0.5h0m0.5 2h0m1.5-3h0m0.5 2h0m1-1.5h0m0 3.5h0m0.5-4h0m1.5 3.5h0m0-1h0m0 1h0m0.5-0.5h0m1 1.5h0m0-2h0m-60 3h0m1.5 3h0m0.5-2.5h0m0 3h0m1 0.5h0m0-3h0m1-0.5h0m0 4.5h0m0-2h0m1 0h0m0 1.5h0m0.5-1.5h0m1.5 0h0m1.5-1h0m3.5 1h0m2-1.5h0m0 4h0m2-2h0m2-2.5h0m0 4.5h0m0.5-4h0m0.5-1h0m0 3.5h0m1.5 1h0m0.5 0h0m1 0h0m1.5-3h0m0 0h0m0 0h0m1 2.5h0m1 1h0m2.5-1.5h0m0-3h0m0 1.5h0m0 3h0m0.5-5.5h0m0 5h0m0.5-2.5h0m0-1.5h0m0 4h0m0-0.5h0m0.5-2h0m2 2.5h0m1-2h0m1.5-0.5h0m0.5 2h0m0-1h0m0 2h0m0.5-3.5h0m0.5 3.5h0m1.5-4h0m0.5 1h0m0-2h0m1.5 0h0m0.5 0.5h0m1-1h0m0 0h0m0 0.5h0m0 0h0m0.5-0.5h0m0 5h0m0.5-5h0m3 0.5h0m2 2.5h0m0.5-1.5h0m0 2h0m0.5 0.5h0m0-3.5h0m0.5-0.5h0m0.5 3h0m0.5-3h0m0.5 2h0m0.5 0h0m1.5 3h0m0-5h0m0 2.5h0m1-0.5h0m1-2h0m0.5 1h0m0 2h0m2-1h0m0-2h0m0.5 4.5h0m0.5-5h0m2.5 5.5h0m0-1.5h0m1-3h0m0.5 2h0m0.5 1.5h0m2.5 1h0m2 0.5h0m-63.5 1.5h0m1 0.5h0m1-1.5h0m0.5 2h0m1 1h0m0.5 1h0m0 0.5h0m1-4.5h0m0.5 4h0m0-0.5h0m1.5-1h0m1-0.5h0m0 2.5h0m1.5 0h0m2-0.5h0m0-4h0m0.5 5.5h0m0-0.5h0m0-0.5h0m2-4h0m1.5-0.5h0m0.5 1h0m1-1.5h0m1.5 4.5h0m0-2.5h0m0 2h0m0.5-1h0m0-1h0m1.5-1h0m0 3.5h0m0-2h0m0.5 1.5h0m1-1h0m1.5-2.5h0m2.5 3.5h0m0.5-2.5h0m1 0.5h0m0.5-1.5h0m0.5 1h0m0.5 0h0m0 2h0m1 1h0m1.5-3h0m0.5 0.5h0m1.5 2h0m0.5 0.5h0m1.5-1h0m3.5-2h0m0.5 2.5h0m0-2.5h0m0.5 0.5h0m0.5 1h0m2.5-1.5h0m0 1.5h0m0.5-1h0m0.5-1.5h0m0.5 5.5h0m1-2.5h0m0-2.5h0m0 2.5h0m2.5 1.5h0m0-1h0m0 0h0m0-0.5h0m0.5-1h0m0-1.5h0m0.5 1h0m0.5 2h0m0.5-0.5h0m1.5-3h0m0.5 3.5h0m0 0h0m0.5-3h0m0 1h0m0 3h0m0.5-0.5h0m0.5-3.5h0m0.5 1.5h0m2.5-2h0m3 0.5h0m0 4.5h0m0-1h0m0.5-1.5h0m0-1.5h0m2-0.5h0m1.5 3h0m0.5-1.5h0m1.5 3h0m-62.5 1h0m0 1h0m0.5-0.5h0m0.5-0.5h0m2.5 0h0m0.5 4h0m0-4h0m0 4h0m0.5-1h0m0.5 1h0m0.5-3h0m0 0.5h0m0.5 2h0m0.5 0.5h0m0 0h0m0.5-1h0m0 0h0m0.5-2h0m0.5 2.5h0m0-0.5h0m1 0h0m0.5-1h0m0-2h0m0 2h0m0.5 2.5h0m0 0h0m0.5 0h0m1-3h0m1 0.5h0m0-2.5h0m0 2.5h0m0-2.5h0m1.5 3.5h0m0.5-2h0m0 3.5h0m0.5 0h0m1.5 0.5h0m0-5.5h0m0.5 2h0m0.5-1h0m0 2h0m1.5-1h0m0-1h0m0 2h0m1-2.5h0m0.5 2.5h0m0-2h0m0 0.5h0m2 0.5h0m1-0.5h0m0.5 4h0m0.5-4h0m0 0h0m0 2.5h0m0-2h0m0.5-2h0m2 1.5h0m0 3.5h0m1.5-0.5h0m0-3.5h0m0.5 0h0m1 0h0m0.5 3h0m0.5-4h0m0.5 2.5h0m0.5-2h0m1.5 3h0m0.5 0.5h0m1 2h0m0-1.5h0m0.5-4h0m0 1h0m1.5 3.5h0m0.5-3h0m2-1.5h0m1.5 4h0m0 1.5h0m1.5-2.5h0m0.5 0h0m0.5-2.5h0m0 1.5h0m2.5-2h0m1.5 0.5h0m0 4.5h0m0.5-5h0m0-0.5h0m0.5 0h0m1 1.5h0m0-1.5h0m2 2h0m1 0.5h0m0-2h0m1 1h0m2 3h0m0 1h0m0.5-2h0m0-3.5h0m1.5 1h0m1.5 3h0m2-3.5h0m0.5 1.5h0m0 1h0m0.5-2.5h0m0 3.5h0m1 1h0m1-1.5h0m-59 3h0m0 2.5h0m0-3h0m4 3h0m1 0h0m0.5-2.5h0m1.5 2h0m0.5-2h0m0 1h0m0 0h0m0 0.5h0m2.5-1.5h0m0 2.5h0m0.5-1h0m0-0.5h0m1 1h0m0-2.5h0m0.5 3.5h0m1-1.5h0m1-1.5h0m2.5 4.5h0m0.5-3h0m0.5-2h0m0.5 3h0m0.5-2.5h0m0.5 1h0m1 1.5h0m0.5-2.5h0m0-0.5h0m0.5 4.5h0m0.5-1h0m1 2h0m0-2h0m1.5-2.5h0m3.5 3.5h0m1-1.5h0m0-1h0m0.5 3h0m0-4.5h0m1.5 3.5h0m1-1h0m2 0h0m0-0.5h0m0-1.5h0m1.5 4h0m0.5-1h0m0-2h0m1.5-2h0m0 3h0m0.5 1.5h0m1-2.5h0m0.5-2h0m0 1.5h0m0.5 3h0m0 0h0m0.5 0.5h0m0.5-4h0m0 2.5h0m0.5-2h0m1 0h0m0-1.5h0m0 3.5h0m1-2.5h0m0 1h0m0.5 2.5h0m0.5-2h0m1 2h0m2-1h0m1.5 0h0m0.5 0.5h0m0 0h0m0-1h0m0 1.5h0m0.5-3.5h0m0 0.5h0m1-1h0m3 3h0m0-3h0m0.5 1h0m0 1h0m0.5-1.5h0m-36 5h0m17.5 0h0m4.5 0.5h0m1.5-0.5h0m-8 17.5h0m0 0.5h0m1.5-0.5h0m0 0.5h0m-6.5 5h0m3 1h0m1.5-4h0m0.5-0.5h0m1-0.5h0m1 0h0m0 2.5h0m0.5-2.5h0m0 2h0m0.5 2.5h0m0.5-2h0m0 2.5h0m0.5-2h0m0.5 1h0m0 0h0m2 0.5h0m0.5 0h0m-11 1h0m2 3h0m1-2.5h0m0.5 4.5h0m0.5-4h0m0.5 1h0m0.5-2h0m0.5 1.5h0m0.5 0.5h0m0-0.5h0m0-1h0m0.5 1h0m1 1h0m0.5-2.5h0m0.5 0h0m1 2h0m0.5-2h0" stroke="#cbc9c9" stroke-width="1.4" stroke-linecap="round" fill="none"/>
<path d="M1312 342h0m2-1h0m6-0.5h0m0.5 4h0m0.5-4h0m2.5 0h0m2.5 2.5h0m1.5 0.5h0m2.5 0h0m1-2.5h0m1-0.5h0m6 3.5h0m3.5 0h0m1-4h0m1.5 0.5h0m2-0.5h0m5 0h0m0 4h0m2.5 0.5h0m0.5-2h0m-34 7.5h0m1.5-4.5h0m1 3h0m4 2h0m0.5 0.5h0m1-0.5h0m5.5-1.5h0m2.5-2.5h0m1-1.5h0m2 0.5h0m4.5-0.5h0m13.5 2.5h0m1-1h0m-44.5 10h0m5-4.5h0m2.5 1.5h0m3.5 2h0m10.5-2.5h0m1 0.5h0m22.5 0.5h0m-54 8.5h0m6-3.5h0m3 1h0m1.5-1.5h0m3 0.5h0m4.5-2h0m3 2.5h0m1.5 1.5h0m0 0.5h0m5-1.5h0m4-1.5h0m-46.5 5h0m4 3.5h0m3-0.5h0m0.5-2.5h0m4 1.5h0m0.5 2h0m6-2.5h0m2-0.5h0m0.5 0.5h0m2-1h0m5.5 4.5h0m5-2.5h0m0 1.5h0m9.5-4h0m2 3.5h0m1 0.5h0m2.5-1.5h0m11.5 2h0m1.5-3h0m-54.5 5h0m2 4.5h0m4-1h0m0.5-1.5h0m0.5-0.5h0m1.5 0h0m0.5 2.5h0m1-2h0m2-2h0m1.5-1h0m13 0.5h0m0 4h0m2-2h0m0.5-0.5h0m0 3.5h0m0.5-5.5h0m0 5h0m3.5-3h0m0.5 0h0m-46.5 7h0m2.5 1h0m0-0.5h0m0.5-0.5h0m1.5-3h0m3.5 5h0m3.5-4h0m1.5 3.5h0m2.5 0h0m0-2h0m6.5 2h0m1-1.5h0m1.5 1h0m1-3.5h0m2.5 2.5h0m3 0.5h0m0.5-0.5h0m6 1.5h0m1 0h0m6 0.5h0m1.5-4.5h0m2 4.5h0m1-4.5h0m2.5 1h0m1.5 3h0m0.5 1h0m5 0h0m0 0h0m5.5-1.5h0m4.5 0h0m0-1h0m4 1.5h0m3 0.5h0m-71 5.5h0m0.5-4h0m1.5 3.5h0m6-0.5h0m1 2h0m3.5-2h0m2.5-0.5h0m4.5 2.5h0m1-5h0m2 4h0m3-0.5h0m7-2.5h0m0 2h0m1-1h0m1.5-2.5h0m4 2.5h0m1 3h0m0.5-2.5h0m2-1h0m1.5 1.5h0m1-1.5h0m0-1h0m1.5 5h0m2-5.5h0m3.5 3h0m4.5 2.5h0m2-3h0m0.5 1h0m2.5 1.5h0m0-1h0m0.5-2.5h0m1.5-0.5h0m1 0h0m0.5 0h0m-58.5 6h0m2 2.5h0m6.5 0h0m10-2.5h0m3.5-1h0m1 1h0m0.5 1.5h0m6.5 0h0m0-0.5h0m1.5 0h0m6.5 2h0m1.5-0.5h0m1 0h0m0.5-3h0m1 0h0m0.5 3.5h0m5.5-4.5h0m0.5 2.5h0m1-0.5h0m0-1.5h0m0.5 2.5h0m0 2h0m2.5-3.5h0m1.5 1.5h0m4.5-2h0m-61 5.5h0m4.5 2h0m0.5-1h0m1 2.5h0m2.5-4h0m2 6h0m0 0h0m1-2h0m2.5 1h0m0 0h0m8-1.5h0m2 2h0m2.5-5.5h0m0.5 1.5h0m1.5 4h0m2.5-5h0m1 0h0m0.5 5h0m9.5-3.5h0m1.5-1h0m0-0.5h0m2 5.5h0m0.5-1.5h0m4.5-2h0m0-0.5h0m2.5-0.5h0m0 3h0m1 0h0m2-4h0m5 3h0m-46.5 2.5h0m8 1h0m2 2h0m0 2h0m6.5-0.5h0m1 1h0m2-3.5h0m0.5 2.5h0m5 1.5h0m7-5h0m1.5 2h0m2.5-1.5h0m4.5-0.5h0m2 2.5h0m0 0h0m1-3h0m3-0.5h0m2.5 2.5h0m3.5 3.5h0m1.5-3.5h0m-56.5 9h0m0.5-2.5h0m1 0.5h0m0-3.5h0m3 5.5h0m5.5-4.5h0m7 3h0m3-1h0m9.5 3h0m0.5-6h0m2.5 2h0m5 0h0m2-2h0m2 0h0m5.5 4.5h0m0.5-0.5h0m1.5-0.5h0m0 1h0m2.5-1.5h0m3.5 1.5h0m-51.5 5.5h0m4.5-2h0m3.5 1h0m4-2.5h0m0.5 1.5h0m0-1.5h0m2 4.5h0m0.5 0.5h0m3 0h0m6.5-2h0m2 1h0m4-1.5h0m0.5-2h0m0 2.5h0m1.5-1.5h0m3 1h0m5 2h0m4.5-5h0m0 5.5h0m1.5-5.5h0m7.5 2.5h0m0 1.5h0m1.5-3h0m1.5 0h0m-51.5 5h0m8.5 0h0m6 0.5h0m6 2h0m5-1h0m0.5 3h0m1.5-1h0m10-2h0m0 3h0m2.5-1.5h0m2-1h0m7.5-2h0" stroke="#f2f2f2" stroke-width="1.3" stroke-linecap="round" fill="none"/>
<path d="M1353 373h0m3.5 2h0m1-2.5h0m0.5 2.5h0" stroke="#c8c6c6" stroke-width="1.4" stroke-linecap="round" fill="none"/>
<path d="M1347 378.5h0m0 1h0m0-1h0m0.5 1.5h0m0.5 0.5h0m0 0.5h0m0.5-1h0m0 0.5h0m0.5-0.5h0m0 1h0m2 0h0m0-0.5h0m0.5-0.5h0m5 0.5h0m-10 1h0m0-0.5h0m0 2h0m0-2h0m0.5 1h0m0 2h0m0.5 0h0m0 0.5h0m0-2.5h0m0 1.5h0m0 0.5h0m0.5-2h0m0 1.5h0m0 2h0m0-1.5h0m0-3h0m0.5 1.5h0m0 2h0m0-3h0m0 3.5h0m0.5-0.5h0m0-1.5h0m0 4h0m0.5-5h0m0 4.5h0m0-4h0m0 4h0m0-4.5h0m0 3h0m0.5-1h0m0-3h0m0 4.5h0m0.5 0h0m0-4h0m0.5 0.5h0m0 4h0m0-4h0m0 0.5h0m0 3.5h0m0-1h0m0-4h0m0 5.5h0m0.5-3.5h0m0-0.5h0m0-1h0m0 1h0m0.5 1.5h0m0 1.5h0m0-3h0m0 2h0m0.5-3h0m0 0.5h0m0 3.5h0m0-3.5h0m0.5 0.5h0m0 3h0m0.5-2.5h0m0 0h0m0.5 3h0m0 0.5h0m0-3.5h0m0.5 2.5h0m0-4h0m0 3h0m0.5-3.5h0m0.5 2h0m0-1.5h0m0 4h0m0-1.5h0m0 2.5h0m0-4h0m0 3h0m0.5 1h0m0-0.5h0m0.5-3h0m0 2.5h0m0 1h0m0.5-4.5h0m0 1.5h0m0-2h0m0 2.5h0m0 0h0m0-0.5h0m1 0.5h0m0 0.5h0m0 0h0m0.5 2.5h0m0-0.5h0m0-4.5h0m0.5 4.5h0m0-1.5h0m0 0h0m0.5-2h0m0 1.5h0m0.5-3h0m0 1h0m0.5 4h0m0 0h0m0-2h0m0-3.5h0m0.5 4.5h0m0-1h0m0 1.5h0m0 0.5h0m0-1h0m0.5 0h0m0-1.5h0m0 1h0m0 0.5h0m0-2h0m0 0h0m0-2.5h0m1 1.5h0m0.5-1h0m0 1.5h0m0 0.5h0m0 0h0m0.5-0.5h0m0-0.5h0m1-0.5h0m0 0.5h0m-14.5 5h0m0-0.5h0m0 0.5h0m2 1h0m0-1.5h0m0.5 0.5h0m0 2h0m0-0.5h0m0-0.5h0m0.5-1.5h0m1 0.5h0m0.5 1h0m0.5-0.5h0m0.5 0.5h0m0.5-1h0m0.5 1.5h0m0.5-1.5h0m0 0h0m0 0.5h0m0.5 0.5h0m0-1h0m0 0.5h0m0.5-1h0m1.5 0h0m2 0.5h0m0.5 0h0" stroke="#e8784c" stroke-width="1.6" stroke-linecap="round" fill="none"/>
<text x="1434.0" y="41.7" font-size="25.58" font-weight="normal" fill="#000" textLength="26.3" lengthAdjust="spacingAndGlyphs" stroke="#000" stroke-width="1.1">C.</text>
<text x="1502.7" y="58.9" font-size="26.45" font-weight="bold" fill="#000" textLength="280.3" lengthAdjust="spacingAndGlyphs">Proportion of cells (%)</text>
<text x="1837.9" y="58.9" font-size="26.45" font-weight="bold" fill="#000" textLength="196.4" lengthAdjust="spacingAndGlyphs">Number of cells</text>
<text x="1492.8" y="122.0" font-size="28.05" font-weight="bold" fill="#000" textLength="138.5" lengthAdjust="spacingAndGlyphs">Cancer cell</text>
<rect x="1640.0" y="90.3" width="61.7" height="39.6" fill="#4b777b"/>
<rect x="1701.7" y="90.3" width="94.3" height="39.6" fill="#d8432f"/>
<path d="M1640.5 90.8H1796M1640.5 90.8V129.4H1796M1701.7 90.3V129.9" stroke="#2a2a2a" stroke-width="1.2" fill="none"/>
<rect x="1825.2" y="90.8" width="130.6" height="38.6" fill="#a9a4a7" stroke="#333" stroke-width="1.1"/>
<text x="1440.0" y="182.0" font-size="28.05" font-weight="bold" fill="#000" textLength="191.3" lengthAdjust="spacingAndGlyphs">Endothelial cell</text>
<rect x="1640.0" y="152.0" width="77.4" height="39.6" fill="#4b777b"/>
<rect x="1717.4" y="152.0" width="78.6" height="39.6" fill="#d8432f"/>
<path d="M1640.5 152.5H1796M1640.5 152.5V191.1H1796M1717.4 152.0V191.6" stroke="#2a2a2a" stroke-width="1.2" fill="none"/>
<rect x="1825.2" y="152.5" width="48.3" height="38.6" fill="#a9a4a7" stroke="#333" stroke-width="1.1"/>
<text x="1491.4" y="242.3" font-size="28.05" font-weight="bold" fill="#000" textLength="139.9" lengthAdjust="spacingAndGlyphs">Fibroblasts</text>
<rect x="1640.0" y="213.0" width="73.3" height="39.6" fill="#4b777b"/>
<rect x="1713.3" y="213.0" width="82.7" height="39.6" fill="#d8432f"/>
<path d="M1640.5 213.5H1796M1640.5 213.5V252.1H1796M1713.3 213.0V252.6" stroke="#2a2a2a" stroke-width="1.2" fill="none"/>
<rect x="1825.2" y="213.5" width="38.1" height="38.6" fill="#a9a4a7" stroke="#333" stroke-width="1.1"/>
<text x="1462.8" y="303.3" font-size="28.05" font-weight="bold" fill="#000" textLength="168.5" lengthAdjust="spacingAndGlyphs">Macrophages</text>
<rect x="1640.0" y="274.1" width="72.2" height="39.6" fill="#4b777b"/>
<rect x="1712.2" y="274.1" width="83.8" height="39.6" fill="#d8432f"/>
<path d="M1640.5 274.6H1796M1640.5 274.6V313.2H1796M1712.2 274.1V313.7" stroke="#2a2a2a" stroke-width="1.2" fill="none"/>
<rect x="1825.2" y="274.6" width="12.8" height="38.6" fill="#a9a4a7" stroke="#333" stroke-width="1.1"/>
<text x="1500.7" y="363.4" font-size="28.05" font-weight="bold" fill="#000" textLength="130.6" lengthAdjust="spacingAndGlyphs">Neutrophil</text>
<rect x="1640.0" y="335.8" width="73.4" height="39.6" fill="#4b777b"/>
<rect x="1713.4" y="335.8" width="82.6" height="39.6" fill="#d8432f"/>
<path d="M1640.5 336.3H1796M1640.5 336.3V374.9H1796M1713.4 335.8V375.4" stroke="#2a2a2a" stroke-width="1.2" fill="none"/>
<rect x="1825.2" y="336.3" width="9.8" height="38.6" fill="#a9a4a7" stroke="#333" stroke-width="1.1"/>
<text x="1566.0" y="424.2" font-size="28.05" font-weight="bold" fill="#000" textLength="65.3" lengthAdjust="spacingAndGlyphs">T cell</text>
<rect x="1640.0" y="396.8" width="94.4" height="39.6" fill="#4b777b"/>
<rect x="1734.4" y="396.8" width="61.6" height="39.6" fill="#d8432f"/>
<path d="M1640.5 397.3H1796M1640.5 397.3V435.9H1796M1734.4 396.8V436.4" stroke="#2a2a2a" stroke-width="1.2" fill="none"/>
<rect x="1825.2" y="397.3" width="3.8" height="38.6" fill="#a9a4a7" stroke="#333" stroke-width="1.1"/>
<path d="M1796.8 67.6V467.4M1638.6 456.9H1798" stroke="#231f20" stroke-width="3" fill="none"/>
<path d="M1823.4 67.1V467.4M1822 456.9H1983" stroke="#231f20" stroke-width="3.6" fill="none"/>
<line x1="1639.8" y1="455.0" x2="1639.8" y2="467.4" stroke="#231f20" stroke-width="3"/>
<line x1="1678.3" y1="455.0" x2="1678.3" y2="467.4" stroke="#231f20" stroke-width="3"/>
<line x1="1717.6" y1="455.0" x2="1717.6" y2="467.4" stroke="#231f20" stroke-width="3"/>
<line x1="1756.6" y1="455.0" x2="1756.6" y2="467.4" stroke="#231f20" stroke-width="3"/>
<line x1="1862.3" y1="455.0" x2="1862.3" y2="467.4" stroke="#231f20" stroke-width="3"/>
<line x1="1902.0" y1="455.0" x2="1902.0" y2="467.4" stroke="#231f20" stroke-width="3"/>
<line x1="1941.8" y1="455.0" x2="1941.8" y2="467.4" stroke="#231f20" stroke-width="3"/>
<line x1="1981.3" y1="455.0" x2="1981.3" y2="467.4" stroke="#231f20" stroke-width="3"/>
<text x="1641.0" y="496.0" font-size="22.82" font-weight="bold" fill="#000" textLength="12.8" lengthAdjust="spacingAndGlyphs">0</text>
<text x="1709.9" y="496.0" font-size="22.82" font-weight="bold" fill="#000" textLength="26.9" lengthAdjust="spacingAndGlyphs">50</text>
<text x="1767.6" y="496.0" font-size="22.82" font-weight="bold" fill="#000" textLength="40.4" lengthAdjust="spacingAndGlyphs">100</text>
<text x="1819.3" y="496.0" font-size="22.82" font-weight="bold" fill="#000" textLength="12.1" lengthAdjust="spacingAndGlyphs">0</text>
<text x="1872.3" y="496.0" font-size="22.82" font-weight="bold" fill="#000" textLength="56.1" lengthAdjust="spacingAndGlyphs">4000</text>
<text x="1943.6" y="496.0" font-size="22.82" font-weight="bold" fill="#000" textLength="56.1" lengthAdjust="spacingAndGlyphs">8000</text>
<rect x="1865.6" y="352.7" width="25.6" height="22.5" fill="#4b777b" stroke="#000" stroke-width="2"/>
<rect x="1866.2" y="389.6" width="25.6" height="22.5" fill="#db4c3a" stroke="#000" stroke-width="2"/>
<text x="1905.0" y="374.4" font-size="26.16" font-weight="bold" fill="#000" textLength="80.7" lengthAdjust="spacingAndGlyphs">Vector</text>
<text x="1905.0" y="411.8" font-size="26.16" font-weight="bold" fill="#000" textLength="119.3" lengthAdjust="spacingAndGlyphs">OE PD-L2</text>
<text x="39.2" y="525.1" font-size="28.78" font-weight="bold" fill="#000" textLength="26.7" lengthAdjust="spacingAndGlyphs">D.</text>
<text x="178.3" y="559.3" font-size="25.87" font-weight="bold" fill="#000" textLength="624.7" lengthAdjust="spacingAndGlyphs">Significant pathways of different expression gene</text>
<line x1="395.3" y1="590.6" x2="395.3" y2="1013.0" stroke="#efefef" stroke-width="1.3"/>
<line x1="429.8" y1="590.6" x2="429.8" y2="1013.0" stroke="#efefef" stroke-width="0.8"/>
<line x1="464.2" y1="590.6" x2="464.2" y2="1013.0" stroke="#efefef" stroke-width="1.3"/>
<line x1="498.7" y1="590.6" x2="498.7" y2="1013.0" stroke="#efefef" stroke-width="0.8"/>
<line x1="533.1" y1="590.6" x2="533.1" y2="1013.0" stroke="#efefef" stroke-width="1.3"/>
<line x1="567.5" y1="590.6" x2="567.5" y2="1013.0" stroke="#efefef" stroke-width="0.8"/>
<line x1="602.0" y1="590.6" x2="602.0" y2="1013.0" stroke="#efefef" stroke-width="1.3"/>
<line x1="636.5" y1="590.6" x2="636.5" y2="1013.0" stroke="#efefef" stroke-width="0.8"/>
<line x1="376.2" y1="611.8" x2="659.4" y2="611.8" stroke="#efefef" stroke-width="1.3"/>
<line x1="376.2" y1="643.8" x2="659.4" y2="643.8" stroke="#efefef" stroke-width="1.3"/>
<line x1="376.2" y1="675.8" x2="659.4" y2="675.8" stroke="#efefef" stroke-width="1.3"/>
<line x1="376.2" y1="707.8" x2="659.4" y2="707.8" stroke="#efefef" stroke-width="1.3"/>
<line x1="376.2" y1="739.8" x2="659.4" y2="739.8" stroke="#efefef" stroke-width="1.3"/>
<line x1="376.2" y1="771.8" x2="659.4" y2="771.8" stroke="#efefef" stroke-width="1.3"/>
<line x1="376.2" y1="803.8" x2="659.4" y2="803.8" stroke="#efefef" stroke-width="1.3"/>
<line x1="376.2" y1="835.8" x2="659.4" y2="835.8" stroke="#efefef" stroke-width="1.3"/>
<line x1="376.2" y1="867.8" x2="659.4" y2="867.8" stroke="#efefef" stroke-width="1.3"/>
<line x1="376.2" y1="899.8" x2="659.4" y2="899.8" stroke="#efefef" stroke-width="1.3"/>
<line x1="376.2" y1="931.8" x2="659.4" y2="931.8" stroke="#efefef" stroke-width="1.3"/>
<line x1="376.2" y1="963.8" x2="659.4" y2="963.8" stroke="#efefef" stroke-width="1.3"/>
<line x1="376.2" y1="995.8" x2="659.4" y2="995.8" stroke="#efefef" stroke-width="1.3"/>
<rect x="376.2" y="590.6" width="283.2" height="422.4" fill="none" stroke="#000" stroke-width="3.8"/>
<line x1="368.6" y1="611.8" x2="376.2" y2="611.8" stroke="#000" stroke-width="4"/>
<text x="265.3" y="618.4" font-size="22.97" font-weight="bold" fill="#000" textLength="93.0" lengthAdjust="spacingAndGlyphs">PI3K-Akt</text>
<line x1="368.6" y1="643.8" x2="376.2" y2="643.8" stroke="#000" stroke-width="4"/>
<text x="293.0" y="650.4" font-size="22.97" font-weight="bold" fill="#000" textLength="65.3" lengthAdjust="spacingAndGlyphs">MAPK</text>
<line x1="368.6" y1="675.8" x2="376.2" y2="675.8" stroke="#000" stroke-width="4"/>
<text x="90.8" y="682.4" font-size="22.97" font-weight="bold" fill="#000" textLength="267.5" lengthAdjust="spacingAndGlyphs">Protein processing in ER</text>
<line x1="368.6" y1="707.8" x2="376.2" y2="707.8" stroke="#000" stroke-width="4"/>
<text x="263.0" y="714.4" font-size="22.97" font-weight="bold" fill="#000" textLength="95.3" lengthAdjust="spacingAndGlyphs">OXPHOS</text>
<line x1="368.6" y1="739.8" x2="376.2" y2="739.8" stroke="#000" stroke-width="4"/>
<text x="248.7" y="746.4" font-size="22.97" font-weight="bold" fill="#e8312c" textLength="109.6" lengthAdjust="spacingAndGlyphs">Apoptosis</text>
<line x1="368.6" y1="771.8" x2="376.2" y2="771.8" stroke="#000" stroke-width="4"/>
<text x="260.9" y="778.4" font-size="22.97" font-weight="bold" fill="#000" textLength="97.4" lengthAdjust="spacingAndGlyphs">Estrogen</text>
<line x1="368.6" y1="803.8" x2="376.2" y2="803.8" stroke="#000" stroke-width="4"/>
<text x="308.0" y="810.4" font-size="22.97" font-weight="bold" fill="#000" textLength="50.3" lengthAdjust="spacingAndGlyphs">ErbB</text>
<line x1="368.6" y1="835.8" x2="376.2" y2="835.8" stroke="#000" stroke-width="4"/>
<text x="135.4" y="842.4" font-size="22.97" font-weight="bold" fill="#000" textLength="222.9" lengthAdjust="spacingAndGlyphs">Antigen presentation</text>
<line x1="368.6" y1="867.8" x2="376.2" y2="867.8" stroke="#000" stroke-width="4"/>
<text x="177.0" y="874.4" font-size="22.97" font-weight="bold" fill="#000" textLength="181.3" lengthAdjust="spacingAndGlyphs">RNA degradation</text>
<line x1="368.6" y1="899.8" x2="376.2" y2="899.8" stroke="#000" stroke-width="4"/>
<text x="320.0" y="906.4" font-size="22.97" font-weight="bold" fill="#000" textLength="38.3" lengthAdjust="spacingAndGlyphs">P53</text>
<line x1="368.6" y1="931.8" x2="376.2" y2="931.8" stroke="#000" stroke-width="4"/>
<text x="138.7" y="938.4" font-size="22.97" font-weight="bold" fill="#000" textLength="219.6" lengthAdjust="spacingAndGlyphs">Longevity regulation</text>
<line x1="368.6" y1="963.8" x2="376.2" y2="963.8" stroke="#000" stroke-width="4"/>
<text x="135.4" y="970.4" font-size="22.97" font-weight="bold" fill="#000" textLength="222.9" lengthAdjust="spacingAndGlyphs">Arg&amp;Pro metabolism</text>
<line x1="368.6" y1="995.8" x2="376.2" y2="995.8" stroke="#000" stroke-width="4"/>
<text x="37.5" y="1002.4" font-size="22.97" font-weight="bold" fill="#000" textLength="320.8" lengthAdjust="spacingAndGlyphs">Aminoacyl-tRNA biosynthesis</text>
<line x1="395.3" y1="1013.0" x2="395.3" y2="1021.4" stroke="#000" stroke-width="4"/>
<line x1="464.2" y1="1013.0" x2="464.2" y2="1021.4" stroke="#000" stroke-width="4"/>
<line x1="533.1" y1="1013.0" x2="533.1" y2="1021.4" stroke="#000" stroke-width="4"/>
<line x1="602.0" y1="1013.0" x2="602.0" y2="1021.4" stroke="#000" stroke-width="4"/>
<text x="369.1" y="1053.4" font-size="26.16" font-weight="bold" fill="#000" textLength="48.7" lengthAdjust="spacingAndGlyphs">0.02</text>
<text x="438.0" y="1053.4" font-size="26.16" font-weight="bold" fill="#000" textLength="48.7" lengthAdjust="spacingAndGlyphs">0.04</text>
<text x="506.9" y="1053.4" font-size="26.16" font-weight="bold" fill="#000" textLength="48.7" lengthAdjust="spacingAndGlyphs">0.06</text>
<text x="575.8" y="1053.4" font-size="26.16" font-weight="bold" fill="#000" textLength="48.7" lengthAdjust="spacingAndGlyphs">0.08</text>
<text x="443.0" y="1088.3" font-size="24.71" font-weight="bold" fill="#000" textLength="130.2" lengthAdjust="spacingAndGlyphs">GeneRatio</text>
<circle cx="645.6" cy="610.2" r="7.5" fill="#7444a4"/>
<circle cx="548.9" cy="642.5" r="6.4" fill="#e0124c"/>
<circle cx="533.0" cy="674.5" r="6.0" fill="#3c48a6"/>
<circle cx="484.4" cy="706.7" r="5.3" fill="#c41c8c"/>
<circle cx="468.2" cy="738.8" r="5.0" fill="#e2124a"/>
<circle cx="468.2" cy="771.0" r="5.0" fill="#7c40a2"/>
<circle cx="436.1" cy="803.1" r="4.7" fill="#d4186e"/>
<circle cx="436.1" cy="835.4" r="4.7" fill="#d4186e"/>
<circle cx="436.1" cy="867.5" r="4.7" fill="#d4186e"/>
<circle cx="419.9" cy="899.5" r="4.2" fill="#d81660"/>
<circle cx="403.8" cy="931.6" r="3.6" fill="#e01438"/>
<circle cx="387.3" cy="964.2" r="2.4" fill="#b82c30"/>
<circle cx="387.3" cy="996.3" r="2.4" fill="#b82c30"/>
<text x="686.2" y="644.0" font-size="21.80" font-weight="bold" fill="#000" textLength="37.7" lengthAdjust="spacingAndGlyphs">Log</text>
<text x="724.5" y="647.7" font-size="13.81" font-weight="bold" fill="#000" textLength="16.7" lengthAdjust="spacingAndGlyphs">10</text>
<text x="669.5" y="670.7" font-size="21.80" font-weight="bold" fill="#000" textLength="87.4" lengthAdjust="spacingAndGlyphs">(Pvalue)</text>
<defs><linearGradient id="pg" x1="0" y1="0" x2="0" y2="1"><stop offset="0" stop-color="#4a48a0"/><stop offset="0.3" stop-color="#8a3c9c"/><stop offset="0.55" stop-color="#d01488"/><stop offset="1" stop-color="#ec1424"/></linearGradient></defs>
<rect x="676.7" y="692.4" width="22.7" height="96.2" fill="url(#pg)"/>
<line x1="676.7" y1="728.0" x2="680.0" y2="728.0" stroke="#fff" stroke-width="1"/>
<line x1="696.0" y1="728.0" x2="699.4" y2="728.0" stroke="#fff" stroke-width="1"/>
<line x1="676.7" y1="755.0" x2="680.0" y2="755.0" stroke="#fff" stroke-width="1"/>
<line x1="696.0" y1="755.0" x2="699.4" y2="755.0" stroke="#fff" stroke-width="1"/>
<text x="705.0" y="703.7" font-size="19.19" font-weight="bold" fill="#000" textLength="29.9" lengthAdjust="spacingAndGlyphs">3.0</text>
<text x="705.0" y="734.2" font-size="19.19" font-weight="bold" fill="#000" textLength="29.9" lengthAdjust="spacingAndGlyphs">2.5</text>
<text x="705.0" y="761.9" font-size="19.19" font-weight="bold" fill="#000" textLength="29.9" lengthAdjust="spacingAndGlyphs">2.0</text>
<text x="705.0" y="791.4" font-size="19.19" font-weight="bold" fill="#000" textLength="29.9" lengthAdjust="spacingAndGlyphs">1.5</text>
<text x="673.6" y="841.8" font-size="21.80" font-weight="bold" fill="#000" textLength="62.9" lengthAdjust="spacingAndGlyphs">Count</text>
<circle cx="681.4" cy="856.9" r="1.6" fill="#1a1616"/>
<text x="703.5" y="863.1" font-size="19.33" font-weight="bold" fill="#000" textLength="11.0" lengthAdjust="spacingAndGlyphs">8</text>
<circle cx="681.4" cy="877.3" r="5.0" fill="#1a1616"/>
<text x="696.5" y="883.6" font-size="19.33" font-weight="bold" fill="#000" textLength="23.0" lengthAdjust="spacingAndGlyphs">16</text>
<circle cx="681.4" cy="898.7" r="6.6" fill="#1a1616"/>
<text x="696.5" y="905.0" font-size="19.33" font-weight="bold" fill="#000" textLength="23.0" lengthAdjust="spacingAndGlyphs">24</text>
<circle cx="681.4" cy="919.7" r="8.0" fill="#1a1616"/>
<text x="696.5" y="925.4" font-size="19.33" font-weight="bold" fill="#000" textLength="23.0" lengthAdjust="spacingAndGlyphs">32</text>
<circle cx="681.4" cy="940.8" r="9.2" fill="#1a1616"/>
<text x="696.5" y="947.1" font-size="19.33" font-weight="bold" fill="#000" textLength="23.0" lengthAdjust="spacingAndGlyphs">40</text>
<text x="844.4" y="524.6" font-size="27.33" font-weight="bold" fill="#000" textLength="24.6" lengthAdjust="spacingAndGlyphs">E.</text>
<line x1="912.6" y1="655.5" x2="912.6" y2="834.0" stroke="#f2f2f2" stroke-width="1.0"/>
<line x1="912.6" y1="908.0" x2="912.6" y2="1012.0" stroke="#eeeeee" stroke-width="1.0"/>
<line x1="968.4" y1="655.5" x2="968.4" y2="834.0" stroke="#f2f2f2" stroke-width="1.3"/>
<line x1="968.4" y1="908.0" x2="968.4" y2="1012.0" stroke="#eeeeee" stroke-width="1.3"/>
<line x1="1024.2" y1="655.5" x2="1024.2" y2="834.0" stroke="#f2f2f2" stroke-width="1.0"/>
<line x1="1024.2" y1="908.0" x2="1024.2" y2="1012.0" stroke="#eeeeee" stroke-width="1.0"/>
<line x1="1079.9" y1="655.5" x2="1079.9" y2="834.0" stroke="#f2f2f2" stroke-width="1.3"/>
<line x1="1079.9" y1="908.0" x2="1079.9" y2="1012.0" stroke="#eeeeee" stroke-width="1.3"/>
<line x1="1135.7" y1="655.5" x2="1135.7" y2="834.0" stroke="#f2f2f2" stroke-width="1.0"/>
<line x1="1135.7" y1="908.0" x2="1135.7" y2="1012.0" stroke="#eeeeee" stroke-width="1.0"/>
<line x1="1191.4" y1="655.5" x2="1191.4" y2="834.0" stroke="#f2f2f2" stroke-width="1.3"/>
<line x1="1191.4" y1="908.0" x2="1191.4" y2="1012.0" stroke="#eeeeee" stroke-width="1.3"/>
<line x1="1247.2" y1="655.5" x2="1247.2" y2="834.0" stroke="#f2f2f2" stroke-width="1.0"/>
<line x1="1247.2" y1="908.0" x2="1247.2" y2="1012.0" stroke="#eeeeee" stroke-width="1.0"/>
<line x1="1302.9" y1="655.5" x2="1302.9" y2="834.0" stroke="#f2f2f2" stroke-width="1.3"/>
<line x1="1302.9" y1="908.0" x2="1302.9" y2="1012.0" stroke="#eeeeee" stroke-width="1.3"/>
<line x1="1358.7" y1="655.5" x2="1358.7" y2="834.0" stroke="#f2f2f2" stroke-width="1.0"/>
<line x1="1358.7" y1="908.0" x2="1358.7" y2="1012.0" stroke="#eeeeee" stroke-width="1.0"/>
<rect x="1097.3" y="641.6" width="255.7" height="35.6" fill="#f4f4f4"/>
<rect x="1097.3" y="677.2" width="255.7" height="32.4" fill="#e6e6e6"/>
<rect x="1097.3" y="709.6" width="255.7" height="35.6" fill="#f4f4f4"/>
<line x1="1232.1" y1="641.6" x2="1232.1" y2="745.2" stroke="#fbfbfb" stroke-width="2"/>
<text x="1154.5" y="665.7" font-size="17.88" font-weight="bold" fill="#1a1a1a" textLength="21.0" lengthAdjust="spacingAndGlyphs">ID</text>
<text x="1254.4" y="665.7" font-size="17.88" font-weight="bold" fill="#1a1a1a" textLength="78.5" lengthAdjust="spacingAndGlyphs">ko04210</text>
<text x="1108.0" y="700.3" font-size="17.88" font-weight="bold" fill="#1a1a1a" textLength="112.7" lengthAdjust="spacingAndGlyphs">Description</text>
<text x="1244.0" y="700.3" font-size="17.88" font-weight="bold" fill="#1a1a1a" textLength="98.8" lengthAdjust="spacingAndGlyphs">Apoptosis</text>
<text x="1133.5" y="734.4" font-size="17.88" font-weight="bold" fill="#1a1a1a" textLength="63.0" lengthAdjust="spacingAndGlyphs">pvalue</text>
<text x="1257.4" y="734.4" font-size="17.88" font-weight="bold" fill="#1a1a1a" textLength="72.5" lengthAdjust="spacingAndGlyphs">0.03507</text>
<text x="855.7" y="647.3" font-size="15.26" font-weight="bold" fill="#1a1a1a" textLength="83.5" lengthAdjust="spacingAndGlyphs">Apoptosis</text>
<text x="837.5" y="668.1" font-size="12.79" font-weight="normal" fill="#555" textLength="15.0" lengthAdjust="spacingAndGlyphs" stroke="#555" stroke-width="0.25">0.0</text>
<line x1="856.0" y1="663.7" x2="858.5" y2="663.7" stroke="#444" stroke-width="1"/>
<text x="831.5" y="704.4" font-size="12.79" font-weight="normal" fill="#555" textLength="21.0" lengthAdjust="spacingAndGlyphs" stroke="#555" stroke-width="0.25">−0.1</text>
<line x1="856.0" y1="700.0" x2="858.5" y2="700.0" stroke="#444" stroke-width="1"/>
<text x="831.5" y="740.6" font-size="12.79" font-weight="normal" fill="#555" textLength="21.0" lengthAdjust="spacingAndGlyphs" stroke="#555" stroke-width="0.25">−0.2</text>
<line x1="856.0" y1="736.2" x2="858.5" y2="736.2" stroke="#444" stroke-width="1"/>
<text x="831.5" y="776.0" font-size="12.79" font-weight="normal" fill="#555" textLength="21.0" lengthAdjust="spacingAndGlyphs" stroke="#555" stroke-width="0.25">−0.3</text>
<line x1="856.0" y1="771.6" x2="858.5" y2="771.6" stroke="#444" stroke-width="1"/>
<text x="831.5" y="812.9" font-size="12.79" font-weight="normal" fill="#555" textLength="21.0" lengthAdjust="spacingAndGlyphs" stroke="#555" stroke-width="0.25">−0.4</text>
<line x1="856.0" y1="808.5" x2="858.5" y2="808.5" stroke="#444" stroke-width="1"/>
<text x="844.5" y="922.9" font-size="13.08" font-weight="normal" fill="#666" textLength="6.5" lengthAdjust="spacingAndGlyphs">1</text>
<line x1="854.0" y1="918.4" x2="858.5" y2="918.4" stroke="#444" stroke-width="1"/>
<text x="844.5" y="943.0" font-size="13.08" font-weight="normal" fill="#666" textLength="6.5" lengthAdjust="spacingAndGlyphs">0</text>
<line x1="854.0" y1="938.5" x2="858.5" y2="938.5" stroke="#444" stroke-width="1"/>
<text x="837.0" y="963.2" font-size="13.08" font-weight="normal" fill="#666" textLength="14.0" lengthAdjust="spacingAndGlyphs">−1</text>
<line x1="854.0" y1="958.7" x2="858.5" y2="958.7" stroke="#444" stroke-width="1"/>
<text x="837.0" y="983.3" font-size="13.08" font-weight="normal" fill="#666" textLength="14.0" lengthAdjust="spacingAndGlyphs">−2</text>
<line x1="854.0" y1="978.8" x2="858.5" y2="978.8" stroke="#444" stroke-width="1"/>
<text x="837.0" y="1003.4" font-size="13.08" font-weight="normal" fill="#666" textLength="14.0" lengthAdjust="spacingAndGlyphs">−3</text>
<line x1="854.0" y1="998.9" x2="858.5" y2="998.9" stroke="#444" stroke-width="1"/>
<text transform="translate(831.4 867.5) rotate(-90)" font-size="15.8" font-weight="bold" fill="#1a1a1a" textLength="236" lengthAdjust="spacingAndGlyphs">Running Enrichment Score</text>
<text transform="translate(832.6 1032.3) rotate(-90)" font-size="16.5" font-weight="bold" fill="#1a1a1a" textLength="155.3" lengthAdjust="spacingAndGlyphs">Ranked list metric</text>
<text x="956.1" y="1030.6" font-size="14.24" font-weight="normal" fill="#555" textLength="24.5" lengthAdjust="spacingAndGlyphs" stroke="#555" stroke-width="0.55">500</text>
<text x="1064.7" y="1030.6" font-size="14.24" font-weight="normal" fill="#555" textLength="30.5" lengthAdjust="spacingAndGlyphs" stroke="#555" stroke-width="0.55">1000</text>
<text x="1176.2" y="1030.6" font-size="14.24" font-weight="normal" fill="#555" textLength="30.5" lengthAdjust="spacingAndGlyphs" stroke="#555" stroke-width="0.55">1500</text>
<text x="1287.7" y="1030.6" font-size="14.24" font-weight="normal" fill="#555" textLength="30.5" lengthAdjust="spacingAndGlyphs" stroke="#555" stroke-width="0.55">2000</text>
<text x="1066.0" y="1046.4" font-size="15.12" font-weight="bold" fill="#222" textLength="168.6" lengthAdjust="spacingAndGlyphs">Rank in Ordered Dataset</text>
<path d="M863.9 837.2V885.3M875.7 837.2V885.3M886.9 837.2V885.3M901.3 837.2V885.3M957.7 837.2V885.3M974.1 837.2V885.3M977.8 837.2V885.3M979.8 837.2V885.3M981.8 837.2V885.3M991.9 837.2V885.3M1025.8 837.2V885.3M1031.6 837.2V885.3M1037.6 837.2V885.3M1050.9 837.2V885.3M1055.5 837.2V885.3M1061.2 837.2V885.3M1073.9 837.2V885.3M1115.0 837.2V885.3M1117.8 837.2V885.3M1121.5 837.2V885.3M1124.5 837.2V885.3M1127.3 837.2V885.3M1149.5 837.2V885.3M1177.1 837.2V885.3M1195.8 837.2V885.3M1199.3 837.2V885.3M1204.1 837.2V885.3M1230.0 837.2V885.3M1234.6 837.2V885.3M1280.7 837.2V885.3M1302.0 837.2V885.3M1310.6 837.2V885.3M1338.2 837.2V885.3M1342.2 837.2V885.3M1374.8 837.2V885.3M1381.4 837.2V885.3M1392.0 837.2V885.3M1399.2 837.2V885.3M1409.3 837.2V885.3" stroke="#1e1e1e" stroke-width="1.6" fill="none"/>
<path d="M1162.7 837.2V885.3M1167.6 837.2V885.3M1257.7 837.2V885.3M1286.4 837.2V885.3M1319.2 837.2V885.3" stroke="#888" stroke-width="1.4" fill="none"/>
<rect x="858.5" y="885.3" width="28.7" height="20.1" fill="#d62a28"/>
<rect x="886.9" y="885.3" width="62.4" height="20.1" fill="#e8644c"/>
<rect x="949.0" y="885.3" width="83.8" height="20.1" fill="#f3ae94"/>
<rect x="1032.5" y="885.3" width="68.4" height="20.1" fill="#fce6dc"/>
<rect x="1100.6" y="885.3" width="49.2" height="20.1" fill="#f0f0f8"/>
<rect x="1149.5" y="885.3" width="68.2" height="20.1" fill="#c6dcee"/>
<rect x="1217.4" y="885.3" width="71.3" height="20.1" fill="#7fb2dc"/>
<rect x="1288.4" y="885.3" width="115.4" height="20.1" fill="#3d7ec0"/>
<rect x="1403.5" y="885.3" width="6.9" height="20.1" fill="#2a58a4"/>
<path d="M863.9 885.3V905.4M875.7 885.3V905.4M886.9 885.3V905.4M901.3 885.3V905.4M957.7 885.3V905.4M974.1 885.3V905.4M977.8 885.3V905.4M979.8 885.3V905.4M981.8 885.3V905.4M991.9 885.3V905.4M1025.8 885.3V905.4M1031.6 885.3V905.4M1037.6 885.3V905.4M1050.9 885.3V905.4M1055.5 885.3V905.4M1061.2 885.3V905.4M1073.9 885.3V905.4M1115.0 885.3V905.4M1117.8 885.3V905.4M1121.5 885.3V905.4M1124.5 885.3V905.4M1127.3 885.3V905.4M1149.5 885.3V905.4M1162.7 885.3V905.4M1167.6 885.3V905.4M1177.1 885.3V905.4M1195.8 885.3V905.4M1199.3 885.3V905.4M1204.1 885.3V905.4M1230.0 885.3V905.4M1234.6 885.3V905.4M1257.7 885.3V905.4M1280.7 885.3V905.4M1286.4 885.3V905.4M1302.0 885.3V905.4M1310.6 885.3V905.4M1319.2 885.3V905.4M1338.2 885.3V905.4M1342.2 885.3V905.4M1374.8 885.3V905.4M1381.4 885.3V905.4M1392.0 885.3V905.4M1399.2 885.3V905.4M1409.3 885.3V905.4" stroke="#000" stroke-opacity="0.12" stroke-width="1.2" fill="none"/>
<path d="M858.5 938.5L858.5 930.1L864.0 930.9L869.5 931.6L875.0 932.3L880.6 933.0L886.1 933.6L891.6 934.3L897.1 934.8L902.6 935.4L908.1 935.9L913.7 936.4L919.2 936.8L924.7 937.3L930.2 937.7L935.7 938.1L941.2 938.5L946.8 938.8L952.3 939.2L957.8 939.5L963.3 939.8L968.8 940.1L974.3 940.4L979.9 940.7L985.4 941.0L990.9 941.2L996.4 941.5L1001.9 941.7L1007.4 942.0L1012.9 942.2L1018.5 942.4L1024.0 942.6L1029.5 942.8L1035.0 943.0L1040.5 943.2L1046.0 943.4L1051.6 943.6L1057.1 943.8L1062.6 944.0L1068.1 944.1L1073.6 944.3L1079.1 944.5L1084.7 944.6L1090.2 944.8L1095.7 945.0L1101.2 945.1L1106.7 945.3L1112.2 945.4L1117.8 945.6L1123.3 945.7L1128.8 945.9L1134.3 946.0L1139.8 946.2L1145.3 946.3L1150.8 946.5L1156.4 946.6L1161.9 946.8L1167.4 946.9L1172.9 947.0L1178.4 947.2L1183.9 947.3L1189.5 947.5L1195.0 947.6L1200.5 947.7L1206.0 947.9L1211.5 948.0L1217.0 948.2L1222.6 948.3L1228.1 948.4L1233.6 948.6L1239.1 948.7L1244.6 948.9L1250.1 949.0L1255.7 949.2L1261.2 949.4L1266.7 949.5L1272.2 949.7L1277.7 949.9L1283.2 950.1L1288.7 950.2L1294.3 950.4L1299.8 950.7L1305.3 950.9L1310.8 951.1L1316.3 951.4L1321.8 951.7L1327.4 952.0L1332.9 952.3L1338.4 952.6L1343.9 953.0L1349.4 953.4L1354.9 953.9L1360.5 954.3L1366.0 954.9L1371.5 955.5L1377.0 956.1L1382.5 956.8L1388.0 957.6L1393.6 958.5L1399.1 959.4L1404.6 963.5L1410.1 970.7L1410.1 938.5Z" fill="#c4c0c0"/>
<text x="871.9" y="925.6" font-size="18.90" font-weight="bold" fill="#3a4654" textLength="57.6" lengthAdjust="spacingAndGlyphs">Vector</text>
<text x="1319.2" y="925.6" font-size="18.90" font-weight="bold" fill="#3a4654" textLength="85.8" lengthAdjust="spacingAndGlyphs">OE PD-L2</text>
<path d="M858.5 655.5V1013.3H1410.1" stroke="#111" stroke-width="2.4" fill="none"/>
<path d="M858.5 664.0L863.9 667.8L864.5 663.8L875.7 671.7L876.3 667.7L886.9 675.4L887.5 671.4L901.3 680.2L901.9 676.2L957.7 716.6L958.3 712.6L974.1 727.1L974.7 723.1L977.8 729.3L978.4 725.3L979.8 730.5L980.4 726.5L981.8 731.6L982.4 727.6L991.9 737.5L992.5 733.5L1025.8 756.8L1026.4 752.8L1031.6 758.6L1032.2 754.6L1037.6 760.5L1038.2 756.5L1050.9 764.6L1051.5 760.6L1055.5 765.5L1056.1 761.5L1061.2 766.5L1061.8 762.5L1073.9 768.8L1074.5 764.8L1115.0 793.5L1115.6 786.5L1117.8 792.9L1118.4 785.9L1121.5 792.1L1122.1 785.1L1124.5 791.5L1125.1 784.5L1127.3 791.0L1127.9 784.0L1149.5 798.7L1150.1 791.7L1162.7 804.2L1163.3 797.2L1167.6 805.4L1168.2 798.4L1177.1 807.3L1177.7 800.3L1195.8 809.6L1196.4 802.6L1199.3 808.5L1199.9 801.5L1204.1 807.0L1204.7 800.0L1230.0 814.2L1230.6 807.2L1234.6 815.4L1235.2 808.4L1257.7 821.3L1258.3 814.3L1280.7 828.4L1281.3 819.4L1286.4 827.6L1287.0 818.6L1302.0 825.6L1302.6 816.6L1310.6 824.3L1311.2 815.3L1319.2 823.1L1319.8 814.1L1338.2 820.0L1338.8 804.0L1342.2 810.0L1342.8 794.0L1374.8 807.3L1375.4 791.3L1381.4 794.1L1382.0 778.1L1392.0 782.1L1392.6 766.1L1399.2 773.9L1399.8 757.9L1409.5 764.5L1409.5 665.3" stroke="#52ac2c" stroke-width="2.8" fill="none" stroke-linejoin="round"/>
<text x="1434.0" y="524.7" font-size="27.62" font-weight="bold" fill="#000" textLength="24.0" lengthAdjust="spacingAndGlyphs">F.</text>
<text x="1554.4" y="734.3" font-size="27.62" font-weight="bold" fill="#000" textLength="166.6" lengthAdjust="spacingAndGlyphs">Er (20 mg/kg)</text>
<line x1="1475.0" y1="749.1" x2="1797.0" y2="749.1" stroke="#000" stroke-width="3.2"/>
<text x="1504.5" y="778.3" font-size="25.87" font-weight="bold" fill="#000" textLength="81.2" lengthAdjust="spacingAndGlyphs">Vector</text>
<text x="1650.3" y="778.3" font-size="25.87" font-weight="bold" fill="#000" textLength="120.5" lengthAdjust="spacingAndGlyphs">OE PD-L2</text>
<text transform="translate(1460.2 904.2) rotate(-90)" font-size="27" font-weight="bold" fill="#000" textLength="86.6" lengthAdjust="spacingAndGlyphs">TUNEL</text>
<defs><radialGradient id="gl"><stop offset="0" stop-color="#62ea52"/><stop offset="0.4" stop-color="#36c030"/><stop offset="1" stop-color="#2a6a28" stop-opacity="0"/></radialGradient><radialGradient id="gd"><stop offset="0" stop-color="#3a7a34" stop-opacity="0.7"/><stop offset="1" stop-color="#2a4a26" stop-opacity="0"/></radialGradient></defs>
<rect x="1468.9" y="788.9" width="158.5" height="146.9" fill="#1c2619"/>
<rect x="1637.4" y="788.9" width="158.5" height="146.9" fill="#1d2519"/>
<clipPath id="imc"><rect x="1468.9" y="788.9" width="158.5" height="146.9"/><rect x="1637.4" y="788.9" width="158.5" height="146.9"/></clipPath>
<g clip-path="url(#imc)"><circle cx="1480.8" cy="810.4" r="2.9" fill="url(#gl)"/><circle cx="1486.7" cy="803.0" r="3.1" fill="url(#gl)"/><circle cx="1497.1" cy="857.2" r="3.2" fill="url(#gl)"/><circle cx="1515.6" cy="874.2" r="3.3" fill="url(#gl)"/><circle cx="1491.2" cy="884.6" r="3.1" fill="url(#gl)"/><circle cx="1493.4" cy="899.5" r="3.3" fill="url(#gl)"/><circle cx="1494.4" cy="920.2" r="2.2" fill="url(#gl)"/><circle cx="1497.8" cy="929.1" r="2.8" fill="url(#gl)"/><circle cx="1516.1" cy="929.1" r="3.3" fill="url(#gl)"/><circle cx="1471.6" cy="926.9" r="3.0" fill="url(#gl)"/><circle cx="1520.8" cy="825.3" r="3.3" fill="url(#gl)"/><circle cx="1523.1" cy="833.4" r="2.3" fill="url(#gl)"/><circle cx="1529.7" cy="846.8" r="2.8" fill="url(#gl)"/><circle cx="1545.3" cy="805.2" r="2.5" fill="url(#gl)"/><circle cx="1544.6" cy="845.3" r="2.9" fill="url(#gl)"/><circle cx="1545.3" cy="854.2" r="2.9" fill="url(#gl)"/><circle cx="1551.3" cy="849.7" r="2.2" fill="url(#gl)"/><circle cx="1556.5" cy="860.9" r="2.5" fill="url(#gl)"/><circle cx="1557.2" cy="871.3" r="2.5" fill="url(#gl)"/><circle cx="1564.6" cy="870.5" r="3.3" fill="url(#gl)"/><circle cx="1565.4" cy="853.5" r="3.1" fill="url(#gl)"/><circle cx="1575.0" cy="853.5" r="2.4" fill="url(#gl)"/><circle cx="1576.5" cy="858.6" r="3.2" fill="url(#gl)"/><circle cx="1587.6" cy="863.1" r="2.4" fill="url(#gl)"/><circle cx="1590.6" cy="810.4" r="2.9" fill="url(#gl)"/><circle cx="1601.0" cy="808.9" r="2.4" fill="url(#gl)"/><circle cx="1584.6" cy="810.4" r="2.2" fill="url(#gl)"/><circle cx="1583.2" cy="837.9" r="3.2" fill="url(#gl)"/><circle cx="1600.2" cy="831.9" r="2.5" fill="url(#gl)"/><circle cx="1600.2" cy="847.5" r="2.5" fill="url(#gl)"/><circle cx="1612.1" cy="840.8" r="3.4" fill="url(#gl)"/><circle cx="1615.1" cy="797.8" r="3.2" fill="url(#gl)"/><circle cx="1615.1" cy="862.4" r="2.5" fill="url(#gl)"/><circle cx="1623.2" cy="871.3" r="3.4" fill="url(#gl)"/><circle cx="1610.6" cy="871.3" r="2.8" fill="url(#gl)"/><circle cx="1595.8" cy="878.7" r="3.0" fill="url(#gl)"/><circle cx="1599.5" cy="891.3" r="2.4" fill="url(#gl)"/><circle cx="1613.6" cy="886.8" r="3.3" fill="url(#gl)"/><circle cx="1615.8" cy="904.6" r="3.0" fill="url(#gl)"/><circle cx="1609.1" cy="900.9" r="3.4" fill="url(#gl)"/><circle cx="1624.0" cy="921.0" r="3.3" fill="url(#gl)"/><circle cx="1601.0" cy="929.1" r="2.6" fill="url(#gl)"/><circle cx="1586.1" cy="916.5" r="2.6" fill="url(#gl)"/><circle cx="1575.0" cy="910.6" r="2.4" fill="url(#gl)"/><circle cx="1585.4" cy="907.6" r="2.4" fill="url(#gl)"/><circle cx="1567.6" cy="923.2" r="2.3" fill="url(#gl)"/><circle cx="1566.1" cy="932.1" r="2.6" fill="url(#gl)"/><circle cx="1578.7" cy="934.3" r="2.9" fill="url(#gl)"/><circle cx="1540.9" cy="916.5" r="2.2" fill="url(#gl)"/><circle cx="1530.5" cy="909.1" r="3.0" fill="url(#gl)"/><circle cx="1538.6" cy="898.7" r="2.6" fill="url(#gl)"/><circle cx="1543.8" cy="900.9" r="2.6" fill="url(#gl)"/><circle cx="1545.3" cy="887.6" r="3.2" fill="url(#gl)"/><circle cx="1552.0" cy="882.4" r="2.8" fill="url(#gl)"/><circle cx="1569.1" cy="885.4" r="2.6" fill="url(#gl)"/><circle cx="1566.8" cy="892.8" r="2.8" fill="url(#gl)"/><circle cx="1574.3" cy="883.9" r="3.0" fill="url(#gl)"/><circle cx="1557.9" cy="883.9" r="2.3" fill="url(#gl)"/><circle cx="1577.2" cy="799.3" r="3.4" fill="url(#gl)"/><circle cx="1577.2" cy="791.1" r="2.2" fill="url(#gl)"/><circle cx="1626.2" cy="840.1" r="3.1" fill="url(#gl)"/><circle cx="1626.2" cy="855.7" r="3.2" fill="url(#gl)"/><circle cx="1595.8" cy="802.3" r="2.2" fill="url(#gl)"/><circle cx="1609.9" cy="817.1" r="3.1" fill="url(#gl)"/><circle cx="1589.1" cy="928.4" r="2.6" fill="url(#gl)"/><circle cx="1486.7" cy="932.8" r="2.9" fill="url(#gl)"/><circle cx="1526.8" cy="798.5" r="2.2" fill="url(#gl)"/><circle cx="1535.7" cy="791.1" r="2.3" fill="url(#gl)"/><circle cx="1506.0" cy="888.3" r="2.4" fill="url(#gl)"/><circle cx="1528.3" cy="876.5" r="3.3" fill="url(#gl)"/><circle cx="1730.9" cy="800.0" r="2.4" fill="url(#gl)"/><circle cx="1725.0" cy="806.7" r="3.0" fill="url(#gl)"/><circle cx="1722.0" cy="814.1" r="3.1" fill="url(#gl)"/><circle cx="1733.1" cy="816.8" r="3.1" fill="url(#gl)"/><circle cx="1723.2" cy="820.8" r="2.5" fill="url(#gl)"/><circle cx="1712.4" cy="847.5" r="2.6" fill="url(#gl)"/><circle cx="1718.3" cy="845.3" r="2.7" fill="url(#gl)"/><circle cx="1647.8" cy="854.2" r="3.0" fill="url(#gl)"/><circle cx="1772.5" cy="853.5" r="2.3" fill="url(#gl)"/><circle cx="1638.9" cy="880.9" r="2.9" fill="url(#gl)"/><circle cx="1694.5" cy="893.5" r="3.0" fill="url(#gl)"/><circle cx="1693.1" cy="901.7" r="3.1" fill="url(#gl)"/><circle cx="1671.5" cy="900.9" r="2.2" fill="url(#gl)"/><circle cx="1710.1" cy="919.5" r="3.1" fill="url(#gl)"/><circle cx="1736.8" cy="922.2" r="2.3" fill="url(#gl)"/><circle cx="1731.6" cy="926.9" r="2.5" fill="url(#gl)"/><circle cx="1702.4" cy="833.4" r="2.8" fill="url(#gl)"/><circle cx="1716.8" cy="840.1" r="3.1" fill="url(#gl)"/><circle cx="1523.7" cy="921.4" r="3.1" fill="url(#gd)"/><circle cx="1519.5" cy="836.4" r="2.4" fill="url(#gd)"/><circle cx="1483.9" cy="812.8" r="3.4" fill="url(#gd)"/><circle cx="1623.5" cy="814.6" r="2.1" fill="url(#gd)"/><circle cx="1622.0" cy="866.7" r="2.8" fill="url(#gd)"/><circle cx="1508.1" cy="875.2" r="3.7" fill="url(#gd)"/><circle cx="1541.3" cy="851.0" r="2.1" fill="url(#gd)"/><circle cx="1611.2" cy="796.6" r="3.0" fill="url(#gd)"/><circle cx="1599.4" cy="810.3" r="3.5" fill="url(#gd)"/><circle cx="1616.4" cy="880.3" r="3.6" fill="url(#gd)"/><circle cx="1488.2" cy="852.8" r="2.3" fill="url(#gd)"/><circle cx="1600.4" cy="833.3" r="2.9" fill="url(#gd)"/><circle cx="1623.9" cy="911.3" r="4.0" fill="url(#gd)"/><circle cx="1540.9" cy="860.3" r="3.5" fill="url(#gd)"/><circle cx="1544.8" cy="832.7" r="2.8" fill="url(#gd)"/><circle cx="1494.3" cy="844.8" r="4.0" fill="url(#gd)"/><circle cx="1617.9" cy="879.8" r="3.0" fill="url(#gd)"/><circle cx="1523.4" cy="804.5" r="2.5" fill="url(#gd)"/><circle cx="1590.9" cy="913.4" r="2.7" fill="url(#gd)"/><circle cx="1591.5" cy="900.5" r="3.4" fill="url(#gd)"/><circle cx="1572.9" cy="898.3" r="2.7" fill="url(#gd)"/><circle cx="1579.1" cy="831.3" r="3.0" fill="url(#gd)"/><circle cx="1589.0" cy="888.7" r="2.6" fill="url(#gd)"/><circle cx="1615.7" cy="883.0" r="3.2" fill="url(#gd)"/><circle cx="1473.8" cy="868.6" r="2.5" fill="url(#gd)"/><circle cx="1574.1" cy="856.8" r="3.6" fill="url(#gd)"/><circle cx="1570.4" cy="903.7" r="2.7" fill="url(#gd)"/><circle cx="1569.9" cy="895.3" r="3.7" fill="url(#gd)"/><circle cx="1525.2" cy="910.0" r="3.7" fill="url(#gd)"/><circle cx="1576.6" cy="928.7" r="3.9" fill="url(#gd)"/><circle cx="1550.8" cy="866.1" r="2.3" fill="url(#gd)"/><circle cx="1599.2" cy="923.2" r="3.0" fill="url(#gd)"/><circle cx="1577.1" cy="892.8" r="3.5" fill="url(#gd)"/><circle cx="1498.1" cy="901.3" r="3.2" fill="url(#gd)"/><circle cx="1573.2" cy="850.9" r="3.2" fill="url(#gd)"/><circle cx="1589.8" cy="881.2" r="3.4" fill="url(#gd)"/><circle cx="1476.2" cy="814.4" r="2.9" fill="url(#gd)"/><circle cx="1570.8" cy="822.7" r="3.4" fill="url(#gd)"/><circle cx="1567.9" cy="797.9" r="2.9" fill="url(#gd)"/><circle cx="1506.4" cy="799.6" r="2.3" fill="url(#gd)"/><circle cx="1520.2" cy="817.4" r="2.4" fill="url(#gd)"/><circle cx="1477.4" cy="857.1" r="2.8" fill="url(#gd)"/><circle cx="1565.0" cy="874.6" r="2.5" fill="url(#gd)"/><circle cx="1609.3" cy="792.1" r="2.8" fill="url(#gd)"/><circle cx="1514.3" cy="849.4" r="2.2" fill="url(#gd)"/><circle cx="1598.4" cy="844.3" r="2.1" fill="url(#gd)"/><circle cx="1565.3" cy="805.3" r="3.1" fill="url(#gd)"/><circle cx="1523.6" cy="873.3" r="3.9" fill="url(#gd)"/><circle cx="1596.4" cy="850.7" r="3.6" fill="url(#gd)"/><circle cx="1569.6" cy="843.7" r="2.3" fill="url(#gd)"/><circle cx="1562.6" cy="870.9" r="3.9" fill="url(#gd)"/><circle cx="1619.1" cy="877.2" r="2.7" fill="url(#gd)"/><circle cx="1607.8" cy="792.1" r="2.2" fill="url(#gd)"/><circle cx="1558.0" cy="878.1" r="2.3" fill="url(#gd)"/><circle cx="1567.7" cy="916.8" r="2.8" fill="url(#gd)"/><circle cx="1537.6" cy="823.7" r="2.6" fill="url(#gd)"/><circle cx="1619.8" cy="845.2" r="3.9" fill="url(#gd)"/><circle cx="1610.9" cy="875.4" r="2.5" fill="url(#gd)"/><circle cx="1621.1" cy="861.5" r="2.8" fill="url(#gd)"/><circle cx="1520.5" cy="929.8" r="3.0" fill="url(#gd)"/><circle cx="1515.5" cy="858.8" r="2.2" fill="url(#gd)"/><circle cx="1566.5" cy="854.1" r="2.6" fill="url(#gd)"/><circle cx="1590.8" cy="907.8" r="2.0" fill="url(#gd)"/><circle cx="1552.9" cy="830.3" r="3.9" fill="url(#gd)"/><circle cx="1590.8" cy="826.4" r="2.5" fill="url(#gd)"/><circle cx="1495.5" cy="930.4" r="2.6" fill="url(#gd)"/><circle cx="1564.4" cy="858.4" r="3.3" fill="url(#gd)"/><circle cx="1563.8" cy="896.1" r="2.2" fill="url(#gd)"/><circle cx="1587.6" cy="834.1" r="3.1" fill="url(#gd)"/><circle cx="1523.1" cy="833.6" r="3.1" fill="url(#gd)"/><circle cx="1542.6" cy="842.5" r="3.5" fill="url(#gd)"/><circle cx="1561.8" cy="797.1" r="2.5" fill="url(#gd)"/><circle cx="1541.3" cy="920.3" r="3.8" fill="url(#gd)"/><circle cx="1554.9" cy="794.0" r="3.6" fill="url(#gd)"/><circle cx="1537.0" cy="872.6" r="3.4" fill="url(#gd)"/><circle cx="1568.1" cy="859.5" r="3.8" fill="url(#gd)"/><circle cx="1530.6" cy="846.9" r="3.7" fill="url(#gd)"/><circle cx="1501.9" cy="833.5" r="3.7" fill="url(#gd)"/><circle cx="1482.0" cy="909.1" r="3.4" fill="url(#gd)"/><circle cx="1537.8" cy="832.1" r="3.6" fill="url(#gd)"/><circle cx="1610.4" cy="812.0" r="3.0" fill="url(#gd)"/><circle cx="1555.5" cy="861.7" r="2.7" fill="url(#gd)"/><circle cx="1495.3" cy="874.0" r="3.6" fill="url(#gd)"/><circle cx="1482.4" cy="824.2" r="3.6" fill="url(#gd)"/><circle cx="1592.3" cy="884.9" r="2.1" fill="url(#gd)"/><circle cx="1581.8" cy="929.0" r="4.0" fill="url(#gd)"/><circle cx="1578.6" cy="798.8" r="3.7" fill="url(#gd)"/><circle cx="1505.3" cy="882.4" r="3.9" fill="url(#gd)"/><circle cx="1580.3" cy="810.8" r="2.6" fill="url(#gd)"/><circle cx="1611.5" cy="813.0" r="3.2" fill="url(#gd)"/><circle cx="1534.9" cy="814.6" r="3.2" fill="url(#gd)"/><circle cx="1478.6" cy="807.2" r="2.8" fill="url(#gd)"/><circle cx="1482.9" cy="800.1" r="3.2" fill="url(#gd)"/><circle cx="1584.8" cy="915.0" r="2.3" fill="url(#gd)"/><circle cx="1537.6" cy="836.0" r="3.2" fill="url(#gd)"/><circle cx="1546.4" cy="923.4" r="2.7" fill="url(#gd)"/><circle cx="1480.5" cy="889.6" r="2.3" fill="url(#gd)"/><circle cx="1568.0" cy="862.8" r="3.8" fill="url(#gd)"/><circle cx="1556.3" cy="878.9" r="2.5" fill="url(#gd)"/><circle cx="1555.9" cy="827.6" r="3.5" fill="url(#gd)"/><circle cx="1550.6" cy="810.7" r="2.5" fill="url(#gd)"/><circle cx="1528.4" cy="895.1" r="2.4" fill="url(#gd)"/><circle cx="1580.4" cy="883.7" r="2.2" fill="url(#gd)"/><circle cx="1573.5" cy="804.8" r="2.2" fill="url(#gd)"/><circle cx="1562.3" cy="825.4" r="3.8" fill="url(#gd)"/><circle cx="1545.0" cy="837.3" r="3.6" fill="url(#gd)"/><circle cx="1476.5" cy="893.5" r="2.1" fill="url(#gd)"/><circle cx="1494.9" cy="925.3" r="3.4" fill="url(#gd)"/><circle cx="1505.9" cy="808.3" r="3.9" fill="url(#gd)"/><circle cx="1573.1" cy="906.9" r="2.3" fill="url(#gd)"/><circle cx="1735.0" cy="841.6" r="2.4" fill="url(#gd)"/><circle cx="1690.7" cy="877.9" r="2.5" fill="url(#gd)"/><circle cx="1698.6" cy="811.1" r="3.2" fill="url(#gd)"/><circle cx="1738.5" cy="904.6" r="2.7" fill="url(#gd)"/><circle cx="1769.4" cy="864.4" r="2.9" fill="url(#gd)"/><circle cx="1727.1" cy="895.6" r="2.6" fill="url(#gd)"/><circle cx="1654.7" cy="796.6" r="2.3" fill="url(#gd)"/><circle cx="1646.0" cy="916.5" r="2.7" fill="url(#gd)"/><circle cx="1755.6" cy="792.1" r="2.7" fill="url(#gd)"/><circle cx="1775.2" cy="878.7" r="2.6" fill="url(#gd)"/><circle cx="1710.8" cy="806.0" r="2.2" fill="url(#gd)"/><circle cx="1664.2" cy="844.4" r="2.6" fill="url(#gd)"/></g>
<path d="M1883 762.5H1893.7V918.6M1883 802H1893.7M1883 839.8H1893.7M1883 878.8H1893.7M1883 917.8H1893.7M1883 918.6H2055.6M1939.3 918.6V926.6M2007.8 918.6V926.6" stroke="#1a1a1a" stroke-width="4" fill="none"/>
<path d="M1921.6 918.6V786.4H1957.9V918.6" stroke="#4a8088" stroke-width="4" fill="none"/>
<path d="M1939.3 773V795.2M1928.4 773H1950.6M1928.4 795.2H1950.6" stroke="#4a8088" stroke-width="3.6" fill="none"/>
<path d="M1988.9 918.6V902.2H2027.2V918.6" stroke="#e0442e" stroke-width="4" fill="none"/>
<path d="M2007.8 892.6V904M1997.7 892.6H2017.8M1997.7 904H2017.8" stroke="#e0442e" stroke-width="3.6" fill="none"/>
<circle cx="1924.7" cy="783.1" r="5.4" fill="#111"/>
<circle cx="1939.8" cy="769.3" r="5.4" fill="#111"/>
<circle cx="1939.8" cy="788.6" r="5.4" fill="#111"/>
<circle cx="1954.1" cy="794.4" r="5.4" fill="#111"/>
<circle cx="1991.9" cy="890.6" r="4.8" fill="#111"/>
<circle cx="2001.5" cy="898.2" r="4.8" fill="#111"/>
<circle cx="2012.8" cy="899.0" r="4.8" fill="#111"/>
<circle cx="2022.9" cy="903.5" r="4.8" fill="#111"/>
<path d="M1939.8 747.8V735.3H2007.8V870.7" stroke="#000" stroke-width="3.8" fill="none"/>
<text x="1954.9" y="737.2" font-size="28.50" font-weight="bold" fill="#000" textLength="38.5" lengthAdjust="spacingAndGlyphs">***</text>
<text x="1837.8" y="769.3" font-size="22.53" font-weight="bold" fill="#000" textLength="43.2" lengthAdjust="spacingAndGlyphs" stroke="#000" stroke-width="0.6">100</text>
<text x="1846.6" y="810.8" font-size="22.53" font-weight="bold" fill="#000" textLength="34.4" lengthAdjust="spacingAndGlyphs" stroke="#000" stroke-width="0.6">70</text>
<text x="1846.6" y="848.6" font-size="22.53" font-weight="bold" fill="#000" textLength="34.4" lengthAdjust="spacingAndGlyphs" stroke="#000" stroke-width="0.6">50</text>
<text x="1846.6" y="886.3" font-size="22.53" font-weight="bold" fill="#000" textLength="34.4" lengthAdjust="spacingAndGlyphs" stroke="#000" stroke-width="0.6">25</text>
<text x="1851.6" y="924.1" font-size="22.53" font-weight="bold" fill="#000" textLength="16.4" lengthAdjust="spacingAndGlyphs" stroke="#000" stroke-width="0.6">0</text>
<text transform="translate(1834 945.5) rotate(-90)" font-size="21.5" font-weight="bold" fill="#000" textLength="221.6" lengthAdjust="spacingAndGlyphs">TUNEL positive cells</text>
<text x="1895.2" y="959.4" font-size="21.80" font-weight="bold" fill="#000" textLength="68.5" lengthAdjust="spacingAndGlyphs">Vector</text>
<text x="1997.7" y="948.0" font-size="21.80" font-weight="bold" fill="#000" textLength="30.2" lengthAdjust="spacingAndGlyphs">OE</text>
<text x="1981.8" y="965.7" font-size="20.35" font-weight="bold" fill="#000" textLength="62.5" lengthAdjust="spacingAndGlyphs">PD-L2</text>
</svg></body></html>
